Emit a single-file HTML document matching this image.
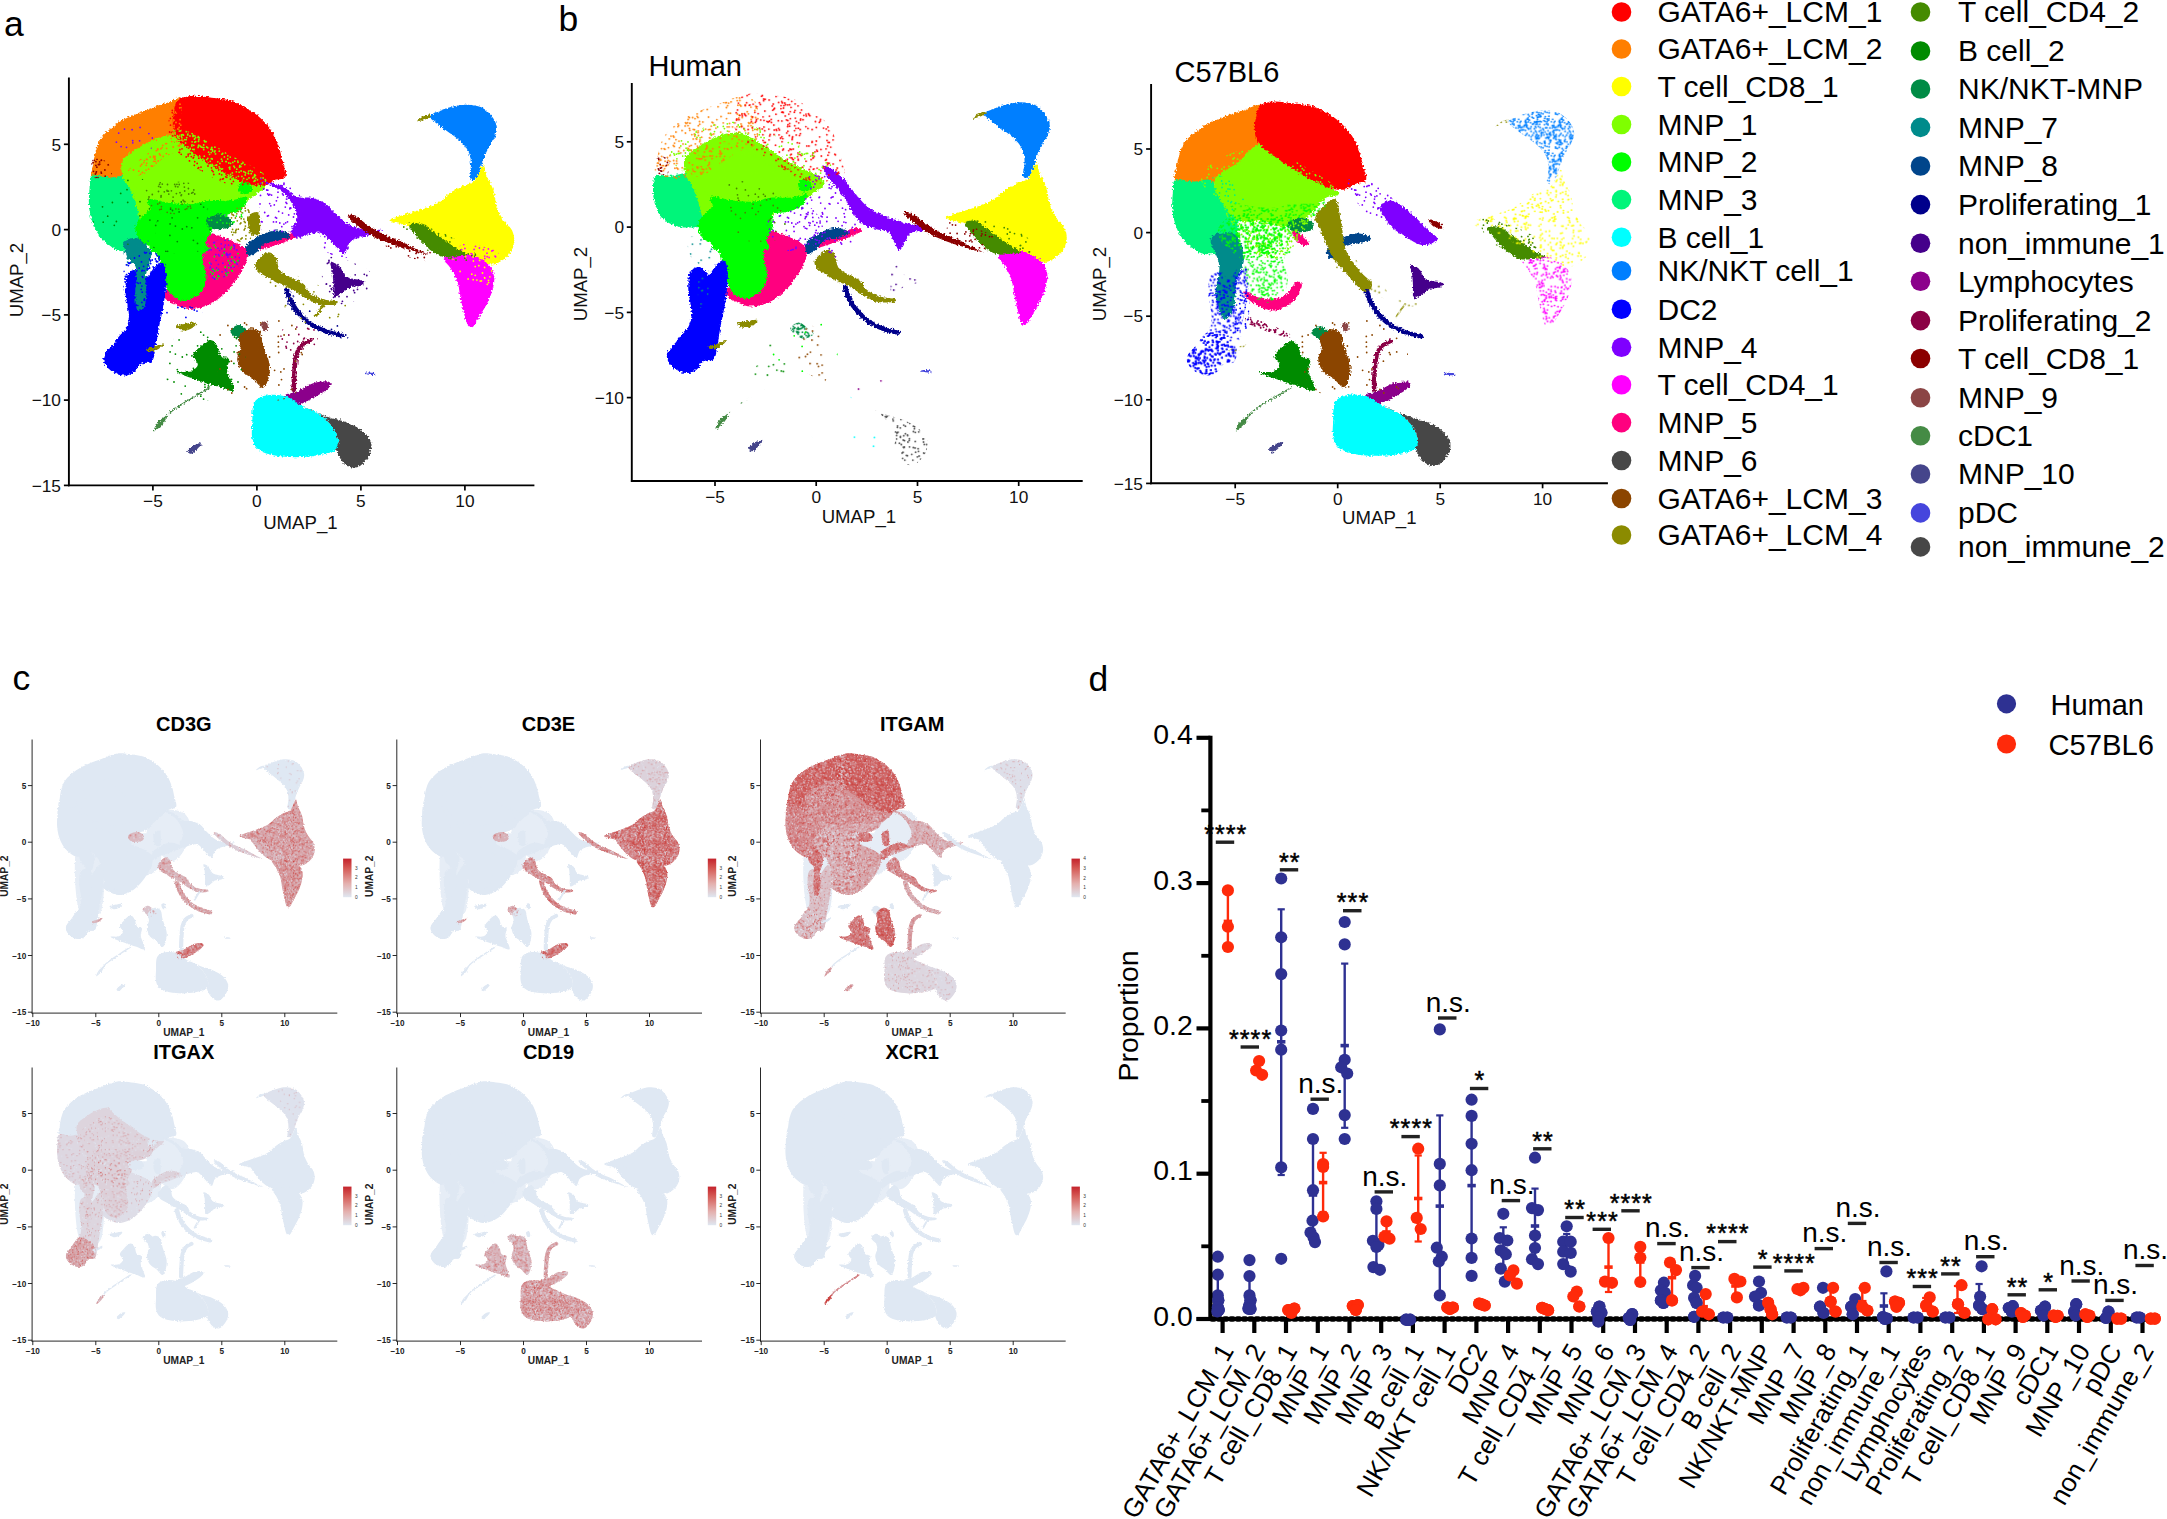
<!DOCTYPE html>
<html><head><meta charset="utf-8"><title>Figure</title>
<style>html,body{margin:0;padding:0;background:#fff}svg{display:block}text{font-family:"Liberation Sans", Arial, Helvetica, sans-serif}</style>
</head><body>
<svg width="2167" height="1519" viewBox="0 0 2167 1519">
<rect width="2167" height="1519" fill="#fff"/>
<defs>
<filter id="rough" x="-2%" y="-2%" width="104%" height="104%"><feTurbulence type="fractalNoise" baseFrequency="0.55" numOctaves="1" seed="3" result="n"/><feDisplacementMap in="SourceGraphic" in2="n" scale="5" xChannelSelector="R" yChannelSelector="G"/></filter>
<filter id="roughc" x="-2%" y="-2%" width="104%" height="104%"><feTurbulence type="fractalNoise" baseFrequency="0.7" numOctaves="1" seed="5" result="n"/><feDisplacementMap in="SourceGraphic" in2="n" scale="3" xChannelSelector="R" yChannelSelector="G"/><feGaussianBlur stdDeviation="0.55"/></filter>
<pattern id="p0" width="44" height="44" patternUnits="userSpaceOnUse"><path d="M10.3 20.5h0M25.6 40.9h0M42.3 40.4h0M19.8 33.7h0M1.6 11.1h0M17.8 29.1h0M38 8.2h0M23.8 39.7h0M6.6 8.6h0M9.3 15.3h0M36.4 17.6h0M23.4 23.9h0M11.9 14.8h0M22.4 14h0M23.7 2.4h0M0 36.4h0M38.9 15.2h0M22.5 9.4h0M28.6 39.1h0M10.5 42.3h0M3 4.6h0M5.4 4.4h0M39.5 21.9h0M35.6 15.9h0M1.5 27.2h0M4.6 42.8h0M27 26.9h0M30.4 32.1h0M22 26.7h0M32.9 1.6h0M43.9 31.4h0M23.2 5.8h0M43.3 41.5h0M0.3 39.9h0M1.3 3.7h0M24.8 32.6h0M9.6 11h0M3.1 6.6h0M6 5.8h0M9.9 35.1h0M30.7 27.6h0M29 9.4h0M16.1 9.8h0M3.3 43.1h0M43.6 36.7h0M43.3 19.2h0M43.1 34.8h0M28.3 8.7h0M17 3.4h0M32.2 39.4h0M35.4 43.6h0M32.8 2h0M40.8 40.2h0M40.5 33.3h0M6.3 29.7h0M29 1.9h0M41.2 38.9h0M34.9 4.3h0M5.6 20.9h0M19.7 9.7h0M27.9 15.6h0M6.9 2.6h0M31.8 26.3h0M36.6 19h0M5.5 2.8h0M18.8 10.2h0M4.4 24.9h0M21.5 31.9h0M40.9 2.1h0M17.2 3.4h0M34.8 42.6h0M31.2 41.7h0M4.4 15.2h0M28.3 24.2h0M1.1 10.3h0M27.7 17.7h0M18.4 0.3h0M2.7 21.5h0M28.2 41.2h0M35.3 26.7h0M37.4 3.8h0M12.3 40.9h0M12.5 43.6h0M17.4 25.1h0M35.2 20.6h0M5.9 29.6h0M25.3 15.2h0M5.4 2.9h0M8.2 15.7h0M21.8 27.5h0M10.6 31.3h0M40.7 32.9h0M11.9 2.1h0M2.5 36.8h0M18.5 7.2h0M21.1 39h0M3.5 12h0M16 12.8h0M41.2 12.4h0M20.9 34.6h0M34.2 0.8h0M18.6 7h0M27.7 13h0M35.8 2.3h0M43.2 16.4h0M0.2 12.1h0M38.5 19.9h0M34.2 29.3h0M34.5 35.3h0M10.3 43.7h0M16.4 39.8h0M42.3 6.9h0M7.8 23.8h0M23.1 29.1h0M22 5.4h0M36.2 27h0M14.1 17.3h0M31.8 15.8h0M18.9 3.9h0M0.9 11.7h0M15.8 13.9h0M7.4 3.2h0M27 3.3h0M28.6 41.7h0M16.7 17.3h0M12.8 30.4h0M41.8 29.8h0M26.6 15.3h0M37 10.7h0M7.7 27h0M8.8 31h0M1.9 22.2h0M14.7 29.2h0M1.5 37.2h0M36.8 33.3h0M14 4h0M28.9 9.8h0M1.7 5.5h0M18.2 23.2h0M39.3 33.4h0M25.1 40.3h0M22.9 31h0M8.6 7.7h0M15.2 26.1h0M18 30.3h0M25.2 43h0M15.9 26.1h0M22.9 7.7h0M41.4 38.8h0M2.8 41.1h0M32.9 33.1h0M17.8 13.3h0M7 14.1h0M34.9 17.4h0M39.5 35.4h0M19.5 35.1h0M36.1 32.5h0M17 4.4h0M43.1 2h0M10.7 5.6h0M10.2 25.1h0M30.4 38.6h0M2.2 29.2h0M33.6 22.3h0M30.1 9.7h0M30.7 15h0M34 5.3h0M30.4 32.6h0M22.4 4.5h0M23.5 29.5h0M35.9 15.4h0M11.7 2.9h0M30 32.1h0M16.1 1.5h0M22.1 15.4h0M35.1 4.7h0M32.6 20.2h0M34.6 43.3h0M18.1 17.5h0M9.9 37h0M14.2 16.5h0M7.7 12.8h0M19.6 5.7h0M39 18.9h0M10.2 7.7h0M19.1 40.2h0M14.6 35.5h0M5.4 8.1h0M16.8 37.2h0M9.2 35.6h0M13.9 34.2h0M21.9 0.4h0M22.8 13.2h0M24.4 14.2h0M44 36.4h0M-0.1 31.4h0M-0.7 41.5h0M44.3 39.9h0M-0.4 36.7h0M-0.7 19.2h0M-0.9 34.8h0M35.4 -0.4h0M18.4 44.3h0M12.5 -0.4h0M34.2 44.8h0M-0.8 16.4h0M44.2 12.1h0M10.3 -0.3h0M34.6 -0.7h0M21.9 44.4h0" stroke="#7FFF00" stroke-width="1.8" stroke-linecap="round" fill="none"/></pattern>
<pattern id="p1" width="63" height="63" patternUnits="userSpaceOnUse"><path d="M25.3 3.6h0M61.8 13.4h0M9.8 32.2h0M46.2 24.1h0M53 30.4h0M52.2 1.3h0M34.4 52.7h0M16.3 9.3h0M36.7 50.8h0M4.2 8.2h0M0.5 7.5h0M3.3 58.4h0M0.5 34.9h0M25 37.6h0M15.4 32.3h0M30.7 55.3h0M55.4 7.7h0M39.6 25.6h0M11 8.2h0M5.9 48.8h0M53.8 58.5h0M17.5 11.2h0M46.5 9.9h0M17.5 29.8h0M50.8 55.2h0M36.1 14.5h0M42 36.7h0M35.5 27.7h0M24.5 16.5h0M40 2.5h0M56.1 2.7h0M10.8 16.4h0M20.3 1.2h0M62.2 28.2h0M27.5 28.9h0M62 1h0M10.9 44.5h0M38.3 8.5h0M42.7 43.5h0M34.7 21h0M23 52h0M49.3 45.1h0M2 50.1h0M26.4 40.6h0M29.7 59.6h0M39 39.2h0M36.8 11.9h0M41.4 53.1h0M2.2 60.4h0M17.6 5.9h0M38.7 39.5h0M16.5 31h0M41.5 32.1h0M37.8 51.3h0M4.6 31.3h0M26.8 41.8h0M41.8 43.9h0M9.7 41.6h0M38.9 45.8h0M15.1 15.2h0M17.9 29.5h0M35.6 7.9h0M62.2 29.9h0M22.4 8h0M24.3 3.4h0M59.3 53.2h0M18.1 3.9h0M31.1 25.1h0M52 31h0M5.7 35.7h0M9.1 0.6h0M35.7 56.8h0M55.2 28.3h0M53.6 10.8h0M8.2 37.4h0M32.3 25h0M4.2 15.2h0M15.7 24.5h0M15.7 26.4h0M19.6 37.7h0M40.8 38.9h0M24.7 10.2h0M20.7 37h0M61.7 5.1h0M12 48h0M43.5 6h0M22.5 41.8h0M52.6 30h0M58.8 57.7h0M21 58.9h0M53 26.3h0M17.9 0.4h0M13.3 17.9h0M34.7 22.6h0M8.3 4h0M14.4 9.4h0M12 41.1h0M41.2 15.6h0M29.3 2.8h0M17.8 36.4h0M13.2 47.9h0M40.9 10h0M32.8 24.2h0M8 52.4h0M58.5 1.9h0M8.9 6.2h0M48.4 10.1h0M45.4 6.4h0M5.3 39.3h0M57.3 55.5h0M39.6 15h0M19 40h0M37.1 38.6h0M3.7 60.1h0M40 6.2h0M30.4 47.9h0M14.3 2.8h0M0.2 54.3h0M14.1 3h0M12.8 52.6h0M60.3 42.3h0M38.6 1.9h0M8.3 18.1h0M45.5 30.9h0M51.1 49.2h0M30.7 24.5h0M28.8 33.4h0M31.2 60.2h0M18.1 36.1h0M8.4 18.3h0M19.2 30.2h0M53.5 26.5h0M16.5 27.3h0M53.9 23.7h0M37.9 10.3h0M20.6 25.1h0M19.5 56.2h0M32.7 48.8h0M33.5 53.1h0M58.7 41h0M53.7 47.2h0M29.3 25.8h0M35.3 26.1h0M51.8 4.2h0M32.5 14.3h0M39.3 42.7h0M42.9 29.8h0M58.1 7h0M2.3 30.6h0M62.5 56.9h0M4.2 32h0M18.2 28.1h0M23 44.4h0M12.5 52.4h0M35.9 40.3h0M27.6 11.4h0M1.1 27.7h0M28.6 29.9h0M24.1 45.7h0M44.4 55.4h0M15.2 32.1h0M42.5 18.9h0M1.9 24.8h0M12.3 48.7h0M34.8 7.9h0M46.3 47.4h0M31.4 53.4h0M14.4 51.3h0M60.2 30.9h0M25.7 8.1h0M31.8 40.7h0M44.5 62.2h0M25.7 56.6h0M38.1 49.3h0M39.5 37.3h0M42.7 57.7h0M47.5 16.2h0M24.8 48.5h0M26.8 60.4h0M55 41.6h0M15.4 61.7h0M22.4 10.9h0M46.2 49.6h0M34.3 58.3h0M31.8 19.1h0M9.8 15.1h0M25.1 35h0M9.3 29.7h0M33.6 0.4h0M62.8 13.6h0M43.4 14.9h0M8.9 42.5h0M61.5 16.5h0M13.2 44.8h0M56 22.8h0M10.6 4.7h0M5.3 29.3h0M25.6 37.9h0M63.5 7.5h0M63.5 34.9h0M-0.8 28.2h0M-0.8 29.9h0M9.1 63.6h0M17.9 63.4h0M63.2 54.3h0M-0.5 56.9h0M44.5 -0.8h0M33.6 63.4h0M-0.2 13.6h0" stroke="#FF0000" stroke-width="1.8" stroke-linecap="round" fill="none"/></pattern>
<pattern id="p2" width="53" height="53" patternUnits="userSpaceOnUse"><path d="M24.2 45.6h0M37.5 32.8h0M30.5 22.2h0M0.7 23.3h0M40.7 41.3h0M47.7 2.3h0M20.9 3.9h0M9.8 3.7h0M27.8 35.2h0M3.4 3.5h0M0.3 3.6h0M35.7 5.4h0M51.8 43.8h0M0.4 19h0M35.1 42.9h0M35.5 21h0M44.2 51h0M39.9 28.1h0M36 18.9h0M29.3 44.9h0M45.3 36.9h0M11.9 7.4h0M47.1 22.9h0M30.3 0.4h0M19.3 39.7h0M40.7 4.2h0M0.1 28.4h0M33.5 0.7h0M22.2 7.3h0M14.3 18.6h0M5.1 33.8h0M42.6 10.1h0M3.1 41.6h0M10.4 14.8h0M1.9 42.8h0M20.6 16.8h0M47.6 50.2h0M23.1 17h0M49.1 50.3h0M16.4 30.6h0M42 31.3h0M48.6 0.1h0M43 18.1h0M51.6 23.1h0M33.1 40.2h0M34.4 45.8h0M30.7 47.7h0M37 35.9h0M21.4 24.5h0M1.3 49.2h0M41.8 35.2h0M35.2 42.5h0M10 30.8h0M48.9 51.8h0M22.3 38.3h0M5.3 24.1h0M23.7 9.2h0M47.5 51.3h0M7.6 37.6h0M6.1 12.5h0M2.8 0.6h0M19 21.2h0M30.4 41.5h0M2 21.5h0M45.4 7h0M49.8 39.6h0M3 0.8h0M33.4 41.8h0M16.3 4.6h0M35.9 5.3h0M46.6 16.5h0M27.1 51.8h0M11.6 16.6h0M27.5 11h0M7.4 47.6h0M44.6 42.9h0M14.2 47.9h0M1.6 1.7h0M27.2 29.1h0M37.7 42.9h0M52.1 2h0M36.9 19.8h0M17.2 29.5h0M44 28.8h0M50.9 33.4h0M48.2 27h0M0.9 19.4h0M20.9 38.2h0M46 24.6h0M24.2 32.6h0M39.2 37.3h0M7.7 8h0M36.3 13.7h0M21.2 52.6h0M2.9 6.8h0M13.2 8h0M42 47.5h0M42.7 35.4h0M5 0.1h0M30.5 35.7h0M32.5 41.8h0M26.3 29.2h0M48.4 7.1h0M3 9.6h0M33.1 45.9h0M7.1 11.8h0M7.6 42.4h0M17.7 35.4h0M16.7 16.5h0M19.1 15.1h0M6.9 18.3h0M36.3 31h0M51.3 37.5h0M36.5 18.4h0M33.5 17h0M20.5 39.9h0M51.7 13.4h0M21.3 28.3h0M23.5 34.5h0M29.4 48.7h0M50.4 4.2h0M28.7 46.6h0M51.3 5.8h0M13.5 50.7h0M3.9 7.5h0M52.1 43.1h0M10.8 28.9h0M1 34h0M38.2 46.6h0M9 10.2h0M43.9 33.6h0M12.3 15.4h0M35.7 35.2h0M49.9 6.7h0M4.1 22.4h0M46.4 17.3h0M8.9 12.2h0M40.1 11.1h0M36.5 13.5h0M20.4 16.8h0M12.2 32.3h0M7 5.3h0M5.8 25.5h0M25.4 43.6h0M6.4 37.6h0M50.3 14h0M23.9 30.3h0M41.1 0.5h0M46.4 7.2h0M0.4 17.8h0M40 34.4h0M32.4 17.4h0M31.9 43.2h0M39.5 20.3h0M31.3 29.2h0M15 18h0M12.7 35.6h0M4.2 50.4h0M9.9 48.8h0M37.8 3.6h0M0.8 5.3h0M23.9 34.9h0M34.7 0.3h0M22.6 11h0M16.3 14.7h0M45.5 22.5h0M49.2 2.4h0M50.3 44.7h0M21.3 1.8h0M41.2 17.3h0M51 25.8h0M14.2 41h0M34.5 15.4h0M15.8 18.8h0M51.6 43h0M49.1 0.2h0M30.9 21.8h0M16.3 16.9h0M32.5 38h0M48.5 14.1h0M20.7 52.1h0M3.7 39.4h0M48.8 0.1h0M34.5 6.9h0M40.5 0.1h0M34.9 44h0M40.2 6.3h0M32.8 12.2h0M33.9 40.6h0M38.6 45.1h0M5.4 28.7h0M0.5 47.9h0M51.4 26.1h0M9.9 10.6h0M38.4 1.6h0M38.7 14.3h0M43.1 34.7h0M53.7 23.3h0M53.3 3.6h0M53.4 19h0M30.3 53.4h0M53.1 28.4h0M33.5 53.7h0M48.6 53.1h0M2.8 53.6h0M3 53.8h0M21.2 -0.4h0M5 53.1h0M-0.9 43.1h0M41.1 53.5h0M53.4 17.8h0M53.8 5.3h0M34.7 53.3h0M49.1 53.2h0M20.7 -0.9h0M48.8 53.1h0M40.5 53.1h0M53.5 47.9h0" stroke="#FF7F00" stroke-width="1.8" stroke-linecap="round" fill="none"/></pattern>
<pattern id="p3" width="57" height="57" patternUnits="userSpaceOnUse"><path d="M29.1 29.3h0M39.4 45.6h0M52.3 56.6h0M38.6 35.8h0M48.3 14.3h0M25.6 40.3h0M15.2 18.5h0M3.3 48.8h0M34.1 17.3h0M34.9 53.3h0M1.6 38h0M1.5 25.6h0M16 36.5h0M29.6 7.4h0M51.3 31.6h0M36.9 16.9h0M42.5 48.1h0M29.9 2.2h0M7.5 53.4h0M53.6 15h0M21.4 36.4h0M18.2 13.4h0M17.4 51.2h0M28.3 17.2h0M15.6 39.9h0M25.4 33.2h0M37.1 40.9h0M0.4 2.7h0M30.6 44.1h0M51.6 50.5h0M36.8 45h0M34 11.7h0M51 29.7h0M25.6 18.5h0M5.1 30.3h0M22.8 48.8h0M46.6 5.4h0M40.7 22.1h0M54.5 52h0M32.9 29.5h0M16.6 24.4h0M32.6 3.5h0M42 9.8h0M16.5 3.4h0M49.8 16.6h0M4 18.3h0M49.2 32.9h0M27.5 50h0M25.3 39.7h0M46.1 2.8h0M17.3 5.9h0M23.5 34.2h0M4.2 37.5h0M0.7 45.9h0M18 17.9h0M28.1 50.2h0M21.9 11.7h0M49 45.8h0M2.9 16.7h0M2 40.9h0M33.6 14.7h0M26 27.2h0M37.5 46.8h0M14.3 13.2h0M4.2 55.8h0M40.1 29.9h0M19.7 28.8h0M21 38.6h0M13.6 51.6h0M35.5 38.3h0M0.7 29.6h0M14.6 1.1h0M54.4 42.4h0M36.6 7.8h0M30 19.7h0M33.2 9.5h0M42.9 50.8h0M18 11.1h0M35.5 2.8h0M17.7 30.1h0M19.3 40.2h0M11.9 53.8h0M17.3 10.6h0M20 54.9h0M43.4 40.1h0M13.3 33.7h0M37.6 26.7h0M15.7 39.5h0M37.8 22h0M11.8 45.2h0M7.3 24.4h0M17.3 0.1h0M19.6 51.6h0M0.7 22.2h0M41.3 45.8h0M45.2 15.2h0M48.2 4.5h0M0.5 45.1h0M52.3 50.2h0M1.3 5.5h0M53.7 23.8h0M50.5 43.3h0M34.4 30.7h0M44 15.5h0M14.1 15.8h0M48.8 3.6h0M30 46.4h0M21.8 18.5h0M10.1 9.4h0M33.1 23.1h0M36 50.9h0M54.9 7.3h0M34.6 51.9h0M0.9 9h0M25.2 28.2h0M12.9 56.7h0M40.3 11.2h0M0.4 13h0M37.4 17.2h0M17.4 27.4h0M18 42.5h0M24.1 31.2h0M42.2 5.6h0M14.3 23.4h0M38.5 45h0M20.5 4h0M32.2 46.7h0M44.9 26.3h0M32.1 52.1h0M15.7 0.5h0M5.3 30.2h0M19.7 38.2h0M28.7 38.7h0M45.8 15.9h0M36.9 39.6h0M29.1 13.9h0M32.5 3.1h0M42 17.5h0M0.3 8.8h0M44.9 50.7h0M31.2 28.3h0M31.9 0.6h0M20 26.6h0M19.1 32.9h0M38.2 19.5h0M0.6 45.1h0M13 3.4h0M47.6 54.7h0M43.4 41.1h0M23.1 55h0M31.8 22.3h0M20 2.4h0M0.5 18.6h0M20.1 52.9h0M10.6 14.1h0M51.9 46.4h0M12.4 14.6h0M45.6 43.2h0M34.2 3.4h0M48.9 4.4h0M4 27.1h0M7.5 51.9h0M32.2 0.7h0M22.6 41.8h0M12.7 23.7h0M47.8 49.6h0M26.5 28.3h0M39.7 33.7h0M20.9 1.4h0M17.3 3.4h0M3.8 4.7h0M34.8 7.6h0M6.7 43.9h0M52.3 53.8h0M46 17.9h0M24.1 19.7h0M6.7 38.8h0M44.7 52.6h0M50.8 48.4h0M24.7 7.3h0M29.9 28.2h0M51.7 37.3h0M3.6 0.6h0M19.9 30.3h0M1.1 10.3h0M46.3 55.2h0M32.2 44.1h0M18.5 37.3h0M15.7 19.1h0M32.8 10.6h0M22.7 31.1h0M23.8 41.9h0M24.5 9.2h0M41.8 16.7h0M36.9 15.4h0M52.3 -0.4h0M57.4 2.7h0M57.7 45.9h0M57.7 29.6h0M17.3 57.1h0M57.7 22.2h0M57.5 45.1h0M57.9 9h0M12.9 -0.3h0M57.4 13h0M15.7 57.5h0M57.3 8.8h0M31.9 57.6h0M57.6 45.1h0M57.5 18.6h0M32.2 57.7h0M3.6 57.6h0" stroke="#7FFF00" stroke-width="1.8" stroke-linecap="round" fill="none"/></pattern>
<pattern id="p4" width="50" height="50" patternUnits="userSpaceOnUse"><path d="M1.1 4.3h0M32.4 38.5h0M45.9 40.9h0M7.9 25.7h0M45.7 14.2h0M2.6 25.4h0M22.7 44.4h0M25.3 12.1h0M39.7 46.2h0M25.4 44.2h0M19 39.2h0M29.7 7.8h0M16.5 17.5h0M10.7 41.2h0M30.1 19.7h0M32.4 31.1h0M4.3 18.3h0M33.8 12.9h0M5.2 43.9h0M24 20.2h0M49.5 30.2h0M3.2 0.6h0M3.1 35h0M33.7 32.3h0M22.9 21.4h0M22.5 8.3h0M22.2 44.9h0M16 44h0M17.4 13.7h0M7.1 28.2h0M15.3 43.6h0M27.8 44.2h0M14.7 11.8h0M4.9 46.8h0M24 27.5h0M18.4 9.3h0M24 0.6h0M49.5 37.4h0M10.2 2.8h0M41.2 25.1h0M42.8 37.5h0M25.6 46.9h0M39.3 10.2h0M45.4 4.5h0M35.9 2.9h0M34.2 39.7h0M14.6 11.1h0M45.1 34.6h0M29.9 42.6h0M12.4 31.4h0M31.7 30.3h0M29.5 38.8h0M18.5 12.9h0M42.3 23.2h0M35.5 33.5h0M2.5 8.1h0M12 18.4h0M3.2 38.5h0M1.8 26.9h0M39.3 8.3h0M36.1 21h0M33.1 18.6h0M37 26.9h0M0.8 13h0M5.4 48h0M14 6.3h0M19.9 0.2h0M21.8 27.4h0M33.2 21.7h0M14.4 38.4h0M40.3 15.1h0M19.4 47.3h0M15.8 0.8h0M43.6 14.2h0M31.3 7.6h0M19.3 42.8h0M49.7 46.9h0M44 4.6h0M13.9 38.2h0M47.2 41.2h0M10 34.8h0M37.3 32.7h0M5.3 35.7h0M5.7 5h0M3 10.5h0M42.7 27.8h0M33.6 43.9h0M15 40.1h0M33.6 32.3h0M7.9 10.2h0M32.6 30.8h0M21.1 38.8h0M29.5 35.3h0M49.6 27.6h0M16.2 31.7h0M49.5 47.9h0M0.9 44.3h0M3.1 30.4h0M49.8 47.4h0M47.7 26.9h0M12.5 5.3h0M5.8 39.6h0M12.7 39.6h0M1.7 37.8h0M24.9 37h0M45.8 0.5h0M34.5 25.5h0M8.1 29.4h0M18.2 19.2h0M7.5 24.7h0M43.1 47.3h0M32.2 44.5h0M29.2 27.4h0M23.8 2.7h0M19 15.8h0M29.5 23.6h0M49.6 47.4h0M22.9 16.1h0M8.6 28.7h0M41.9 38h0M17.3 32.8h0M14 39.1h0M7.5 12.6h0M17.3 6.7h0M9.2 49.4h0M40.8 48.2h0M3.8 21.5h0M45.3 36h0M38 7.1h0M40.6 4.1h0M32.2 10.1h0M13 17.5h0M35.3 31.4h0M12.9 11h0M7.4 25.3h0M40.8 30h0M8.7 30.7h0M19.1 15.8h0M7.1 25.2h0M16.7 0.7h0M6.6 9.8h0M26 22.5h0M18.8 24.6h0M18.8 2.6h0M45.4 42h0M35.2 2.9h0M22.6 21.3h0M40.7 26.7h0M2 8.5h0M30.9 25.2h0M49.3 0.9h0M1.8 27.9h0M45.9 14.4h0M24.2 33h0M32.7 13.3h0M19.9 47.5h0M1.5 21.3h0M17.8 9.8h0M40.4 23.1h0M16.7 20.2h0M29.4 47.6h0M18.6 7.4h0M35.8 21.3h0M26.2 46.2h0M39.3 9.7h0M33.8 40.7h0M12.7 32.6h0M45.6 24.1h0M7.1 2h0M48 25.1h0M18.9 19.5h0M26.3 12.9h0M27.6 49.8h0M21.2 6.6h0M2.6 46.2h0M18.2 33.9h0M7.5 45h0M17.9 0.9h0M49.2 33.7h0M30 4.2h0M20.7 14.2h0M42.9 6.7h0M7.9 39.5h0M27.9 29h0M32.4 38h0M4.4 42.1h0M17.3 42.7h0M5.5 39.4h0M24.1 25.5h0M0 27.6h0M47.3 29.5h0M21.9 22.7h0M17.8 15.5h0M17.5 8.1h0M15.8 0.7h0M21.1 11.7h0M20.5 9h0M4.8 32.1h0M12.9 1.8h0M2.8 21.7h0M-0.5 30.2h0M3.2 50.6h0M24 50.6h0M-0.5 37.4h0M50.8 13h0M19.9 50.2h0M15.8 50.8h0M-0.3 46.9h0M-0.4 27.6h0M-0.5 47.9h0M50.9 44.3h0M-0.2 47.4h0M45.8 50.5h0M-0.4 47.4h0M9.2 -0.6h0M16.7 50.7h0M-0.7 0.9h0M-0.7 50.9h0M49.3 50.9h0M27.6 -0.2h0M-0.8 33.7h0M50 27.6h0M15.8 50.7h0" stroke="#FF7F00" stroke-width="1.8" stroke-linecap="round" fill="none"/></pattern>
<pattern id="p5" width="64" height="64" patternUnits="userSpaceOnUse"><path d="M52.4 14.2h0M47.9 48.7h0M57.1 18.6h0M62.5 19.3h0M23.6 20.4h0M4.8 14.8h0M36.5 60h0M12.1 63.5h0M45.9 32.9h0M9.6 49.2h0M24.4 10h0M13.6 48.3h0M4.1 1.7h0M0.2 50.2h0M29.8 19.1h0M11.6 12.8h0M38.4 38.9h0M2.2 41h0M48.9 32.5h0M60.5 1.1h0M10.4 58.1h0M4.7 12.7h0M44.3 52h0M37.5 16.2h0M63.4 44.9h0M2.5 37h0M43.2 47.6h0M11.9 49h0M32.7 52.6h0M38.3 48h0M5.5 40.7h0M54.7 5.1h0M20.9 5.6h0M12.1 -0.5h0M64.2 50.2h0M-0.6 44.9h0" stroke="#7F00FF" stroke-width="1.8" stroke-linecap="round" fill="none"/></pattern>
<pattern id="p6" width="57" height="57" patternUnits="userSpaceOnUse"><path d="M33.9 23.7h0M46.4 18.6h0M11 25.7h0M28 50.9h0M3.9 12.8h0M20.1 32.6h0M5.3 6.5h0M55 30.6h0M37.3 15.8h0M20.5 32.4h0M42.9 31.7h0M34 22.9h0M17.3 8.2h0M11.3 43.2h0M11 51.4h0M46 26.6h0M38.1 26.7h0M57 7h0M26.3 11.4h0M8.2 26.1h0M55.8 21.2h0M44.2 31.7h0M26.7 56.7h0M46.1 8.6h0M48.9 16h0M6.6 25.9h0M39.2 6.7h0M32.4 21.5h0M42.7 50.2h0M52.2 8.1h0M5.1 44.4h0M36.1 48.7h0M54.6 35.5h0M20.7 45.3h0M45 32.5h0M3.8 43.4h0M38.9 47.7h0M21.2 33.6h0M52.5 35.2h0M35.9 34.9h0M44.5 17.5h0M21.7 3.2h0M51.8 50.5h0M27.5 35h0M33.7 35.2h0M54.6 5.3h0M38.4 3h0M55.3 4.4h0M34.5 49.8h0M6.6 25.3h0M56.5 16.4h0M56.4 46.7h0M8.3 9.5h0M44.1 1.1h0M54.8 43.4h0M43.3 32.8h0M39.1 1.8h0M0.3 15h0M1.7 32.7h0M31.2 51.2h0M22.7 35.5h0M14.7 33.4h0M10.7 10.5h0M54.3 17.6h0M29.5 34.5h0M53.7 37h0M32.7 36.5h0M26.2 1.2h0M37.5 19.3h0M37.9 25.3h0M10.8 55.5h0M28.4 5.4h0M48.2 5.2h0M41 6.7h0M2.4 16h0M55.7 7.5h0M29.8 38.7h0M54.8 2.8h0M7.8 45.8h0M10.4 23.3h0M49.8 32.8h0M10.4 11.8h0M37.6 7.6h0M48 44.4h0M44.5 45.9h0M30.9 22.7h0M33 30.3h0M36.4 36.4h0M0.8 34h0M38.9 51.4h0M3.9 51.7h0M53.4 6.4h0M24.4 32.4h0M27 44.3h0M44.2 31.4h0M9.1 47h0M44.4 26h0M37.8 7.3h0M42.6 47.9h0M4.2 18.1h0M43.9 11.1h0M7.6 1h0M11.3 44.6h0M53.8 40.2h0M31.3 3.3h0M40 45.3h0M32.6 3.2h0M3.9 7.7h0M43.1 43.2h0M34.2 13h0M3.9 41.5h0M38.7 39.5h0M24.3 45.3h0M6.2 47.8h0M41.4 50.5h0M32.7 35.8h0M55.4 6.4h0M50 13.4h0M42 29.8h0M29.1 49.6h0M44.2 46.3h0M50.7 36.7h0M14.6 10.6h0M20.9 14.9h0M17.9 4.8h0M20 16.1h0M1.8 47.9h0M43.6 11.3h0M9.9 30.7h0M47.5 46.4h0M25.9 20.9h0M22.1 40.9h0M42.1 50.7h0M51.1 50.8h0M13.9 9.4h0M56.3 13.4h0M52.3 7.8h0M44.3 11.8h0M36.5 0.3h0M36.9 17h0M39.4 0.8h0M37.2 46.3h0M14.9 1.2h0M10.4 41.5h0M56.2 6.5h0M8.3 30h0M38.3 40.1h0M3.2 39.9h0M39.9 53.2h0M35 46.4h0M15.6 20.3h0M10.8 19.6h0M28 52.5h0M11.4 17.5h0M54.7 19.4h0M29.1 27.5h0M7.6 55.1h0M45.3 41.2h0M10.2 15.6h0M44.4 2.2h0M4.4 18.8h0M9.1 48.8h0M18.9 53.6h0M47.5 28.4h0M56 36.7h0M48.3 24.6h0M25 10.1h0M16.6 10.5h0M23.4 51.8h0M3.7 4.5h0M21.4 9.7h0M21.2 1.5h0M1.4 52.9h0M16.6 51.4h0M47.9 56h0M33.6 0.5h0M48.5 22.2h0M11.3 36.5h0M44.2 35.5h0M15.8 19.5h0M48 29.9h0M33.4 6.7h0M10.2 45.9h0M32.5 50.5h0M16.8 50.4h0M51.3 30.3h0M0.6 33.7h0M12.6 47.2h0M13 28.7h0M2.4 33.4h0M7.6 50h0M50.3 44.1h0M43.2 22.3h0M56.2 52.2h0M15 23.3h0M-0 7h0M26.7 -0.3h0M-0.5 16.4h0M-0.6 46.7h0M57.3 15h0M57.8 34h0M-0.7 13.4h0M36.5 57.3h0M39.4 57.8h0M-0.8 6.5h0M33.6 57.5h0M57.6 33.7h0M-0.8 52.2h0" stroke="#8B0000" stroke-width="1.8" stroke-linecap="round" fill="none"/></pattern>
<pattern id="p7" width="64" height="64" patternUnits="userSpaceOnUse"><path d="M45.1 5.1h0M48.1 48.1h0M56.6 46.4h0M43.4 62.8h0M17.5 55.2h0M26 40.7h0M40.8 2.1h0M33.4 14.7h0M50.8 33.6h0M56.9 9.7h0M42.9 45.7h0M1 0.3h0M44.8 9h0M62.8 16.1h0M42.6 15.9h0M15.6 15.9h0M33.1 3.7h0M58 42.6h0M30.6 51.4h0M7.5 33.2h0M0.6 9.4h0M31.7 10.9h0M21 5h0M27.7 31.9h0M57.2 17.3h0M24.1 40.4h0M60.7 2h0M7.7 37.9h0M20.8 32.2h0M46.1 21.7h0M20.6 7.2h0M12.5 46.2h0M21.8 42.7h0M11.9 58.3h0M51.8 43.4h0M20.4 18.3h0M18.1 11.1h0M18.7 55.6h0M18.6 62.6h0M56.1 9.5h0M58.8 16.7h0M49.9 58.8h0M21.7 43.6h0M15.1 21.9h0M43.4 44.3h0M31.9 41.5h0M24.3 2.5h0M34.3 56.1h0M55.8 55.3h0M12.1 10.8h0M35.1 37.8h0M39.7 50.3h0M50.5 53.7h0M8.9 59.1h0M18.9 41.7h0M55.1 8.2h0M33 5h0M7.3 33.4h0M32.2 35.4h0M17 50.8h0M63.5 27.4h0M53.5 2.8h0M17.9 18.4h0M17.6 49.7h0M42.4 40.5h0M15.7 58.9h0M39 62.4h0M35.9 48.5h0M42.7 40.3h0M21.2 46h0M29.1 39.6h0M23 35.4h0M47.5 58.5h0M30.6 58.3h0M3.1 35.1h0M25 38.8h0M53.1 3.5h0M44.3 28.9h0M51.6 52.6h0M30.5 63.5h0M51 37.3h0M8.4 22.8h0M46.7 56.4h0M39.2 20.3h0M31.7 17.6h0M31.5 56.3h0M9.6 41.3h0M32.5 59.2h0M48.9 56.3h0M0.4 27.9h0M54.1 12.2h0M38.7 32.9h0M40.4 63.2h0M59.7 46.5h0M2.7 2h0M40.6 42.1h0M36.3 63.9h0M9 44.2h0M17.9 41h0M20.5 22.5h0M29.5 23.9h0M29.8 12h0M39.5 56.5h0M56.7 63h0M32.1 22.1h0M60 14.7h0M62.3 14.1h0M33.7 38.4h0M31.6 26.7h0M39.2 63.1h0M51.2 56.5h0M24.8 40.3h0M39 50.4h0M58.7 28.8h0M42.7 21.5h0M14.2 38.4h0M23.5 13.6h0M63.7 1.2h0M34.7 43.9h0M8.8 23.7h0M60.4 60.5h0M62.4 29.2h0M52 0.7h0M54.3 32.7h0M33.3 17.1h0M47.9 16.9h0M38.9 38.8h0M32.2 54.6h0M9.1 58.7h0M2.6 23.5h0M1.8 61.9h0M29.5 53h0M6.7 53.4h0M50.7 17.2h0M51.9 36h0M33.3 17.2h0M51.9 40.8h0M48.4 1.6h0M10.3 13.6h0M15.5 0.2h0M56.4 59.1h0M22.3 39.8h0M60.4 55h0M1 64.3h0M64.6 9.4h0M-0.5 27.4h0M30.5 -0.5h0M64.4 27.9h0M40.4 -0.8h0M36.3 -0.1h0M39.2 -0.9h0M-0.3 1.2h0M52 64.7h0M15.5 64.2h0" stroke="#458B00" stroke-width="1.8" stroke-linecap="round" fill="none"/></pattern>
<pattern id="p8" width="64" height="64" patternUnits="userSpaceOnUse"><path d="M11.9 23.8h0M29 30h0M28.4 41.5h0M43.7 24.2h0M39.2 30.2h0M48.4 10.5h0M21.5 16.8h0M63 61.7h0M56.7 1.4h0M12 9.7h0M38.5 14.8h0M63.7 10.4h0M52.4 29.5h0M14.7 51.2h0M50.3 33.3h0M63.9 52.4h0M-0.3 10.4h0M-0.1 52.4h0" stroke="#008B00" stroke-width="1.8" stroke-linecap="round" fill="none"/></pattern>
<pattern id="p9" width="64" height="64" patternUnits="userSpaceOnUse"><path d="M44.5 18.5h0M8.8 12.2h0M58.7 34.7h0M11.6 15.1h0M1.4 48.3h0M15.7 17.3h0M53.3 9.9h0M54.3 37h0M13 3.2h0M25.8 55.7h0M49.3 49.6h0M41.9 43.4h0M29.8 28.8h0M15.4 56.3h0M44.1 25.8h0M46 62h0M57.2 2.1h0M42.6 17.2h0M47.4 34.1h0M16.4 1.9h0M63.8 35.8h0M42.1 31.9h0M36.4 63.3h0M5.5 51.4h0M12.9 0.5h0M39.6 59.3h0M37.8 59.3h0M21.9 28.1h0M18.1 37.6h0M5.6 25.8h0M27.7 33.4h0M51.1 19.9h0M5.8 59.6h0M-0.2 35.8h0M36.4 -0.7h0M12.9 64.5h0" stroke="#008B00" stroke-width="1.8" stroke-linecap="round" fill="none"/></pattern>
<pattern id="p10" width="64" height="64" patternUnits="userSpaceOnUse"><path d="M2.4 15.4h0M55.3 25.3h0M58.8 62.2h0M49.1 51.1h0M18.4 38.5h0M55.9 44.8h0M27.9 56.4h0M5.4 29.6h0M44.8 25.4h0M63.5 52h0M24.2 57.7h0M20.4 8.8h0M32.3 62.9h0M30.5 7.1h0M37.3 47.2h0M27.3 3h0M37.5 25h0M54.4 44.5h0M36.1 1.8h0M63.4 6.8h0M5.1 38.4h0M21.1 43.8h0M34.2 60.3h0M15.6 3.1h0M54.6 14.5h0M20.2 58.6h0M63.7 28.3h0M58.1 57.7h0M23.8 31h0M4.6 55.5h0M49.1 22.1h0M11.8 62.2h0M50.2 14.1h0M40.4 51.8h0M36 34.6h0M1.6 37.1h0M20.6 26.1h0M61.7 17.3h0M26.5 21.1h0M22.7 19.4h0M54.4 34.2h0M49.3 6.6h0M13.7 11.6h0M61.8 20h0M5.2 50.9h0M32.7 22.9h0M25.8 34.7h0M12.4 23.7h0M29.7 30.8h0M45 29.4h0M55.7 17h0M0.4 29.6h0M55.1 60.8h0M60 19.1h0M56.6 21.3h0M59.5 10.3h0M43.7 16.2h0M50 57.5h0M26.1 39.4h0M18.3 12.9h0M20.3 29.9h0M4 11.9h0M13.8 2.4h0M53 21.4h0M51.8 23.4h0M14.8 13.8h0M62.4 33h0M31 48.2h0M36.9 52.3h0M59.1 63.6h0M11.4 24.1h0M57.8 39.6h0M46 44.1h0M22 0.2h0M8.7 20.5h0M56.4 47.4h0M26.5 1.8h0M30.8 11.4h0M4.5 3.4h0M12.7 3.2h0M45.3 18.9h0M52.1 30.9h0M7.7 61h0M10.7 62h0M32.9 3.9h0M21.7 5.3h0M32.3 46.3h0M42.2 31.1h0M17.5 29.9h0M30.9 4.7h0M46.5 42.9h0M48.7 51h0M0.2 44.1h0M48.5 16.2h0M27.9 32.1h0M47 6h0M58.3 55.2h0M31.5 29.8h0M48.2 38.3h0M34.1 16h0M2.1 40.4h0M52.6 0.4h0M46 54.9h0M19.5 25.4h0M30 10.5h0M45 53.3h0M43.7 3.5h0M6.1 29.9h0M53 11.7h0M28 55.2h0M47.6 56.8h0M41.3 6.6h0M42.6 59.5h0M11.7 1.9h0M34.9 16.1h0M50.7 34.7h0M29.3 15.1h0M25.2 57.6h0M51 25.7h0M33.8 16.8h0M22.8 58.4h0M4.7 44.7h0M38.4 21.8h0M-0.5 52h0M-0.6 6.8h0M-0.3 28.3h0M64.4 29.6h0M59.1 -0.4h0M22 64.2h0M64.2 44.1h0M52.6 64.4h0" stroke="#7F00FF" stroke-width="1.8" stroke-linecap="round" fill="none"/></pattern>
<pattern id="p11" width="53" height="53" patternUnits="userSpaceOnUse"><path d="M39.1 10.1h0M15.2 34h0M1.6 38h0M3.9 36.6h0M12.9 42.5h0M5 19.6h0M10.8 51.8h0M45.3 37.2h0M27.7 29.4h0M40.6 41.3h0M8.3 45.6h0M37.9 16.3h0M9.8 49.9h0M23.5 33.8h0M23.4 6h0M51.6 29.1h0M44.5 44h0M7.4 6.4h0M44.7 42.9h0M3.1 42.3h0M30.1 26h0M31.4 34.2h0M49.6 40.6h0M39.6 21.5h0M0.9 44h0M4.5 16h0M37.4 20.5h0M4.3 10.4h0M44.6 2.7h0M28.6 52.4h0M41.7 29.4h0M12.2 12.6h0M36.9 8.3h0M16.3 25.4h0M10.4 21.1h0M45.8 14.2h0M13 8.5h0M8.3 17h0M25.3 49.2h0M8.1 49h0M2.1 44.2h0M51.7 51.5h0M19.5 5.8h0M17.4 13.2h0M24.3 38.2h0M34.5 43.6h0M21.6 3.4h0M6 32.9h0M39.9 21.5h0M7.4 6.4h0M19.5 0.9h0M20.3 46h0M19.6 20.1h0M25 35.4h0M6.6 21.4h0M16 29.8h0M24.8 1.8h0M1.9 39h0M28.1 11.8h0M36.7 51.8h0M38.7 26.4h0M21.9 20.4h0M29.4 42.7h0M26.6 28.6h0M0.7 51.2h0M2.3 30.3h0M35.6 46.2h0M25.3 8.8h0M48.4 3.1h0M20.6 22.8h0M36.1 32.4h0M6.2 28h0M31.8 38.2h0M23.8 18.7h0M48.1 13.5h0M5.2 34.1h0M10.5 36.6h0M10.5 29.7h0M28.9 34.6h0M16.5 29.6h0M51 30.7h0M18 23.8h0M26.1 52.6h0M27.8 5.1h0M47.7 17h0M40.9 26.6h0M6.9 48.6h0M23.7 20.5h0M33 16.4h0M20 46.8h0M29 27h0M9.4 6.1h0M32.7 46.6h0M39.9 7.6h0M52.8 16.4h0M0.8 41.9h0M16.3 41h0M46 42.5h0M16.8 12.4h0M3.7 41.3h0M26.9 49.1h0M37 0.2h0M47.7 43h0M49.1 26.1h0M51.8 39.9h0M33.2 49.2h0M33.4 51.8h0M14.5 17.9h0M38.6 7h0M51.3 30h0M28.8 44.1h0M11.8 47.6h0M13.3 17.8h0M40.7 44.8h0M7.8 27.2h0M12.5 41.9h0M24.3 17.4h0M15.9 31.6h0M34 23.7h0M2.3 37.5h0M29.8 49h0M26.3 17.2h0M51 35h0M31.8 7.1h0M3.6 17.4h0M36.2 38.2h0M43.8 1.1h0M14.7 28h0M52.8 11.5h0M20.6 17.4h0M31.2 43.6h0M28.9 11h0M33.4 14.1h0M27.1 44.3h0M28.2 35.9h0M50.1 28.5h0M31.9 33.4h0M43.2 47.4h0M43.6 19.8h0M45.5 28.2h0M1.8 17.4h0M42.4 16.4h0M9 3.7h0M29.2 6.7h0M40.8 51.8h0M13.4 46.1h0M33.4 41.5h0M32.3 9.5h0M16.9 18.6h0M47.3 13h0M2.2 52.9h0M33.2 10.5h0M3.9 39.1h0M0.7 43.2h0M43.4 21.2h0M3 39.5h0M25.5 27.9h0M16.9 1.6h0M14.4 29.2h0M44.5 19.6h0M49.7 24.2h0M6 8.7h0M18.6 27.2h0M20.7 2.7h0M52.6 28.2h0M39.1 2.8h0M49.4 33.8h0M20.1 2.6h0M30.6 41.2h0M32.2 17.9h0M36.1 50.8h0M46.9 15.6h0M39.8 23h0M44.5 52h0M15.5 14.1h0M51.1 5.5h0M51.3 5.4h0M35.8 6.1h0M24.7 38.7h0M10.7 10.8h0M33.8 26.9h0M40.8 19h0M0.9 10.5h0M3.1 1.1h0M38.4 7.9h0M14.8 28.2h0M47.5 35.6h0M11.8 48.2h0M7.2 29.3h0M29.4 42.2h0M15 29.5h0M30 40.2h0M30.9 40.9h0M43.1 29.4h0M30.1 0.8h0M37.1 39.8h0M1.8 23.6h0M28.6 -0.6h0M19.5 53.9h0M53.7 51.2h0M26.1 -0.4h0M-0.2 16.4h0M53.8 41.9h0M37 53.2h0M-0.2 11.5h0M2.2 -0.1h0M53.7 43.2h0M-0.4 28.2h0M53.9 10.5h0M30.1 53.8h0" stroke="#8B8B00" stroke-width="1.8" stroke-linecap="round" fill="none"/></pattern>
<pattern id="p12" width="57" height="57" patternUnits="userSpaceOnUse"><path d="M13.6 13.6h0M54.2 23.7h0M55.8 52.2h0M25.5 35.5h0M5.8 17.3h0M26.4 53.5h0M49.5 49.1h0M43.5 35.8h0M1.1 28.8h0M22.9 9.3h0M2.3 6.2h0M23.9 48.6h0M46 5.6h0M17.8 47.1h0M36.6 32.8h0M42.2 10.9h0M15.1 46.1h0M24.9 30.3h0M12.5 38.9h0M45.2 29.9h0M3.5 21.2h0M47.1 7h0M28 28h0M22.1 15.7h0M56.4 32.3h0M15 3.8h0M28.5 21.7h0M25.3 52h0M54.5 45.4h0M42 36.5h0M46.1 51.5h0M12.8 7.3h0M34.1 53.8h0M13.4 45.6h0M4.9 51.4h0M0.1 42.6h0M3.6 15.9h0M35.8 17.5h0M18.4 4.9h0M20.2 52h0M7.1 41.3h0M50.6 17.2h0M33.6 2.9h0M25.7 51.2h0M37.8 46h0M27 22.9h0M36.9 40.2h0M46.1 29.6h0M52.5 42.4h0M52.6 28.6h0M22.2 16.3h0M33.2 21.3h0M48.5 39.4h0M20.3 44.7h0M26 18.6h0M31.5 12.1h0M49.4 31.3h0M23.5 30.9h0M30.2 20.2h0M47.4 9.6h0M23.5 19.5h0M37.6 46.1h0M10.3 36.4h0M11.6 4.3h0M43.1 2.2h0M55.8 38.4h0M49.7 45h0M46.3 1.8h0M8.3 45.1h0M2 38.9h0M54 0.7h0M17.1 7.3h0M45.8 14.8h0M23.4 28.8h0M10.7 37.2h0M11.9 19.3h0M26.1 29.8h0M28.1 1.3h0M38.4 56.9h0M18.3 56.2h0M23.5 45.7h0M10.9 16.9h0M27.4 10.6h0M5.7 35h0M45.2 3.2h0M14.5 55.8h0M55.6 43.6h0M39.8 34.4h0M13.4 43.8h0M51.7 26.1h0M39 25.1h0M56.1 6h0M42.2 41.1h0M5 57h0M48 17.9h0M1.6 52.6h0M23.5 14.7h0M31.4 27.9h0M0.4 32.9h0M1.9 38.8h0M51.8 27.5h0M25 27.3h0M33.9 14.2h0M42.3 39.5h0M39.5 29.4h0M9 56h0M4.1 22.1h0M33.2 29h0M0.9 39.8h0M32.6 18.4h0M38.5 19.1h0M4.8 51.7h0M39.7 24.5h0M29.8 20.6h0M0.5 18.8h0M14.8 32.3h0M7.6 7.6h0M15.5 42h0M34.8 42.2h0M55.8 45h0M43.7 27.3h0M31 42.2h0M22.4 27.6h0M6.1 50.9h0M37.6 53.6h0M37.8 12.5h0M28.1 11.8h0M29.6 51.2h0M47.4 25.7h0M20.5 44.4h0M17.9 13.7h0M56.4 8.6h0M47.6 53.9h0M24 47h0M42.9 2.5h0M19.7 49.8h0M22 55.9h0M18.5 34.5h0M43.8 41.7h0M51.9 52.1h0M50.6 29.4h0M8.2 54.5h0M33.7 47.1h0M26.6 33.8h0M11.6 12.8h0M37.6 42.8h0M22.8 31.8h0M6.5 22.9h0M29.7 49.5h0M55.4 27.7h0M22.1 25.9h0M41.3 37.8h0M10.8 32.1h0M5.4 8.5h0M0.9 7.1h0M18.1 1.6h0M17.7 21.2h0M20.8 19.5h0M6.3 17.3h0M34.7 5.2h0M56.4 28.7h0M14.4 4.6h0M17.7 52.4h0M46 30.5h0M40.5 49.2h0M6.1 55.7h0M38.1 49.1h0M29.4 51.6h0M50.5 16.2h0M35.2 37.4h0M51.7 35.5h0M18.6 47.4h0M7.2 34.7h0M37.1 38.3h0M49.4 26.2h0M43.9 24.6h0M23.7 50.9h0M40.4 39.2h0M36.5 52.7h0M12.2 0.3h0M54.8 40.8h0M18.6 32.5h0M13.9 23h0M35.3 13.8h0M17.5 9.3h0M0.9 19.5h0M14.7 0.1h0M35 53.3h0M19.4 43.8h0M19.9 23.9h0M3.9 16.6h0M11.4 30.5h0M33.8 3.2h0M56.7 6.1h0M36.2 57h0M-0.6 32.3h0M57.1 42.6h0M54 57.7h0M38.4 -0.1h0M18.3 -0.8h0M-0.9 6h0M5 -0h0M57.4 32.9h0M57.9 39.8h0M57.5 18.8h0M-0.6 8.6h0M-0.6 28.7h0M12.2 57.3h0M14.7 57.1h0M-0.3 6.1h0M36.2 -0h0" stroke="#00FF00" stroke-width="1.8" stroke-linecap="round" fill="none"/></pattern>
<pattern id="p13" width="57" height="57" patternUnits="userSpaceOnUse"><path d="M38.8 34.8h0M55.4 50.9h0M37.9 40.5h0M3.3 33h0M30.1 18h0M21 43.7h0M11.9 54.4h0M55.4 25.7h0M5.8 17.2h0M55.6 26.1h0M35 30.9h0M23.1 22h0M18.9 1.8h0M9.5 1.4h0M8.8 56.9h0M26.2 46.1h0M50.6 20.5h0M8.6 21.9h0M24.3 47.9h0M37.2 47.8h0M8.9 14.4h0M34.2 18.2h0M14.7 50.5h0M42.7 11.3h0M14.7 28.9h0M27.3 53.5h0M21.9 32.2h0M22.2 7.3h0M12.1 10.1h0M0.7 37.1h0M54.3 17.1h0M31.4 50.9h0M6.3 14.5h0M3.1 9.7h0M42.3 42.5h0M23.2 24.6h0M18.8 14.4h0M21.5 44.2h0M11 6.6h0M32.6 53.4h0M41.6 49.4h0M30.4 37.1h0M0.8 12.2h0M45.5 39.8h0M10.5 21.9h0M50.8 4.5h0M6 39h0M26.6 49.6h0M31.4 46.5h0M51 4.5h0M9.2 5.6h0M19.1 25.8h0M40.1 21.8h0M47.4 36.4h0M38.1 48.9h0M50.2 15.9h0M55.6 27.1h0M47.9 47.3h0M18 37.7h0M15.2 45.1h0M39.2 39.2h0M4.1 0.4h0M45.1 32.4h0M55.9 44.1h0M18.3 51.2h0M54.7 42h0M25.5 40.6h0M55.5 47h0M34 55.2h0M55.9 25.4h0M56.1 54.4h0M13.1 55.6h0M0.6 17.1h0M41.7 40.9h0M53.1 48.7h0M4.6 5.7h0M21.1 11.2h0M12.1 16.1h0M51.1 43.8h0M31.4 17.6h0M1.5 26.5h0M31.8 19.2h0M23.2 12.9h0M18.1 45.4h0M54.1 12.3h0M15.4 50.6h0M34.9 42.9h0M16.1 36.4h0M31.4 25.9h0M43.6 14.5h0M25.9 51.9h0M48.2 27.8h0M46.7 11.4h0M22.7 27.4h0M15.2 42.5h0M28.4 56.5h0M43.3 0.8h0M3.1 39.4h0M31.1 16.6h0M17.5 9.5h0M29.6 53.9h0M53.6 55h0M6.7 46.9h0M4.5 5.6h0M8.5 48.1h0M6.3 20.7h0M32.5 15h0M55.3 4.1h0M14.6 8.5h0M5.1 49.3h0M41.1 41.1h0M7.8 52.7h0M28 15h0M23 33.2h0M20.4 26h0M50.2 53.2h0M21.7 34.1h0M42.4 5.7h0M27.8 4.6h0M53 2.7h0M2.3 25.9h0M54.3 41.8h0M12 50h0M51.9 35.2h0M17.3 5.9h0M26.9 40.6h0M34.1 20.9h0M39.3 21.3h0M7.4 29h0M31.2 39.4h0M53.6 19.1h0M6.5 33.8h0M44.8 26.6h0M34.5 31h0M2.2 2.4h0M48.6 22.3h0M6.4 18.9h0M53.8 54.6h0M17.1 39.6h0M34.3 39.1h0M23 30.7h0M15.7 15.1h0M47 20.2h0M19.3 6.3h0M42.7 14.6h0M39 8.8h0M22 22.9h0M11.4 29.6h0M28.5 15.6h0M15.4 21.2h0M26.1 22.3h0M38.8 46.2h0M7.2 17.3h0M45.5 11.4h0M17.9 44.8h0M14.2 16.1h0M51.9 53.8h0M39.6 55h0M32.6 13.4h0M42.9 49.8h0M20 19.4h0M21.7 10.4h0M8.4 44.4h0M31.8 26.6h0M23.6 19.6h0M47.5 26.6h0M20.5 35.8h0M49.9 10.8h0M47.5 41.3h0M19.6 25.5h0M39.7 8.2h0M8.9 6.1h0M3.6 9.2h0M35.7 43.5h0M30.3 9.8h0M7.6 12.4h0M35.7 51.4h0M33 19.2h0M19.2 11.3h0M56.9 27h0M10.9 33h0M53.1 24.2h0M40.1 36h0M8 34.9h0M17.4 29.2h0M43.8 51h0M37.5 22.1h0M56.9 29.1h0M25.7 19.8h0M13.5 3.5h0M9.2 21.6h0M19.6 4h0M11.2 38.5h0M17.6 48.2h0M9.2 36.2h0M8.8 -0.1h0M57.7 37.1h0M57.8 12.2h0M4.1 57.4h0M-0.9 54.4h0M57.6 17.1h0M28.4 -0.5h0M43.3 57.8h0M-0.1 27h0M-0.1 29.1h0" stroke="#7F00FF" stroke-width="1.8" stroke-linecap="round" fill="none"/></pattern>
<pattern id="p14" width="64" height="64" patternUnits="userSpaceOnUse"><path d="M23.3 30.7h0M2.4 51.8h0M47.8 20h0M49.7 28.7h0M32.3 30.1h0M3.9 44.4h0M2.5 10.7h0M48 10.9h0M13.7 26.6h0M20.9 17.3h0M56.6 36.6h0M22.2 20.8h0M60.2 4.8h0M10 45.6h0M22.4 0.6h0M55.8 30.1h0M37.5 47.5h0M15.6 52.2h0M33.2 11h0M20.9 13.4h0M20.4 18.1h0M53.6 30h0M14.3 58h0M36.4 16.7h0M32.2 60.8h0M26.4 45.5h0M38.1 29.8h0M23.6 55.4h0M51.8 1h0M7 60.1h0M61.9 39.7h0M62.7 56.8h0M24.2 29h0M38.5 56.9h0M5.1 47.5h0M12.4 12.6h0M39.5 55.2h0M25.6 14.3h0M17.8 33.4h0M36.7 11.7h0M19.4 30.9h0M3.6 26.1h0M58.5 44.4h0M47.5 54.7h0M35 22h0M41 10.1h0M26.9 20.6h0M30.3 63.4h0M56.8 53.9h0M46.2 28.9h0M54.5 54.6h0M61.1 26.4h0M49.3 44.8h0M50.8 13.9h0M54.3 32h0M4.2 51.7h0M26.1 20h0M16.2 56.3h0M5.3 30.5h0M23.4 45.8h0M16.6 17.8h0M9.3 54.2h0M44.8 30.5h0M9.4 15.3h0M3.8 51.8h0M35.1 25.7h0M36.4 4.8h0M52.4 35h0M49.3 44.8h0M45.5 47.3h0M10.5 52.3h0M63.6 22.6h0M18.1 56.2h0M39.9 1.2h0M25.1 22.7h0M52.7 57.2h0M42.9 6.5h0M17.7 30.1h0M6.4 32.9h0M42.6 5.7h0M33.9 22h0M54.5 9h0M39.4 39.3h0M15.5 44.3h0M34.9 37.5h0M18.7 16.1h0M22.2 35.9h0M46 4.8h0M22.2 53.3h0M60.2 57.2h0M11.2 13.6h0M22.7 15h0M6.7 25.8h0M6.5 34.9h0M41.1 4.1h0M43.2 43h0M50.8 46.4h0M14.3 36.4h0M13.7 54.9h0M37.8 7.3h0M2.5 57.9h0M5.9 17h0M26.7 46.5h0M43.2 40.2h0M58.7 38.9h0M41.9 33.2h0M25.2 44.3h0M39.7 14.6h0M46 61.6h0M40.5 15.1h0M5.4 63h0M48.1 53.1h0M2.3 3.3h0M52.1 46.8h0M46.9 40.4h0M9.8 63.2h0M39.5 24.6h0M42.6 22.2h0M33.8 17.4h0M32.4 57.2h0M44.8 22.9h0M34.7 19.5h0M17.5 6.9h0M22.4 64.6h0M30.3 -0.6h0M-0.4 22.6h0M9.8 -0.8h0" stroke="#00FF00" stroke-width="1.8" stroke-linecap="round" fill="none"/></pattern>
<pattern id="p15" width="63" height="63" patternUnits="userSpaceOnUse"><path d="M30.2 27.1h0M26.1 17.6h0M12.7 37.5h0M13 31.8h0M54.1 9.2h0M46.7 24.7h0M56.9 56.5h0M50 22.5h0M0.3 17.4h0M1.7 1.8h0M44.5 42.5h0M40.3 57.3h0M41.9 58.7h0M60.3 47.9h0M42.1 3.7h0M16.6 22.3h0M29.6 61.1h0M1.1 31.5h0M62.4 54.9h0M61.8 43.6h0M22.5 23.8h0M62.8 53h0M62.3 56.1h0M36.4 18.9h0M43.6 57h0M56 22h0M60.6 45h0M35.2 37.4h0M16 53.6h0M39.3 37.7h0M47.7 39.5h0M25.4 43.8h0M4.7 11h0M0.6 40.6h0M48 52.5h0M27 24.3h0M53.2 41.9h0M4.8 50.8h0M51.1 17h0M21.5 32.9h0M12.2 48.9h0M26.4 36.4h0M56 9h0M4.4 36.6h0M28.7 10.1h0M58.6 46.4h0M5.7 34.3h0M55.5 18.2h0M39.6 32.9h0M36.9 15.8h0M13.5 24.3h0M17.9 28.5h0M12.2 27.7h0M43.2 59.2h0M1.4 18.3h0M33.2 48.3h0M14.8 10.9h0M9.3 50h0M38 56.2h0M14.3 25.5h0M59.7 1.8h0M55.9 19.4h0M5.7 21.9h0M1 12.8h0M58.9 24.9h0M42.3 55.3h0M34.8 22.6h0M53.4 35.8h0M11.8 56.4h0M31.4 41.7h0M44.4 36.9h0M19.3 57.1h0M33.4 10.4h0M27 21.2h0M31.3 18.3h0M60.5 34.3h0M23.1 19.7h0M47.9 17.9h0M42.7 36h0M31.9 44.2h0M62.2 36.5h0M54.7 62.1h0M42.8 14.8h0M44.7 25.9h0M1 18.9h0M60.6 33.6h0M36.5 31.7h0M28.6 53.8h0M12.9 24.4h0M33.1 50.3h0M58.1 32h0M38.1 58.2h0M15.9 42h0M2.4 59.8h0M21.1 28.9h0M62.9 52.7h0M9.3 18.9h0M40.8 1.5h0M54.2 52.1h0M18.2 35.6h0M44.6 16.3h0M4.6 27.1h0M7.9 2.6h0M63 30.4h0M58.1 21.6h0M56.4 23.1h0M35.9 36.1h0M13.7 54.5h0M54.2 28.6h0M43.9 32.2h0M52.4 48.9h0M24.3 11.2h0M48.8 51.3h0M14.4 25.1h0M37.3 59.7h0M23.6 14.8h0M33.5 23.8h0M21 17.8h0M4.1 0.3h0M38.7 44h0M55.3 15.4h0M23.6 3.4h0M41.3 61.3h0M9.2 19.4h0M61.3 0.1h0M54.5 3.2h0M51.6 7.9h0M46.9 22.1h0M33.5 57.9h0M5.3 3.7h0M30.8 0.3h0M45.1 13.3h0M39.6 27.1h0M47.8 11.3h0M59.3 50.7h0M55.1 44.1h0M3.9 1.3h0M42 0.7h0M33.4 36.2h0M12.9 19.3h0M33.5 59.6h0M32.4 56.3h0M37.7 4.8h0M59 2.1h0M42.8 20.9h0M41.9 27.2h0M19.9 3.8h0M27.1 55.5h0M17 30.1h0M22.3 51.8h0M11.6 38.1h0M7.6 34h0M36.5 40.6h0M1.2 6.2h0M11.6 26.8h0M13.1 55.4h0M59.5 28h0M58.1 49.7h0M25.2 20.1h0M51.1 3.4h0M22.8 36h0M43.5 17.1h0M1.6 10.1h0M46.2 61.8h0M6.2 52.1h0M0 31h0M41.5 12.9h0M18.5 56h0M28.1 56.5h0M19.9 14.6h0M48.4 37.9h0M33.6 22.8h0M27.1 57h0M1.8 1h0M57.2 45.8h0M19.7 55h0M8.6 46.9h0M23 13.9h0M47.9 53.7h0M23 4.2h0M12.1 14.6h0M37.6 48.6h0M43.2 48.3h0M57.2 54.6h0M14.2 12.7h0M51.8 24.6h0M34.7 31.2h0M56.7 35.1h0M10.1 62.2h0M42.9 53.3h0M43.2 39.8h0M18.6 37.6h0M49.5 50.5h0M7.6 46.2h0M55.8 40.9h0M6.2 50.4h0M35 52.4h0M61.5 17.5h0M63.3 17.4h0M-0.6 54.9h0M-0.2 53h0M-0.7 56.1h0M63.6 40.6h0M-0.8 36.5h0M54.7 -0.9h0M-0.1 52.7h0M-0 30.4h0M4.1 63.3h0M61.3 63.1h0M30.8 63.3h0M42 63.7h0M63 31h0M10.1 -0.8h0" stroke="#008B8B" stroke-width="1.8" stroke-linecap="round" fill="none"/></pattern>
<pattern id="p16" width="63" height="63" patternUnits="userSpaceOnUse"><path d="M57.5 2.8h0M58.8 45.9h0M5.7 24.1h0M33.9 42.4h0M22.9 41.8h0M57.4 58.2h0M33.1 4.5h0M13.2 16.1h0M22.1 12.8h0M42.2 33.2h0M25.1 20.1h0M56.6 11.1h0M27.8 24.1h0M7.2 53h0M2.5 11h0M33.3 25h0M49.8 4.5h0M50.3 47.1h0M55.1 3.9h0M39.9 21.7h0M22.4 26.4h0M7.9 25.2h0M39.7 38.1h0M8.4 23.1h0M20.2 31.4h0M60.1 37.9h0M20.5 40h0M16.3 24.6h0M48 34.7h0M12.4 57.6h0M23.6 7.1h0M60.1 34.6h0M49.5 20.3h0M30.7 9.8h0M43.2 25.6h0M61.6 1.6h0M32.6 17.5h0M18 48h0M56.3 4.5h0M0.1 53.6h0M21.9 33.6h0M6.8 35.1h0M6 20.2h0M33 14.7h0M39.3 53.4h0M1.8 28.1h0M50.2 17.2h0M18.4 62.9h0M58.9 19.3h0M27.7 47.1h0M58.3 35.8h0M25.4 29.5h0M16.2 40.2h0M32.7 6.2h0M35.2 21.7h0M9.5 28.2h0M56.2 22.5h0M59.8 48h0M9.5 27.6h0M35.5 57.7h0M44.4 45.4h0M37.9 40.9h0M13.3 3.9h0M4.3 31.5h0M31.7 9.7h0M19.1 1.1h0M34.2 35.1h0M36.7 51.4h0M28.3 22.4h0M48.7 47.2h0M21.6 56.9h0M24.9 33h0M15.9 34.1h0M30.2 8.9h0M8.3 21h0M30 1.8h0M61.8 26.9h0M3.6 47.5h0M37.6 39.3h0M53.5 42.6h0M54.2 61h0M31 3.5h0M31.7 24.9h0M46 48h0M62.6 47.5h0M44.9 14.8h0M49.1 11.3h0M19.6 59.8h0M58.1 27.2h0M11.1 56.8h0M31.2 44.2h0M0.5 60.3h0M50.8 9.6h0M60.1 59.4h0M62.1 29.8h0M43.2 25h0M4.2 5.6h0M29 61.5h0M34.5 26.4h0M37.3 21.1h0M40.3 8h0M15.9 50.4h0M15.2 37.4h0M56.6 45.2h0M18.5 47h0M1.4 39.6h0M14.3 30.9h0M54.2 43.7h0M38.2 17.5h0M15.6 56.5h0M23.9 1.3h0M15.5 9.9h0M50.3 7.4h0M16.3 18.4h0M40.3 49.7h0M33.2 20.4h0M25.3 31.2h0M52.1 12.5h0M34.2 28.5h0M35.1 33.9h0M27.1 14.8h0M2.4 13.6h0M20.8 29.5h0M24.7 11.6h0M29.4 7h0M5.5 33.2h0M21.3 16.9h0M40.4 39.9h0M24.5 9h0M4 49.6h0M37.4 27.1h0M57.5 56.5h0M59.1 11.7h0M9.9 22.4h0M29.3 28.5h0M37.2 2.3h0M62.4 24.4h0M1 51.7h0M16.9 54.6h0M9.4 29.6h0M0.6 22.6h0M30.8 13.6h0M56 57.8h0M45.8 20.2h0M18.8 48.3h0M12.3 31.3h0M23.6 16h0M48.3 58.3h0M7.9 20.5h0M22.3 16.8h0M50.5 25.9h0M16.8 25.3h0M1.6 46.9h0M4 10.8h0M50.6 14.1h0M1.6 25.4h0M42.5 48.4h0M10.8 18.5h0M38 55.7h0M17.6 14.4h0M35 13.5h0M11.1 30.6h0M32.7 12.1h0M56.3 55.1h0M0.4 12.8h0M57.1 40.5h0M18.1 18.7h0M52.2 5h0M15.8 18.9h0M55.3 46.5h0M35.9 22.7h0M4 60.9h0M52.9 9.2h0M31.6 58.1h0M33.1 5.3h0M42.7 28.6h0M33.3 8h0M3.3 11.4h0M41 31.7h0M30 62.6h0M44.6 32.8h0M11.8 53.6h0M8.5 6h0M59.2 48.8h0M23.4 47.5h0M45.5 50.1h0M24.6 49.5h0M60.9 19.3h0M33.5 62.5h0M20 52.7h0M43.9 7.4h0M40.1 12.6h0M41.6 52.5h0M4.4 57.5h0M36.7 11.8h0M20.4 0.6h0M26.2 8h0M49.2 30.8h0M63.1 53.6h0M18.4 -0.1h0M-0.4 47.5h0M63.5 60.3h0M-0.6 24.4h0M63.6 22.6h0M63.4 12.8h0M30 -0.4h0M33.5 -0.5h0M20.4 63.6h0" stroke="#0000FF" stroke-width="1.8" stroke-linecap="round" fill="none"/></pattern>
<pattern id="p17" width="64" height="64" patternUnits="userSpaceOnUse"><path d="M49.9 51.5h0M57.9 61.4h0M31.3 39.4h0M19.7 52h0M9.7 30.5h0M10.5 41.2h0M22 62h0M47.1 11.2h0M60.7 20.2h0M62.1 51h0M30.4 62.8h0M2.3 54h0M18.1 31.4h0M16.1 62h0M17.2 51.3h0M33.4 29.9h0M54.8 13.8h0M14.1 35h0M49.8 36.2h0M54.1 22.4h0M54 51h0M33.7 21.4h0M56.7 52.3h0M0.1 51.7h0M39 56.7h0M1.7 41.5h0M18.4 33.8h0M29.5 21.6h0M44.8 16.1h0M63.4 47h0M37.7 14.8h0M23.5 33h0M47.4 43.3h0M11 57h0M5 55.1h0M31.3 49.7h0M29.3 62h0M6.6 5.5h0M38.7 23.1h0M31.7 39.2h0M53.8 33.2h0M64.1 51.7h0M-0.6 47h0" stroke="#0000FF" stroke-width="1.8" stroke-linecap="round" fill="none"/></pattern>
<pattern id="p18" width="64" height="64" patternUnits="userSpaceOnUse"><path d="M3.4 26h0M28 48.9h0M35.9 5.5h0M4.7 2.8h0M52.7 31.9h0M28.1 15h0M22.9 1h0M54.6 4.7h0M1.7 30.4h0M46.2 34.5h0M25.5 59.6h0M24.8 51.9h0M22.3 16.4h0M22.4 26.7h0M62.8 58.8h0M18.6 50.3h0M39.4 41.2h0M39.8 9h0M52.6 3h0M52.6 18.3h0M22.7 32.5h0M22.4 22.2h0M45.3 32.6h0M13.6 37h0M63.9 34.2h0M-0.1 34.2h0" stroke="#8B4500" stroke-width="1.8" stroke-linecap="round" fill="none"/></pattern>
<pattern id="p19" width="64" height="64" patternUnits="userSpaceOnUse"><path d="M23.5 10h0M47.1 21.4h0M36.5 63.3h0M8.1 45.7h0M17.2 25.1h0M14.9 15.6h0M10.7 54.1h0M58.2 52h0M5.6 30.2h0M30.5 2.9h0M8.3 23.2h0M43.9 27.9h0M12.3 42.7h0M16.8 55.4h0M23.1 43h0M31.6 44.1h0M58 9.9h0M23.8 1.2h0M42.8 14.5h0M19.9 47.2h0M17.1 48.3h0M32.8 15h0M36.7 37.8h0M58 6.3h0M4.1 33.1h0M26.3 19h0M42.2 31.5h0M19.1 34.9h0M47.7 50h0M44.2 53.7h0M2 21.2h0M10.8 35.8h0M37.5 36.2h0M47.9 25.7h0M24.9 8h0M41.7 21.5h0M14.3 1.2h0M51.7 62.7h0M30 26.4h0M47.7 18.9h0M59.4 0h0M39.7 46.8h0M34.7 29.9h0M23.5 44.8h0M54.7 45.4h0M60.6 50.3h0M62.4 7.1h0M23.8 38.9h0M15.1 3.6h0M51.7 8.5h0M60.1 33.1h0M12.8 48.1h0M17.2 18.7h0M40.8 7.1h0M31.1 0.6h0M50.2 44h0M26.4 9.6h0M53.7 42.9h0M54.1 55.2h0M1.3 33.5h0M7.3 58.8h0M53.2 57.7h0M30.4 28h0M41.9 28h0M3.3 31.7h0M31 22.1h0M61.3 30.2h0M36.2 38.2h0M23.1 44.7h0M37.8 43.8h0M22 51.7h0M25.8 35h0M35.3 54.4h0M15.2 1.7h0M61.7 63.8h0M26.3 52h0M37.9 45.9h0M6.2 25.2h0M6 44.4h0M8 8.8h0M24.8 16.2h0M19.5 14.7h0M17.3 22.3h0M55.4 43.5h0M34 47.6h0M38.9 4.3h0M23.9 24.6h0M0.3 16.2h0M59.7 42.7h0M44.9 35.6h0M62 18.8h0M22.7 3.4h0M54.4 53.2h0M63.9 48.1h0M48.4 18.1h0M15.3 34.3h0M7.5 49.4h0M1.6 16.3h0M14.5 51.7h0M47.1 28.8h0M40.2 47.3h0M62.7 62.6h0M52.9 9.1h0M59.1 41.7h0M29.2 35.6h0M11 23.2h0M58.3 24.3h0M9.4 57.4h0M6.2 25.5h0M59.8 42.1h0M29.5 59.8h0M58.9 54h0M16.9 46.4h0M61.9 29h0M61.1 3.6h0M17.1 27.9h0M37.7 23.5h0M20.7 33.8h0M52.9 39.2h0M34.4 49.3h0M30.3 46h0M1.1 38.2h0M7.9 56.3h0M36.5 -0.7h0M59.4 64h0M31.1 64.6h0M61.7 -0.2h0M64.3 16.2h0M-0.1 48.1h0" stroke="#8B0045" stroke-width="1.8" stroke-linecap="round" fill="none"/></pattern>
<pattern id="p20" width="64" height="64" patternUnits="userSpaceOnUse"><path d="M9.8 43.8h0M36.5 59.4h0M27.7 20.1h0M33.7 30.7h0M13.6 42.1h0M60.3 56.5h0M46.7 40.4h0M0.3 13h0M42.9 53.5h0M22.7 34.5h0M32 61.4h0M17.7 7.9h0M40.7 5.6h0M61.4 46.6h0M12.3 54.7h0M9.1 10.9h0M22.4 52.6h0M9.5 49.1h0M34.7 8.8h0M51.4 59.7h0M61.1 23.1h0M43.6 54.4h0M20.7 10h0M42.9 23.2h0M51.9 48.4h0M48.2 47.4h0M6.8 55.9h0M30.8 2.6h0M57 10.6h0M28.9 11.8h0M10.5 41.7h0M41 36.4h0M19.5 55.8h0M29.5 44.7h0M43.2 35.6h0M18.8 22.6h0M34.3 36.2h0M62.4 18.5h0M52.5 12.3h0M4.6 54.2h0M48.8 55.8h0M58.9 56.2h0M4.6 21.8h0M5.8 48.9h0M24.5 63.8h0M25.4 43h0M44.5 29.9h0M16.6 37.1h0M53 23.7h0M21.3 43.8h0M25.8 1.9h0M32.9 60.4h0M8.3 17.3h0M55.2 44.9h0M13.9 20.6h0M11.9 32.5h0M55.9 49.8h0M6.8 4.8h0M17.7 18.7h0M12.5 25.1h0M32.1 44.7h0M14.7 26.1h0M58.1 27.2h0M39.8 30.1h0M2.2 54.5h0M25.4 13.3h0M30.8 28.1h0M25.7 59h0M36.1 40.1h0M62.5 15.8h0M56.4 32.8h0M33.7 1.7h0M55.2 17.7h0M2.7 10.2h0M40.7 23.3h0M7.3 3.5h0M21.6 38.9h0M36 8h0M61.3 56.5h0M37.9 46.7h0M2.2 60.9h0M4.8 41.9h0M54.1 41.2h0M7.3 60.6h0M11 48.1h0M34.9 22.7h0M46.1 60.5h0M50.8 36.1h0M51.2 11.4h0M53.8 30.8h0M5.1 20.3h0M32.1 44.7h0M26.2 36.5h0M48.2 13.8h0M10.6 5.7h0M25.8 40.2h0M39.4 33.9h0M60.5 27.9h0M13.5 37.9h0M40.3 1.5h0M28.2 23.9h0M61.8 20.2h0M57.1 23.7h0M5.5 3h0M61.1 41.5h0M48.4 50.5h0M13.2 39.3h0M24.9 37.9h0M26.8 37.5h0M59.5 24.8h0M22 41.9h0M29.7 21.3h0M15.1 47.3h0M5.9 39.9h0M61.1 5.8h0M37.6 23.1h0M44.2 8.4h0M24.6 56.3h0M29.5 25.7h0M40.7 24.5h0M12 49.8h0M15.1 8.8h0M59.6 33.1h0M64.3 13h0M24.5 -0.2h0" stroke="#8B0000" stroke-width="1.8" stroke-linecap="round" fill="none"/></pattern>
<pattern id="p21" width="64" height="64" patternUnits="userSpaceOnUse"><path d="M14.7 8.5h0M40.3 24.5h0M24.7 10.7h0M37.5 28.1h0M9.1 21.7h0M50.1 21.3h0M12.3 32.6h0M22.1 15h0M44.2 35.7h0M18.8 20.4h0M37 23.8h0M25.4 29.9h0M54.6 55.9h0M51.7 30.7h0M49.5 17.6h0M6.1 10.4h0M47.3 42h0M19.8 10.6h0M19.1 8.8h0M5.5 59.8h0M52.2 19.2h0M53.2 3.7h0M8.1 0.5h0M49.1 46.7h0M60.8 6.4h0M27.4 63h0M12 47.2h0M8.7 26.4h0M10 11.1h0M40.6 31.2h0M45.3 21.9h0M6.5 45.8h0M17.7 29.1h0M55.7 22.7h0M14.7 29h0M63.2 0.2h0M48.2 52.7h0M27.2 60.2h0M19.8 35h0M42.1 51h0M18.4 52.6h0M38.8 21h0M60.2 38.4h0M11.9 28.2h0M6.4 37h0M2.5 2.6h0M20.3 61.9h0M1.9 49.9h0M3.4 11.5h0M5.1 60h0M48.4 15h0M8 4h0M6.5 34.6h0M55.3 3.3h0M60.2 57h0M49.9 10.5h0M34.1 34.4h0M51.9 59.7h0M53.8 16.5h0M8.9 16.1h0M9.2 17h0M27.4 61.8h0M41.2 30.6h0M62 16.6h0M3.6 45.7h0M17.5 43.7h0M46.8 32.9h0M16.8 2.2h0M11.6 24.7h0M23.7 63.7h0M9.2 19.4h0M17.9 8.2h0M49.1 57.5h0M52.8 24.2h0M43.7 58.4h0M59.2 15.1h0M33.2 46.1h0M53.2 26.4h0M3.6 24h0M61.8 41h0M61.7 43.9h0M23 37.2h0M45.8 3.8h0M24.4 22.3h0M0.8 2.1h0M1.2 25.1h0M46.7 3.4h0M54.5 41.6h0M18.3 4.2h0M12.5 58.1h0M12.1 11.7h0M26.4 22.9h0M48.5 10.8h0M39.3 19.5h0M60.2 53.6h0M3.3 34.1h0M60.6 53.5h0M8.3 26.6h0M48.8 1.2h0M62.9 56.2h0M18 44.8h0M63.9 27.9h0M32.6 0.6h0M47.7 36.9h0M30.6 54h0M49.2 1h0M50 40.2h0M43.8 51.4h0M6 9.4h0M63 40.1h0M16.9 32.2h0M52.6 4.7h0M25.3 51.9h0M3.8 10.2h0M3.4 1.7h0M7 26.4h0M61.4 42.4h0M23.4 10.6h0M26.2 0.5h0M18.7 17.4h0M0.2 38.5h0M13.4 59.7h0M52.2 58.4h0M8.1 64.5h0M-0.8 0.2h0M-0.8 64.2h0M63.2 64.2h0M23.7 -0.3h0M64.8 2.1h0M-0.1 27.9h0M32.6 64.6h0M26.2 64.5h0M64.2 38.5h0" stroke="#458B00" stroke-width="1.8" stroke-linecap="round" fill="none"/></pattern>
<pattern id="p22" width="64" height="64" patternUnits="userSpaceOnUse"><path d="M23.7 54.3h0M0.2 9.7h0M13.1 46.6h0M55.6 58.3h0M4.8 3.3h0M43.7 14.9h0M28.5 46.7h0M34.5 17h0M48.2 32.9h0M42.7 40.3h0M27.2 19.3h0M57.5 3.7h0M55.3 25.8h0M37.2 31h0M41.4 32.4h0M17.7 0.5h0M47.1 60.7h0M32.2 25.1h0M38.5 58.1h0M56.3 62.2h0M54.7 36.6h0M55 31.9h0M53.6 30.2h0M35.9 3.1h0M40.6 26.6h0M25.1 1h0M20.1 23h0M12.7 36.7h0M60.4 20.9h0M6.2 51.9h0M39.6 1.6h0M22.2 35.1h0M58.3 14.6h0M26.3 54.9h0M36.8 40.3h0M33.4 24.9h0M35 50.2h0M27.2 10.6h0M33.9 2.4h0M46.2 60.3h0M5.9 39.2h0M30.8 9.7h0M20.3 55.7h0M23.8 18.2h0M36.6 21.6h0M58 21h0M59.3 28.8h0M54.9 13.7h0M43.7 36.5h0M12.5 49h0M36.3 59.6h0M38.8 33.2h0M41.9 38.6h0M41.3 4.2h0M59.1 20h0M25.4 5h0M56.1 25.3h0M13.6 57.7h0M28.9 24.1h0M23.3 30.5h0M39.3 28.3h0M40.5 24.4h0M36.8 22.1h0M35.6 63.7h0M41.9 20.8h0M7.8 53.9h0M11.6 48.9h0M50.3 1.5h0M35.4 45.9h0M8 53.1h0M31.6 4.4h0M12.1 15.4h0M37.9 54.4h0M31.5 44.9h0M25.2 23.7h0M36.6 11.4h0M57 22h0M46.1 2.7h0M24 35.5h0M55 21h0M24.8 30.8h0M58.1 58.9h0M64.2 9.7h0M17.7 64.5h0M35.6 -0.3h0" stroke="#FFFF00" stroke-width="1.8" stroke-linecap="round" fill="none"/></pattern>
<pattern id="p23" width="64" height="64" patternUnits="userSpaceOnUse"><path d="M22.3 0.3h0M49.5 28.6h0M43.9 59h0M15.8 49.1h0M34.8 49.7h0M29.3 33.2h0M51.7 51.8h0M37.5 22.3h0M29.7 44.6h0M2.2 1.3h0M42.1 10.6h0M54.1 42.2h0M19 5.4h0M24.9 13.8h0M53.9 24.6h0M53.9 52.2h0M26.1 57.4h0M12.4 27.8h0M53 7.6h0M53.1 50.2h0M11.5 53.4h0M39.6 25.8h0M10.3 36.2h0M49.1 20.9h0M50.3 11h0M23.7 61.6h0M49 38.7h0M3.3 61.7h0M63.9 18.4h0M19.9 15.7h0M21 26.1h0M26.4 3.5h0M30 40.4h0M40.4 56.9h0M16.4 4.6h0M27.9 42.8h0M39.2 0.7h0M25 33.8h0M22 32.1h0M5.1 35.4h0M45.8 15.8h0M24.3 51.1h0M47.6 46h0M60.6 53.6h0M15.8 52.6h0M7.2 16h0M27.5 54.3h0M39.2 11.1h0M62.1 39.3h0M34.3 47.8h0M33.9 48.9h0M39.2 30h0M30.2 39.6h0M8.8 7.6h0M12.8 24.7h0M62.7 29.2h0M41.1 1.5h0M47.7 42.1h0M28.7 23.5h0M62.9 20.2h0M36.4 55.1h0M56.6 63.2h0M23.6 49.3h0M40.1 46.7h0M22.8 50.8h0M27.4 37.9h0M51.2 61h0M37 28.9h0M31.4 47.5h0M6.5 36.2h0M58.2 23h0M46.1 18.1h0M51.8 2.7h0M58.5 59.2h0M48.1 35.1h0M52.2 25.5h0M18.4 33.7h0M24.5 34.3h0M48.1 51.7h0M50.2 30.4h0M45.1 58.3h0M47.1 0.2h0M16.4 17.8h0M62.6 48.9h0M35.4 57.7h0M10.9 28.3h0M48.2 34.5h0M42.2 26.1h0M5.8 24.8h0M47.5 31.2h0M59.4 3.2h0M14.6 9.1h0M27.2 33.9h0M36.8 2.4h0M39 61.2h0M57 18h0M45.7 50.2h0M44.9 12.4h0M40.1 15.4h0M13.7 57.7h0M16.9 56.4h0M61.6 53.8h0M16.3 17.4h0M56.5 7.9h0M25.2 20h0M53.3 33.7h0M62.5 2.1h0M29.3 9.3h0M42.2 36.1h0M19.2 10.6h0M33 10.6h0M47.6 0.8h0M44.3 49.2h0M14.9 44.5h0M36.7 0.1h0M32.1 53h0M29.4 32.7h0M9.2 20h0M29.7 11.4h0M45.3 9.8h0M52.4 34.4h0M31.4 56h0M53.5 10.1h0M22.3 64.3h0M-0.1 18.4h0M39.2 64.7h0M56.6 -0.8h0M47.1 64.2h0M47.6 64.8h0M36.7 64.1h0" stroke="#FF00FF" stroke-width="1.8" stroke-linecap="round" fill="none"/></pattern>
<pattern id="p24" width="64" height="64" patternUnits="userSpaceOnUse"><path d="M15.2 13.9h0M38.7 2.6h0M4.2 47.4h0M46.9 11.7h0M9 4.4h0M46.8 19.5h0M10.9 54.2h0M8.7 6.6h0M56.3 14.6h0M15.6 16.7h0M13.6 41.3h0M49.7 14.8h0M1.8 20.6h0M41 28h0M11.3 32.7h0M33.9 2h0M32.8 28.1h0M11.3 1.4h0M22.4 45.3h0M53.5 11.2h0M44.3 18.3h0M2 52.8h0M27 40.7h0M0.6 11.4h0M7.4 7.4h0M57.4 50.4h0M37.5 33.4h0M33.7 34.5h0M30.6 64h0M59.1 37.3h0M46.3 44.2h0M22 59.9h0M59.4 16.8h0M19.3 34.3h0M9.7 35.6h0M6.5 28h0M58.5 38.9h0M19 40.5h0M35.2 18.8h0M6.2 28.1h0M21.6 47.6h0M59.9 50.5h0M18 8.7h0M53.2 12.7h0M34.6 36.7h0M18.4 37.3h0M10.1 29.9h0M46.7 32.5h0M63.6 34.7h0M33.4 4.7h0M49.9 6.5h0M9 5h0M11.7 33.5h0M26.8 3.1h0M33.7 58.6h0M63.7 29.7h0M31.2 48.3h0M27.9 3.5h0M35.3 7.8h0M15.4 61.1h0M33.7 46.4h0M64.6 11.4h0M30.6 -0h0M-0.4 34.7h0M-0.3 29.7h0" stroke="#45008B" stroke-width="1.8" stroke-linecap="round" fill="none"/></pattern>
<pattern id="p25" width="64" height="64" patternUnits="userSpaceOnUse"><path d="M18.6 58.4h0M25.2 49.6h0M28.4 51.5h0M1.2 18.2h0M18 60.6h0M41.5 11.6h0M27.5 26.6h0M46.9 20.3h0M4.4 50.4h0M14.5 26.4h0M29.6 49.6h0M35.5 16.1h0M23.8 21h0M14.2 14.2h0M42.6 7.2h0M57.9 35.8h0M29 62.6h0M63.6 24.6h0M36.3 31.7h0M62.3 28.8h0M45.3 62.3h0M57.1 22h0M19.6 30h0M33.9 42.3h0M2.8 15.9h0M12 34.5h0M9.7 61.7h0M58.6 59.6h0M49.3 2.3h0M19 15.9h0M42.5 19.5h0M47.4 48.3h0M34.9 61.7h0M-0.4 24.6h0" stroke="#8B8B00" stroke-width="1.8" stroke-linecap="round" fill="none"/></pattern>
<pattern id="p26" width="64" height="64" patternUnits="userSpaceOnUse"><path d="M0.5 39.4h0M40.6 22.4h0M11.5 9.3h0M25.7 15h0M31.7 63.6h0M32 47.8h0M14.7 35.9h0M12.6 41.5h0M39.9 58.2h0M6.1 35.3h0M42.4 24.1h0M56.9 6.3h0M40.8 12.9h0M49.4 62.2h0M22.8 1.6h0M17.4 5.9h0M30.8 58.5h0M38.7 39.4h0M34.9 42.7h0M28 19.8h0M58.7 19.6h0M44.2 33.8h0M57 46.1h0M40 30.4h0M8.8 11.6h0M40.5 30.6h0M28 18h0M15.8 43.4h0M3.4 27h0M33.1 5.1h0M37.4 39.9h0M53.7 55.2h0M62 24.7h0M54.7 15.2h0M54 40.6h0M62.7 27.6h0M29.5 6.6h0M12.3 35.3h0M20.5 39.5h0M38.8 49.3h0M58.7 48.7h0M64.5 39.4h0M31.7 -0.4h0" stroke="#00008B" stroke-width="1.8" stroke-linecap="round" fill="none"/></pattern>
<pattern id="p27" width="63" height="63" patternUnits="userSpaceOnUse" patternTransform="scale(0.4938 0.5865)"><path d="M46.8 25.6h0M38.8 30.4h0M3.1 28.3h0M50.8 25.6h0M6.6 38.1h0M1 48.8h0M12.9 55.8h0M16.6 47.1h0M20.1 33.1h0M19.9 37.1h0M49.7 62.4h0M21.1 25.1h0M62.3 27.3h0M51.9 12.6h0M29.3 52.6h0M29.9 61.9h0M40.9 0.8h0M30.6 53.3h0M33.2 58.1h0M18.9 0.2h0M17.1 8.4h0M1.2 49.8h0M52.4 46.7h0M7.8 49.8h0M34.5 55.3h0M1.7 9.5h0M57.1 10.7h0M38 60.1h0M7 12.8h0M60.7 47.1h0M60.5 21.7h0M26.4 55.6h0M22.6 47.7h0M4.3 33h0M46.2 44.5h0M61.7 48.2h0M50.8 5h0M30.9 15.5h0M21.1 54.6h0M51.9 40.1h0M21.9 33.4h0M48.7 17h0M24.7 23.9h0M18.8 50.6h0M5.2 42.8h0M8.2 53.6h0M43.9 35.1h0M60.8 6.1h0M61 18.4h0M30.1 42h0M41.1 59.5h0M15.1 59h0M15.5 28.1h0M47.1 18.4h0M6.8 3h0M37.8 48.2h0M8.2 24.7h0M47.8 4.2h0M11.2 2.6h0M47.2 13h0M11 10.1h0M33.7 59h0M7.9 31.5h0M22.3 54.8h0M18.4 16h0M48.8 31h0M11.5 36.2h0M2.4 5.1h0M60.9 24.6h0M27.9 5.7h0M58.3 32h0M58.9 22.4h0M19.9 49.4h0M12.1 5h0M46.2 34.9h0M61.3 15.5h0M12 30.3h0M1.7 33.6h0M54.9 29.5h0M3.1 37.9h0M46.8 36h0M38.3 12.2h0M42.8 60.3h0M30.1 1.8h0M19.1 3.6h0M50.9 22.8h0M9.4 20.5h0M42.4 25.8h0M31.9 59.8h0M58.4 21.6h0M21.4 50.4h0M20.3 4.9h0M19.4 36.7h0M8 29.8h0M7.3 45.1h0M7 15.3h0M5.5 52.3h0M47.4 42.1h0M25.8 27.1h0M40.3 12.2h0M26.7 18.6h0M35.4 1.7h0M38.4 33.6h0M36.4 17.6h0M30.6 31.1h0M21.9 57.6h0M31.5 52.4h0M19.9 28.4h0M4.2 51.8h0M62.1 61.7h0M15.6 48.1h0M10 58h0M55.9 42.9h0M62.2 16.6h0M2.4 0.8h0M37.1 25.8h0M14.3 50.9h0M51.5 24.3h0M38.4 42.7h0M52.1 16.6h0M16.5 55.7h0M8.6 57.6h0M62.8 22.2h0M17.8 1.6h0M13.1 55.1h0M51.5 50.2h0M49.8 3.8h0M37.1 47.7h0M4.7 35h0M30.2 37.1h0M9.6 23.2h0M10.8 42.9h0M6.6 57.3h0M10.5 8.4h0M18.4 28.6h0M16.8 45.1h0M11.6 9.6h0M29.1 46h0M58.3 12.8h0M11.7 57.7h0M41.3 46.6h0M4.8 7.6h0M29.9 55.3h0M16.6 44.3h0M38.5 2.1h0M62.3 45.1h0M7.7 46.7h0M12.7 20.9h0M19.2 61.4h0M4.4 28.7h0M12.9 8.1h0M6 37.7h0M9.9 38.9h0M2.5 16.5h0M16.4 4.7h0M53.7 51.8h0M9.6 40.7h0M33.3 1.3h0M39 25.8h0M13.6 5.6h0M33.1 21.8h0M40.3 56.3h0M42.8 54.5h0M3.1 7h0M55.1 3.7h0M22.9 21.8h0M16.8 46.4h0M22 21.2h0M19.7 54.9h0M62.7 29.3h0M47.1 62.6h0M56.7 49.5h0M38 60.2h0M31.2 62.2h0M49.1 14.2h0M1.1 44.3h0M30.3 51.1h0M14.7 56h0M29.9 49.9h0M8.3 34.5h0M34.3 41h0M42.1 37.8h0M39.4 22.4h0M58 24.9h0M23.7 32.8h0M49.5 59.9h0M10.1 57.9h0M36.2 1.6h0M36.3 6.5h0M7.5 4h0M8.6 2.5h0M46.5 59.5h0M4.9 17.6h0M34.4 47.6h0M7.8 16.4h0M48.8 38.6h0M47.1 45.4h0M37.5 4.6h0M49.7 -0.6h0M-0.7 27.3h0M40.9 63.8h0M18.9 63.2h0M-0.9 61.7h0M-0.8 16.6h0M2.4 63.8h0M-0.2 22.2h0M-0.7 45.1h0M-0.3 29.3h0M47.1 -0.4h0M31.2 -0.8h0" stroke="#FF7F00" stroke-width="1.8" stroke-linecap="round" fill="none"/></pattern>
<pattern id="p28" width="64" height="64" patternUnits="userSpaceOnUse" patternTransform="scale(0.4938 0.5865)"><path d="M22.1 31h0M19.3 55.8h0M42.4 31.6h0M48.3 34.6h0M40 40.5h0M11.4 46.9h0M13 0.2h0M53.7 27.6h0M43 63.8h0M20.1 6.9h0M17 0.9h0M46.1 61h0M54.7 46.9h0M3.2 23.3h0M62.9 52.8h0M38.4 55.8h0M37.5 27.2h0M1 5.1h0M18 35.5h0M45.9 6.8h0M31.3 49.9h0M11.8 27.9h0M29.7 21.9h0M36.7 15.1h0M40.5 37.7h0M61.4 56.8h0M56.4 14.6h0M50.3 4.1h0M16 23h0M19.1 20.3h0M61.2 6.2h0M35.5 5.8h0M26.2 21.7h0M28.9 59.6h0M16.9 40.8h0M49.4 10.9h0M32.2 62h0M60 42.4h0M40.2 39h0M12.1 43.4h0M49.2 56.4h0M29.7 37.6h0M41.1 50h0M13.2 43.4h0M53.9 15.1h0M30.5 3.8h0M45.9 53.9h0M35.5 27.5h0M51.7 16.3h0M28.8 9.6h0M57.7 16.7h0M12.7 12h0M48.1 13.7h0M46.2 29.2h0M55.8 29.4h0M12.8 53.4h0M54.2 16.9h0M14.8 22.3h0M21.7 26h0M44.1 35.9h0M35.7 21.4h0M0.2 28.4h0M30.7 39.6h0M24.5 31.4h0M2.7 13.3h0M28.5 39.3h0M31.8 6.6h0M40.4 59.9h0M61.9 57.5h0M35.2 60.2h0M26.1 60h0M21.9 35.5h0M21.8 10h0M29.6 2.3h0M30.7 12.8h0M59.9 43.3h0M8.3 5.4h0M60.4 56.2h0M33.1 16.9h0M20.6 11.2h0M9.9 49.8h0M60 30.5h0M43 4.8h0M4.7 7.6h0M48.4 21h0M17.5 36.9h0M7.3 3.7h0M29.6 13.2h0M46.6 23.8h0M30 3.7h0M47.8 55.3h0M33.4 5.6h0M61.8 5.8h0M4.1 21.9h0M0.5 17.8h0M10.1 29.9h0M14.6 48.1h0M43.8 29.3h0M33 62h0M29.9 42.7h0M23.9 61.4h0M28.4 38.8h0M0.6 51.1h0M11.5 1.7h0M37.4 5.7h0M34.3 20.8h0M32.7 4h0M45.4 57.7h0M10.2 60.5h0M1.2 52.2h0M48.6 20h0M17.4 22h0M63.3 22.5h0M60.8 54h0M31.1 13.6h0M6 14.6h0M42.2 13.2h0M58.5 3.7h0M27.3 30.9h0M7.4 29.1h0M10.9 41.4h0M22.4 9.2h0M56.8 15.7h0M37.5 24.4h0M36.6 51.6h0M60.9 59h0M24.2 30.5h0M8.6 20.9h0M38.2 19.6h0M26.9 35.8h0M30.6 51h0M21.1 5h0M12.6 31.7h0M16.7 30.1h0M3.5 37.8h0M17.3 17.1h0M42.9 11.3h0M27.2 53h0M38.1 12.6h0M11.9 21.3h0M43.2 19.1h0M44.3 22.4h0M26.5 29.3h0M38.9 8.3h0M23.4 46.2h0M26.5 3.4h0M35.8 25.6h0M36.3 0.3h0M11.5 0h0M57.1 6.5h0M18.7 55.2h0M10.9 17.8h0M35.7 32.2h0M59 60.5h0M4.8 50.4h0M39.1 55.2h0M42.6 26.7h0M38.7 58.7h0M9.4 61.2h0M48 30.5h0M19.3 23.4h0M39.1 50.5h0M4.4 20.3h0M56.8 46.9h0M37.2 36.5h0M46.1 60.1h0M28.9 6.6h0M10.7 35.7h0M47.3 44.1h0M45.2 43.7h0M39.6 2.3h0M11.8 56.2h0M34.6 33.9h0M39.9 58.8h0M5.2 57h0M47.4 36.4h0M37.9 50h0M23.8 15.2h0M50.9 20.7h0M31.4 9h0M63.5 45.7h0M53.9 62.2h0M0.2 42h0M41.2 60.7h0M13 64.2h0M43 -0.2h0M64.2 28.4h0M64.5 17.8h0M64.6 51.1h0M-0.7 22.5h0M36.3 64.3h0M11.5 64h0M-0.5 45.7h0M64.2 42h0" stroke="#FF0000" stroke-width="1.8" stroke-linecap="round" fill="none"/></pattern>
<pattern id="p29" width="64" height="64" patternUnits="userSpaceOnUse" patternTransform="scale(0.4938 0.5865)"><path d="M23.4 22.2h0M14.3 51.4h0M52.1 15.8h0M5.5 35h0M49.6 3.2h0M40.5 49.6h0M57.1 12.8h0M57.6 15.5h0M39.6 17.7h0M62 5.1h0M37.8 31.8h0M30.9 40.1h0M25.2 54.3h0M12.1 16.8h0M4.3 17.1h0M1.2 0.2h0M42.8 45.9h0M47.7 6.8h0M13.6 63.7h0M41.5 0.3h0M39.4 34.2h0M37.8 46.2h0M4.4 59h0M59.8 43.1h0M28.2 25.4h0M3.5 8.7h0M3.5 41.6h0M2 29.9h0M28.9 16.7h0M35.9 6.5h0M26.1 30.3h0M21.3 44h0M10.6 54.8h0M22.2 8.1h0M28.6 28.3h0M43.5 54.5h0M29.6 49.7h0M22.5 47.6h0M12.9 12.8h0M43.8 57.3h0M30.5 27h0M50.5 43.1h0M47.1 8.3h0M40.7 27.7h0M32.6 22.9h0M36.1 34.6h0M10.6 60.6h0M20 61.3h0M62.7 50.8h0M25 13.4h0M23.6 63.2h0M21.1 30.6h0M8.7 3.6h0M44.9 43.5h0M46.4 47.1h0M56.2 33.6h0M34 3.8h0M13 33.1h0M22.2 24.5h0M28.9 10.7h0M36.2 41.3h0M40.9 49.7h0M56.3 52.9h0M3.7 54.1h0M14.2 63.5h0M19.7 3h0M10.3 35.8h0M62.4 62.7h0M29.7 13.2h0M0.8 60.9h0M49.3 54.8h0M62.5 19.7h0M43.5 32.1h0M47.2 47.7h0M40.2 29.6h0M58.2 46.7h0M49.4 21.4h0M25.4 52.6h0M35.7 7.4h0M23.3 40.6h0M40.2 47.1h0M2.4 26.9h0M1.2 64.2h0M13.6 -0.3h0M41.5 64.3h0M23.6 -0.8h0M14.2 -0.5h0M64.8 60.9h0" stroke="#008B8B" stroke-width="1.8" stroke-linecap="round" fill="none"/></pattern>
<pattern id="p30" width="64" height="64" patternUnits="userSpaceOnUse" patternTransform="scale(0.4938 0.5865)"><path d="M56.1 8.6h0M10.5 59.4h0M10.3 7.8h0M47.2 30.7h0M43.9 21.5h0M2.7 32.2h0M34.7 34.7h0M25.6 21.6h0M0.2 45.6h0M27.1 28.8h0M39.6 22.4h0M3.2 50.9h0M22.5 60.7h0M28.3 29.7h0M33.2 38.3h0M24.6 23.1h0M26.9 22.1h0M44.5 59h0M56.7 6.6h0M58 45.1h0M20 2.7h0M5.4 21.4h0M54.2 23.6h0M57.1 40.9h0M60.1 9.8h0M25.7 21.2h0M60.7 29.5h0M18.8 23.1h0M33.5 41.9h0M28.9 17.3h0M8 60.5h0M4.7 32.2h0M29.3 10.8h0M39.8 46h0M1.4 31.7h0M58.3 1.6h0M30.1 46.4h0M6.2 58.1h0M18.5 2.4h0M32.1 35.6h0M11.9 47.5h0M1 19.6h0M6.2 45h0M3.4 63.2h0M40.3 20h0M35.9 61.9h0M63 47.4h0M52.7 23.6h0M16.8 12.5h0M15.9 57.3h0M42.7 48.8h0M57 3.6h0M12.7 15.9h0M39.9 0.9h0M23.5 22.9h0M24.8 18.5h0M39.3 19.9h0M49.7 5.6h0M46 17.3h0M5.3 57.2h0M42.3 20.6h0M47.8 35.3h0M29.9 51.8h0M2.5 20h0M44 13.4h0M11.9 19.7h0M62.9 0.2h0M56 25.4h0M37.7 16.2h0M63.5 22.7h0M1 59.8h0M49.8 26.5h0M51.6 38.8h0M57.9 59.2h0M3.4 37.9h0M44.1 3.8h0M41.3 35.8h0M51 33.9h0M38.4 17.9h0M54.8 48.2h0M34.5 3h0M4.6 56.5h0M52.5 3.3h0M16.1 33.2h0M61 28.8h0M26.9 10.8h0M37.7 20.1h0M53.9 30h0M49.4 41.9h0M32.2 29.7h0M53.6 32.4h0M40.4 3.4h0M47.6 61.7h0M53 51.1h0M20 25h0M7.5 22h0M52.3 27.9h0M16.1 11.8h0M4.4 19.2h0M13.6 63h0M22.6 62.6h0M24.5 46.4h0M44.1 46.2h0M45.5 28h0M51.3 44.6h0M15.4 33.9h0M37.6 33.6h0M48.7 23.3h0M56.7 37.6h0M51.1 42.9h0M13.8 5.9h0M17.7 25h0M39.7 37.2h0M39.8 62.9h0M9.9 62.5h0M24.1 12.1h0M29.9 23.7h0M38.9 15.6h0M35.5 56.3h0M32.3 1.2h0M16.3 39.6h0M34.7 52.8h0M31.9 59.1h0M64.2 45.6h0M3.4 -0.8h0M62.9 64.2h0M-0.5 22.7h0" stroke="#45008B" stroke-width="1.8" stroke-linecap="round" fill="none"/></pattern>
<pattern id="p31" width="64" height="64" patternUnits="userSpaceOnUse" patternTransform="scale(0.4938 0.5865)"><path d="M4.7 10.9h0M54.7 32.4h0M32.2 8.8h0M31.3 16.4h0M13.2 31.3h0M61.9 45.5h0M24.7 15.1h0M9.8 40.3h0M53.9 31h0M29.2 15.9h0M3.3 19.1h0M62.7 33.5h0M21.3 9.7h0M15.3 20h0M16.6 11.3h0M18.1 54.4h0" stroke="#008B00" stroke-width="1.8" stroke-linecap="round" fill="none"/></pattern>
<pattern id="p32" width="64" height="64" patternUnits="userSpaceOnUse" patternTransform="scale(0.4938 0.5865)"><path d="M18.1 5.7h0M17.4 9.4h0M22.3 34.6h0M51.5 18h0M56.8 3.4h0M9.5 22.1h0M23.9 45.2h0M52.8 22.2h0M20.2 35.1h0M36.3 5.2h0M33 41.9h0M10.2 23.7h0M50.2 26.8h0M63.8 4.7h0M1.6 54.7h0M59.6 45.9h0M41.1 3.8h0M30.1 43.5h0M54.5 39.4h0M33.1 17.1h0M10.5 1.9h0M50.2 13.1h0M43.8 34.1h0M52.5 45h0M13.7 35h0M27.9 15h0M0.5 43.5h0M26.4 12.2h0M51.3 26.8h0M42 28.6h0M56.9 30h0M17.4 48.9h0M48.9 31.3h0M49.1 3h0M52.7 61.1h0M62 50h0M58.8 52.4h0M25.1 18.1h0M30.4 6.4h0M39.2 14.5h0M53.4 47.9h0M63 34.2h0M41.9 57.6h0M1.1 13.6h0M23.7 13.2h0M30.7 31.3h0M37.8 57.8h0M34.4 39.3h0M61.2 56.6h0M18.9 10.3h0M8.5 58.1h0M24.4 21.8h0M58.2 40.8h0M25.3 32.1h0M30.9 31.5h0M28.3 39.4h0M43.7 7.7h0M57.9 13h0M21.9 7.7h0M62.5 63.3h0M33.7 9.3h0M36.6 26.1h0M60.2 60.4h0M36.7 2.7h0M39.2 38.2h0M5.1 8.7h0M10.5 18.7h0M26.6 1.8h0M23.2 49.6h0M7.1 56.4h0M41.1 10.5h0M43.7 8.9h0M29.9 24.6h0M28.2 45.4h0M25.4 32.5h0M61.8 63.6h0M36 49.6h0M14.5 58.5h0M37.1 60.8h0M58.6 41.4h0M47.4 62.8h0M27.1 47.1h0M-0.2 4.7h0M64.5 43.5h0M62.5 -0.7h0M61.8 -0.4h0" stroke="#458B45" stroke-width="1.8" stroke-linecap="round" fill="none"/></pattern>
<pattern id="p33" width="28" height="28" patternUnits="userSpaceOnUse" patternTransform="scale(0.4938 0.5865)"><path d="M25.7 21.8h0M3.8 11.7h0M21.9 11.8h0M7.2 5h0M24.9 21.2h0M14.9 16h0M4.1 4h0M25.9 17.9h0M23.6 17.6h0M10.9 3.6h0M14.1 14.4h0M27.8 16.8h0M12.5 4.2h0M19.7 1.4h0M2.3 13.7h0M24.5 4.1h0M14.1 28h0M4.6 13.6h0M9.6 1.1h0M7.1 9.4h0M10.1 27.8h0M1.8 19.3h0M14.8 3.7h0M14.3 21.2h0M12.2 27.2h0M1.3 23.5h0M8.3 0.9h0M17.1 14.6h0M10.5 11.1h0M9.3 21h0M20.7 10.2h0M20.3 0.6h0M10.6 21.2h0M23.8 13.9h0M20.1 24.9h0M10.4 6.3h0M15.4 9.4h0M4.4 26.8h0M6.5 1.9h0M27.2 24.6h0M2.4 0.5h0M12.9 14.5h0M20.4 11.2h0M24.9 25.6h0M20.1 11.4h0M19.3 26.3h0M23.9 26.6h0M25.7 11.6h0M18.4 8.4h0M20.1 12.6h0M5.7 6.3h0M0.5 27h0M21.1 24.5h0M13.5 13h0M16.6 17.9h0M9.3 12.7h0M0.3 16.6h0M26.4 14.6h0M4.7 10.3h0M1.2 27.8h0M4.6 18.2h0M16.7 4.1h0M26.7 14.9h0M23.7 28h0M27.1 6.3h0M25.2 7.4h0M8.8 17.8h0M5.3 26h0M6.6 12.8h0M13.1 8.8h0M12.9 17.5h0M26.7 10.4h0M19 27.7h0M27.3 17.6h0M3.8 2.3h0M26.3 3.8h0M18.1 24.6h0M15.4 13.7h0M8.9 21.6h0M14.9 12.8h0M4.7 6h0M17 4.9h0M10.3 17.3h0M1.2 26.9h0M16.4 15.9h0M26.4 16.3h0M15.1 15.5h0M20.8 11.1h0M19.1 14.8h0M2.7 22.4h0M11.6 6.9h0M5.1 27.3h0M5.3 15.7h0M15.5 13.4h0M0.9 12.9h0M5.1 10.6h0M22 1.1h0M12.3 25.3h0M10 22.9h0M10.1 27.1h0M2.2 9h0M18.8 0.7h0M4.8 20.8h0M19.6 21.6h0M4.5 4.5h0M8.5 20.4h0M4.2 12.3h0M20.3 22.8h0M24.4 3.6h0M12.7 7h0M21.4 13.7h0M15.4 0.2h0M24.7 17.1h0M8.3 0.8h0M20.8 26.5h0M3.8 11h0M17.6 9.2h0M26.2 0.7h0M1.2 8.6h0M4.9 18.1h0M26.8 18.4h0M13.8 10.2h0M12.4 6.7h0M8.8 21.3h0M16.8 14.9h0M19.6 14.2h0M25.8 7.6h0M8.9 0.5h0M16.4 2.9h0M4.4 26.8h0M24 27.2h0M0.8 10.3h0M8.6 11.9h0M9.5 6.2h0M13 9.4h0M2 17.2h0M0.7 14.5h0M22.6 12.2h0M14.4 13.6h0M13.5 14.3h0M17.9 21h0M16.6 4.4h0M13.9 12.8h0M20.9 16.7h0M3.5 12.1h0M11.1 12.3h0M1.2 16.9h0M26.8 17.7h0M14.4 11.5h0M13.3 12.9h0M6.8 27.8h0M15.4 2.5h0M6.2 17.4h0M18.5 8.4h0M1.2 14.4h0M27.9 2.2h0M23.8 24.4h0M14.2 16.7h0M27.5 19.9h0M5.5 19.8h0M1.3 2.8h0M21.2 8h0M1.3 4.6h0M15.2 14.8h0M23.1 10.7h0M23.1 1.4h0M27.1 25.5h0M1.8 13.6h0M16.7 23h0M13.2 25.9h0M26 6.8h0M10 2.3h0M23.1 13.9h0M17.7 3.1h0M13.9 25.2h0M11.6 17.8h0M6.8 16.6h0M15.2 13.3h0M6.8 16.8h0M5.8 5.9h0M10.2 7.5h0M13 26.2h0M17.8 2.4h0M19.4 16.5h0M0.8 8.4h0M2.8 19.6h0M20.5 11.5h0M11.2 6.8h0M2.3 5.6h0M10.1 18.5h0M16.4 13.1h0M15.3 26.8h0M0 2.1h0M10 16.5h0M9.1 5.8h0M16.5 2.5h0M-0.2 16.8h0M14.1 -0h0M10.1 -0.2h0M12.2 -0.8h0M20.3 28.6h0M-0.8 24.6h0M2.4 28.5h0M28.5 27h0M28.3 16.6h0M1.2 -0.2h0M23.7 -0h0M19 -0.3h0M-0.7 17.6h0M5.1 -0.7h0M28.9 12.9h0M10.1 -0.9h0M18.8 28.7h0M15.4 28.2h0M8.3 28.8h0M26.2 28.7h0M8.9 28.5h0M24 -0.8h0M28.8 10.3h0M28.7 14.5h0M6.8 -0.2h0M-0.1 2.2h0M-0.5 19.9h0M-0.9 25.5h0M28.8 8.4h0M28 2.1h0" stroke="#008B45" stroke-width="1.8" stroke-linecap="round" fill="none"/></pattern>
<pattern id="p34" width="64" height="64" patternUnits="userSpaceOnUse" patternTransform="scale(0.4938 0.5865)"><path d="M42.1 2.9h0M19 1h0M17.3 6.8h0M20.9 30.1h0M38.5 19.8h0M53.4 1.5h0M10.8 38.2h0M44.2 45.6h0M55.3 63.2h0M8.4 49.8h0M62.3 33.2h0M23.1 28.8h0M37.6 35.5h0M58.3 61.1h0M1.5 53.9h0M2.3 45.3h0M19.3 26.1h0M19.1 45.3h0M41.3 44.3h0M24.6 23.4h0M60.4 40h0M1 8.7h0M17.3 49.1h0M57.7 28.1h0M58.3 31.8h0M15.2 44.9h0M39.9 16.2h0M33.4 8h0M49.6 29.9h0M36.5 63.7h0M23.3 0.7h0M37.5 0.3h0M19.2 62.5h0M6 17.8h0M13.9 51.5h0M40.3 51.2h0M56.3 20h0M31.6 56.7h0M53.1 25.2h0M27.8 51h0M6 10.1h0M54.1 32h0M25.8 29.3h0M17.1 40.5h0M20.4 29.6h0M2.4 11.4h0M54.5 29.9h0M29.6 21.4h0M11.2 30.5h0M7.4 48.3h0M49.5 17h0M59.3 20.8h0M54.1 37.9h0M43.2 58.9h0M24.1 32.9h0M50.8 20.4h0M51.7 20.4h0M25.2 19.1h0M28.5 3.7h0M57.3 28.3h0M47.1 2.5h0M51.9 48.1h0M9.5 24.8h0M37.4 14.1h0M3 19.8h0M26.8 37.5h0M17.9 29.4h0M32.1 37.1h0M26.9 51.1h0M4.9 63.9h0M16.4 55.8h0M61 34.2h0M41.8 22.6h0M59.8 49h0M38.9 47.2h0M19.9 45.7h0M51.9 21.6h0M36.4 16.2h0M14.3 12.6h0M14.2 21.1h0M57.9 8.5h0M54.1 18.9h0M55.3 -0.8h0M36.5 -0.3h0M23.3 64.7h0M37.5 64.3h0M4.9 -0.1h0" stroke="#8B4500" stroke-width="1.8" stroke-linecap="round" fill="none"/></pattern>
<pattern id="p35" width="64" height="64" patternUnits="userSpaceOnUse" patternTransform="scale(0.4938 0.5865)"><path d="M14.7 2.3h0M8.5 0.8h0M13.1 19.1h0M0.8 25.8h0M1.9 59.3h0M21.5 19.4h0M11.4 18.7h0M27.3 9.7h0M54.6 20.2h0M11.3 9.2h0M54.3 17.3h0M52.7 7.5h0M19.4 60.7h0M42.4 34h0M57.9 19.2h0M53.8 9.1h0M8.5 64.8h0M64.8 25.8h0" stroke="#8B008B" stroke-width="1.8" stroke-linecap="round" fill="none"/></pattern>
<pattern id="p36" width="64" height="64" patternUnits="userSpaceOnUse" patternTransform="scale(0.4938 0.5865)"><path d="M38.3 18.1h0M58.3 18.4h0M57.4 27.2h0M35.3 41.8h0" stroke="#00FFFF" stroke-width="1.8" stroke-linecap="round" fill="none"/></pattern>
<pattern id="p37" width="63" height="63" patternUnits="userSpaceOnUse" patternTransform="scale(0.4938 0.5865)"><path d="M24.6 19.7h0M50.1 33.9h0M50.6 38.3h0M58.3 20.4h0M30.7 7.3h0M24.6 9.1h0M54 39.9h0M46.3 37.4h0M24.1 24h0M56.9 18.1h0M28.5 19.6h0M44.4 22.8h0M51.7 49.1h0M14.7 47.8h0M49.3 36.7h0M10.5 40.5h0M1.9 31.7h0M30.1 24.3h0M52.5 10.8h0M34.3 10.2h0M16.2 26.9h0M36.5 36.2h0M8.8 48.9h0M59.2 39h0M41.5 43.1h0M24.4 2.6h0M61.6 55.7h0M32.9 0.7h0M13.4 47.4h0M34.2 31.5h0M46.8 39.6h0M8.7 25.8h0M62.1 50.2h0M36 31.9h0M7.8 19.2h0M47.8 15.7h0M35.3 12.7h0M57.7 0.3h0M6.2 0.5h0M21.3 21.3h0M21.2 11.8h0M40.4 60.5h0M43.8 22.9h0M23.2 51.4h0M28.9 48.9h0M9.9 24.6h0M56.7 53h0M54.2 27.4h0M19.2 47.7h0M55.3 21.6h0M47.9 11.6h0M43.5 57.1h0M43.3 52.9h0M16 26.2h0M54 40.6h0M44.5 49.6h0M25.2 31h0M45.2 28.4h0M18.3 11.3h0M40 40h0M23.4 2.1h0M21.3 20.4h0M12 31.7h0M3.3 32.6h0M25.7 44.1h0M53.7 47.2h0M43.4 12.6h0M60.2 20.9h0M47.8 33.2h0M7.7 43.1h0M3.6 10.6h0M9 14.4h0M38.8 46.7h0M29.5 50.4h0M18.4 46.6h0M10.1 61.9h0M14.1 4.8h0M47.8 11.5h0M8.1 0.1h0M49.4 24.1h0M1.7 53.3h0M21.8 3.4h0M53.8 29.3h0M44 61.4h0M5.6 3.5h0M28.3 39.7h0M58.2 11.3h0M0.3 33.3h0M10 30.6h0M38.2 40.8h0M7.8 20.4h0M12.5 33.7h0M30.4 30.8h0M59.4 5.2h0M31.6 5h0M28.6 6.1h0M62.5 54.8h0M39 32.7h0M27.2 57.4h0M3.2 31.5h0M2.9 61.7h0M3.3 62.1h0M7.1 46.1h0M18.9 16.1h0M40.5 13.6h0M27.9 59h0M55.7 25.2h0M26.3 10.2h0M61 39h0M20.3 27.2h0M16.6 59.1h0M58.2 39.2h0M4.6 42.3h0M23.5 42.3h0M47.3 57.3h0M55.3 43.8h0M10.2 18h0M33.3 4.9h0M48.1 33.3h0M7.8 12.7h0M46.9 0.1h0M23.9 36.2h0M56.9 33.9h0M39.4 35.3h0M25.4 24.6h0M16.5 15.9h0M17.9 17h0M9.6 15h0M47.6 28.5h0M27.5 2.6h0M8.1 15.6h0M58.3 52h0M14.2 48h0M36.2 16.3h0M27.4 58.7h0M39.3 59.1h0M12.1 37h0M62.6 32.6h0M2 6.6h0M32.6 38.3h0M19.9 0.4h0M14.8 0.6h0M5.4 16.5h0M44.6 37h0M30.3 22.6h0M48.6 49.5h0M39.6 15.8h0M10.4 25.4h0M12.3 48.2h0M24.7 31.5h0M10.3 48.1h0M41.5 6.5h0M22.2 28.5h0M60.1 24.5h0M18.4 9.8h0M44.8 10.8h0M39.1 2.8h0M48.6 58.5h0M44.3 8.2h0M7.2 1.1h0M29.4 52h0M52.8 38h0M30 62.2h0M2.8 62.7h0M17.5 19.4h0M41.1 10h0M27.2 39.3h0M34.3 15.5h0M14.5 21.5h0M28.8 26h0M0.8 27.1h0M50.9 18.8h0M16 26.5h0M11.2 60.6h0M44.9 50h0M56.7 14.3h0M28.9 58.3h0M48.3 58.2h0M33.7 44.1h0M36.1 25.4h0M35.5 10.6h0M53.1 7.5h0M21.3 55.1h0M13.8 3.1h0M44.9 57.5h0M16.4 44.2h0M21.5 62.4h0M59.5 23.5h0M28.4 18.9h0M7.2 61.1h0M3.1 45.5h0M23 37h0M44.4 26h0M26.3 17.7h0M58.8 57.1h0M56.7 37.4h0M17.4 22.9h0M24.2 31.1h0M32.9 63.7h0M-0.9 50.2h0M57.7 63.3h0M6.2 63.5h0M8.1 63.1h0M63.3 33.3h0M-0.5 54.8h0M3.3 -0.9h0M46.9 63.1h0M-0.4 32.6h0M19.9 63.4h0M14.8 63.6h0M30 -0.8h0M2.8 -0.3h0M63.8 27.1h0M21.5 -0.6h0" stroke="#474747" stroke-width="1.8" stroke-linecap="round" fill="none"/></pattern>
<pattern id="p38" width="64" height="64" patternUnits="userSpaceOnUse"><path d="M51.5 5.1h0M8.1 45.6h0M61.3 56.6h0M41.6 48.8h0M49 48.2h0M6 11.2h0M8.8 50.7h0M19.1 12.6h0M6.1 29.3h0M23 32.5h0M45 53.6h0M61.1 11.6h0M3 48.7h0M61.2 59.9h0M61.5 45.9h0M9.6 52h0M32.5 27.3h0M26.4 25.3h0M30.7 60.2h0M54.1 24.8h0M51.2 48.8h0M29.2 3.7h0M40.9 30.6h0M59.1 25.2h0M1.1 4.8h0M42.5 5.4h0M33 63.5h0M59.3 46.5h0M10.1 33.7h0M16.6 40.3h0M53.1 24.1h0M12.1 21.6h0M13.9 30.6h0M20.4 35.5h0M32.6 0.6h0M4 26h0M35.2 49.9h0M8.7 1h0M14.4 44.4h0M37.6 6.9h0M33.3 45h0M44.4 21.5h0M45.7 59.2h0M43.3 45.8h0M56.7 48.6h0M63.1 5.8h0M29 63.5h0M22.8 53.8h0M52.1 29.1h0M37.8 57.6h0M31.5 35.1h0M13.6 17.7h0M39.3 11.5h0M11.9 30.1h0M51.1 5.5h0M35.8 49.6h0M10.5 16.2h0M51 50.8h0M54.6 41h0M18.6 49.7h0M12.7 25h0M37.1 36.2h0M38.4 24.5h0M62 12.1h0M42.8 60.4h0M37.1 26.6h0M46.8 33.2h0M13.1 39.4h0M41.6 33.4h0M32 34.1h0M33.6 36.5h0M32.2 36.3h0M58.8 29.5h0M54.7 22h0M43.7 8.1h0M56.9 40.4h0M3.5 1h0M48.9 30.7h0M38.8 36.7h0M31.9 44.2h0M47.6 40.7h0M25.1 25.4h0M17.1 39.3h0M47.8 51.8h0M22.7 38.3h0M57 16.5h0M33.4 32.3h0M49.6 41.5h0M64 58.7h0M22.3 21.6h0M0.1 5.1h0M9 8.1h0M29.1 48.2h0M52.7 11.1h0M54 44.3h0M47 56h0M39.7 22.4h0M54.3 20.6h0M9.6 2.2h0M63 60.6h0M47.3 47.4h0M40.1 20.5h0M33 -0.5h0M32.6 64.6h0M-0.9 5.8h0M29 -0.5h0M-0 58.7h0M64.1 5.1h0" stroke="#7F00FF" stroke-width="1.8" stroke-linecap="round" fill="none"/></pattern>
<pattern id="p39" width="64" height="64" patternUnits="userSpaceOnUse"><path d="M36.5 26.3h0M59.5 2.3h0M62.6 7.9h0M32.6 60.5h0M53.5 53.1h0M34.3 40.2h0M16.9 32h0M31.6 22.5h0M44.4 3.6h0M49.1 12.2h0M27.4 18.9h0M38.4 53.7h0M5.3 1.5h0M33.5 2.8h0M48.2 16.2h0M25.3 56.9h0M12.7 18.9h0M7.6 39.3h0M51.8 22.4h0M34 6.1h0M2.2 6.9h0M55.3 60.8h0M41.2 20.7h0M1.5 28.1h0M54.3 19.6h0M19.3 57h0M56.6 13.4h0M6.7 30.6h0M26.9 15.6h0M51.3 2.2h0M9.6 16h0M2.7 26.6h0M54.4 4.9h0M7 49.5h0M45 49.5h0M56.8 49.3h0M34.6 8.4h0M5.2 13.5h0M41.4 61.9h0M61.2 4.2h0M11.1 54.9h0" stroke="#458B00" stroke-width="1.8" stroke-linecap="round" fill="none"/></pattern>
<pattern id="p40" width="50" height="50" patternUnits="userSpaceOnUse"><path d="M34 30.1h0M43.1 46h0M49.7 18.2h0M44.9 30.3h0M43.9 32.1h0M30.4 45.7h0M41.1 35.3h0M14.9 7.8h0M17.4 12.5h0M24.3 5.9h0M8.8 37h0M22.8 12.9h0M48.1 6.4h0M22.7 13.2h0M27.6 30.2h0M9.3 23.4h0M16 5.2h0M40.1 20.6h0M5.4 33.4h0M17.7 7.5h0M33.5 40.8h0M14.5 42.4h0M42.2 5.7h0M44.5 22.3h0M37 16.4h0M19.3 22.4h0M13.5 5.1h0M35.2 36.7h0M3.4 43.2h0M38.5 35.9h0M16.4 43.8h0M20.1 30.8h0M27.6 3.1h0M48.5 46.8h0M3.6 21.5h0M24.5 8h0M47.5 31.3h0M9 20h0M3.8 2h0M35.9 21.4h0M30.7 6.3h0M20.6 22.9h0M40.5 37.3h0M25.5 9.7h0M1.2 27.1h0M43.7 21.6h0M27 12.9h0M26.8 6.8h0M12.8 37.4h0M21.7 6.4h0M13 40.4h0M42.8 13h0M18.5 23.6h0M39.7 20.9h0M24.7 32.9h0M24.1 2.1h0M16.8 48h0M14 49.8h0M41.9 0.3h0M42.5 7.5h0M13.5 6.5h0M47.5 0.8h0M41.4 16.6h0M22 0.4h0M11.5 17.7h0M15.1 26.5h0M23.6 34.5h0M36.8 48.1h0M26.9 47.2h0M48.5 3h0M47.6 22.3h0M34.1 3h0M20.7 12.2h0M27.5 33.1h0M49.9 32.2h0M48.2 8.2h0M32.6 40.9h0M27.7 22.8h0M35.4 11h0M38.7 42.1h0M41.2 25.3h0M7.5 27h0M47.2 41.1h0M45.9 32.6h0M10 41.5h0M49.3 36.5h0M19.7 13.2h0M30.6 0.5h0M19.5 0h0M8.6 8.1h0M15 4.2h0M26.5 48.4h0M40.1 31.3h0M37.6 11.6h0M2.3 14h0M35.9 13.4h0M37.9 13.4h0M34.4 34.7h0M49 2.2h0M35 30.2h0M10.7 20.8h0M0.7 30.3h0M42.3 45.7h0M18.1 37.8h0M28.8 15.8h0M27.5 34.4h0M14.8 3.8h0M9.9 4.3h0M14.6 29.3h0M13.5 25h0M28.9 12.3h0M23.7 13.1h0M5.7 41.1h0M21.5 33.5h0M44 40.6h0M32.7 21.1h0M40.9 33h0M34.2 23.6h0M47.5 16.9h0M19.6 42.3h0M26.2 14.8h0M5.7 5.3h0M8.6 35.6h0M43.1 22h0M37.4 15.6h0M13.2 2.4h0M9.5 43.6h0M23.6 11h0M0.6 26.3h0M28.4 7.3h0M25.8 39h0M35.2 30.5h0M47 14.8h0M7 35.1h0M18.3 0.4h0M49.8 3.5h0M31.4 22.3h0M11.8 25.4h0M7.3 31.2h0M37.5 10h0M48.7 10.7h0M6.8 8.1h0M10.2 14.3h0M48 27.7h0M46.1 12h0M45.8 30.4h0M24.4 28.7h0M18.6 36.4h0M7.9 26.8h0M29.4 11.8h0M4.8 26.8h0M16.8 31.5h0M36.3 23.2h0M3.5 16.1h0M1.1 13.3h0M18.5 22.5h0M12.7 46.2h0M6 37.3h0M6.9 2.2h0M40.6 47.8h0M28.3 9.2h0M8.3 18.8h0M28.9 5.9h0M8.8 9.4h0M16.5 40.1h0M16.4 15.4h0M28 2.5h0M22.8 3.2h0M42 19.8h0M33.9 28.7h0M38.7 49.6h0M42.7 5.5h0M32.6 18.2h0M0 28.5h0M24.2 12.4h0M38.6 12.9h0M10.4 18.2h0M23.2 8.2h0M41.2 48.5h0M29.7 14.6h0M32.9 18.8h0M3.2 5.1h0M29.5 41.9h0M46.1 7.9h0M1 35.2h0M21.2 22.2h0M5.6 39.1h0M8.3 6.5h0M29.2 29.2h0M11.6 21.2h0M0.6 12.5h0M16.8 38.5h0M27.2 7.9h0M46.7 25.8h0M3.1 35.4h0M10.2 45.3h0M4.6 10h0M32.6 1.1h0M19.9 6.7h0M44.7 20.7h0M-0.3 18.2h0M14 -0.2h0M41.9 50.3h0M47.5 50.8h0M22 50.4h0M-0.1 32.2h0M-0.7 36.5h0M30.6 50.5h0M19.5 50h0M50.7 30.3h0M50.6 26.3h0M18.3 50.4h0M-0.2 3.5h0M38.7 -0.4h0M50 28.5h0M50.6 12.5h0" stroke="#8B0000" stroke-width="1.8" stroke-linecap="round" fill="none"/></pattern>
<pattern id="p41" width="64" height="64" patternUnits="userSpaceOnUse"><path d="M13.6 62.9h0M31.2 16.8h0M25.2 33.8h0M17.2 35.5h0M40.8 17.9h0M29.7 43.4h0M7.3 7.3h0M1.8 42.8h0M44.1 52h0M31.7 24h0M63.5 2.1h0M59 26.4h0M28.9 58.2h0M6.7 5.4h0M0.6 55.1h0M25.6 33.8h0M47.4 22h0M10.5 3.6h0M19.1 39.7h0M57 26.5h0M57.1 26.2h0M3.3 25.1h0M5.2 43.4h0M36.4 12.9h0M49 62h0M18.7 6.1h0M60.2 49.2h0M13.6 18.1h0M50.8 1.3h0M38.2 25.5h0M29.6 12h0M46.1 20.2h0M27 9h0M53.9 0.4h0M19.3 62.4h0M14.3 51h0M55.3 6.7h0M20.5 50h0M41.5 12.8h0M16.1 34.5h0M56.2 4h0M23.4 3.1h0M34.2 44.4h0M28 42.9h0M30.6 18.8h0M45.7 16.2h0M13.5 30.5h0M41.7 5.1h0M27.5 40.9h0M19.6 39.1h0M26.9 45h0M5.9 30.7h0M62.6 37.2h0M48.8 22.8h0M41.9 43.4h0M36 4.3h0M34.4 56.2h0M48 13.9h0M10 58.6h0M32.5 4.8h0M43.8 6.3h0M42.7 28.1h0M37.3 10.5h0M36.4 26.1h0M37.3 57.2h0M62.4 17.3h0M21.6 40.7h0M50 22.2h0M52.6 45.1h0M30.8 50.4h0M0.2 20.5h0M34.5 27h0M45.4 28h0M7.6 26.6h0M57 9.3h0M60.1 9.8h0M11.8 54.1h0M30.2 26.6h0M39.6 25.4h0M15.9 36.7h0M33.4 13.1h0M61.7 22.1h0M63.8 16.3h0M45.4 25h0M40.1 1.2h0M33.9 25.6h0M14.7 50.2h0M26.9 30.1h0M59 38.1h0M56.1 1.9h0M34.2 61h0M29.6 58.5h0M30 55.2h0M52.9 52.9h0M36.9 30.8h0M11.4 18.7h0M4.5 24.5h0M63 63.8h0M61.2 27h0M47.7 45.3h0M20.3 14.6h0M7.8 37.1h0M24.1 15.9h0M52.8 63.1h0M2.3 29.3h0M35.9 37.7h0M3.5 39.8h0M23.3 59.8h0M2.9 53.1h0M20.4 0.6h0M51.1 41.6h0M25.1 11.9h0M38 48.1h0M58.2 34.8h0M57.4 51.3h0M8.3 49.7h0M54.3 39.2h0M18.9 27.2h0M35.5 63h0M9.9 61h0M21.5 29.6h0M22.7 11.5h0M19.7 42.8h0M-0.5 2.1h0M64.6 55.1h0M53.9 64.4h0M64.2 20.5h0M-0.2 16.3h0M63 -0.2h0M52.8 -0.9h0M20.4 64.6h0" stroke="#7FFF00" stroke-width="1.8" stroke-linecap="round" fill="none"/></pattern>
<pattern id="p42" width="64" height="64" patternUnits="userSpaceOnUse"><path d="M26.2 15.8h0M53.2 4.7h0M2.8 57.7h0M11.1 39.8h0M34.3 51.2h0M37.3 12.3h0M5.6 34.5h0M34.1 26.4h0" stroke="#00FF00" stroke-width="1.8" stroke-linecap="round" fill="none"/></pattern>
<pattern id="p43" width="40" height="40" patternUnits="userSpaceOnUse"><path d="M16.2 30.6h0M35.2 20.5h0M16 15h0M5.8 16.5h0M8.6 19.5h0M24.3 22.8h0M31.9 35.8h0M39.9 8.7h0M13.7 26.6h0M5.1 8.3h0M28.3 11.6h0M7.9 4.9h0M16.6 17.7h0M30.2 38.5h0M8.4 39.1h0M23.4 20.7h0M28.8 39.8h0M22 21.5h0M27 23.4h0M0.1 5.1h0M17.2 34.8h0M7.7 4h0M24.7 23.7h0M25 21.1h0M27.6 16.9h0M39.4 3.1h0M16.8 35.2h0M5 22.8h0M9.2 37.7h0M21.2 4.1h0M12.8 21.4h0M15.8 31.7h0M1.7 34.5h0M0.3 11.5h0M15.6 23.5h0M19.2 5.9h0M26 7.1h0M3.6 14.2h0M22.9 23.5h0M9.7 20.6h0M5.2 31.6h0M7.5 34.1h0M39.2 19.5h0M22.8 5.9h0M36.6 19h0M39.1 33.2h0M5 29.9h0M23.3 37.8h0M22.1 7.5h0M27.9 35h0M20 8.8h0M28.4 26.2h0M23.8 4.8h0M28.1 36h0M13 37.6h0M13.8 16.1h0M11.8 19.7h0M28.4 1.5h0M2.9 21h0M0.8 26.3h0M25.2 38.2h0M36.1 3.4h0M31 15.1h0M16.3 31.3h0M7.4 29.3h0M18.3 11.3h0M17.8 6h0M35.3 39h0M24 35.7h0M2 4h0M3 21.6h0M11.4 1.1h0M37.9 19h0M16.5 4.5h0M8.1 15.6h0M9.8 18.5h0M29.5 12.9h0M16.9 29.9h0M32.3 24.6h0M21 35.8h0M31.6 4.3h0M10.5 7.5h0M39.4 23.9h0M29.4 8.3h0M13.7 24.7h0M15.3 30.1h0M7.4 10.5h0M33.8 28.5h0M32.3 39.6h0M22.8 3.8h0M26 23.2h0M2.2 20.1h0M7 20.1h0M11.6 1.5h0M24.2 24h0M26.7 13.6h0M10.6 25.5h0M31.4 16.6h0M33.5 23.8h0M20.3 12.8h0M28.9 8h0M16.2 6.7h0M13.2 6.2h0M14.4 37.2h0M35.2 33.1h0M3.6 20.5h0M30.1 6.6h0M4.2 19.8h0M35.2 10h0M37.6 25.1h0M2.5 11.3h0M12.4 31.4h0M37.3 20.7h0M26.9 15.2h0M24.1 17.8h0M33.7 11.8h0M31.5 21.2h0M16.8 39.7h0M29.9 12.8h0M35.4 32.1h0M35.6 18h0M22.9 28.5h0M12.7 18.4h0M25.7 6.4h0M8.5 30.9h0M25.2 17.9h0M28 19.9h0M28.2 1.8h0M19.6 11.4h0M28.4 27.7h0M1.5 20.2h0M27.5 29.5h0M32.2 22.1h0M10.5 19.5h0M39.6 38h0M9.7 31.4h0M16.4 13.5h0M25.5 3.1h0M36.7 17.5h0M5.8 21.4h0M37.1 17.3h0M6.3 1.7h0M21.7 19.7h0M21.7 27h0M24.7 29.4h0M16 5.7h0M18.5 25.3h0M32.4 9.3h0M39.6 13.8h0M10.2 35.8h0M35.8 32.8h0M8.5 8.8h0M1.5 10.9h0M19.9 21.8h0M15.7 23.6h0M27.5 21h0M17.2 3.5h0M27.5 35.8h0M1 26.6h0M31.4 9.3h0M19.5 14.2h0M9.6 1.3h0M37.8 37.8h0M36.7 37h0M17 35.9h0M31 29.6h0M19.2 33.1h0M11 33.1h0M39.3 39.8h0M13.5 14.2h0M25.4 4.6h0M8.1 8.6h0M14.7 39h0M20.7 9.7h0M17 38h0M10.3 18h0M35.2 13.8h0M25 9.4h0M37.6 36.6h0M3.2 20.1h0M2.4 26.8h0M7 1.9h0M28 4.4h0M17.1 0.6h0M34.2 16.6h0M17.1 12.3h0M8.6 38.7h0M13.1 22.9h0M2.4 29.6h0M34.1 21.2h0M8.4 13.6h0M5.2 15h0M-0.1 8.7h0M8.4 -0.9h0M28.8 -0.2h0M40.1 5.1h0M-0.6 3.1h0M40.3 11.5h0M-0.8 19.5h0M-0.9 33.2h0M40.8 26.3h0M-0.6 23.9h0M32.3 -0.4h0M16.8 -0.3h0M-0.4 38h0M-0.4 13.8h0M-0.7 -0.2h0M-0.7 39.8h0M39.3 -0.2h0M17.1 40.6h0" stroke="#7FFF00" stroke-width="1.8" stroke-linecap="round" fill="none"/></pattern>
<pattern id="p44" width="42" height="42" patternUnits="userSpaceOnUse" patternTransform="scale(0.488 0.5981)"><path d="M13.5 39.9h0M7.5 28.3h0M16.3 2h0M18 8.5h0M3.1 39h0M8.7 17.9h0M27.9 8.7h0M13.2 15.7h0M11.3 20.2h0M26.8 3.7h0M27.5 39.2h0M5.4 17.5h0M35.5 24.8h0M34.2 15.2h0M17 10.1h0M4.2 6.4h0M17.7 23.8h0M10 17.1h0M21.3 28.6h0M3.5 4h0M39.2 10.7h0M39.7 24.6h0M33.3 9.3h0M23.5 18.4h0M12.8 19.4h0M31.1 37.1h0M17.2 34.6h0M33.8 13.2h0M14 15.3h0M5.7 23.9h0M41.9 41.3h0M32 20.1h0M3.1 37.6h0M39.3 33.1h0M24.5 30.1h0M15 20.4h0M28.7 29.9h0M11.1 31h0M11.9 15.3h0M23.1 5.7h0M31.8 25.3h0M2.7 10.7h0M37 29.6h0M17.3 14h0M7 5.2h0M3.8 25.1h0M17.7 25.1h0M8 4.3h0M29.7 37h0M8.7 34.8h0M14.5 21.3h0M26.7 3.5h0M27.7 2.4h0M15.6 9.9h0M29.5 34.4h0M38.6 21.3h0M0.4 3.8h0M14 28.3h0M36.2 0.4h0M41.8 41h0M8.2 19.8h0M27.3 12.6h0M16.8 11h0M3.3 26.9h0M15.3 12.7h0M7.1 36.5h0M22.7 37.4h0M9.2 13.3h0M32.5 23.4h0M20.5 41.6h0M23.3 8.6h0M24.4 40.2h0M23.4 13h0M41.5 38.5h0M13.6 6.3h0M35.2 19.5h0M34.9 0.3h0M33.7 34.5h0M14.2 12.5h0M12.6 0.3h0M20.5 39.1h0M11.4 35.1h0M28.3 27.7h0M21.4 6.6h0M7.7 16.2h0M8.9 30.3h0M1.1 20.1h0M19.4 9.6h0M34.3 36.7h0M6.1 40h0M41.2 6.5h0M35.3 19.7h0M10.5 5.1h0M20.5 6.2h0M0.1 24.2h0M34.7 6.4h0M9.3 36.9h0M19 19.7h0M14.1 18.8h0M26.8 38.6h0M40.6 29.3h0M19.4 29h0M12.7 39.5h0M37.8 2.4h0M19.3 24.7h0M10.1 7.8h0M20.8 5.6h0M41.5 32.4h0M10.9 13.7h0M20 2.6h0M3.5 5.1h0M13.1 5.5h0M40.8 34.2h0M25.8 0.9h0M7.1 39.4h0M17.8 33.1h0M14.2 13.2h0M38.5 30.9h0M10.4 3h0M7 5.6h0M9.6 20.2h0M23.2 26.7h0M15.6 1.2h0M17.1 30.9h0M27.3 25.1h0M17.5 13.7h0M26.3 3.3h0M19.5 37.6h0M29.1 37.9h0M41.8 14.9h0M38.8 18.9h0M5.8 14.2h0M4.4 39.8h0M3.9 35.1h0M6 11.4h0M7.6 22.8h0M10.4 20.8h0M4.8 10.7h0M2.1 39.4h0M34.9 26.7h0M40.8 41h0M21.4 4.5h0M27.4 4.4h0M24 31.8h0M20.5 16h0M10 39.7h0M36.3 36.9h0M34.3 6.3h0M5.5 2.4h0M17.2 23.1h0M28.2 27.9h0M10.9 20.5h0M11.6 6.2h0M10 36.3h0M33.8 5.4h0M37.2 27.2h0M17.6 28.7h0M0.8 36.6h0M37.7 17.7h0M5.1 15.3h0M24.6 1.7h0M10.1 11h0M9 9.5h0M36.5 23.4h0M29.2 15.7h0M18.7 16.2h0M40.6 14.9h0M21.5 38.2h0M32.1 25.1h0M12.1 41.6h0M34.7 39.2h0M8.2 17.8h0M16.6 33.3h0M20.8 7.7h0M7.6 32.8h0M31.8 40.3h0M5.7 32.1h0M20.8 28.8h0M25.8 29.4h0M36.4 9h0M33 20.3h0M7.9 13.3h0M28.3 11.9h0M22.1 20.2h0M36.1 14.9h0M25.6 3.1h0M31.4 4.1h0M15.1 9h0M40.4 16.4h0M36.8 19.1h0M17.8 1.9h0M15.4 32.4h0M27.3 7.9h0M22.3 34.2h0M-0.1 -0.7h0M-0.1 41.3h0M41.9 -0.7h0M42.4 3.8h0M36.2 42.4h0M-0.2 41h0M20.5 -0.4h0M-0.5 38.5h0M34.9 42.3h0M12.6 42.3h0M-0.8 6.5h0M42.1 24.2h0M-0.5 32.4h0M25.8 42.9h0M-0.2 14.9h0M42.8 36.6h0M12.1 -0.4h0" stroke="#00FF00" stroke-width="1.8" stroke-linecap="round" fill="none"/></pattern>
<pattern id="p45" width="40" height="40" patternUnits="userSpaceOnUse" patternTransform="scale(0.488 0.5981)"><path d="M9 36.7h0M35 20.6h0M2.3 19.8h0M0.2 10.2h0M6.4 22.7h0M2.4 18.6h0M4.3 35.7h0M4.2 32.4h0M37 22.4h0M22.2 5.5h0M27.4 12.7h0M30.7 29.5h0M31.7 21.4h0M7.2 19.8h0M36.5 7.3h0M21.1 1.7h0M38.6 19h0M30.5 11.7h0M13.1 3.5h0M33.7 37.1h0M39.6 33.8h0M12.8 27.7h0M2.2 1.8h0M23.5 39.6h0M38.3 24.8h0M15.4 10.4h0M4.9 39.4h0M18.2 8.6h0M24.7 23.3h0M25.7 38.9h0M39.5 31.9h0M9.8 9.1h0M10.3 7.6h0M18.5 10.5h0M11.4 15.9h0M0.4 33.4h0M34.1 38.2h0M0.3 7h0M6.4 39h0M22.5 10h0M12.6 13.8h0M37.3 13.1h0M38.9 28.6h0M27.5 20.9h0M39.3 23.5h0M17.5 0.2h0M4.7 36.3h0M29.6 30.2h0M28.7 17.3h0M29.7 36.9h0M26.6 8.7h0M2.4 22h0M6.8 14.5h0M8.1 32.9h0M6.8 13.4h0M11.4 2.8h0M38.2 2.1h0M17.5 15.3h0M16 3.4h0M14.5 37.1h0M18.2 37h0M3 26.3h0M35 4.1h0M28.3 36.5h0M36.5 7.5h0M1.6 1.5h0M28.6 18.7h0M26.5 10.2h0M20.7 10.4h0M15.9 37h0M3.9 25.4h0M27.5 1h0M17 11.5h0M6.3 24.6h0M34.9 23h0M21.2 2.8h0M22.5 27h0M28.8 20.6h0M35.5 10.1h0M18.1 4.4h0M3 0.6h0M24.3 27.5h0M29.4 5.4h0M18.4 11.6h0M24.5 20.9h0M27.1 28.5h0M9.9 29.5h0M27.8 37.9h0M24.9 38.5h0M23.7 11h0M5.8 25.3h0M39.9 0.4h0M5.5 13.1h0M37 6.7h0M8.9 20.6h0M4.3 5.1h0M6.8 25.3h0M11.9 12.9h0M30.7 38.1h0M5.4 17.7h0M0.1 29.3h0M34.6 32.4h0M11.1 8.9h0M15.7 20.2h0M33.2 17.6h0M10.1 32.7h0M39.8 35.4h0M39.1 22.1h0M26 30.3h0M16 38.5h0M30.6 29.2h0M0.1 34.8h0M10.6 1.4h0M1.9 29.1h0M31.7 34.5h0M0.3 37.7h0M39.2 29.8h0M17.3 11.9h0M35.4 29.5h0M13.5 24.8h0M37.4 1.5h0M2.4 11.2h0M20.3 26h0M38.4 35.7h0M1 19.2h0M23.3 27.7h0M23.6 38.8h0M17.9 8.9h0M23 1h0M28.8 14.5h0M22.4 1.4h0M21 2.1h0M10 23.6h0M21 15.7h0M30.3 23.5h0M28 36.6h0M9 19.6h0M7 17.8h0M20.2 15.9h0M18 5.6h0M23.1 19.4h0M26.8 4h0M16.7 34.6h0M17.4 19.8h0M26.7 5.7h0M34.7 38.5h0M27 4.9h0M21 7.5h0M7 33h0M6.2 31.8h0M32.4 1.9h0M9 18.9h0M32.5 7.1h0M17.7 18.6h0M16.2 38h0M3.6 26.9h0M25.3 8h0M33 20.6h0M34.9 27.7h0M11.4 1h0M7.1 18.7h0M20.3 5.1h0M15.4 39.1h0M13 3.6h0M6 22.2h0M22.5 18.1h0M32.1 37.2h0M0.3 30h0M15.3 0.5h0M19.3 6.2h0M33.9 13.1h0M23 19.7h0M15.7 13.3h0M1.9 10.4h0M31.1 14h0M30.7 37.9h0M31.6 22.8h0M11.6 8h0M13 17.7h0M8.5 3.1h0M10.5 33.8h0M28.2 32.2h0M13 34.2h0M26.2 24.5h0M33.2 8h0M14.6 34.1h0M9 14.9h0M33.8 3.5h0M29.8 10.9h0M19.4 16.1h0M27.8 7.7h0M38 16.7h0M40.2 10.2h0M-0.4 33.8h0M23.5 -0.4h0M4.9 -0.6h0M-0.5 31.9h0M40.4 33.4h0M40.3 7h0M-0.7 23.5h0M17.5 40.2h0M3 40.6h0M-0.1 0.4h0M-0.1 40.4h0M39.9 40.4h0M40.1 29.3h0M-0.2 35.4h0M-0.9 22.1h0M40.1 34.8h0M40.3 37.7h0M-0.8 29.8h0M15.4 -0.9h0M40.3 30h0M15.3 40.5h0" stroke="#0000FF" stroke-width="1.8" stroke-linecap="round" fill="none"/></pattern>
<pattern id="p46" width="34" height="34" patternUnits="userSpaceOnUse" patternTransform="scale(0.488 0.5981)"><path d="M7.2 19.7h0M29.4 7.3h0M19.8 31.2h0M28.8 19.1h0M3 21.7h0M6.7 8h0M1.1 32.1h0M17.3 5.5h0M31.1 16.1h0M2.9 12.4h0M33.5 25.2h0M6.3 28.3h0M29.7 20.7h0M14.6 30.5h0M29.7 22.6h0M28.3 30.9h0M32.4 24.6h0M19.5 29h0M20.5 22.9h0M14.4 12.5h0M12.1 28.5h0M3.3 13h0M2.6 11.1h0M19.4 2.8h0M28.6 1.6h0M17.5 16.8h0M8.5 1.9h0M2.1 23.9h0M20.4 21.2h0M23.4 0.7h0M27.6 29.7h0M18.1 10.9h0M23 11.1h0M29.6 27.6h0M14 17.5h0M5.6 4.1h0M21.6 19.5h0M11 22.7h0M32.4 30.8h0M21.7 23.5h0M23.4 6.2h0M32.6 20.2h0M1.8 33.3h0M15.7 17.9h0M13.8 16.4h0M17.1 9.1h0M29.4 24.8h0M20.6 25.3h0M18 25h0M24.8 27.5h0M3.1 10.7h0M6.2 27.4h0M18.4 12.3h0M7 23.5h0M11.1 1.2h0M27 25.8h0M18.7 27.5h0M19.3 22.4h0M22.8 10.2h0M22.9 26.1h0M32.8 18.6h0M26 2.4h0M26.5 13.7h0M9.6 25.1h0M18.6 30.1h0M28.3 4.7h0M7.6 6.6h0M3.6 20h0M7.1 22.3h0M20.6 13.1h0M25.7 27.2h0M34 13h0M28.8 11.8h0M24.7 15.9h0M2.7 28h0M11.6 3.9h0M16.1 11.6h0M31.6 18.4h0M33.4 2.8h0M17.9 26h0M8.1 31.3h0M22.8 32h0M25.2 11.3h0M3.3 1.4h0M17.9 23.7h0M32.1 12.2h0M33.4 5.6h0M12.4 25.9h0M31.1 8.1h0M3.3 24.7h0M13.2 24.6h0M6.2 6.6h0M17.6 24.6h0M5.2 15.9h0M14.9 33.3h0M13.3 30.8h0M3.8 31.2h0M27.7 0.2h0M2.2 4.4h0M12.5 5.5h0M7.8 3.1h0M31.5 0.7h0M30.6 29.8h0M17.5 9.5h0M30.6 18h0M8.5 11.7h0M18.9 11.4h0M29.6 10.8h0M12.5 30.6h0M28.4 8.3h0M7.4 16.3h0M7.6 3.6h0M21.3 4.9h0M29.2 3.8h0M20.9 32h0M30.9 24.9h0M26.6 32.1h0M15.9 33.2h0M10.5 29h0M5.1 31.1h0M17.2 28.3h0M17.5 24.9h0M33.8 1.8h0M3.3 15.2h0M11.6 0.4h0M13.9 16.8h0M29.8 8.2h0M20 12.5h0M24.9 4.6h0M27.8 6.3h0M4.7 27.1h0M8.1 9.8h0M14.5 6.3h0M17.5 14.2h0M29.1 13.5h0M23.5 8.9h0M17.8 33.8h0M11.6 30.3h0M31.7 7.4h0M14 8.5h0M25.6 27.4h0M5.4 6.9h0M16.3 29.9h0M33.2 33.6h0M5.3 22.3h0M31 5.1h0M14 4.8h0M18.7 25.8h0M30.9 20.4h0M25.1 16.5h0M4.8 3.4h0M3.4 12.1h0M12.2 2.2h0M32 27.6h0M26.8 25.1h0M28.2 27.6h0M8.3 9.7h0M14.5 9h0M20.8 32.6h0M9.3 10h0M30 6.3h0M6.3 0.1h0M5.2 25.2h0M29.3 25.9h0M18.9 9.6h0M19 14.2h0M13 6.6h0M30.5 5.1h0M5.8 24.4h0M4.2 7.5h0M18.9 28.9h0M29.1 15.7h0M24.4 17.7h0M12.1 33.6h0M7.5 3h0M25.5 15.9h0M28.5 25.3h0M18.4 4.2h0M33.3 16.4h0M1.2 2.1h0M33.8 4.2h0M9 4.9h0M12.6 30.6h0M13.6 33.4h0M14.5 4.1h0M24.4 20.6h0M33.2 20h0M20.5 18h0M15.7 13.1h0M16.6 28.9h0M1.3 17.2h0M25.8 21.5h0M8.9 3.9h0M23.4 30h0M7.4 13.4h0M10.4 31.4h0M11.8 7.7h0M-0.5 25.2h0M23.4 34.7h0M1.8 -0.7h0M-0 13h0M-0.6 2.8h0M-0.6 5.6h0M14.9 -0.7h0M27.7 34.2h0M31.5 34.7h0M15.9 -0.8h0M-0.2 1.8h0M11.6 34.4h0M17.8 -0.2h0M-0.8 -0.4h0M-0.8 33.6h0M33.2 -0.4h0M6.3 34.1h0M12.1 -0.4h0M-0.7 16.4h0M-0.2 4.2h0M13.6 -0.6h0M-0.8 20h0" stroke="#007FFF" stroke-width="1.8" stroke-linecap="round" fill="none"/></pattern>
<pattern id="p47" width="44" height="44" patternUnits="userSpaceOnUse" patternTransform="scale(0.488 0.5981)"><path d="M12 15.4h0M35.6 19.5h0M22.5 17.2h0M34.2 10.5h0M43 30.5h0M19.5 42.7h0M42.6 29.9h0M9.2 3.5h0M12.9 2.4h0M18.9 36h0M16.3 5.7h0M38.7 18.5h0M32.8 33.7h0M37.4 29.4h0M4.1 13.7h0M32.8 7.1h0M32.6 0.7h0M4.1 33.4h0M32.4 12.2h0M13.5 7.5h0M30.6 8.3h0M26 17.5h0M29.8 2.5h0M39.9 10.1h0M15.3 42.5h0M1.4 43.2h0M0.7 14.9h0M13.8 8.8h0M18.2 8.7h0M41.6 38.9h0M31.4 1.6h0M35.8 1.2h0M21.7 13.1h0M10.7 25.4h0M43 13.9h0M41.6 30.5h0M38.5 3.5h0M12.6 25h0M5.8 26.1h0M37.4 11.2h0M35.2 25.5h0M35.1 7.8h0M17.7 2.6h0M40.8 35.3h0M0.1 8.8h0M41.3 21.7h0M35 14.5h0M11.4 33h0M42 21.9h0M15.2 26.3h0M39.4 33.4h0M20.9 8.4h0M8.4 20.5h0M9.6 43.6h0M6.9 40.5h0M18.3 0.2h0M34.4 37.7h0M20.8 4.6h0M8.8 36.7h0M29.8 8.1h0M5.2 18.2h0M14.9 38.8h0M30.6 20.4h0M21 35.4h0M22.1 16h0M7.5 7h0M10.6 31h0M31.4 37.5h0M29.8 29h0M40.4 42.1h0M18.5 30.5h0M17.4 7.9h0M30.7 34.9h0M8 18.6h0M42.2 35.5h0M43.7 15.9h0M41.1 39.3h0M11.4 8.3h0M1.2 24.5h0M42.2 6.7h0M23.5 30h0M3.5 35.8h0M10.6 15.5h0M4.7 27.4h0M34.9 41.8h0M27.4 5.2h0M21.5 26h0M36.5 18.5h0M10.4 28h0M43 25.3h0M25.6 21.6h0M30.2 3.6h0M4 4.4h0M33.9 10.8h0M42.6 28.6h0M11.6 18.8h0M26.6 0.7h0M2.6 28.2h0M3.5 5.1h0M44 11.2h0M19.4 38.7h0M35.1 40.9h0M29.5 10.9h0M37.9 36.7h0M14.5 2.6h0M40.9 26.2h0M38.3 15.5h0M42.7 19h0M11.8 28.8h0M9.4 27.9h0M27.8 25.1h0M37.3 14.1h0M25.5 26.6h0M15.7 7.7h0M36.8 24.8h0M35.8 36.5h0M1.9 5.4h0M42.3 2.8h0M29.5 27.6h0M5.8 5.5h0M21.5 20.7h0M41.7 13.8h0M22.9 35.3h0M36.7 21.6h0M17.2 28.6h0M1.1 18.5h0M35.5 32.2h0M31.4 21.7h0M29.1 8.5h0M8.8 4.3h0M8.5 1.2h0M15.4 17.2h0M33.2 19h0M0.8 32.1h0M15 11.6h0M21.6 4.1h0M3.8 27.9h0M40.8 28.1h0M13.2 11h0M39.6 25.7h0M23.6 13.4h0M8.5 0.2h0M41.9 5.8h0M1.5 19.2h0M11.2 6h0M1.8 6.5h0M8.5 26.9h0M3.1 26h0M5.9 21.8h0M30.1 29.6h0M21.1 9.2h0M40 25.6h0M22.8 17.6h0M8.3 7.2h0M6.2 21.5h0M9.6 22.9h0M4.2 31.4h0M7.3 33.3h0M29.1 38.7h0M18.1 7h0M26.8 23.1h0M9.9 20h0M10.1 30.9h0M28 29.2h0M29 13.3h0M18.1 40.9h0M17.4 26.3h0M40.5 5.6h0M14 27.4h0M36.2 27h0M22.5 39.4h0M43.5 33.5h0M43.4 17h0M28.7 39.6h0M31 12.5h0M27.1 43.9h0M7.3 7.8h0M10.6 26.8h0M38.2 29.2h0M35.7 40.4h0M1.8 1.5h0M14.8 42.1h0M17.2 4.4h0M19.9 10.5h0M20.8 0.7h0M12 37h0M15.5 4h0M12.3 17.1h0M1.1 13.5h0M41.7 7.3h0M3.6 37.2h0M3.8 36.9h0M40 18.5h0M21.2 19.7h0M32.6 44.7h0M1.4 -0.8h0M44.7 14.9h0M44.1 8.8h0M9.6 -0.4h0M18.3 44.2h0M-0.3 15.9h0M26.6 44.7h0M-0 11.2h0M44.8 32.1h0M8.5 44.2h0M-0.5 33.5h0M-0.6 17h0M27.1 -0.1h0M20.8 44.7h0" stroke="#8B8B00" stroke-width="1.8" stroke-linecap="round" fill="none"/></pattern>
<pattern id="p48" width="63" height="63" patternUnits="userSpaceOnUse" patternTransform="scale(0.488 0.5981)"><path d="M14.2 54.7h0M34 12.6h0M45.6 21.9h0M57.9 41.8h0M59.9 9.2h0M52.2 20.1h0M12 36.2h0M61.9 54.6h0M19.2 41.6h0M37.4 12.8h0M30.6 5.7h0M36.7 43.3h0M60.6 54.2h0M14 60.2h0M46.8 60.7h0M39.5 58.8h0M15.3 42.6h0M52.3 20.8h0M56.4 33.8h0M43.1 52.7h0M46.6 62.8h0M54.1 23.5h0M1.1 58.2h0M14.4 12.7h0M49.9 49.7h0M61.5 48.6h0M14 2.7h0M21.7 41.1h0M54.3 51.6h0M37 5.5h0M58.6 36.3h0M61.6 47.2h0M42.8 20.6h0M1 34.1h0M30.3 10.5h0M6.6 18.4h0M54 10.3h0M3.7 29.7h0M31.6 31.9h0M46.7 13.8h0M61.7 6.4h0M61.9 59.2h0M13.9 12.7h0M4.3 9.5h0M45.1 56.3h0M13.7 23.9h0M40.2 18.6h0M1.3 38.2h0M56.2 10.8h0M36.4 56.5h0M9.8 36.4h0M14 33.9h0M50.6 49.5h0M13.6 29.1h0M28.4 46.8h0M29.4 12h0M15.8 37h0M7.6 4.2h0M29 49.3h0M34.4 9.9h0M39.1 22.1h0M1.4 46.8h0M36.4 32.5h0M36 22.8h0M35.6 0.3h0M33.4 15.6h0M1.9 33.2h0M42.4 48.6h0M12.5 38h0M25.3 48.2h0M8.2 29h0M14.5 14.6h0M62.4 46.8h0M13.6 14.9h0M50.9 48.4h0M27.3 5.9h0M2.1 44.5h0M18.2 8.1h0M5.4 34.8h0M41.4 26h0M11.2 34.8h0M27.8 51.5h0M54 6.7h0M52.3 49h0M30.9 42.3h0M53.1 10.8h0M15.7 5.8h0M18.9 32h0M27.2 44.3h0M26.5 51.4h0M22.7 3.2h0M29.5 21.1h0M27.4 47.8h0M48.8 40.3h0M46 34h0M56.3 45.2h0M6.1 38.2h0M18.4 40.1h0M58.6 24.9h0M41.5 30.2h0M35.1 56.4h0M58.7 46h0M58.5 41.6h0M34 0.8h0M26.2 30.4h0M36.1 14.2h0M29.6 25.4h0M3.7 55.5h0M45.9 6h0M29.2 27.4h0M51.3 23.5h0M45.3 29.3h0M5.8 24.7h0M51.7 4.6h0M52.7 34.8h0M20.8 21.1h0M52.9 31.8h0M23.6 10h0M28.4 55.9h0M8 30.7h0M19.3 61.9h0M7 19.2h0M33.8 36.2h0M24.5 14.5h0M53.9 32.9h0M13.5 42.5h0M51.9 37.7h0M53.7 55.5h0M42.5 50.9h0M21.9 25.4h0M23.3 50.1h0M29.5 22.2h0M13.3 49.1h0M21.6 12.1h0M62.4 59.9h0M36.7 40.9h0M41.3 42.4h0M62.7 46.4h0M22.1 51.6h0M25.8 17.8h0M36 29.8h0M35.9 15.5h0M15.4 39.4h0M25.2 5.7h0M44.8 40.4h0M35.2 6.7h0M41.8 11.1h0M13.1 5h0M15.5 1.2h0M54.7 27.4h0M39.1 24.5h0M60.6 41.1h0M41.5 55.3h0M14.5 33.3h0M23.6 37.5h0M61.5 57.2h0M6 27.5h0M21.8 33.3h0M50 48.9h0M48.6 9.8h0M27 17.9h0M14 7.5h0M24.8 31.2h0M10.7 24.8h0M52.1 61.5h0M1.7 55.3h0M54 61.2h0M57.7 57.5h0M15.8 50.3h0M50.8 51.9h0M47.3 3.4h0M13.7 18.5h0M60.3 54.2h0M33.4 9.3h0M23.7 29.2h0M62.1 47.9h0M49.7 36.5h0M22.8 61.5h0M50.1 39.9h0M59.4 9.6h0M20.5 23.6h0M27.9 49.7h0M24 23.2h0M44.9 11.1h0M8.1 41.7h0M41.9 29.9h0M24.4 16.6h0M51.8 44.7h0M5.4 37.2h0M17.3 17.1h0M33.8 23.9h0M12.4 56.4h0M62.8 53h0M16.3 48.3h0M34.1 38.2h0M59.6 46.3h0M41 47.7h0M46.7 55.9h0M46.6 -0.2h0M35.6 63.3h0M-0.6 46.8h0M34 63.8h0M-0.6 59.9h0M-0.3 46.4h0M-0.9 47.9h0M-0.2 53h0" stroke="#FFFF00" stroke-width="1.8" stroke-linecap="round" fill="none"/></pattern>
<pattern id="p49" width="44" height="44" patternUnits="userSpaceOnUse" patternTransform="scale(0.488 0.5981)"><path d="M26.6 28h0M34.8 12.9h0M16.5 13.5h0M7.9 22.8h0M27.9 43.1h0M17.5 2h0M9.8 20.7h0M41.8 23.3h0M16.6 29.4h0M9.9 38.7h0M29.5 35.5h0M4.2 10.4h0M32.9 41.6h0M13.9 21.1h0M20.5 21.5h0M40.8 28.9h0M23.9 23.7h0M5.7 39.3h0M18.2 30.3h0M32.6 15.8h0M17.9 11h0M38.1 43.7h0M15.1 36.5h0M10.2 36.9h0M26.6 14.3h0M43.3 34.8h0M37.5 19.7h0M0.2 11h0M30.8 24.8h0M2.2 34.6h0M2.3 2.7h0M33.8 25h0M0.3 38h0M20.7 10.5h0M18.8 9.2h0M30.4 23.8h0M19.4 22.2h0M41.4 14.4h0M26.4 30.8h0M28.5 25.2h0M22.2 2h0M15.6 38.8h0M19.9 33.5h0M17.8 14.9h0M32.4 42.6h0M17.9 5.2h0M20 43.7h0M37.3 24.9h0M6 37.8h0M18.8 6.4h0M33.1 36.7h0M21.3 36h0M15.4 15.5h0M21.9 14.3h0M30.2 9.3h0M41.9 20.2h0M5.1 4.8h0M35.5 41.2h0M31 3h0M19.3 11h0M35.5 19.9h0M29.6 27.6h0M6.1 20.3h0M7.2 38.8h0M32.4 21h0M41.8 36.3h0M29.3 18h0M6.1 42.6h0M22.5 10.7h0M22.3 23.6h0M35.5 21.1h0M31.8 35.8h0M17 26.8h0M30.7 34.5h0M42 15.9h0M24.5 22h0M6 17.1h0M20.7 24.7h0M1.3 34.7h0M16.9 29.3h0M22.3 31.8h0M37.5 15.1h0M41.5 39.3h0M37.6 10h0M3.8 16.7h0M27.5 18.3h0M40 41h0M5.1 21.1h0M26.8 10.9h0M17.3 3.2h0M41.4 10h0M30.7 18.6h0M23.6 39.8h0M3.3 24.2h0M28.3 9.2h0M28.1 9.9h0M25.7 7.8h0M14.9 41.7h0M6.2 36.5h0M16.5 42.5h0M33.7 33.3h0M37.9 29.7h0M32.5 39.7h0M15.6 30.3h0M10.7 11.8h0M9.7 12.5h0M9.1 5.4h0M0.1 38.6h0M36.8 1.4h0M19.8 28.3h0M2.6 43h0M16.9 11.3h0M37.5 20.9h0M4.9 22.7h0M3.6 39.9h0M39.3 0.8h0M26.3 7.9h0M3.6 14.6h0M7.2 8.8h0M31.4 36.7h0M32.6 21.5h0M19.5 28.8h0M5.4 6h0M23.6 8.6h0M6.6 12.8h0M9.3 29.9h0M42.7 24h0M11 19.9h0M8.3 10.8h0M23.1 35.8h0M14.7 6.7h0M28.5 3.9h0M42.8 43h0M11 21.8h0M41.4 21.6h0M3.7 11h0M34.9 17.5h0M40.1 40.1h0M4 39.6h0M37.3 13.5h0M14.6 2.6h0M25.1 5h0M2.9 33.6h0M28.6 7h0M27.7 5.9h0M10.3 19.7h0M23.1 41.6h0M12.1 3.2h0M30.6 33.1h0M24 27.1h0M3.8 30.9h0M18.1 42h0M21.7 21.7h0M29.5 41.8h0M34.5 28.4h0M33.8 0.7h0M15.6 0.9h0M29.6 14.3h0M42.8 21.9h0M0.3 30.1h0M29.6 6.9h0M23.3 26.9h0M25.6 7.3h0M7.9 36h0M15 36.5h0M16.4 27.5h0M31.4 23h0M21.1 33h0M17.5 27.5h0M6.5 29.3h0M20.7 41.1h0M42.9 19.9h0M13.9 9.1h0M32.5 19.3h0M30.3 31.6h0M9.3 41.4h0M12.6 9.7h0M39.5 18.4h0M2.5 16.9h0M25.8 11h0M14.7 15.2h0M13.3 34.4h0M36.6 17.3h0M4.4 3.4h0M12.8 24.4h0M39.6 21.1h0M6.7 39h0M22.9 19.9h0M2.1 35.8h0M30.7 24.3h0M14.5 24h0M9 2.1h0M43.8 44h0M3.1 1h0M38.1 -0.3h0M-0.7 34.8h0M44.2 11h0M44.3 38h0M20 -0.3h0M44.1 38.6h0M39.3 44.8h0M33.8 44.7h0M44.3 30.1h0M-0.2 -0h0M-0.2 44h0M43.8 -0h0" stroke="#FF00FF" stroke-width="1.8" stroke-linecap="round" fill="none"/></pattern>
<pattern id="p50" width="64" height="64" patternUnits="userSpaceOnUse" patternTransform="scale(0.488 0.5981)"><path d="M48.5 57.6h0M3.3 52.7h0M43.5 1.9h0M41.2 33h0M60.6 41.6h0M13.3 2.8h0M32.3 39.1h0M40.1 27.6h0M10.9 24.5h0M58.3 30.3h0M20.3 60.2h0M50.7 56.8h0M54.4 55.6h0M37 3.5h0M36.5 62.8h0M27.6 42.3h0M54.8 44.7h0M54.1 9h0M41.1 53.8h0M17.4 41.4h0M1.1 14.5h0M44.3 11.4h0M33.6 56.6h0M1.2 56h0M42.8 43.8h0M38.9 63.3h0M62.3 4.3h0M36.5 42.3h0M42.2 41.1h0M63.9 17h0M53.8 51.2h0M16.4 22.1h0M44.1 23.5h0M20 15.7h0M33.2 46.5h0M41.8 19h0M57.9 13.9h0M41.2 38.9h0M22.8 35.6h0M16.2 13.5h0M63.1 34.8h0M42.9 15.7h0M53.4 22.6h0M41.6 20.6h0M24.2 43.4h0M41.8 1.8h0M56.5 19.8h0M38.4 32.3h0M37.4 58.3h0M30.7 2.8h0M58 14h0M49.5 6.4h0M49.8 53.3h0M28.1 30.4h0M50.6 20.3h0M33.1 17.1h0M58.6 55.5h0M43.6 49.5h0M14.1 7.3h0M2 51h0M19 28.2h0M44.9 29.5h0M10.9 10.3h0M55 23.8h0M53.9 31.3h0M59.2 51h0M7.3 9h0M35.6 40.9h0M37.8 31.2h0M34.3 4.7h0M11.3 0.8h0M2.4 46.2h0M5.1 54.6h0M44.7 3.1h0M31.1 37.2h0M1.9 25.1h0M44.6 34.6h0M32.4 23.7h0M35.4 31.1h0M25.9 11h0M12.1 53.5h0M41.5 59.8h0M38.9 -0.7h0M-0.1 17h0M11.3 64.8h0" stroke="#8B8B00" stroke-width="1.8" stroke-linecap="round" fill="none"/></pattern>
<pattern id="p51" width="25" height="25" patternUnits="userSpaceOnUse" patternTransform="scale(0.488 0.5981)"><path d="M1 10.9h0M15.4 4.8h0M20.4 0.7h0M20.1 20.7h0M18 11.5h0M4.4 24.2h0M5.7 2.2h0M24.8 11.7h0M18.6 22.6h0M11.6 14.9h0M8.4 5.9h0M12.9 21.6h0M12.9 17.2h0M12.1 14.5h0M0.4 21.7h0M3 2.4h0M24 8.9h0M18.8 4.3h0M3.5 22.7h0M1 7.8h0M5.2 3.9h0M14.9 10.5h0M0.7 2.2h0M22.9 11.7h0M9.9 2.4h0M6.1 19.6h0M4.9 2.3h0M24.6 12h0M12.5 6.7h0M14.6 16.1h0M23.6 19.6h0M14.5 4h0M8.6 8.4h0M17.5 17h0M8.3 12.2h0M12.8 10.1h0M13.4 10.1h0M12.2 12.5h0M17.1 21h0M6 16.4h0M21.7 11.6h0M10 5.3h0M0.8 12h0M14.4 10.4h0M15.1 14.7h0M16.1 20.5h0M9.7 7h0M24.8 8.2h0M8.2 2.5h0M16.8 20.9h0M11.6 11.6h0M0.5 3.4h0M22.7 6.9h0M10.4 21.1h0M16.6 5.3h0M2.9 5.2h0M0.9 16.2h0M14.5 6.6h0M10.9 18.6h0M23.2 11.8h0M15.3 3.6h0M1.1 18.1h0M16.7 19.9h0M24.1 22.3h0M12.6 2.3h0M14.5 18.3h0M4.8 10h0M19.6 20.9h0M7.6 8h0M13.1 17.9h0M16.5 4.2h0M19.5 3.8h0M2.8 7.9h0M5.4 12h0M21 23.1h0M20.8 14.5h0M14.7 10h0M14.2 12.3h0M1.6 10.6h0M14.9 16.1h0M19.5 9.6h0M5.9 1.7h0M7.9 19.6h0M10.6 11.7h0M9.3 18.2h0M0.7 10.4h0M18.6 1h0M3 9h0M14.4 0.5h0M10 1.3h0M21.5 2.9h0M7.9 0.9h0M0.3 11.4h0M2.2 7.5h0M2.4 15.9h0M21.7 3.9h0M15.1 18.5h0M13 5.1h0M19.1 4.2h0M6.1 22.2h0M2.8 15.7h0M7.6 21h0M8.1 7.1h0M12.7 11.1h0M3.7 24.8h0M23.1 17h0M16.2 0.3h0M16 19.6h0M11.7 20.2h0M20 16.9h0M7.5 13.8h0M24.9 6.9h0M25 13.5h0M23.6 11.3h0M1.5 16.6h0M24.4 4.3h0M20.1 11.6h0M13.7 1.8h0M3.1 4.1h0M0.4 23.3h0M2.6 4.1h0M14.9 11.1h0M21.1 1.1h0M1.1 15.7h0M24.5 7.6h0M15.8 7.5h0M1.8 0.8h0M19.3 8h0M4.1 18.5h0M11.8 18.1h0M17.9 14.5h0M12.5 24h0M13.6 13.3h0M15.6 20.8h0M8.2 13h0M11.7 24.3h0M21.8 4.1h0M3.5 9.2h0M11.6 0.5h0M8.9 20.7h0M21.4 0.1h0M18.2 4.8h0M7.1 2.9h0M4.9 0.4h0M21.4 13.4h0M21.2 12.4h0M4.3 3.2h0M15 9.2h0M2.7 1.2h0M5.8 18.9h0M4.6 9.1h0M9.4 14h0M5.7 18.6h0M13.2 20.4h0M15.6 13.6h0M18.6 24h0M15.6 0.3h0M13.8 6.7h0M14.1 0.6h0M24.3 10.4h0M17.8 24.5h0M22.4 1.4h0M7.1 14.1h0M21.4 19.1h0M15.3 23.4h0M19.7 12.7h0M23.1 0.7h0M4.9 7.2h0M16 11.4h0M14.5 17h0M5.8 12.8h0M1 23.7h0M1.9 17.5h0M10.2 15.3h0M17.2 12.1h0M1.5 16.7h0M24.8 13h0M13.9 13.4h0M20.9 4.5h0M0.8 9.7h0M23.2 15.9h0M11.1 16h0M24.5 3.6h0M3.7 7h0M16.9 9.7h0M0.6 21.2h0M24.9 11.3h0M9.7 20.9h0M20.4 25.7h0M4.4 -0.8h0M-0.2 11.7h0M25.4 21.7h0M25.7 2.2h0M-0.4 12h0M25.8 12h0M-0.2 8.2h0M25.5 3.4h0M-0.9 22.3h0M25.7 10.4h0M14.4 25.5h0M25.3 11.4h0M3.7 -0.2h0M16.2 25.3h0M-0.1 6.9h0M-0 13.5h0M-0.6 4.3h0M25.4 23.3h0M-0.5 7.6h0M1.8 25.8h0M11.7 -0.7h0M11.6 25.5h0M21.4 25.1h0M4.9 25.4h0M15.6 25.3h0M14.1 25.6h0M-0.7 10.4h0M17.8 -0.5h0M23.1 25.7h0M-0.2 13h0M25.8 9.7h0M-0.5 3.6h0M25.6 21.2h0M-0.1 11.3h0" stroke="#8B8B00" stroke-width="1.8" stroke-linecap="round" fill="none"/></pattern>
<pattern id="p52" width="63" height="63" patternUnits="userSpaceOnUse" patternTransform="scale(0.488 0.5981)"><path d="M17.9 18.2h0M36.4 26.3h0M39.1 25.1h0M35.9 10.2h0M57.1 7.8h0M0.1 14.3h0M43.7 57.5h0M40.6 22.2h0M7.3 59.4h0M44.8 34.7h0M48.7 34.9h0M47.8 59h0M23.9 55.1h0M21.8 4h0M40.8 46.7h0M17.9 41.8h0M47.5 9.6h0M58.3 37h0M11.7 60.5h0M10.3 11.4h0M52.9 5.5h0M41.5 62.7h0M29.4 34.8h0M14.8 35.2h0M30.8 45h0M6.5 59.4h0M30.1 58.7h0M47.7 9h0M33.6 61h0M54.2 8.3h0M0.3 22.2h0M7.6 9.5h0M25.7 41.2h0M2.2 24.9h0M3.3 14.6h0M47.6 50.9h0M61.4 29.3h0M35.1 22.9h0M19.6 53.2h0M17.4 42.1h0M40.7 43.8h0M62 52.2h0M34.8 49.2h0M26.7 42h0M5.8 8.3h0M51 30.2h0M58.8 48.7h0M36.8 14.1h0M52.4 10.7h0M23 11h0M21.2 51.4h0M7.6 33h0M17.9 28.4h0M32.7 23.3h0M49.7 6.4h0M19 34.2h0M43 51.8h0M29.4 43.2h0M22.4 6.1h0M4 32.9h0M32 27h0M61 54.7h0M58.8 31h0M35.8 10.9h0M46.9 54.4h0M12.1 31.7h0M61.3 40h0M31.2 25h0M2.7 1.8h0M35.5 4.8h0M39.9 30.4h0M44.1 25.4h0M17.7 30.2h0M35.8 27.4h0M31.2 42.4h0M5.2 30.8h0M6.4 15.9h0M43.9 8.7h0M50.6 17.7h0M2.7 55.9h0M47.1 48.9h0M27.5 37.7h0M26.5 42.2h0M13.7 16.8h0M61.7 2.5h0M41.4 2.4h0M3.1 21.9h0M21.1 56.9h0M47.4 53.5h0M23.3 59.9h0M16.8 55.1h0M56.8 47h0M20.3 27.5h0M23.5 47.3h0M40 11.2h0M17.2 42.5h0M26.7 59.6h0M34.4 61.8h0M7.9 24.3h0M4.3 62.6h0M24.6 31.1h0M30.8 29.7h0M47.1 18.9h0M46.1 45.6h0M27.8 15h0M54.8 35.2h0M50.4 3.4h0M28.7 50.6h0M35.6 45.3h0M46.7 17.1h0M41.4 33.6h0M4.6 39.6h0M5.3 25.4h0M21.2 35h0M20.7 18.8h0M0.5 48.1h0M41.7 22.1h0M28.3 3.5h0M52.7 26.4h0M9 5.5h0M45.1 37.2h0M51.1 27.6h0M10.2 39.9h0M38.1 21.3h0M57 61.4h0M32 50.8h0M34.5 30.6h0M28.6 58.1h0M8.2 6.5h0M38.9 27.9h0M9.2 41.5h0M59.3 11.6h0M6.1 62.8h0M51.1 51.7h0M54.3 41.7h0M12.7 17.4h0M56.2 39.5h0M26.1 11.7h0M57.1 31.9h0M16.2 16.2h0M46.9 18.7h0M41.7 37h0M3.9 34.7h0M19.5 34.9h0M52.1 31.6h0M41.7 58.9h0M11.1 60.4h0M9.4 28.7h0M27.7 56.1h0M44 40.1h0M45.3 42.1h0M32.9 53.8h0M20.1 19.5h0M28.1 13.2h0M45 7.2h0M22.4 60.7h0M35 58.7h0M27.7 61.4h0M2.9 34.1h0M4.9 16.4h0M7.6 61.3h0M44 21.8h0M15.2 5h0M11.5 53h0M23.2 0.1h0M56 6.8h0M49.1 36.5h0M15.4 39.1h0M38 27.4h0M43.8 4.6h0M24 30.3h0M50.3 37.8h0M33.7 1.1h0M51.9 1h0M39.2 53.8h0M15 25.2h0M10.5 51.4h0M21 38h0M20.5 3.7h0M46 10.7h0M33.8 30.6h0M9.6 8.9h0M31.1 0.4h0M35.3 33.2h0M10.5 2.9h0M37.5 10.9h0M50.7 60.4h0M25.2 34.7h0M14.2 2h0M11.3 6.6h0M60.6 38.5h0M37.2 59.2h0M4.4 41.2h0M54 31.4h0M57.3 2h0M60.1 19h0M59.2 30.4h0M44.7 39.6h0M63.1 14.3h0M41.5 -0.3h0M63.3 22.2h0M4.3 -0.4h0M63.5 48.1h0M6.1 -0.2h0M23.2 63.1h0M31.1 63.4h0" stroke="#8B8B00" stroke-width="1.8" stroke-linecap="round" fill="none"/></pattern>
<pattern id="p53" width="64" height="64" patternUnits="userSpaceOnUse"><path d="M31.7 9.9h0M19 62.1h0M64 0.1h0M39.9 48.2h0M26.6 46h0M11.1 12.6h0M50.9 15.6h0M11.6 2.3h0M26.7 63.2h0M1.3 40.3h0M22.2 1h0M29.9 32.7h0M56.8 46.4h0M62.1 16.1h0M60.6 18.2h0M36.6 53.4h0M38.2 56.1h0M23.3 7h0M48.8 53.1h0M30.7 26.9h0M40 38.2h0M50.1 16.6h0M21.1 44.1h0M27.4 54h0M21.5 1.2h0M33.2 7.6h0M10.5 27.3h0M63.5 62h0M12.1 59.6h0M4.7 13.8h0M29.5 45.5h0M28.6 4h0M33.9 57h0M15.6 25.1h0M55.8 19h0M2.4 18.6h0M40.5 19.2h0M5.5 12.8h0M43 28.2h0M22.3 19.1h0M37.7 4h0M39.6 40.2h0M1.9 62.9h0M64 3.3h0M37.1 57.1h0M20.3 4.4h0M50.7 59.1h0M25.4 38.6h0M42 55.9h0M12.3 4.9h0M60.6 15h0M50.2 9h0M6.9 14.5h0M6.6 13.7h0M58.8 38.7h0M17.7 25h0M27.9 33h0M29.9 52.1h0M38.2 54.1h0M31.2 25.1h0M63.9 20.6h0M11 27.3h0M29.9 53.3h0M58.8 37.5h0M22.8 35.6h0M49.6 51.5h0M31.2 3.9h0M20.1 53h0M35.8 58.2h0M22.3 40.7h0M30.3 14.3h0M4.8 8.8h0M49.8 53.9h0M52.8 58.7h0M24.3 53.5h0M55.5 26.4h0M17.4 60.4h0M18.3 29.9h0M38.2 40.6h0M61.5 7.3h0M33.1 63.5h0M24 62.7h0M45.7 23.4h0M48.4 14.4h0M10.6 9.5h0M44.5 31.9h0M31.3 17.5h0M17.4 41.7h0M2.3 25.1h0M10.8 59.7h0M7.2 48.9h0M33.3 43.1h0M53 55.3h0M57.7 18.2h0M31.9 5.7h0M32.9 22.9h0M6.6 50.7h0M35.1 15.5h0M12.9 38.3h0M3.1 15.6h0M41 11.3h0M12.7 51h0M20.4 59h0M41.8 58.8h0M41.3 46.2h0M32.8 40.6h0M24.1 32.5h0M46.6 10.6h0M33.1 41.5h0M56.4 37.8h0M62 2.1h0M28.5 36.7h0M23.9 42.2h0M49 33.6h0M17.4 35h0M20.6 38h0M45.1 36.1h0M16.3 9h0M8.1 39.1h0M16.2 16h0M61.8 21.7h0M37 8.5h0M14.2 26.9h0M50.9 57.3h0M5.9 41.1h0M59.6 39.6h0M63.7 10.9h0M3.4 59.1h0M26.2 23.7h0M6.2 9.8h0M29.8 3h0M29.3 52.8h0M17 52.6h0M35.7 47.5h0M49.4 23.5h0M12.2 51.8h0M55.2 49.5h0M56.2 41.1h0M19.9 23.2h0M5.4 0.8h0M35.2 46.8h0M13.2 9.3h0M40.1 12h0M25.3 7.2h0M17 31h0M63.1 21.8h0M33.9 53.9h0M12.5 44.3h0M20 44.6h0M42 49.9h0M11.9 12.1h0M21.6 31.1h0M62.3 16.9h0M33.9 57.1h0M23.6 25.4h0M40.5 54h0M29.4 61.8h0M26.5 48.7h0M21 46.1h0M27.2 36.4h0M44.6 41.8h0M48.6 2.6h0M17 64h0M25.8 55.1h0M-0 0.1h0M-0 64.1h0M64 64.1h0M26.7 -0.8h0M-0.5 62h0M-0 3.3h0M-0.1 20.6h0M33.1 -0.5h0M-0.3 10.9h0M5.4 64.8h0M-0.9 21.8h0M17 -0h0" stroke="#7FFF00" stroke-width="1.8" stroke-linecap="round" fill="none"/></pattern>
<pattern id="p54" width="64" height="64" patternUnits="userSpaceOnUse"><path d="M27.4 55.4h0M57.2 11.7h0M49.5 1.6h0M2.5 31.7h0M9.2 3.6h0M5.7 53h0M1.9 6.5h0M24 42h0M3.5 0.9h0M58.1 0h0M19.8 10.9h0M27.2 32.8h0M35.4 49h0M63.5 61h0M37.8 61.7h0M55.2 60.3h0M47.9 9.5h0M24 43.3h0M25.6 41h0M52.3 55.6h0M18.2 51.4h0M16.5 57.1h0M23.5 48.5h0M32.5 51.2h0M62.1 42.3h0M40.1 33.5h0M55.9 57h0M60.8 54.2h0M44.2 52.2h0M53.2 44.7h0M36.2 46.9h0M15.4 27.9h0M38.6 22.3h0M28.3 35.8h0M20.5 29h0M60.6 58.4h0M22.5 28.3h0M5.6 21.6h0M44.1 59.8h0M23.4 40.7h0M21.1 36.3h0M35.9 3.4h0M10 55.6h0M11.2 36.7h0M38 36.4h0M44.8 23.2h0M39.3 32.3h0M4 48h0M18.1 61.6h0M62.9 38.9h0M38.5 3.8h0M14.8 10.7h0M39.6 13.6h0M8.4 40.9h0M51.1 56.8h0M39.1 7.7h0M21.1 47h0M33.9 39.4h0M61.2 35.7h0M33.4 47h0M32.9 33h0M42.6 30.3h0M10.4 63.4h0M5 37.5h0M6.6 55.9h0M47.1 63.6h0M39.4 24.9h0M44.2 36.3h0M2.2 13.3h0M1.7 22.7h0M27 7.3h0M48.8 58.6h0M13.9 56.8h0M45.6 5.8h0M36.9 4.2h0M45.2 1.7h0M46 7.9h0M54.6 5.8h0M32.4 6.9h0M12 61h0M63.9 46.1h0M49.6 26.2h0M1.9 42.9h0M12.1 9.1h0M19.6 28.2h0M46.2 40.8h0M10.9 29.3h0M45.1 44.5h0M56.7 25.4h0M23.3 42.2h0M23.3 38.9h0M19.9 54.4h0M12.2 4h0M36.3 55.7h0M7.4 23.6h0M55.2 19h0M5.9 47.8h0M54.8 52.4h0M42.8 32.5h0M46.5 37.6h0M15.5 9.7h0M4.7 28.8h0M49.4 14.8h0M56.1 27.6h0M16.5 17.5h0M0.8 43.4h0M40.7 61.5h0M51.1 47.6h0M22.9 49.9h0M57.2 54.8h0M13.2 53.2h0M55.3 50.5h0M13.9 61.2h0M41.9 53.9h0M10.1 55.7h0M56 13.8h0M38.7 9.3h0M60.6 49.7h0M6.7 15.9h0M51.2 3.2h0M18.8 3.1h0M0.3 6.8h0M6 59.5h0M58.1 64h0M-0.5 61h0M10.4 -0.6h0M47.1 -0.4h0M-0.1 46.1h0M64.8 43.4h0M64.3 6.8h0" stroke="#00F57A" stroke-width="1.8" stroke-linecap="round" fill="none"/></pattern>
<pattern id="p55" width="36" height="36" patternUnits="userSpaceOnUse"><path d="M14.8 7.2h0M21.2 33.5h0M4.6 7.6h0M6.5 13.4h0M0.7 3.3h0M16.8 26.3h0M32.9 20.3h0M23.8 5.8h0M9.3 19.9h0M7 2.4h0M4.6 12.2h0M9.7 32.1h0M9.5 7.1h0M10.3 19.3h0M17.9 15.8h0M14.4 32.4h0M30.8 2h0M23.6 7.7h0M15 33.3h0M2.9 19h0M17.9 4.3h0M1.6 14.8h0M30.4 17.9h0M34.1 9.8h0M8 17.4h0M23.9 12.2h0M20.2 10.6h0M35.7 18.8h0M16.5 2.1h0M27 0.7h0M19.4 33.7h0M8.8 11.8h0M23.3 24.8h0M6.2 7.6h0M30.3 21.7h0M12.3 20h0M22 27.9h0M2.8 17.9h0M15.8 5.6h0M1.5 19.4h0M31.1 18.5h0M16.3 19h0M27.8 4.4h0M13 24.5h0M10.5 16.5h0M35.3 1.4h0M23.9 26.1h0M27.2 15.4h0M15.7 23.7h0M9.3 5.5h0M11.3 33.6h0M29.8 13.8h0M1.3 29h0M24.4 27.7h0M6.1 9.9h0M13.1 26.8h0M26.1 26.3h0M15.7 35h0M16.8 3h0M21.1 30.7h0M18.6 30.1h0M2.1 20.6h0M8 13.2h0M14.8 7.6h0M31.2 22.4h0M28.1 0.8h0M8.6 21.3h0M35.1 15.2h0M3.6 3.3h0M19.4 23.8h0M21 10.7h0M13.9 5.9h0M10.7 5.9h0M16.4 34.4h0M1.4 34.1h0M32.8 6.3h0M17.6 23.3h0M3.9 0.7h0M16.3 21.8h0M30.1 23.6h0M15.4 8.2h0M15.2 6.6h0M1.2 33.9h0M10.3 12.3h0M15.5 8h0M29.8 21h0M30 15h0M13.5 26.7h0M26.6 29.3h0M4.5 13.6h0M8 16.1h0M30.3 6.1h0M29.8 0.1h0M30.7 35.7h0M3.3 9.4h0M16.8 28h0M23.3 9.2h0M34.2 0.6h0M13.9 29.6h0M5.1 6.7h0M27.5 23h0M21.5 3.9h0M21.8 18.7h0M3.5 9.1h0M30.1 23.7h0M24.3 21.8h0M11.5 14.7h0M35.8 9.4h0M4.8 0h0M35.6 26.8h0M20.9 19h0M14.7 8.4h0M8.5 21.3h0M17.1 15.1h0M1.4 20.1h0M10.6 24.4h0M22 10h0M35.8 1.4h0M24.7 11.5h0M8.9 7h0M4.6 19.9h0M3.8 32.9h0M28.5 26.6h0M4.1 22.6h0M30.5 1.4h0M34.5 22.9h0M32.2 10.2h0M28.3 22.7h0M32 16.8h0M15.8 6.1h0M12.9 31.8h0M25.8 1.5h0M33 35.7h0M33.6 11.9h0M25.9 0.7h0M29.9 9.7h0M19 2.9h0M27.6 33.2h0M15.9 11.3h0M2.7 1.4h0M34.6 24h0M26.5 9.6h0M20.4 12.2h0M31.6 22.8h0M1.5 10.9h0M31 8.9h0M27.7 33.3h0M25.4 23.3h0M23.1 14.7h0M34.8 29.7h0M15.1 17.7h0M35.1 9.6h0M6 13.7h0M5.3 32.6h0M24.6 27h0M7 28.5h0M7.9 19.1h0M34.8 0h0M26.7 31.4h0M21.5 2.3h0M18.8 34.4h0M6.3 5.3h0M27.2 34.8h0M0.7 3.9h0M11.1 16.4h0M10.7 31.6h0M0.1 23.8h0M6.1 1h0M5.1 22.6h0M16.7 14.7h0M28.1 0.6h0M33 34.3h0M28.5 34.6h0M21.9 20.1h0M22.6 17.8h0M20.6 19.7h0M2.6 23.5h0M0.6 12.6h0M22.7 23.3h0M15.9 26.8h0M27.2 11.7h0M34 32.9h0M19 26.7h0M28.9 3h0M21.6 21.9h0M24.3 31.3h0M9.2 32.8h0M18.8 11.4h0M0.8 12.6h0M24.2 1.1h0M13.6 16.8h0M23.2 25.4h0M23.1 15.6h0M32.4 17.3h0M36.7 3.3h0M-0.3 18.8h0M27 36.7h0M-0.7 1.4h0M28.1 36.8h0M-0.9 15.2h0M3.9 36.7h0M29.8 36.1h0M30.7 -0.3h0M34.2 36.6h0M-0.2 9.4h0M4.8 36h0M-0.4 26.8h0M-0.2 1.4h0M33 -0.3h0M25.9 36.7h0M34.8 36h0M36.7 3.9h0M36.1 23.8h0M28.1 36.6h0M36.6 12.6h0M36.8 12.6h0" stroke="#8B0045" stroke-width="1.8" stroke-linecap="round" fill="none"/></pattern>
<pattern id="p56" width="64" height="64" patternUnits="userSpaceOnUse"><path d="M50.3 53.3h0M16.2 29h0M50.7 2.3h0M56.6 51h0M34.8 18.1h0M5.7 2.7h0M52.4 1.7h0M32.6 56.5h0M11.2 27.6h0M2.7 8.8h0M49.4 37.5h0M32.9 26.9h0M3.4 37.4h0M20.5 59.3h0M14.2 4.3h0M16.6 57.2h0M20.8 18.7h0M3.1 43.4h0M45.8 53.3h0M27.6 55.1h0M27.4 60.4h0M8.1 57.8h0M39.5 62.3h0M63.9 30.9h0M6 45.2h0M58.9 53h0M61.1 26.4h0M0.2 22.1h0M30 0.2h0M7.6 20.3h0M52.3 52.1h0M25.8 6.4h0M8.6 45h0M55.3 61.8h0M13 51.1h0M11.8 22.9h0M31 51.1h0M27.9 62.6h0M19 55.5h0M6.6 53.1h0M56.8 47.8h0M13.6 7.8h0M15.3 31h0M30.2 58.3h0M8.4 42.5h0M59.7 37.9h0M56.8 33.3h0M53 35.2h0M27.8 44.3h0M61 46.3h0M51.5 14.5h0M50.6 27.1h0M17.8 23.8h0M43.2 57h0M22.8 27h0M53.4 53.9h0M37.5 47.8h0M27.9 43.8h0M29.7 9h0M34.6 49.9h0M37.9 25.7h0M32.1 0.2h0M41.3 55.5h0M19.4 6.1h0M2 23.7h0M33.7 7.3h0M24.8 39.9h0M59.3 36.3h0M9 52.3h0M48.1 28.7h0M56.3 2h0M26.7 32.1h0M58.8 41.9h0M33.2 27.1h0M4.9 20h0M37 33.1h0M49.6 44.7h0M43.2 31.3h0M12.3 18.7h0M51.9 48.4h0M14.2 14.2h0M22.6 37.4h0M61.9 39.2h0M5.5 5.8h0M61.1 36h0M25.8 42.6h0M14.9 22.5h0M57.6 42.3h0M29.1 56.4h0M20.7 22.9h0M17.1 7.4h0M63.6 6.1h0M11.5 33.2h0M55.5 31.1h0M7.2 16.6h0M31.5 58.6h0M63.5 55.5h0M53 16.7h0M44.2 36.3h0M30.4 57.8h0M8.3 41.3h0M30.4 21.4h0M27.5 30.3h0M42.3 63.5h0M24.6 53.2h0M46.3 57h0M4.8 34.4h0M1 40.5h0M7 44.8h0M6.3 37.2h0M32.2 0.8h0M23 53.9h0M14.4 28.2h0M60.6 50.9h0M0.4 37.1h0M38.4 55.1h0M27.4 56.9h0M1.5 62.5h0M14.3 46.8h0M19.9 38.2h0M20.3 15h0M18.3 12.5h0M35.1 26.6h0M51.4 60.7h0M32.4 11.8h0M13.1 1.3h0M12.2 62.7h0M56 44.4h0M11.3 40.1h0M57.3 47.4h0M33.5 7.7h0M29.9 32.2h0M40.3 49.2h0M32.6 57.6h0M46.1 8.9h0M16 15.4h0M56.9 32.3h0M57.2 49.9h0M15.9 58.3h0M24 15.2h0M60.2 0.2h0M50.5 35.6h0M57.9 6.9h0M62.3 63.7h0M55.8 29.6h0M28.7 19.3h0M50.4 11.3h0M17.6 14.3h0M10.2 36.4h0M25 16h0M6.2 18.4h0M19.9 0.2h0M2.2 20h0M57.9 28.3h0M48.7 49.2h0M34.7 33.7h0M34.2 26.7h0M7 55.8h0M36.5 2.5h0M45.8 35.3h0M34.2 20.6h0M52 2.7h0M62.2 55h0M3.2 39.3h0M-0.1 30.9h0M64.2 22.1h0M30 64.2h0M32.1 64.2h0M-0.4 6.1h0M-0.5 55.5h0M42.3 -0.5h0M32.2 64.8h0M64.4 37.1h0M60.2 64.2h0M62.3 -0.3h0M19.9 64.2h0" stroke="#458B00" stroke-width="1.8" stroke-linecap="round" fill="none"/></pattern>
<pattern id="p57" width="64" height="64" patternUnits="userSpaceOnUse"><path d="M18.9 19.6h0M60.1 45.5h0M54.8 22.3h0M32.7 26.5h0M4.3 42.1h0M55.2 33.1h0M48.8 35.3h0M31.5 39.9h0M15.8 12.5h0M46.8 20.2h0M29.6 42.8h0M41.4 56.9h0M29.4 4h0M6.9 22.9h0M19.7 8.6h0M47.5 51.4h0M13.9 36.5h0M25.2 22.7h0M31.7 40h0M56 39.1h0M46 53.8h0M4.7 35.3h0M60.2 61.7h0M53.2 6.8h0M29.2 51.3h0M58.8 37.2h0M6.7 7.7h0M40.9 42.1h0M35.1 56.4h0M58.9 12.4h0M5.2 49.2h0M51.1 10.1h0M62.9 22.8h0M62.3 6.4h0M15.4 11h0M13.5 50.5h0M57.9 56.7h0M27.1 57.1h0M38 20.2h0M30 8h0M4.1 47h0M46.7 39.2h0M41.5 29h0M53.5 32.2h0M38.2 57.8h0M38.3 43.4h0M63.7 7.9h0M28.5 44.5h0M51.1 48.9h0M34.5 6.5h0M21.6 10.4h0M43.8 14.6h0M58.9 36.1h0M48.9 33.5h0M54.9 32.5h0M31.6 63.7h0M8.6 20.9h0M54.4 15.2h0M50.8 11.1h0M1.5 38.9h0M33.5 26h0M2.8 35.1h0M30.4 45.3h0M19.8 54h0M45.9 54.1h0M23.7 47.7h0M21.2 3.8h0M47.1 54.3h0M29 24.8h0M6.1 8.2h0M56.3 10.6h0M32.1 20.5h0M50.1 10.7h0M59.8 14.2h0M58.1 54h0M45 41.2h0M0.3 56.3h0M39.4 62h0M44 26.5h0M15.5 3.5h0M47.1 63.4h0M29.6 6.2h0M61.1 63.2h0M40.3 48h0M42.9 40.1h0M5.3 3.4h0M62.4 26.9h0M20.4 31.3h0M62 45.4h0M39.9 12.9h0M40 49.5h0M61.9 28.9h0M18.6 16.2h0M60.5 47.5h0M4.6 33.8h0M55.5 25.9h0M25.2 17.1h0M55.4 31.6h0M16.4 20.2h0M43.1 20h0M12 17.6h0M61.9 21.8h0M55.5 38.8h0M35.9 49.1h0M48.9 20.1h0M35.2 43.1h0M2.3 41.5h0M10.2 1.5h0M21.2 24.3h0M32.7 55.5h0M1.2 19.2h0M52.6 54.5h0M7.1 45.4h0M34.3 47.1h0M44.2 34.3h0M33.4 58h0M42.2 17.7h0M21.4 24.7h0M62.6 46.6h0M7.7 57.1h0M4.6 29.6h0M56.2 57.8h0M63.7 58.8h0M36.2 52.8h0M10 57.4h0M56.6 37.9h0M19.4 62.8h0M58.8 33.9h0M61.4 34.2h0M49.6 27.4h0M12 60.2h0M24.5 39.3h0M32.8 11.9h0M40.5 53.1h0M33 61.6h0M50.5 58.7h0M17.4 28.5h0M1.6 20.5h0M55.5 0.1h0M2.7 20.2h0M33.5 61.5h0M53.3 24.5h0M24.2 52.3h0M18 38.8h0M45.6 57.6h0M11.2 42.5h0M49.9 55h0M14.8 35h0M57 13.9h0M20.4 49h0M19.5 8.7h0M41.5 1.1h0M14.9 0.9h0M57.7 44h0M16.5 9.6h0M37.3 54.3h0M59.4 3.3h0M57.9 47h0M6.8 24.7h0M56.8 36.1h0M32.6 63.4h0M24.5 61.1h0M9.3 54.3h0M63.6 26.4h0M-0.3 7.9h0M31.6 -0.3h0M64.3 56.3h0M47.1 -0.6h0M61.1 -0.8h0M-0.3 58.8h0M55.5 64.1h0M14.9 64.9h0M32.6 -0.6h0M-0.4 26.4h0" stroke="#0000FF" stroke-width="1.8" stroke-linecap="round" fill="none"/></pattern>
<pattern id="p58" width="44" height="44" patternUnits="userSpaceOnUse" patternTransform="scale(0.7937 0.8826)"><path d="M13.5 4.4h0M29.3 38h0M5.1 43h0M1.5 18.9h0M29.5 19.7h0M41.4 23.5h0M34 13.2h0M43.8 39.8h0M14.1 26.7h0M27.1 12.3h0M4.2 29.5h0M25.7 5.1h0M20.8 36.5h0M29.6 39.3h0M22.6 23.2h0M35.6 26.3h0M40.2 10.4h0M12.6 6h0M19.8 12.3h0M9 37.6h0M7.2 25.6h0M31.6 39.1h0M18.5 33.5h0M20.7 37.3h0M34.9 2.3h0M34 35.3h0M37.8 25h0M27.7 3.5h0M37.2 8.7h0M1 24.9h0M15 20.7h0M43 20.9h0M13.4 28h0M41.6 5.8h0M28.4 28h0M2.8 29.6h0M2.2 1.1h0M7.2 1.9h0M4.3 25.9h0M22.6 3.6h0M3.8 29.9h0M25.9 26.3h0M7.5 18.6h0M40.6 18.4h0M38.9 26.9h0M20 27.3h0M10.8 9.7h0M7.9 28.3h0M18.2 32.5h0M20.5 27.9h0M31.2 31.1h0M16.3 37.2h0M25 21.7h0M27.4 6.2h0M38.5 25.6h0M1 6.9h0M20.6 23.9h0M0.1 8.4h0M28.6 22.6h0M27.6 23.9h0M19.1 16.7h0M31.7 39.6h0M10.2 25.7h0M39.1 38.9h0M8 20h0M6.9 4h0M4.7 18h0M9 18.7h0M6.7 12.8h0M7.6 38.3h0M9.6 7.3h0M40 19.8h0M13.1 4.9h0M23.2 11.2h0M16.1 13.5h0M36.8 5.4h0M23.1 21.7h0M5 1.9h0M24.3 10.3h0M4.5 17.7h0M12.4 18.8h0M25.8 25.2h0M28.1 8.8h0M4.4 7.8h0M23.7 26.8h0M15.5 25.4h0M38.6 24.7h0M43.6 34.9h0M21.3 39.1h0M8.7 22.1h0M35.1 38.5h0M14 39.9h0M26.9 3h0M21.3 8.1h0M21.4 5h0M15.2 37.9h0M36.4 30.4h0M41.6 0.1h0M36.9 19.3h0M9.1 3.8h0M25 30.7h0M43.6 25.7h0M12.1 7.6h0M16.1 21.9h0M15 4.9h0M17.4 23.1h0M3.4 29.7h0M25.7 20.8h0M37.9 41.5h0M23.9 34.6h0M17.6 6.2h0M18.5 19.7h0M13.3 4.1h0M41.2 4.1h0M42 34.3h0M3 39.7h0M42.1 14h0M25 20.9h0M35.9 35.6h0M10.1 36.1h0M9.5 32.8h0M28.8 31.4h0M3.8 20.3h0M8.5 12.7h0M25.4 33.9h0M6.9 5.5h0M27.4 5h0M43.2 2.8h0M0.7 37.4h0M18.7 22.9h0M15.5 37h0M11.6 12.4h0M38.4 42.3h0M30.1 28.5h0M38.2 20.8h0M20.1 26.5h0M29.6 32.7h0M26.8 0.8h0M32.6 30.5h0M14 18.1h0M33.2 30.3h0M28 36.2h0M11.5 35.1h0M5.3 20.8h0M41 27.4h0M1.3 27.1h0M14.9 30.6h0M26.6 5.9h0M13.4 32.1h0M30.7 39.1h0M6.7 15.6h0M11.4 34.7h0M39.8 25.1h0M13.2 8.3h0M10.2 5.6h0M38.4 0.8h0M18 13.9h0M15.4 18.6h0M1.9 17.2h0M30.7 16.3h0M0.3 8.8h0M1.8 24.9h0M37.5 19.6h0M0.8 32.9h0M16.8 27.4h0M15.6 3.4h0M11 18.3h0M29.8 31.1h0M17.4 19h0M16.8 5.5h0M6.3 42.3h0M1.8 28.1h0M10.1 18.6h0M43.5 2.2h0M14.7 24.6h0M6.7 34.8h0M6.9 37.1h0M16.6 6.7h0M1.5 18.3h0M3.1 36.3h0M15.4 18.3h0M43.1 1.4h0M42.9 18h0M39 32.9h0M14.5 1.2h0M3.3 23.5h0M32.2 16.5h0M37.3 35.8h0M40.1 9.9h0M8.4 12.4h0M14.6 5.5h0M19.9 17.5h0M21.9 14.4h0M18.3 23.4h0M-0.2 39.8h0M44.1 8.4h0M-0.4 34.9h0M41.6 44.1h0M-0.4 25.7h0M44.3 8.8h0" stroke="#c9302c" stroke-width="0.9" stroke-linecap="round" fill="none"/></pattern>
<pattern id="p59" width="53" height="53" patternUnits="userSpaceOnUse" patternTransform="scale(0.7937 0.8826)"><path d="M7.6 17.6h0M7 32.9h0M10.1 18.5h0M10.2 8.4h0M0.4 13.1h0M44.6 5.3h0M4.8 35.4h0M48.8 21h0M2.6 45.7h0M46.9 24.6h0M12.1 27.1h0M48.6 8.3h0M45.3 6.2h0M52.7 36.3h0M7 19.2h0M43.9 48.7h0M27.9 31.4h0M46.8 44.5h0M28.1 48.9h0M28.2 9.7h0M42 25.8h0M38.1 3.5h0M18.8 51h0M42.2 26h0M51.1 45.7h0M34 26.4h0M44.3 24.1h0M27.4 42h0M18.1 24.4h0M46.9 30.7h0M46.1 14h0M26 6.1h0M21.2 15.9h0M12.5 13.3h0M26.2 25.8h0M25 22.9h0M26.4 10.8h0M49.8 1.3h0M48.4 51.2h0M28.3 22.7h0M47 20.1h0M8.8 51.9h0M26 4.4h0M49.8 47.5h0M22 17.6h0M14.6 32.5h0M34.3 48.5h0M18.3 42h0M42.1 49.4h0M1.1 26.7h0M9.4 17.3h0M51.7 6.4h0M31 5.5h0M28.6 49h0M32.6 2.6h0M17.3 46.5h0M6.6 51.6h0M1.2 52.9h0M31.5 17.8h0M45.9 30.4h0M48.4 31.4h0M22.3 16.7h0M17 13.8h0M21.8 44.9h0M51.9 30.2h0M14.2 48.7h0M11.9 46.1h0M3.3 12.7h0M36.7 38.1h0M11.9 23.3h0M26.5 35.2h0M18.7 36.9h0M27.9 46.1h0M26.6 37.5h0M17.3 35.9h0M49.4 11.4h0M48.3 31.3h0M49.8 50.9h0M27.5 15.2h0M42.3 19h0M3 20.3h0M1.6 31.2h0M45.4 16.8h0M52.9 51.7h0M48.6 20.4h0M38.6 47.5h0M25 24.1h0M19.4 50.7h0M24.8 28.2h0M20.1 9.8h0M11.5 12.7h0M3.1 22.4h0M18 39.1h0M26 16.9h0M17.9 48.7h0M11.7 23.7h0M14.5 31.8h0M31.4 0.1h0M28.1 25.2h0M23.9 35.5h0M11.1 43.4h0M39.6 39.3h0M31.8 41.5h0M41.7 22.7h0M44.5 19.1h0M48.9 33h0M41.8 21.6h0M9.1 22.7h0M2.1 37.5h0M52 20.7h0M38 15.7h0M1.5 35.9h0M21.8 12h0M40.2 49.1h0M13.5 28.7h0M12.8 23.8h0M42.8 14.3h0M18.6 11.6h0M24.8 26.8h0M9.2 40.1h0M33.4 46.1h0M27.2 13.5h0M40.5 2.1h0M20.9 12.5h0M33.6 36.6h0M20.5 14.4h0M21.3 49.9h0M46.6 8h0M17.1 6.7h0M20.5 44.2h0M38.1 18.6h0M12.4 18h0M41.5 42.5h0M52.2 18.1h0M52.6 6.7h0M42.8 6h0M38.7 29.9h0M9 50.4h0M47.3 20.3h0M2.8 0.1h0M0.4 36.3h0M30.1 52.3h0M52.2 14h0M8.7 10.3h0M50.9 18.9h0M29.2 30.5h0M31.3 6.4h0M48.1 21.9h0M27.9 12.3h0M7.9 49h0M8.9 48.5h0M20.9 11.8h0M16.2 20.4h0M33.2 10h0M36.2 25.6h0M39 52.6h0M49.6 47.6h0M15.9 6.7h0M20.2 39.6h0M25.2 13.1h0M17.5 34.1h0M7.3 32.8h0M21.6 21.1h0M1.1 16.4h0M32.1 52.8h0M9 28.6h0M45.9 5h0M23.7 1.3h0M33.6 20.4h0M49.1 25.9h0M38.7 16.6h0M26.3 22.3h0M48.9 42.5h0M14.1 13.4h0M0.9 45.9h0M8.7 22.1h0M34.4 5.1h0M14.8 18.3h0M34 6.3h0M18 21.5h0M30.7 29.7h0M47.1 6.2h0M14 30.8h0M30.8 4h0M15.2 8h0M10.3 40h0M36.8 47.3h0M48.6 52.4h0M43.2 36.9h0M22.5 2.7h0M13.1 17.4h0M44.6 23.7h0M0.2 49h0M16.6 52.6h0M47.2 12.2h0M13.5 43.3h0M2 3.3h0M53.4 13.1h0M-0.3 36.3h0M1.2 -0.1h0M-0.1 51.7h0M31.4 53.1h0M-0.4 6.7h0M2.8 53.1h0M53.4 36.3h0M39 -0.4h0M32.1 -0.2h0M53.2 49h0M16.6 -0.4h0" stroke="#dfe8f3" stroke-width="0.9" stroke-linecap="round" fill="none"/></pattern>
<pattern id="p60" width="64" height="64" patternUnits="userSpaceOnUse" patternTransform="scale(0.7937 0.8826)"><path d="M10.7 3h0M32.7 43.7h0M9.7 4.8h0M9.8 39.7h0M42.4 38.8h0M59.6 38.5h0M42.6 12.8h0M58.1 22.2h0M22.9 2.5h0M36.1 40.6h0M26 57.3h0M45.6 18.6h0M55.8 50.4h0M45.9 12.2h0M24.2 52.2h0M5.4 13.7h0M3 59.4h0M41.4 46.4h0M10.2 15.7h0M12.7 14.3h0M55.3 58.4h0M43.3 50h0M40 24.2h0M38.2 26.2h0M24 22.4h0M24.6 42.6h0M18.4 24.5h0M63.2 25.4h0M42.1 44.2h0M1.5 28.2h0M5.2 14.7h0M15.3 53.4h0M39.5 12.4h0M18.7 37.7h0M6.5 49.6h0M23.1 63h0M11.8 46h0M46 16.5h0M6.5 34.1h0M59.5 31.5h0M47.6 1.8h0M42.5 45.6h0M5.2 50h0M49.9 28.8h0M19.6 27.8h0M54.9 59.4h0M42.6 42.5h0M55.1 54.5h0M1.3 47h0M49.3 15.8h0M63.3 53h0M53.7 14h0M56.8 36.9h0M7.5 27.7h0M23.2 36.1h0M48.4 38.7h0M18.1 26.4h0M37.9 30.3h0M63.9 22.5h0M48.1 10.5h0M31.5 0.4h0M2.8 1.7h0M43.3 12.7h0M29.1 43.3h0M41.9 16.8h0M24.6 19.9h0M60.1 8.4h0M8.8 24h0M39.7 53.5h0M12.4 39.1h0M10.8 56.5h0M8.3 12.9h0M27.6 40h0M4.2 60.3h0M1 16.1h0M43.6 41.3h0M39.1 29.2h0M24.5 8.9h0M3.3 11.6h0M58.6 39.5h0M26.7 39.8h0M22.3 17.6h0M39.6 1.6h0M14.8 5.3h0M31.1 11.8h0M12.2 0.6h0M54.6 13.3h0M18.6 38.4h0M44.4 52.6h0M13.9 56.8h0M29.7 22.8h0M36.3 31.8h0M51.5 33.4h0M58.1 0.1h0M6.1 34h0M2.8 22.2h0M37.2 44.8h0M33.4 40.3h0M17.9 38.8h0M1.6 42.4h0M3 43.8h0M36.6 47.2h0M-0.1 22.5h0M31.5 64.4h0M58.1 64.1h0" stroke="#c9302c" stroke-width="0.9" stroke-linecap="round" fill="none"/></pattern>
<pattern id="p61" width="64" height="64" patternUnits="userSpaceOnUse" patternTransform="scale(0.7937 0.8826)"><path d="M52.3 36.6h0M11.5 18.9h0M51.7 17.6h0M31.2 19h0M53.2 23.5h0M39.6 57h0M50 57.6h0M30.7 27h0M37 10.1h0M34.6 23.6h0M58.9 0.5h0M48.2 27.3h0M16.7 63.8h0M33 22.2h0M23.7 38h0M25.4 27.5h0M57.2 31.3h0M34.9 7.1h0M11 50.4h0M16.4 61.4h0M44.5 59.9h0M3.9 26.9h0M32 18h0M3.2 57.7h0M23.7 62.5h0M63.8 28.9h0M17.5 5.8h0M32.7 37.1h0M20.5 15.3h0M4.8 5.5h0M13.3 47.3h0M55.9 11.2h0M50 0.6h0M20.2 38.8h0M9.9 32.1h0M19.1 26.1h0M59.2 41h0M27.9 29.5h0M1.5 9.4h0M42.6 32.7h0M32.6 33.7h0M35.9 16h0M19.8 16.1h0M0.3 15.9h0M45.9 25.7h0M21.3 4.2h0M21 19.5h0M11.8 25.8h0M50.1 23.4h0M29 15.5h0M44.7 33.8h0M57.9 3.1h0M18.5 11.8h0M52.5 30.1h0M58 61h0M0.9 55.6h0M7.5 23.2h0M24.9 31.7h0M13.8 52.3h0M41.9 32.9h0M26 45.1h0M9 57h0M36 43.7h0M40.6 29h0M32.1 24.5h0M49.4 6h0M2.3 44.1h0M14.2 37.4h0M14.8 46.4h0M4 31.6h0M13.4 0.4h0M17.6 31.8h0M16.7 -0.2h0M-0.2 28.9h0M64.3 15.9h0M13.4 64.4h0" stroke="#dfe8f3" stroke-width="0.9" stroke-linecap="round" fill="none"/></pattern>
<pattern id="p62" width="28" height="28" patternUnits="userSpaceOnUse" patternTransform="scale(0.7937 0.8826)"><path d="M22.6 27.6h0M3 24.3h0M7.7 4.3h0M22.7 2.5h0M22.7 6.3h0M14.6 17.9h0M25.4 22.4h0M21 12.4h0M8.7 22.2h0M3 14.5h0M12.3 21.4h0M16.2 26.5h0M23.1 8.8h0M15 14.1h0M5.5 9.6h0M15.5 11.1h0M26.6 17.6h0M17.2 12.2h0M16.7 4.9h0M7.6 9.7h0M4.7 9.6h0M14.2 7.7h0M8.6 0.1h0M13.1 3.8h0M16.7 27.3h0M24.5 16.9h0M1.6 13.7h0M8.3 4.6h0M26.9 18h0M8.1 0.5h0M14.4 8.2h0M3.6 2.1h0M10.2 5.6h0M2.3 18.3h0M10.7 19.1h0M23.7 19h0M15.5 25h0M19.6 27.1h0M19.5 25.3h0M23.2 5.7h0M26.5 5.8h0M9.9 20.9h0M22.9 19.5h0M28 14.5h0M3.4 5.6h0M18.9 23.2h0M27.2 16.8h0M17.5 14.5h0M14.3 18.5h0M0.5 16.3h0M6.5 13.6h0M13.3 0.3h0M3.4 14.8h0M22.8 24.1h0M13.4 12.8h0M0.8 3.2h0M1.7 13.6h0M15.1 18.6h0M19.6 5.9h0M27.9 22.8h0M13.6 9.4h0M4.5 26.4h0M25.2 12.5h0M3.9 4.3h0M26.1 19.4h0M13.5 22.7h0M7 4.7h0M26.1 27.7h0M14.5 17.4h0M9.3 3.6h0M23.9 17.8h0M10.4 26.8h0M16.5 15.8h0M15.9 19.6h0M10.8 15.8h0M26 8.9h0M4.8 2.9h0M1.1 25.2h0M0.8 18.6h0M1.1 23.3h0M7.1 10.4h0M9.8 20.1h0M11.6 6.5h0M23.3 0.8h0M2.1 8.3h0M6.2 23.4h0M4.8 2.2h0M11.9 22h0M15.5 10.6h0M24 0.5h0M6.3 15.5h0M19.2 9h0M10.6 23h0M18.4 18.1h0M20.8 0.4h0M7 0.8h0M23 17.9h0M12.2 4.9h0M0.6 9.2h0M19.8 23.3h0M20.8 7.4h0M2.2 17.7h0M14.7 19.3h0M14.4 15.9h0M3.1 19h0M16.1 12.5h0M20.5 21.2h0M22.5 23.5h0M24.1 26.1h0M27.7 9.7h0M8.4 19.5h0M22 25.8h0M4.9 13h0M1.4 13.7h0M26.2 8.6h0M11.5 0.2h0M18.4 3.4h0M21.9 27.2h0M15 20.4h0M24.6 3.7h0M21.1 26.7h0M7.3 15.6h0M24.7 8.7h0M9.3 11.4h0M8.3 27.1h0M6.1 0.9h0M0.1 0.2h0M3.8 6.7h0M0.3 26h0M25.8 0.5h0M22.9 3.5h0M11.9 7.1h0M16.5 19.3h0M1.9 24.7h0M10.3 11.1h0M27.1 5.8h0M1.2 8.3h0M24.6 3.8h0M0.5 8.5h0M9.6 2.8h0M17.1 23.2h0M5.9 17.8h0M14.6 24.7h0M4.4 14.5h0M3 1.7h0M12.9 28h0M21.8 9.1h0M5.4 21h0M9.8 21.9h0M9.9 17.4h0M15 23.7h0M7.8 9.7h0M16.4 7.5h0M0.4 27.3h0M22.3 15.2h0M4 0.4h0M7.1 2h0M20.9 26h0M2.7 21.3h0M21.5 24.3h0M12.3 8.9h0M1 26h0M23.4 8.2h0M23.1 10h0M22.7 19.3h0M0.9 2.1h0M17.9 14.9h0M25.2 3.4h0M11.8 4h0M26.9 15.8h0M26.3 4.5h0M25.3 16.4h0M21.7 15.3h0M27.3 9.2h0M19.7 5.2h0M14.3 16.2h0M8.5 26.9h0M18.4 3.3h0M15 27.1h0M3.1 1.8h0M13.2 10h0M4.4 18.8h0M0.3 2.5h0M18.9 3.3h0M8.5 20.7h0M21.5 11.6h0M22.1 10.8h0M24.1 17.4h0M18.2 12h0M20 27.3h0M17.5 6.3h0M16.3 0.7h0M4.1 17.5h0M5.7 1.9h0M14.6 27.4h0M13.9 20.9h0M22.6 -0.4h0M8.6 28.1h0M-0 14.5h0M13.3 28.3h0M-0.1 22.8h0M26.1 -0.3h0M20.8 28.4h0M-0.3 9.7h0M11.5 28.2h0M0.1 28.2h0M28.1 0.2h0M28.1 28.2h0M28.3 26h0M12.9 -0h0M28.4 27.3h0M4 28.4h0M28.3 2.5h0" stroke="#c9302c" stroke-width="0.9" stroke-linecap="round" fill="none"/></pattern>
<pattern id="p63" width="33" height="33" patternUnits="userSpaceOnUse" patternTransform="scale(0.7937 0.8826)"><path d="M13.5 24.5h0M3.2 7.7h0M19.3 27.9h0M17.9 15.8h0M9.6 5.2h0M18.4 26.1h0M0.2 18.4h0M0.4 5.9h0M22 19.8h0M28.3 32.4h0M24.5 21.1h0M30.6 13.2h0M19.7 19.4h0M14.4 20.4h0M28.7 14.1h0M18.2 32.2h0M32.2 10h0M24.5 23.5h0M10.3 17h0M31.9 12.6h0M20.4 5.6h0M7 8.6h0M6.1 6.1h0M16.9 3.2h0M31.6 20.8h0M18.2 17.9h0M23.3 9.6h0M0.3 3.8h0M1.2 28.1h0M10 27.4h0M23.8 0.2h0M21.9 31.1h0M21.8 21.9h0M16.9 11.3h0M7.8 1.9h0M24.3 10.3h0M22.3 2.7h0M12.4 0.3h0M20.7 18.8h0M15.6 17.5h0M23.6 10.8h0M1.6 5.9h0M4.1 20.4h0M5.2 28.9h0M8.4 7.6h0M20.8 28h0M21.2 22.7h0M9 18.6h0M14.2 17.6h0M16.2 21.3h0M26.8 32.4h0M32.7 17.1h0M22.1 1.3h0M20 7.8h0M2.2 26.7h0M29.3 15.9h0M29.7 5.6h0M14.9 4.3h0M8.1 20.3h0M27.4 17.4h0M6 5.1h0M18 32.7h0M29 22.9h0M31.4 6.9h0M0.9 5.7h0M32.3 26h0M21.7 25.2h0M26.1 30.7h0M16.1 22h0M14.5 22.4h0M4.1 14.5h0M16.5 18.5h0M31.3 30h0M13.7 27.3h0M0.3 21.4h0M20.7 28h0M5.9 9.7h0M17.5 27.1h0M16.8 29h0M8 23.8h0M28.9 2.4h0M3.2 23.9h0M21.6 25.7h0M18 17.9h0M7.7 18h0M11.2 26.7h0M23.1 32.4h0M15.2 1.7h0M2.8 21.6h0M13 5h0M4 10.3h0M21.4 4.1h0M27.6 20.4h0M31.2 31.4h0M22.7 24h0M15.1 1.6h0M18.3 14.2h0M31.6 15.2h0M24.3 15.3h0M22.6 13.3h0M23 9.3h0M1.3 14.8h0M15.7 30.4h0M18 23.1h0M20.4 2.4h0M12.8 24.9h0M8.5 16.7h0M4.9 1.1h0M27.7 33h0M13.7 26.1h0M22.8 10.2h0M12.1 9.4h0M6.3 5h0M23.7 4.1h0M17.6 19.1h0M10.5 5.7h0M18.7 11h0M9.6 33h0M20.9 23.2h0M32.6 13.2h0M2 22.8h0M19.8 21.7h0M30.8 24.3h0M6.8 22.8h0M28.7 21.3h0M32.5 8.1h0M21.6 9.9h0M2.1 13h0M10.6 8.7h0M29.5 32.9h0M21.3 0.8h0M24.4 32.7h0M13.7 6.6h0M8.7 4.3h0M3.4 17.6h0M1.3 23.1h0M22.7 7.8h0M12.8 10.8h0M6.6 10.9h0M27.8 6.9h0M10.7 24.8h0M20.3 7.2h0M27.4 29.7h0M10.3 12.1h0M9.2 19h0M21.6 9.4h0M28.9 23.3h0M26.7 20.8h0M4.6 27h0M3.2 12.8h0M24 11.5h0M16 9.7h0M20.9 9.8h0M26 30.5h0M30.6 17.5h0M31.2 6.7h0M20.1 13.5h0M28.6 31.3h0M27.2 3.6h0M2.1 15.9h0M22 25.3h0M6.1 29.2h0M28.9 28.4h0M26.4 7.7h0M10.1 5.1h0M9.7 8.5h0M24.6 2h0M18.7 9.8h0M10.6 24.7h0M16.6 12.4h0M8.4 23.9h0M31.9 25.6h0M25.1 15.9h0M10.9 28.7h0M6.2 15h0M24.5 19h0M15 32.4h0M18 2.8h0M25.5 14.3h0M7.2 19.2h0M14.8 2.5h0M3.4 27h0M21 13.2h0M30.5 21.8h0M4.4 14.4h0M18.6 4.6h0M5.1 4.1h0M0 33h0M9.5 0.5h0M9.6 13.6h0M19.1 8h0M33.2 18.4h0M33.4 5.9h0M33.3 3.8h0M23.8 33.2h0M12.4 33.3h0M-0.3 17.1h0M18 -0.3h0M33.3 21.4h0M27.7 -0h0M9.6 -0h0M-0.4 13.2h0M29.5 -0.1h0M24.4 -0.3h0M0 -0h0M33 -0h0M33 33h0" stroke="#dfe8f3" stroke-width="0.9" stroke-linecap="round" fill="none"/></pattern>
<pattern id="p64" width="36" height="36" patternUnits="userSpaceOnUse" patternTransform="scale(0.7937 0.8826)"><path d="M5.9 29.8h0M10.2 0.2h0M22.2 10.3h0M34.7 19.3h0M11 31.8h0M12.4 6.9h0M30.6 32.4h0M17.2 34.5h0M26.4 35.9h0M12 20.8h0M18.3 31.1h0M11.3 16.3h0M23.8 12.8h0M21.7 10.3h0M32.9 5.9h0M27.2 14.9h0M35 31.9h0M30.7 26.4h0M35.9 28.6h0M31.8 18.4h0M10.7 20.2h0M6 4.5h0M10 19.5h0M3 35h0M6.9 32.9h0M21.1 15.2h0M3.1 27.6h0M25.4 29.3h0M27.4 30.3h0M0.6 7.1h0M17.9 26.1h0M14.5 32.6h0M2.9 8.1h0M12 28.9h0M27.6 30.7h0M8.3 16.4h0M0.4 26.6h0M31.3 16h0M4.8 10.9h0M24 14.8h0M33.6 15.7h0M32.8 4.8h0M13.2 35.8h0M0.6 15.1h0M3.6 0.2h0M3.6 26.5h0M1.7 27.5h0M12.8 1.7h0M0.1 7.4h0M1.7 25.5h0M19.6 6.9h0M35.3 32.9h0M5 15.8h0M32.1 22.2h0M27.7 27h0M4.5 20.8h0M5 21.2h0M23.3 12.4h0M8.2 19.9h0M22 7.9h0M17.4 3.9h0M22.7 30.1h0M23.1 26.3h0M25.7 14.6h0M29.8 23.9h0M25.8 6.3h0M27.4 12.1h0M10.3 11.9h0M18 6.6h0M22.2 7.7h0M11.2 4.2h0M0.3 10.9h0M17.3 26.9h0M6.9 21.6h0M28.5 21.9h0M28.3 20.3h0M13.8 5h0M1 14.9h0M29.3 34.9h0M32.4 25.3h0M3.6 17h0M18.7 10.5h0M24.7 3.6h0M4.8 2.6h0M22.1 14.8h0M1.3 30.3h0M29.8 34.5h0M22.1 25.4h0M31.4 21.5h0M4.9 20.3h0M3.6 21.1h0M1.6 15.8h0M7.5 4.8h0M18 6.9h0M29 30.3h0M25.6 4.3h0M31.5 16.1h0M31.9 9.7h0M22.2 35.7h0M6.1 33.9h0M8.7 21.5h0M1 33.3h0M18.6 15.8h0M23.7 4.8h0M20.9 33.5h0M4.6 30.6h0M18.6 24h0M10.4 34.3h0M13.6 19.2h0M3.5 33.8h0M31.9 6.1h0M23.9 1.7h0M9.1 1.9h0M20.3 28.1h0M18.5 19.1h0M14.1 34.5h0M3.1 14.4h0M0.7 15.5h0M29.6 33.6h0M2.1 3.8h0M5.4 22h0M33.8 0.4h0M30.3 19.7h0M8.4 5.9h0M18.9 5.8h0M34.6 30.1h0M18.4 8.3h0M25.5 12.1h0M5.3 12.5h0M26.4 7.8h0M27.5 9.4h0M31.7 9.8h0M22.9 25.4h0M4.5 32.3h0M34.4 9.3h0M35.4 0.1h0M4.8 17.9h0M1.6 23.8h0M28 12.2h0M24 12.4h0M30.5 18.7h0M22 17.6h0M32.6 29.2h0M3.8 1.4h0M13.8 21.2h0M0.5 33.1h0M29.7 21.6h0M5 17.7h0M9.3 3.5h0M11.8 18.5h0M18.1 13.5h0M18 23.6h0M5.4 15.8h0M9.4 13h0M29.2 1.5h0M8.9 4.3h0M20.6 16.6h0M24.2 32.5h0M23.1 21.1h0M19.7 12.2h0M8.1 29.5h0M19.2 17.7h0M25.4 19.7h0M28 31.2h0M0.8 0.4h0M16.5 6.2h0M20.2 19.7h0M18.8 30.4h0M28.5 29.2h0M12.4 23.8h0M35.7 32.1h0M27 12.4h0M0.2 7.7h0M15.6 3.9h0M32.4 10.4h0M28.3 31.9h0M14.5 29.6h0M25.2 30.4h0M4.4 27.5h0M5.5 28.5h0M16.2 11.5h0M19.8 34.4h0M0.8 29.5h0M26.1 16.4h0M27.4 2.1h0M19.6 22.9h0M29.7 23.8h0M31.6 30.7h0M10.4 11.6h0M28 28.1h0M6.6 11.3h0M5 5h0M13 34.2h0M20.5 30.7h0M10.2 36.2h0M26.4 -0.1h0M-0.1 28.6h0M36.4 26.6h0M13.2 -0.2h0M3.6 36.2h0M36.1 7.4h0M36.3 10.9h0M22.2 -0.3h0M33.8 36.4h0M35.4 36.1h0M0.8 36.4h0M-0.3 32.1h0M36.2 7.7h0" stroke="#c9302c" stroke-width="0.9" stroke-linecap="round" fill="none"/></pattern>
<pattern id="p65" width="43" height="43" patternUnits="userSpaceOnUse" patternTransform="scale(0.7937 0.8826)"><path d="M39.9 8h0M20.5 0.4h0M33 41.3h0M13.8 3.8h0M24 2h0M39.8 15.5h0M40.1 26h0M25.3 23.1h0M25.1 33.6h0M30.2 13.8h0M15.8 0.5h0M7.6 7.6h0M9.4 8.8h0M26.9 42.4h0M9.8 37.4h0M3.4 40.8h0M38.2 11.8h0M37.3 30.8h0M22.8 30h0M41.2 31.7h0M32.4 40h0M15 31h0M17.5 41.2h0M42.8 6.7h0M40.4 3.9h0M0.6 14.2h0M7.7 4.3h0M33.8 15.7h0M19.4 39.1h0M34.5 2.3h0M41.8 25.2h0M20.3 16.5h0M18.3 30.2h0M3.9 0.8h0M33.3 2.5h0M7.7 18.2h0M3 26.3h0M25.3 29.6h0M3.1 37.3h0M30.5 42.5h0M31.8 14.8h0M19.1 29.8h0M14.9 19h0M13.4 37.9h0M35 9.9h0M14.1 22.9h0M21.3 4.7h0M15 33.5h0M11.2 42.9h0M18.1 36.9h0M32.5 28.7h0M9.9 40h0M40.4 13.9h0M11 19.2h0M17.1 30.4h0M21.6 36.7h0M11 35.9h0M16.7 32.5h0M6.2 27.5h0M8.1 4.1h0M8.2 13.9h0M37.1 19h0M9.3 2.5h0M34.9 30.2h0M34.5 21.2h0M23.6 31.9h0M0.4 10.9h0M27.7 36.6h0M32.3 25h0M9.9 2.4h0M25.5 25.9h0M37.6 25.2h0M20.8 18.1h0M7.5 26.2h0M5.2 15.2h0M9.6 34.6h0M16.4 34.8h0M11 8.1h0M33.8 25.8h0M17.9 20.2h0M16.3 28.2h0M33.6 1.2h0M12.7 10.1h0M5.5 12.6h0M28 5.7h0M23.4 33h0M26.7 0.3h0M22.6 22.6h0M18.8 30.7h0M22.4 41.8h0M27 42.5h0M32.6 10.6h0M29.9 18.5h0M19.2 14.2h0M30.8 28.3h0M2.3 34.4h0M28 31.4h0M39.1 30.3h0M35.8 16.2h0M16 33.8h0M17.3 42h0M22.2 42.7h0M25.1 31.9h0M13 2h0M18.6 18.8h0M9.2 17.3h0M20.9 39.3h0M30.2 2.7h0M22.3 25.4h0M34.7 22h0M23.6 1.5h0M4.7 11.6h0M30.5 4.1h0M32.8 18h0M27.5 4.7h0M0.8 17.4h0M9.3 0.9h0M36.3 18.4h0M1.3 5.4h0M21.4 15h0M9.9 28.4h0M11.4 38.2h0M1.7 41.7h0M12.9 9.2h0M4.4 18h0M22.8 35.5h0M21.3 15.4h0M39.8 40.3h0M36.4 29.2h0M17.9 33.8h0M20 8.8h0M33.5 3.9h0M21.1 12.3h0M9 35.5h0M22.7 25.3h0M13.2 40h0M8.2 6.3h0M37.5 33.4h0M8.2 19.3h0M25.9 27h0M36.8 40.1h0M9.1 16.5h0M31.7 17.1h0M29.3 16.1h0M35.7 12.6h0M29.2 17.8h0M36.1 31.5h0M10 23.1h0M31.5 37.4h0M12.5 32.7h0M34.9 35.3h0M34.6 4.3h0M14.7 14h0M15.9 36h0M28.2 28.4h0M3.9 13h0M39.9 11.9h0M2.3 30.3h0M21.6 11.4h0M3.6 12.6h0M24.1 27h0M27.7 11.9h0M34.9 4.6h0M16.6 11h0M29.5 37.3h0M7.7 16.3h0M2.1 26.6h0M11 29.1h0M21 2.2h0M6.2 37h0M18.4 31.2h0M16.4 12.2h0M8.9 22h0M23.5 38.6h0M32.9 33.4h0M42 0.2h0M12.7 33.5h0M35.6 1.3h0M12 22.5h0M43 13.3h0M7.4 6.9h0M20.2 9.7h0M35.7 21.7h0M7 42.2h0M39.2 28.9h0M41.1 20.3h0M6.9 23.1h0M33.2 34.7h0M9.5 29.6h0M41.9 17h0M34.2 37.2h0M13.9 5.8h0M0.5 3.1h0M1.2 12.3h0M20.5 43.4h0M-0.2 6.7h0M11.2 -0.1h0M43.4 10.9h0M26.7 43.3h0M22.2 -0.3h0M42 43.2h0M-0 13.3h0" stroke="#dfe8f3" stroke-width="0.9" stroke-linecap="round" fill="none"/></pattern>
<pattern id="p66" width="22" height="22" patternUnits="userSpaceOnUse" patternTransform="scale(0.7937 0.8826)"><path d="M11.5 12.1h0M3.6 15.7h0M15.7 6.2h0M14.2 9h0M5 12.1h0M9.4 19.8h0M6.4 7.8h0M16.3 20.5h0M21.6 1h0M0.7 11.5h0M20.3 1.9h0M9.5 3.4h0M7.1 17.7h0M12.6 20.3h0M12.3 13h0M13.9 20.7h0M10.4 8.3h0M9.2 7.6h0M12.4 17.9h0M17.1 0.2h0M20.3 0.1h0M0.5 17.2h0M17.8 15.6h0M7.3 1.4h0M0.4 19.6h0M0.8 21.2h0M3.1 7.5h0M3.5 18.6h0M18.3 6.8h0M0.2 5.7h0M16.9 6.9h0M19.3 16.9h0M11.4 0.1h0M15.1 0.4h0M2.3 6.1h0M16.4 8.5h0M10.7 6.4h0M9 21.7h0M5.3 0.9h0M21 6.8h0M17.6 21.7h0M8.7 4.3h0M9.7 15.1h0M8 18.5h0M9.1 3.4h0M7.6 16h0M1.9 2.5h0M1.4 2.5h0M4.8 14.8h0M11.2 18.3h0M15.4 3.7h0M17.3 2.9h0M8 9.5h0M3.2 7.3h0M5.8 12.2h0M16.7 15.9h0M21.2 15.5h0M9.1 15.7h0M4.3 12.6h0M19.1 10.3h0M4.5 17.7h0M13.6 8.3h0M16.7 8.1h0M15.7 1.9h0M13.3 4.9h0M0.5 21.3h0M10.8 7.4h0M6.8 11.3h0M10 0.9h0M7.3 20.5h0M2.4 9.9h0M11.5 12.5h0M1.7 9h0M13.4 16.8h0M6.4 20.4h0M0.2 2.2h0M9 10.9h0M18 10.6h0M7.9 3.6h0M9.6 19.5h0M1.8 12.2h0M5.2 13.7h0M3.5 7h0M21.8 5.5h0M3.6 1.9h0M19.3 4.9h0M10.6 7.5h0M4 19.9h0M3 5.2h0M9.6 9.6h0M0.6 9h0M9.3 6.9h0M19.3 4h0M20.4 19.1h0M9.1 16.9h0M19.7 8.5h0M16 8.8h0M8.8 21h0M4.7 8.2h0M2.1 20.7h0M12.8 2.3h0M16.5 4.6h0M0.6 1.8h0M5 12.2h0M18.6 21.9h0M14.9 7.4h0M13.5 5h0M21.1 20.9h0M6.8 13.2h0M1.7 19.2h0M15 12.4h0M18 17.3h0M8.9 1.6h0M4.9 17.2h0M3.7 12.6h0M20.5 10.4h0M11.7 5.5h0M15.8 2.2h0M10.7 8.9h0M12.9 2.5h0M11.5 7.5h0M17.1 7.8h0M20 20.6h0M13.3 9.5h0M19.2 11.1h0M7.3 6.7h0M7.3 10.2h0M22 11.6h0M5.3 5.9h0M3.7 1.6h0M15 21.7h0M2.3 16.6h0M11.1 9.9h0M14.1 7.7h0M7.7 1.1h0M1.9 10.8h0M10.4 13.2h0M5.7 13.7h0M5.3 10.9h0M21.5 0.4h0M5.1 21.4h0M19.5 21h0M3.2 21.3h0M10.1 21.7h0M11.1 8.5h0M4.4 11.9h0M15.6 16.3h0M12 19.3h0M6.1 13.2h0M6 8.7h0M14.3 8.4h0M13.3 6h0M15.8 15.1h0M4.4 5.6h0M0.9 3.3h0M12 21.9h0M20.3 5.9h0M15.6 15.1h0M18.4 1.7h0M13 16.7h0M20.7 14.1h0M18.9 18.6h0M14.5 9.7h0M3.1 14.2h0M15.4 2.5h0M5.5 20.7h0M13.6 16.6h0M18.5 3.4h0M21.5 1.1h0M15.3 20h0M17.4 7.9h0M21.9 11h0M14.1 20h0M21.2 3.8h0M1 4.5h0M19 5.7h0M5.2 6h0M3.2 10.4h0M6.5 21.8h0M18.3 15.6h0M3.3 3h0M3.7 7.2h0M11.8 7.3h0M4.1 15.7h0M9.5 14.5h0M10.6 3.8h0M1.8 7.7h0M0.7 0.2h0M15.1 7.9h0M15.3 12.3h0M10.3 21.9h0M10.5 1.7h0M7.1 18.4h0M10.7 11h0M-0.4 1h0M17.1 22.2h0M20.3 22.1h0M22.4 19.6h0M22.2 5.7h0M11.4 22.1h0M15.1 22.4h0M9 -0.3h0M17.6 -0.3h0M22.2 2.2h0M-0.2 5.5h0M18.6 -0.1h0M-0 11.6h0M15 -0.3h0M21.5 22.4h0M10.1 -0.3h0M12 -0.1h0M-0.1 11h0M6.5 -0.2h0M0.7 22.2h0M10.3 -0.1h0" stroke="#c9302c" stroke-width="0.9" stroke-linecap="round" fill="none"/></pattern>
<pattern id="p67" width="26" height="26" patternUnits="userSpaceOnUse" patternTransform="scale(0.7937 0.8826)"><path d="M14.6 15.4h0M6.3 3.6h0M24.1 4.4h0M8.4 19.1h0M6.6 6.8h0M2.1 0.4h0M23.9 8.5h0M0.3 11.3h0M23.6 23.3h0M9.4 13.2h0M7.3 9.7h0M17.3 4h0M24 11.9h0M17.6 15.8h0M25.2 19.3h0M11.8 12.4h0M5.7 19.1h0M24.5 15.7h0M9.4 20h0M0.4 19.7h0M10.9 24.2h0M14.8 9.8h0M5.4 9.9h0M24.3 7.2h0M1.5 21.5h0M4.1 17.7h0M7.9 19.7h0M17.5 0.8h0M17.1 18.7h0M24.8 18h0M21.2 19.6h0M20 24.7h0M19.6 20.8h0M9.9 3.4h0M16.9 20.1h0M18.2 17.1h0M19.2 4.9h0M16.9 16.9h0M18.7 15.2h0M22.2 13.5h0M11.6 10.6h0M9.8 17.6h0M24.4 25h0M14.8 1.6h0M23.2 23.5h0M3.6 6.6h0M8.4 19.1h0M20.1 12.5h0M14.3 12.2h0M16.8 0.1h0M22.4 3.3h0M3.8 17.1h0M4.4 20.5h0M9.9 7.1h0M15.3 5.5h0M8.8 14.5h0M17.9 15.9h0M6.8 17.7h0M25.4 4.4h0M22.6 21h0M21.8 18.6h0M18 19.3h0M12.8 5.1h0M22 25.8h0M13.8 0.6h0M4.6 12.1h0M18.9 5.9h0M19.3 2.6h0M4.5 11.5h0M22.9 5.3h0M16 9.1h0M11.5 4.1h0M11.5 7.3h0M6.6 14.9h0M1.5 5.4h0M22.4 16.9h0M2.9 23h0M18.8 14.6h0M21.1 16h0M13.3 9.5h0M12.2 11.3h0M6.3 11.6h0M10.9 24.4h0M18.1 18.6h0M20.3 13.5h0M24.5 20.1h0M18.4 23.2h0M7.7 11.2h0M23.9 3.4h0M20.9 23.3h0M22.3 17.8h0M4 7.8h0M22.9 21.9h0M0.4 3.3h0M11.5 10.2h0M7.4 17h0M17.9 22.6h0M9.5 16.1h0M12.6 22.4h0M20.7 11.6h0M8.9 22h0M8.8 23.4h0M8.1 24.3h0M23.6 10.8h0M21.7 8.6h0M8 18.3h0M3 22.4h0M16.5 24.2h0M15.6 10.6h0M4.1 19.5h0M19.2 8.3h0M17.1 12.8h0M16.6 24.3h0M9.5 7.5h0M20.6 9.8h0M4.5 15.7h0M7.8 12h0M3.1 14.4h0M1.6 2.8h0M6.9 18.7h0M8.2 16.7h0M4.9 17.5h0M22 9.1h0M19 14.3h0M17 15.8h0M11.3 15.5h0M4.2 4.6h0M22.9 13.6h0M25.3 16.2h0M24 20.7h0M8.7 25.9h0M0.1 0.1h0M21.8 12.1h0M18 1.6h0M17.5 4.4h0M3.2 6.7h0M7.5 24.9h0M11.4 9.8h0M8.2 18.8h0M7.3 11.4h0M1.2 13.3h0M0.2 14.9h0M8.8 11.5h0M21.3 5h0M14.2 12.4h0M10.2 14.5h0M25.8 15.3h0M15.3 18.3h0M10.7 10h0M6.5 20.6h0M12.8 9.3h0M7.7 5.3h0M21 5.4h0M3.7 22.9h0M19.3 25.8h0M12.9 18.8h0M18.7 16.2h0M23.7 21.2h0M22.6 22.2h0M25.7 21.5h0M9 21.7h0M20.6 6.9h0M13.3 14.8h0M14 17.4h0M20.3 18.3h0M24.5 2.5h0M7.5 6.6h0M3.8 9.7h0M12.2 10.3h0M12.8 22.5h0M19.2 22h0M24.3 3.4h0M25.1 20.1h0M1.7 5.9h0M5.2 22.6h0M24.4 13.4h0M24.7 23h0M9 19.9h0M20.2 22.6h0M23.1 1.3h0M0.6 16.1h0M23.5 6h0M13.7 7.6h0M6.8 13.9h0M25.2 17.5h0M22 5.6h0M4.6 24h0M5.6 14.6h0M13.8 25h0M2.1 26.4h0M26.3 11.3h0M26.4 19.7h0M16.8 26.1h0M22 -0.2h0M26.4 3.3h0M8.7 -0.1h0M0.1 26.1h0M26.1 0.1h0M26.1 26.1h0M26.2 14.9h0M-0.2 15.3h0M19.3 -0.2h0M-0.3 21.5h0" stroke="#dfe8f3" stroke-width="0.9" stroke-linecap="round" fill="none"/></pattern>
<pattern id="p68" width="31" height="31" patternUnits="userSpaceOnUse" patternTransform="scale(0.7937 0.8826)"><path d="M12.2 8h0M1.1 29.2h0M12.2 15.1h0M21.8 5.1h0M2.5 0h0M20.8 10.1h0M10.4 7.3h0M23.3 30.1h0M25.5 22.4h0M29.6 15.1h0M17.5 18.3h0M10 16h0M1.8 2.7h0M18.1 24.6h0M10.5 4.2h0M9.4 2.3h0M1.6 9.5h0M2.3 26.9h0M22.9 5.5h0M9.5 11.6h0M14.2 23.7h0M11.5 11.4h0M14.4 11.5h0M1.3 21.2h0M24 20.9h0M21 26h0M27.3 3.1h0M1.6 12.7h0M30.5 15.8h0M8.5 9.3h0M14.2 22.8h0M5.5 23.6h0M28.9 27.5h0M27.6 16.7h0M2 23.5h0M4.8 21.1h0M18.8 15.6h0M17.6 17.2h0M21.9 27.1h0M13.6 12.8h0M14.4 19.1h0M12.3 24.3h0M3.6 21.8h0M21.5 24.7h0M14.1 16.7h0M3.4 13.3h0M25.7 4.5h0M25.5 20.7h0M12.5 24.2h0M13.4 15.3h0M4.2 13.9h0M3.5 15.2h0M20.8 15.4h0M28.4 23.5h0M16.8 12h0M23.4 22.9h0M2.2 6h0M28.9 19.4h0M8 29.4h0M12.9 2h0M18.7 3.3h0M28 21.6h0M24.3 17h0M7.7 30.4h0M14.4 11h0M27 23.9h0M26.1 4.3h0M3.2 2.4h0M4.1 0.9h0M27.5 3.3h0M2 11.7h0M14.5 17.4h0M20.1 5.7h0M20.6 11.5h0M30.1 29h0M28.7 28.6h0M4.5 7.5h0M25.7 26.8h0M13.2 15h0M6.4 17.8h0M1.8 6.9h0M8 16.2h0M3.3 1.4h0M21.5 16.6h0M29.7 22.4h0M11 27.2h0M25.6 27.6h0M30.7 8.8h0M24.5 28.2h0M11.2 18.6h0M23.4 11.9h0M10.3 20.3h0M16.4 23.1h0M16.1 20.2h0M8 30h0M20.4 19.3h0M28.9 7.4h0M17.9 17.1h0M13.7 7.5h0M7.9 17.5h0M28.2 5.8h0M29.7 8.6h0M26.6 4h0M9.5 10h0M24.9 16.3h0M1.6 30.6h0M14.5 14.7h0M18.5 3.6h0M2.4 25.8h0M29.8 20.5h0M4.5 3.5h0M25 16.2h0M23.2 22h0M30.8 14.5h0M5.8 1h0M16.3 22.8h0M18.3 1h0M12.5 17.7h0M13.4 17.6h0M9.3 28.7h0M11.7 22.4h0M22 14.3h0M9.8 30.8h0M27.6 9.4h0M24.7 3.7h0M24.8 24.9h0M22.8 11h0M24.2 19.2h0M16.9 17.7h0M0.1 30.1h0M15.1 11.4h0M0.9 12.3h0M21.9 18.7h0M21.8 28.2h0M13.7 22.4h0M29.4 0h0M2.9 3.3h0M2.5 28h0M26.6 21.1h0M2.7 17.1h0M26.8 15.8h0M29.1 12.1h0M13.1 27.5h0M19.6 22.5h0M24.2 29h0M21.4 16.9h0M2.9 7.4h0M11 28.1h0M16.4 8.4h0M12 30.7h0M26 6.7h0M20.8 1.2h0M12.7 23.4h0M11 6.3h0M28.6 3.3h0M7.9 24.5h0M22.7 28.3h0M3.3 1.5h0M22.3 15.7h0M27.7 28.3h0M3 6.2h0M18 8.8h0M30.7 18.8h0M27.1 1h0M23.1 9.5h0M26.4 27.5h0M28.8 15.9h0M5.7 22.2h0M21.7 4.2h0M24.3 10.1h0M14.3 2.8h0M14.9 18.6h0M9.6 8.2h0M26.9 19.7h0M19.4 19.6h0M8.2 28.8h0M17.4 8.8h0M17.9 21.3h0M22.8 0.2h0M8.5 11.6h0M1.4 8.3h0M18.8 29.3h0M26.2 26.4h0M11.2 0.8h0M3.3 28.5h0M8.4 25.8h0M6.3 1.3h0M2.7 1.6h0M19.8 29h0M22 13.1h0M21.2 10.7h0M23.5 29.7h0M2.5 31h0M-0.3 8.8h0M1.6 -0.4h0M-0.2 14.5h0M9.8 -0.2h0M31.1 30.1h0M29.4 31h0M12 -0.3h0M-0.3 18.8h0M22.8 31.2h0" stroke="#c9302c" stroke-width="0.9" stroke-linecap="round" fill="none"/></pattern>
<pattern id="p69" width="37" height="37" patternUnits="userSpaceOnUse" patternTransform="scale(0.7937 0.8826)"><path d="M26.9 7.3h0M22 2.6h0M32.4 2.5h0M29 21.7h0M4.4 28.8h0M33.3 13.2h0M32.1 12.4h0M18.4 16.5h0M18.8 35.4h0M2 2.7h0M23.7 7.6h0M11.3 1.3h0M19.4 11.1h0M6.1 28h0M10.5 17.8h0M27.3 24.5h0M22.8 34.5h0M18.4 13.4h0M24 25.3h0M28.7 20.8h0M4.3 18.8h0M1 12.4h0M2.9 31.6h0M36.7 23.5h0M19.3 33.7h0M14.3 23.8h0M4.6 6.9h0M25 26.9h0M20.4 29.3h0M5.6 2.8h0M33.6 23.2h0M32.4 32.5h0M36.6 31.8h0M13.1 1.3h0M2.1 16.8h0M24.8 28.6h0M14.8 6.6h0M33.5 22h0M4.9 28.9h0M33.4 30h0M6.1 1h0M0.7 4.6h0M23 34.3h0M21.7 7.7h0M24.7 25.6h0M8.8 34.5h0M0.6 9.3h0M3.7 31.8h0M20.6 20.3h0M15.2 16.4h0M8.1 33.2h0M18.5 2.6h0M6.9 0.1h0M25.6 7.2h0M3.7 11.8h0M4.2 13.3h0M12 22.8h0M33.1 26.2h0M22.9 32.8h0M32.2 17.2h0M15.2 26.6h0M4.9 31.7h0M7.7 1.5h0M6.9 29.4h0M11.7 31.7h0M27.7 26.1h0M10.6 9.9h0M8.6 14.9h0M23.5 16.4h0M2.5 29.3h0M15.9 1.6h0M18.7 16.2h0M6 28.3h0M4.2 15.9h0M19.4 1.6h0M3.2 28.8h0M2.4 32.7h0M35.2 0.5h0M15.4 15.7h0M13.6 4.3h0M29.8 24.2h0M20.9 27.4h0M32.3 1.5h0M33 14.4h0M4.5 17.5h0M19.5 6.9h0M31.6 11.8h0M22.3 37h0M8.2 27.9h0M0.7 14.3h0M1.2 10.8h0M3 8h0M11.3 11.2h0M36 23.9h0M34.1 6h0M17.4 28.4h0M12.3 3.6h0M4 12.8h0M28.3 19.1h0M34.4 26.9h0M14.5 11.4h0M10 17h0M3 36.8h0M13.4 19.1h0M32.9 28.7h0M35.2 30.9h0M0.8 7.1h0M0.4 15.6h0M12.8 22h0M7.3 19.3h0M20 28.7h0M1 16.4h0M19.1 6h0M31.4 21.1h0M28.3 32.6h0M9.4 15.1h0M16 35h0M16.2 7.9h0M4.1 30h0M6.4 21.1h0M3.2 19.8h0M22.3 22h0M18.9 27.2h0M7.6 30.7h0M20.6 19.4h0M20.1 12.8h0M5.1 19.4h0M23.4 17.1h0M19.3 20.7h0M24.1 25.1h0M16.1 23.3h0M31.7 0.7h0M18.5 21.6h0M27.7 10.4h0M2.9 24.2h0M32.7 17.1h0M11 27.1h0M7.4 30.4h0M0.4 28.5h0M7.8 0.4h0M14.6 18.7h0M24.6 17h0M12.6 31.6h0M28.9 1.5h0M21.9 19.6h0M23.4 1.9h0M27.5 15.5h0M1.1 31.8h0M28.8 2.1h0M6.9 10.3h0M36 29.9h0M35.7 35.8h0M4.8 31.9h0M15.2 29.3h0M8.7 12.8h0M17 11.4h0M6.1 23.6h0M8.2 31.3h0M10 25.1h0M30.4 9h0M5.9 8.9h0M1.5 5.7h0M5.6 20.4h0M6.9 18.8h0M31.2 28.8h0M35.7 5.9h0M0.5 2h0M18.4 14.6h0M13.3 27.5h0M19.4 35.5h0M27.8 29.6h0M8.7 27.8h0M29.9 9h0M4.6 32.5h0M29.2 27.4h0M24.1 28.9h0M28.9 8.5h0M21.6 31.9h0M36.3 14.7h0M20.2 20.7h0M21.6 0.3h0M28.6 5.6h0M4.9 22.3h0M30.2 19.8h0M17 9.6h0M5.8 28h0M28.7 12.4h0M21.3 8.8h0M0.2 2.7h0M34.6 0.2h0M11.8 29.3h0M29.5 17.9h0M-0.3 23.5h0M-0.4 31.8h0M6.9 37.1h0M22.3 -0h0M3 -0.2h0M37.4 15.6h0M37.4 28.5h0M7.8 37.4h0M21.6 37.3h0M37.2 2.7h0M34.6 37.2h0" stroke="#dfe8f3" stroke-width="0.9" stroke-linecap="round" fill="none"/></pattern>
<pattern id="p70" width="25" height="25" patternUnits="userSpaceOnUse" patternTransform="scale(0.7937 0.8826)"><path d="M2.3 0.7h0M10.6 17.3h0M18.7 18.7h0M18.3 6.5h0M18.3 8h0M18.1 12.7h0M24.9 10.6h0M23.6 8.6h0M3.5 5.6h0M9.1 0.5h0M13.8 14.9h0M10.9 21.5h0M20.8 17.9h0M3 1.1h0M19.7 24.6h0M4.4 15.8h0M18.3 10.2h0M2.2 10.2h0M1.2 2.6h0M5.1 23.4h0M3.4 17.8h0M17.5 2.3h0M19.3 1.3h0M23.3 1.7h0M1.4 12.7h0M13 4.7h0M5.7 1h0M21.5 7.3h0M19.9 7.2h0M13.8 11.7h0M24.8 3.3h0M0.6 18.1h0M23 21.3h0M13.6 17.8h0M15.4 3.5h0M17.3 1h0M9.2 3.9h0M24.4 18.1h0M9.5 22.1h0M15.9 4.5h0M14 9.5h0M3 1h0M16.4 20.5h0M20 17.1h0M9.4 9.7h0M6.5 9h0M14.2 7.3h0M4.5 19.6h0M14.2 10h0M8.1 9.4h0M20.7 12h0M11.5 3.3h0M7 22.8h0M14.1 10.6h0M14.1 1.1h0M17.2 20.6h0M5 3h0M10.2 8.7h0M2 7.7h0M4.5 19.7h0M21.4 1.1h0M21.6 18.1h0M12.4 6h0M0.2 10.6h0M12.4 9.3h0M11.6 6h0M15.1 17.7h0M15.7 5.3h0M4.2 2.5h0M3.5 10h0M2.9 18h0M14.7 1.1h0M0.2 2.8h0M11.6 11.4h0M21.2 3h0M13.7 11.7h0M15.4 16.8h0M15.9 12.7h0M9.5 6.2h0M6.4 22.7h0M8.6 2.6h0M20.5 3.5h0M1.1 13h0M11.4 1.1h0M23.2 14.4h0M0.1 10.7h0M3.7 1.5h0M10.6 5.6h0M4.5 24.7h0M23.7 19h0M16.1 12.2h0M18 23.9h0M23.8 3h0M21.3 3.1h0M18.3 11.5h0M0.6 15.7h0M8.8 22.6h0M8.2 5h0M6 7.5h0M22 14.7h0M6 19.2h0M15.5 0.5h0M23.2 15.8h0M23.8 12.9h0M6.7 11.8h0M19.6 20.1h0M2.1 4.3h0M2.2 17.7h0M9.7 16.8h0M25 6.8h0M17.5 17.5h0M3.9 19.5h0M13.2 0.6h0M0.2 22.7h0M15.7 8.4h0M16.8 1h0M6.4 24.1h0M1.8 19.9h0M24.2 24.1h0M15.2 2.5h0M7.2 1h0M6.4 11.6h0M18.4 18.8h0M6.6 4.7h0M23.8 6.9h0M20 7.5h0M14.2 6.5h0M11.6 6.8h0M18.7 1.2h0M22.9 19.8h0M20 12.9h0M19.4 14.3h0M16.2 23h0M19.5 14.6h0M9 17.8h0M3.9 16.2h0M8.1 19.3h0M19.7 17.3h0M10 13.7h0M12.3 9.9h0M24 0.2h0M23.3 14h0M4.6 16.5h0M3.9 24.8h0M6.8 21.7h0M20.4 2.4h0M0.2 2.3h0M8.9 23.7h0M18.2 3h0M16.4 17.6h0M21 18.2h0M3.3 1.1h0M17.5 21.6h0M15.4 9.8h0M18.8 22.7h0M12.4 10.5h0M22.3 12.5h0M18.7 21.6h0M5 2h0M3.4 18.6h0M1.4 8.2h0M2.6 8.5h0M15.2 16.7h0M19.4 17.3h0M21.5 14.1h0M12.7 6h0M2.3 19.6h0M16.1 20.1h0M15.1 15.2h0M21.1 22.6h0M17.5 10h0M5.6 6.5h0M0.6 2.5h0M9.3 13.1h0M11 16h0M23.7 21.3h0M24.2 7.9h0M7.7 22.7h0M12.6 10.6h0M22.5 14.9h0M10.4 9.7h0M22.7 1h0M6.4 21.4h0M0.8 2.1h0M13.5 10.2h0M22.2 1.5h0M13.5 5.2h0M5.3 13.4h0M-0.1 10.6h0M19.7 -0.4h0M-0.2 3.3h0M25.2 10.6h0M25.2 2.8h0M25.1 10.7h0M4.5 -0.3h0M-0 6.8h0M25.2 22.7h0M24 25.2h0M3.9 -0.2h0M25.2 2.3h0" stroke="#c9302c" stroke-width="0.9" stroke-linecap="round" fill="none"/></pattern>
<pattern id="p71" width="30" height="30" patternUnits="userSpaceOnUse" patternTransform="scale(0.7937 0.8826)"><path d="M12.5 21.5h0M12.7 4.3h0M22.8 16.5h0M10 24h0M26.3 17h0M23.9 24.6h0M10.1 23.8h0M25.7 28.1h0M9.9 12.8h0M21.4 24.3h0M29.9 17.3h0M15.7 15.2h0M16.1 2.3h0M16.3 17.7h0M19.9 15.6h0M3.2 15.5h0M13.9 5.2h0M11.3 0.6h0M28.8 29.6h0M12.3 28.7h0M21 27.7h0M16 4.9h0M20.2 21.6h0M4.9 16.4h0M5.8 21h0M4.3 25.3h0M23.7 20.1h0M18.9 3.5h0M15.4 19.8h0M5 16.8h0M17.4 2.4h0M7.3 10.8h0M9.4 5.5h0M8 15.9h0M7.8 28.4h0M26 12.7h0M10.5 2.6h0M14.3 10h0M14 25.2h0M15.1 18.6h0M0.4 7.7h0M2.6 7.3h0M26.9 18h0M18.7 12.5h0M27.6 19.5h0M29.4 1.6h0M14.6 7h0M21.9 17.1h0M4.2 25.5h0M22 9.4h0M9.7 16.8h0M3.2 24h0M8.1 17.2h0M17.7 19.5h0M15.2 4h0M20.1 9.6h0M7.7 3.6h0M27.3 4.3h0M24 12.4h0M4.8 19.2h0M27.5 29.3h0M28.4 10.2h0M8.3 14.4h0M8 13.4h0M14.3 14.3h0M29.1 11.3h0M4.5 6.7h0M5 8.1h0M4.1 22.4h0M26.6 22.5h0M26.7 15.3h0M0.5 4.5h0M25.1 22.8h0M13 16.7h0M2.9 4.3h0M18.7 8.6h0M3 10.7h0M26.6 9.7h0M12.9 21.8h0M27.2 11.6h0M2.2 16.9h0M21.9 0.5h0M19.5 13.4h0M4 1.1h0M5.1 17h0M22.4 0.8h0M2.5 24.4h0M3.8 2.2h0M14 18.2h0M6 10.4h0M6.8 29.8h0M5.7 1.1h0M28.1 12.8h0M1.7 3.1h0M3.8 4.6h0M14.5 5.2h0M14.3 25.2h0M17.3 4h0M18 25.8h0M16.4 14.5h0M10.4 15.9h0M20 24.1h0M25.2 15.8h0M12.4 13h0M17.3 6.6h0M23.3 19.5h0M16.8 18.8h0M19.1 14.9h0M27.7 27.8h0M14.4 22.8h0M6.5 0.2h0M9.5 8.8h0M2 7.7h0M11.8 9h0M13.3 3.7h0M27.9 29.6h0M8.5 10.6h0M20.6 21.2h0M27.5 28.1h0M16.7 11.9h0M14.8 14.8h0M22.8 25.5h0M29.8 23.8h0M14.5 14.2h0M21 6.3h0M23.7 22.6h0M27.2 7h0M6.1 27.5h0M16.9 9.2h0M28.2 10.9h0M22.7 1.7h0M29 22.1h0M9.5 8.3h0M29.1 29.9h0M14.1 20.3h0M18.7 22.6h0M12.2 25.8h0M2.2 17.4h0M28.2 13.9h0M9.9 3.7h0M14.1 24.9h0M0.6 20h0M4.4 21.2h0M19 23.5h0M16.3 15.5h0M9.8 2.4h0M25.4 11h0M0.7 17.2h0M29.3 24.2h0M18.8 22.4h0M25.1 5.9h0M22.3 25.8h0M9.8 11h0M5.4 4.9h0M26.9 18.9h0M4.3 6.7h0M23.3 20h0M23.8 10.9h0M15.3 14.1h0M28.1 24h0M25.6 14.8h0M11.6 13.6h0M20.9 6.6h0M22.9 17.1h0M7.3 0.8h0M14.8 28.7h0M14.7 22.2h0M20.7 22.9h0M5.6 19h0M15.7 28.7h0M16.2 24.1h0M0.3 14.2h0M15.7 0.4h0M25.5 9.7h0M14.3 12.1h0M7 20.2h0M8.6 25.8h0M14.7 27.8h0M14.3 22.4h0M27.3 15.6h0M11.2 18.3h0M15.4 7.7h0M11.2 28.3h0M24 4.9h0M15.7 10.8h0M14.1 29.6h0M6.9 21.9h0M11.7 11.1h0M29.3 29h0M-0.1 17.3h0M28.8 -0.4h0M30.4 7.7h0M6.8 -0.2h0M6.5 30.2h0M27.9 -0.4h0M-0.2 23.8h0M29.1 -0.1h0M30.3 14.2h0M15.7 30.4h0M14.1 -0.4h0" stroke="#dfe8f3" stroke-width="0.9" stroke-linecap="round" fill="none"/></pattern>
<pattern id="p72" width="40" height="40" patternUnits="userSpaceOnUse" patternTransform="scale(0.7937 0.8826)"><path d="M30.1 38.3h0M37.7 29.7h0M12.3 36.8h0M21.5 11.9h0M18 0.6h0M4.2 33.5h0M9.2 15.5h0M36.1 19.1h0M18.1 31.8h0M35.9 30.1h0M32.1 0.7h0M34.2 3.8h0M8 21.6h0M2.6 7.7h0M37.5 26.8h0M14.7 3.8h0M3.1 18.3h0M1.3 33h0M39.6 5.9h0M25.9 38.1h0M29.1 3.7h0M36.8 24.7h0M32.7 28.5h0M15.1 17.1h0M2.7 4.6h0M30.1 27.4h0M9 10.2h0M11.4 11h0M22.2 7.5h0M34.2 15.8h0M31.5 39.2h0M0.9 26.7h0M28 4h0M30.1 2.1h0M25.9 25.3h0M24.1 5.8h0M10.1 1.7h0M10.9 11.5h0M24.2 21.4h0M13.4 5.5h0M0.7 5.9h0M1.2 26.4h0M33.9 1.6h0M8.2 18.1h0M27.3 2.1h0M14.4 22.8h0M2.9 10.6h0M14.8 6.5h0M27.4 8.2h0M39.9 8.4h0M18.9 29.4h0M12.6 38.6h0M12.1 23h0M32.3 0.6h0M26.9 38.3h0M34 1.8h0M27.7 27.5h0M27.9 5.7h0M22.9 16.9h0M9.9 27.1h0M13.4 1.7h0M24 29.6h0M31.1 21.3h0M21.8 10.1h0M15.5 24h0M35.5 29.9h0M24.7 28.8h0M35.8 4.7h0M17.1 12.6h0M4.2 15.1h0M11.3 25.9h0M8.7 27.8h0M31.4 38.8h0M24.6 0.6h0M35.9 11.7h0M17 13h0M6.8 29.2h0M28.2 25.2h0M23.5 3.9h0M5.8 1.7h0M27.5 10.6h0M1.3 8.8h0M0.6 35.4h0M7.2 21.6h0M38.9 5.1h0M17.2 18.2h0M24.8 1.1h0M2 27.1h0M1.1 25.9h0M8.5 5h0M39.8 14.7h0M13.3 31.5h0M14.6 28.5h0M9.3 28.3h0M8.6 37.4h0M13.5 39.4h0M27.7 16.3h0M36.2 20.8h0M7 25.9h0M9.3 0.8h0M7.2 39.8h0M35.3 24.3h0M36.7 39.3h0M3.3 14.3h0M27.6 34h0M13.6 15.6h0M36.5 7.2h0M11 21.4h0M2.9 12.5h0M6.3 28.8h0M20.1 6.1h0M7.8 39h0M11.3 38.5h0M28.2 16.8h0M12.1 14.7h0M37.1 14.9h0M20.4 5.3h0M30.3 29.7h0M29.3 8.4h0M33.6 37h0M8.9 28.5h0M8.9 27.5h0M29.9 5.1h0M7.4 32.7h0M14.9 34.6h0M27.9 12.2h0M24 19.5h0M5.4 10.5h0M9.7 5.8h0M39 15.4h0M39.7 12.9h0M27.4 19.9h0M18 6.4h0M24.3 37.3h0M13.7 36.4h0M37.9 28.4h0M17 21.6h0M38.7 27.5h0M13.2 16.4h0M35.1 13.3h0M26.7 36.3h0M13.3 4.9h0M30.6 5.2h0M17.4 9.5h0M23.6 25.8h0M6.3 17.8h0M34.4 6.6h0M0.5 27.4h0M37.7 18.6h0M4.4 21.3h0M17.3 15.5h0M28.9 17.1h0M10.6 39.2h0M38.5 29.9h0M2.6 33.9h0M20.2 2.4h0M30.9 36h0M13.9 36.2h0M29.4 9.8h0M1.1 4.8h0M30.8 31.7h0M37.3 17.6h0M2.7 28h0M30.3 14.7h0M24.8 24.4h0M7 20.9h0M37.3 15h0M4 11.4h0M38.5 11.6h0M39.1 16.4h0M35.2 38.7h0M11.2 20.9h0M8.7 6.3h0M27.1 39.3h0M11.8 10.3h0M21.9 39h0M34.1 25.4h0M3.9 3.5h0M3.8 21.4h0M21.6 34.5h0M9.5 32.4h0M6.4 2.1h0M25.5 22.4h0M36.2 2.9h0M31.3 21.8h0M24 17.6h0M18.3 0.7h0M24 33.2h0M26.7 2.1h0M16.7 35.5h0M0.7 17h0M13.3 11.7h0M36.1 5h0M13.2 11.5h0M13.6 18.7h0M9.8 7.1h0M18.3 29.4h0M28.1 9.7h0M13.2 0.7h0M36 16.7h0M-0.4 5.9h0M-0.1 8.4h0M-0.2 14.7h0M7.2 -0.2h0M-0.3 12.9h0" stroke="#c9302c" stroke-width="0.9" stroke-linecap="round" fill="none"/></pattern>
<pattern id="p73" width="47" height="47" patternUnits="userSpaceOnUse" patternTransform="scale(0.7937 0.8826)"><path d="M4 10h0M40 19.9h0M30.8 10.7h0M45.1 24.7h0M8 9.1h0M44.2 40.5h0M34.7 0.9h0M0.6 0.5h0M7.9 40.2h0M29.8 39.3h0M43.5 26.3h0M13.1 13.5h0M19.8 24.8h0M28.3 1.8h0M9.1 4.4h0M46.4 40.7h0M32.5 41.6h0M43.7 17.5h0M26.3 34.8h0M35.1 20.9h0M20 25.6h0M42.1 43.5h0M22.7 12.8h0M41.4 6.1h0M15.2 31.9h0M36.5 31.4h0M40.6 16.2h0M43 8.3h0M2.1 41.2h0M25 36.9h0M27.1 5.1h0M3.6 37.4h0M2.9 31.6h0M12.5 15.3h0M1.9 23.9h0M17.3 21.8h0M24.4 22.8h0M46.4 35h0M6.7 5.3h0M9.8 41.7h0M16.2 45.1h0M8.9 43.8h0M46.3 23.8h0M22.2 35h0M28.1 40.7h0M11.2 4.4h0M35.8 22h0M16.7 22.6h0M28.4 1.8h0M17.1 30h0M44.7 44.5h0M12.6 25.4h0M36.7 27.4h0M30.2 31.2h0M27.6 32.6h0M35.6 23.1h0M29.8 9.8h0M2.7 45.8h0M23.9 27.1h0M11.8 15.2h0M37.6 8.2h0M40.8 5.9h0M40 37.9h0M44.1 15.3h0M4.8 21.9h0M8.5 40.1h0M29.7 14.5h0M20.1 44.3h0M3 41.3h0M34 6.8h0M23.5 7.4h0M2.7 15.8h0M14.9 7.1h0M38.1 44.5h0M13 12h0M12.4 33.5h0M9 26.9h0M17.3 39.6h0M45.3 42.4h0M5.1 6.4h0M22.3 7.7h0M31.7 3h0M40.6 35.2h0M11.2 45h0M11.8 14.6h0M7.6 18.1h0M30.3 22.8h0M6.5 12.3h0M46.3 11.5h0M41.8 43.6h0M20.1 22.3h0M32.5 12.8h0M33.6 26.2h0M35.1 21.8h0M34 42.4h0M19.5 41h0M15.1 26.6h0M45.8 3.1h0M36.2 29.1h0M30.3 26.5h0M3 40.6h0M30.1 5.2h0M3.7 31.2h0M44.7 42.6h0M37 41.2h0M17.4 5.4h0M3.5 36.6h0M37.6 27h0M47 21.4h0M44.5 13.5h0M9 9.3h0M12.6 7.2h0M37.1 26.1h0M19.9 32.4h0M16 17.7h0M43.1 44.2h0M24.5 40.4h0M20.6 19.9h0M29.2 0.4h0M33.3 7h0M7.6 40.3h0M26.8 45.1h0M2.1 37.9h0M42.1 28.4h0M15.1 5.3h0M25.8 22.4h0M37.9 37.1h0M42.2 46.6h0M18.6 11.4h0M45 36.3h0M28.3 0.7h0M29.8 19h0M16.6 14.5h0M40.1 7.8h0M24 10.5h0M18 40.6h0M31.2 9.1h0M46.9 43.4h0M14.1 29.8h0M0.8 2.6h0M10.7 35.3h0M41.3 19.8h0M5 1.5h0M17.4 13.4h0M21.3 9.7h0M6.9 28.5h0M12.9 29.1h0M36 2.3h0M35.8 17.6h0M5 6h0M8 40.5h0M1.1 19.7h0M16.4 8.2h0M26 32.2h0M37.3 18.3h0M2.7 25.5h0M37.2 24.4h0M22.4 26.3h0M12.3 38.6h0M26.4 2.5h0M20.2 31.1h0M11 9.7h0M5.9 37h0M28.9 36.2h0M44.3 9.7h0M34.1 3.3h0M20.8 7.1h0M6.1 42.4h0M15.2 39.7h0M25.8 3.1h0M4.9 27.8h0M28.8 18.4h0M18.4 15.1h0M14.4 14.7h0M8.9 15.3h0M20.4 3.8h0M24.4 29.3h0M38.2 8.6h0M28.4 26.7h0M42.5 13.5h0M36.9 17.6h0M14.1 35.4h0M27.8 25.9h0M2.1 36.9h0M22.6 38.3h0M18.2 0.9h0M21 1.8h0M34.3 45.7h0M41.8 24.7h0M8.6 21.3h0M27.2 4.5h0M46.2 15.7h0M0.3 8.8h0M-0 21.4h0M29.2 47.4h0M42.2 -0.4h0M-0.1 43.4h0M47.3 8.8h0" stroke="#dfe8f3" stroke-width="0.9" stroke-linecap="round" fill="none"/></pattern>
<pattern id="p74" width="63" height="63" patternUnits="userSpaceOnUse" patternTransform="scale(0.7937 0.8826)"><path d="M28.5 11.2h0M1.2 51.5h0M1 45.6h0M60.9 61.9h0M57.2 49.2h0M6.6 36.7h0M29.5 10.5h0M54.3 56.2h0M7 22.5h0M58.2 21.4h0M38.6 32.8h0M40.8 29.9h0M61 15h0M42.8 19.9h0M48.5 10.7h0M11.3 23.9h0M47.1 59.8h0M23.3 20.2h0M38.9 20.8h0M15.5 27.2h0M34.7 13.3h0M7.1 14.2h0M31 41.8h0M38.2 59.7h0M38.8 28.7h0M27.5 23.4h0M53.5 45.2h0M2.2 19h0M5.2 45.4h0M37.1 10.8h0M27.3 28h0M28.6 49h0M59.9 26.5h0M48.6 30.5h0M33.6 40.2h0M5.2 27.2h0M36.5 29.9h0M28.3 24.6h0M18.1 59.1h0M17.7 32.3h0M45.1 2.4h0M28.9 4.8h0M30.3 35h0M47.8 15.2h0M16.5 41.9h0M43.2 55.8h0M30.6 22.7h0M58.9 12.2h0M39.9 48.4h0M54.2 21.8h0M55.6 37.6h0M21.5 52.3h0M62.6 25.9h0M59.6 30.8h0M25.8 8.7h0M1.2 12.8h0M52.2 41.5h0M29.9 33.9h0M6.3 34.2h0M38.1 46h0M50.8 47.2h0M7.7 7.6h0M29.9 34.2h0M34.7 52.3h0M62.9 45.5h0M60.8 6.9h0M33.9 35.4h0M50.8 1.8h0M50.9 51.7h0M58.3 32.4h0M11.9 33.3h0M14.7 39.8h0M59.8 5.4h0M17.9 12.6h0M43 35.5h0M15.4 23.1h0M38.3 53.1h0M58.8 9.1h0M41.1 26.9h0M8.2 34.4h0M2.7 4.6h0M50.6 45.8h0M12 53.3h0M15.1 41.2h0M21.2 23.8h0M24 53.1h0M14.5 59.3h0M27.3 53.1h0M9.8 38.5h0M60.8 51.5h0M15.1 61.4h0M62.4 34.9h0M56.8 37.9h0M40.8 17.6h0M42.6 55.9h0M40.2 58.3h0M8.6 43.9h0M24.1 32.3h0M59.6 10.8h0M44.7 12.3h0M20.3 23.3h0M17.2 21.8h0M38.1 13.7h0M44.1 48h0M32.7 59.6h0M25.3 8.1h0M50.9 4.8h0M53.3 38.2h0M48.9 15.3h0M6 43.9h0M62.4 2.7h0M39.5 37.5h0M35.9 46.9h0M53 29.1h0M62.5 14.7h0M9.6 46.6h0M14.8 44.7h0M51.3 19.1h0M57.1 57.5h0M32.3 6h0M26.2 48h0M1.3 60.1h0M15.1 50.1h0M28.4 23.5h0M55.7 1.5h0M7.2 1h0M2.1 0.9h0M51.7 41.6h0M52 30.9h0M44 10.4h0M7.9 18.2h0M56.7 26.9h0M39.3 15.2h0M41.3 37.2h0M24.3 43h0M57.2 61.7h0M18.1 31.2h0M33.6 59.2h0M56.6 33.5h0M40.1 32.9h0M16.7 29.6h0M56.1 48.2h0M12.2 40.1h0M38.3 17h0M0.1 54.5h0M8.8 33.8h0M51.7 52.7h0M29.1 25h0M39.3 5.2h0M14 41.1h0M41.7 3h0M43.4 13.4h0M13 46.5h0M53 24.8h0M28.8 31.6h0M8.4 57.2h0M11.3 11.1h0M21.2 45.8h0M16.1 21h0M62.2 59h0M3.8 31.8h0M1.7 31.5h0M31.8 9.9h0M9.7 27h0M13.8 25.2h0M52.2 62.1h0M5.1 28.9h0M61.3 26.4h0M38.3 46.8h0M41.5 40.7h0M40 46.5h0M6.3 48.5h0M24.6 35h0M55.5 53h0M44.2 11.3h0M20.5 53.4h0M62.6 60.6h0M22.9 42.3h0M22.1 16.9h0M53.8 62h0M45.7 57.1h0M28 42.4h0M21.6 17.1h0M31.5 53.2h0M12.9 13.7h0M37.4 4.9h0M48.1 4.9h0M35 46.2h0M59.7 58.5h0M12.8 52.5h0M59.9 14.9h0M16.4 13.9h0M42.6 46.3h0M42.2 59.8h0M14 50.6h0M8.5 14.7h0M46.8 53.4h0M43 10h0M-0.4 25.9h0M-0.1 45.5h0M63.1 54.5h0M-0.4 60.6h0" stroke="#c9302c" stroke-width="0.9" stroke-linecap="round" fill="none"/></pattern>
<pattern id="p75" width="64" height="64" patternUnits="userSpaceOnUse" patternTransform="scale(0.7937 0.8826)"><path d="M22.5 29.6h0M58.9 51.7h0M5.6 0.7h0M49.1 31.5h0M23.4 2.4h0M24.3 9.7h0M42.7 40.4h0M26.8 1.8h0M58.5 6.3h0M5.5 48.1h0M51.6 54.4h0M7 62.7h0M43.5 4.3h0M4.7 52.3h0M48.5 44.3h0M60.9 8.7h0M5.6 3.6h0M11.7 17.5h0M47.5 14.1h0M44 24.5h0M64 55.2h0M3.3 4.3h0M54.8 63.7h0M14.8 50.9h0M17.4 18.9h0M33.5 8.4h0M20.1 15.3h0M40.4 14.8h0M5.5 25.8h0M31.7 55.3h0M30.9 9.2h0M55.9 42.1h0M15 61.2h0M30.5 1.4h0M36.9 41.8h0M21.3 4.9h0M52 28.2h0M1.8 3.5h0M29.4 16.3h0M62.4 56.4h0M60.4 19.9h0M20.8 0.4h0M14.6 14.8h0M10.1 35.2h0M13.4 46.1h0M25.5 30.7h0M16.4 6.7h0M60.6 7.9h0M28.5 4.1h0M33.4 14.1h0M35.5 23.6h0M22.7 54.1h0M59.2 38.2h0M23.9 3h0M59.3 61.6h0M55.7 25.7h0M26.1 7.9h0M57.4 23.7h0M35.7 43.1h0M36.7 31h0M57.6 39.5h0M44.2 1h0M53.6 6.6h0M20.4 36.9h0M26.9 55.9h0M1.6 49.8h0M59.9 41.7h0M7.8 59.6h0M4.2 13h0M4.2 51.9h0M56.2 42.1h0M33.4 10.2h0M11.7 56.6h0M31.5 35.9h0M38.5 22.9h0M61 42.6h0M12 8.7h0M44.6 46.2h0M52.5 6.5h0M30.1 10.3h0M18.4 50.1h0M1.8 5.3h0M14 19.4h0M48.3 62.8h0M43.7 24.6h0M39 59.7h0M29.1 33.9h0M16.2 19.6h0M17.1 46.2h0M34.3 26.5h0M21 56.5h0M42.5 5.6h0M56.2 39.1h0M3.3 56.9h0M27.7 38.7h0M53.9 35.8h0M19.5 40.3h0M4.7 20.4h0M29.7 29.6h0M44 46.8h0M16.5 59.6h0M15.9 49.1h0M2.5 5.6h0M63.4 28.9h0M23.7 46.1h0M59.8 59h0M56.1 32.6h0M41.1 62.3h0M10.1 16.8h0M58.5 37.7h0M24.6 43.2h0M1.4 11.2h0M18 32.2h0M28.7 1.2h0M30.4 29.3h0M9.5 41.2h0M12.5 20.4h0M42.8 2.4h0M15.8 25.9h0M35.7 56h0M48.1 26.9h0M46.8 57.5h0M12.1 6.5h0M21.8 21.3h0M39.4 14.3h0M47.9 52h0M28.5 42.7h0M1.7 51.6h0M54.4 30.7h0M4.7 37.8h0M54.6 10.2h0M56.6 43.8h0M28 27.7h0M28.8 21.8h0M55.6 55.2h0M45.6 10.5h0M4 6.9h0M8.5 0.6h0M23.8 31.4h0M27.3 29.2h0M25.9 54.5h0M63.2 19.2h0M19.9 31h0M-0 55.2h0M54.8 -0.3h0M20.8 64.4h0" stroke="#dfe8f3" stroke-width="0.9" stroke-linecap="round" fill="none"/></pattern>
<pattern id="p76" width="51" height="51" patternUnits="userSpaceOnUse" patternTransform="scale(0.7937 0.8826)"><path d="M19.8 24.1h0M3.6 44.6h0M42.1 43.3h0M18.5 42.5h0M11.6 22.9h0M44.5 26h0M49.8 35.8h0M37.6 43.1h0M34.9 9h0M40.5 13.6h0M9.3 8.4h0M44.4 30.9h0M34.8 48.7h0M18 16.7h0M41.2 20h0M3.6 50.3h0M43.4 41.8h0M48.7 9.1h0M44.1 5.7h0M27.4 27.2h0M27.9 48.3h0M48.7 4.5h0M49.2 23.6h0M1.5 30.3h0M11.3 13.3h0M20.1 43.4h0M27.5 17.2h0M29.9 12.8h0M46 44.2h0M25.8 9.5h0M30 42h0M17.3 0.5h0M2.4 50.8h0M31.9 45.5h0M41.8 26.4h0M45 5.7h0M8.1 36.8h0M22.1 38.6h0M20.4 32.2h0M32.1 10.2h0M20 15.1h0M21.4 24.3h0M47.7 34.7h0M35.8 41.1h0M41.1 31.5h0M33.4 12.1h0M40.1 32.5h0M9.4 1.3h0M24.7 3.3h0M17.4 30.4h0M33.4 5.8h0M6.7 10.3h0M36.8 3.7h0M41.9 30.1h0M10.2 0.5h0M44.5 22.8h0M2.5 45.9h0M45.8 10.1h0M10.4 4.8h0M46 37.8h0M5.1 23.3h0M25 47.3h0M18.2 23.8h0M6.8 3.6h0M11.6 32h0M19.4 19.2h0M25.2 25.6h0M5.4 12.4h0M16.6 35.2h0M14 21.4h0M45.4 21.1h0M5.7 34.7h0M43.2 2.6h0M49.8 40.7h0M48.6 48.7h0M34.8 49.3h0M48.4 12.1h0M43.5 2.4h0M34 1.7h0M7.8 30.8h0M20.5 7.7h0M22.3 45.7h0M28.9 4.4h0M29 46.1h0M11.3 4.2h0M0.1 9.6h0M22.6 42.4h0M9.5 35.9h0M21.9 35.6h0M24.4 36.4h0M29.7 41.2h0M15.5 17.3h0M29.7 24.4h0M13.6 34.3h0M28.1 38.1h0M7.2 46.2h0M48.2 40.6h0M29.5 15.5h0M24.6 28.9h0M24.9 29h0M27.7 5.3h0M11.1 43.9h0M19.8 39.5h0M42.5 28.6h0M21.7 23.7h0M32.4 24.5h0M13 36.8h0M47.6 19.5h0M29.2 44.9h0M29.7 44.4h0M8.5 47h0M33.1 12.3h0M37 20.7h0M15.9 22.9h0M15.2 31h0M34.1 5.7h0M35.5 14.6h0M1.5 49.5h0M14.3 4.1h0M4.2 11.3h0M16.9 32.6h0M6 7.5h0M42.2 50.5h0M4.8 10.6h0M22.8 7.3h0M41.8 43.4h0M4.6 5h0M12.2 20.9h0M18.2 33.5h0M12.7 50.8h0M48.4 30.5h0M25.2 42.6h0M8.1 8.2h0M36.9 15.9h0M45.3 21.5h0M30.5 44.4h0M12.9 17.7h0M16.9 13.4h0M24.4 1.4h0M20.4 22h0M12.1 0.3h0M35.9 49.5h0M16.7 16.6h0M28.4 6h0M34.9 1.5h0M16.2 9.2h0M13.1 25.1h0M6.5 41.3h0M9.5 38.2h0M26.3 38.8h0M4.8 21.6h0M11 44.2h0M23 1.9h0M20.9 30.3h0M36.3 50.7h0M37.7 50.1h0M21.7 29.9h0M25.6 9.6h0M3.9 10.9h0M17.2 4.2h0M20.6 15.6h0M1.2 34.4h0M8.1 30.6h0M15.8 14.5h0M19.6 32.8h0M34.6 38.5h0M29.3 13.8h0M42.6 26.4h0M5.3 16.1h0M41.8 36.8h0M6.6 8.2h0M15.3 13.2h0M35.9 31.1h0M33.5 18.8h0M44.4 2.4h0M38.9 9.2h0M42.1 3.4h0M11.4 39.3h0M18.6 36.6h0M32.3 37.8h0M9.2 16.1h0M21.8 49.5h0M45.7 4.1h0M27.8 45h0M40.7 17.4h0M37.8 46.3h0M1 3.1h0M25.3 46.5h0M9.6 33h0M13.6 7.8h0M42 1.3h0M14.2 5.3h0M23.8 50.4h0M35.4 20.8h0M2.1 36.3h0M2.4 -0.2h0M51.1 9.6h0M12.7 -0.2h0M12.1 51.3h0M36.3 -0.3h0" stroke="#c9302c" stroke-width="0.9" stroke-linecap="round" fill="none"/></pattern>
<pattern id="p77" width="61" height="61" patternUnits="userSpaceOnUse" patternTransform="scale(0.7937 0.8826)"><path d="M16.6 3.4h0M39.8 59.4h0M33.4 38.2h0M41 16.6h0M14.7 47.5h0M20.6 7h0M56.1 24.9h0M30.2 51.9h0M3.3 44.5h0M10.7 26.9h0M40.2 50.1h0M6.6 54.6h0M16.3 10.1h0M4.5 50h0M27.1 22.4h0M30.2 44h0M0.6 47.2h0M59 20.2h0M53.4 11.9h0M1.3 0.1h0M26.2 44.7h0M8.5 14.1h0M30.4 33.9h0M32.8 23.3h0M8.8 2.9h0M49.6 10.6h0M56 21.5h0M20.7 25.9h0M48.3 49.1h0M7.7 53.2h0M42.6 9.7h0M22.4 27.4h0M57.2 33.5h0M36.7 46.8h0M58.1 3.6h0M28.3 23.3h0M40.9 5.5h0M49 48.9h0M60.6 23.7h0M47.4 42.5h0M34.5 42.8h0M39.3 7.2h0M43.3 55.2h0M22.5 59.1h0M10.7 52.3h0M9.7 50.4h0M2.1 0.6h0M34.4 11.9h0M6.2 55.5h0M53.9 16.1h0M20.2 6.3h0M53.2 50.8h0M2.4 39.9h0M0.8 50h0M10.1 19.7h0M50.8 60.4h0M19.9 29.2h0M9.8 56.3h0M45.4 11.9h0M29.1 35.7h0M22 6.8h0M27.8 36.6h0M59.6 39.3h0M42.1 57.3h0M22.1 20.5h0M25.9 40.8h0M29.3 8.9h0M31.6 47.8h0M19.1 30.9h0M60.2 1.1h0M21.4 35.5h0M41.3 14.1h0M4.7 30h0M17.1 44.1h0M34.6 45.1h0M58.6 37.4h0M38.1 41h0M48.1 40.3h0M1.4 29.1h0M21.6 57h0M11.2 60.4h0M7.7 0.8h0M4.6 20.8h0M57.1 5.2h0M31.8 7.7h0M35.1 59.4h0M24 46.7h0M52.4 46.8h0M39.9 17.1h0M35.6 57.7h0M35.9 32h0M3.7 9.2h0M53.4 4.7h0M33.6 57.3h0M29.1 60.9h0M49.6 60.5h0M50.4 33.3h0M30.9 46.5h0M8.3 12.4h0M14.1 16.7h0M24.8 23.8h0M44.1 40.6h0M25.3 49h0M1.1 29.9h0M30.2 15.8h0M26.8 35h0M45.9 47.6h0M58.6 34.2h0M58.4 52h0M17.6 49.8h0M45.6 30.6h0M28.1 12h0M60.8 48h0M33.4 46h0M2.9 54.5h0M53.9 15.2h0M4.7 11.2h0M38.1 56.7h0M48 18.6h0M27.7 16.6h0M20.9 51.7h0M51 40.9h0M23.5 25.4h0M38.7 32.7h0M14.8 10.7h0M15.9 7.7h0M8.2 19.5h0M28.5 58h0M9.2 40.5h0M48.7 18.5h0M8.9 19.7h0M49.2 49h0M35.9 55.1h0M45.1 0.5h0M3.8 28.4h0M42.2 10.4h0M8.1 28.1h0M57.3 43.1h0M40.8 30.7h0M9.6 10.2h0M58.7 34.3h0M11.6 42.9h0M35.6 36.2h0M45 6.7h0M44.8 50.2h0M20.9 41.9h0M46.6 46.4h0M5.4 10.7h0M35.5 38.7h0M21.3 37.1h0M35.8 52.7h0M29.8 40.6h0M5.1 50.9h0M22.2 17.7h0M13.9 41.4h0M7.6 54.2h0M60.7 6.5h0M51.8 45.1h0M11.5 50.5h0M33.5 31.9h0M15.2 37.3h0M52.3 15.9h0M32.6 48.5h0M1.4 2.6h0M4.9 35h0M19.4 51h0M18.1 17.1h0M13.3 17h0M20.8 19h0M11 0.2h0M40.3 38.3h0M16.1 11.4h0M56.2 6.4h0M3.3 61h0M16.9 41.5h0M58.6 52.2h0M41 0.2h0M15.3 23.6h0M37.8 51.5h0M54.2 22h0M0.6 19.8h0M33.3 53.3h0M59.6 11h0M26.1 55h0M3.3 54h0M38.2 57.2h0M51.1 23.8h0M27.5 11.8h0M57.3 15.6h0M39.7 33.2h0M59.7 36.7h0M23.3 32.8h0M58.6 59.4h0M5.9 29.7h0M38.7 10.6h0M1.3 61.1h0M-0.4 23.7h0M29.1 -0.1h0M-0.2 48h0M-0.3 6.5h0M11 61.2h0M3.3 -0h0M41 61.2h0" stroke="#dfe8f3" stroke-width="0.9" stroke-linecap="round" fill="none"/></pattern>
<pattern id="p78" width="57" height="57" patternUnits="userSpaceOnUse" patternTransform="scale(0.7937 0.8826)"><path d="M49.8 9.1h0M17.3 3.1h0M49.2 37.9h0M4.4 27h0M51.2 44.1h0M43.1 26.7h0M54.2 42.7h0M12.5 14h0M39.4 36.7h0M43.1 46.3h0M18.1 36.3h0M4.3 10h0M28.9 52.5h0M47.4 24h0M47.1 20.4h0M53.4 3.7h0M41.2 48.5h0M48.4 25.4h0M13 38.8h0M34.3 28.4h0M53.5 46.2h0M40 26.7h0M0.8 17.6h0M21.6 42h0M16 14.7h0M21.8 5.8h0M18.2 16.7h0M53 30.5h0M34.6 16.1h0M17 4.6h0M16.1 24.3h0M6.8 55.3h0M25.8 27.6h0M1 16.9h0M8.2 12.5h0M50.8 22.2h0M2.1 22.3h0M13.3 36.7h0M52.6 20.8h0M33.2 25.7h0M23 9.1h0M53 54h0M0 34.3h0M36.9 33.6h0M7.9 45.6h0M42.4 38.4h0M13.5 27.6h0M49.5 39.8h0M8.5 22.9h0M16.4 21.2h0M50.9 3.7h0M54.1 11.6h0M4.3 49.4h0M13.6 31h0M41.7 19.8h0M55.5 39.8h0M11.4 36.7h0M14.8 8h0M56.4 47.8h0M13.5 9.7h0M38.6 10.1h0M56.6 45.5h0M4.1 49.4h0M54.9 23.6h0M35.4 5.9h0M43 44.5h0M45.3 44.9h0M34.6 40.7h0M9.6 27h0M10.5 4.6h0M4.2 48.6h0M18.5 7.3h0M24.7 6.8h0M30.6 19.8h0M46.8 5.7h0M11.1 49.9h0M44.6 4.3h0M14.8 34h0M30.5 47.4h0M26 53.4h0M50.4 44.9h0M7.4 39.9h0M24.6 36.6h0M1.5 28.6h0M22 52.6h0M18.9 51.5h0M26.2 55.5h0M32.3 42.5h0M22.6 30.7h0M44.9 7.8h0M4.2 50.5h0M47.3 16.7h0M20.5 0.4h0M10.9 4.7h0M24 20.5h0M44.7 15.7h0M8.8 37.8h0M37.4 33.8h0M46.6 33.6h0M25.8 1.6h0M46 7.9h0M40.3 13.1h0M15 20.9h0M53.7 29.7h0M33.6 18.8h0M8.9 37.7h0M15.8 49.4h0M42.8 53.7h0M18.3 2.5h0M21.5 7.3h0M12.4 56.1h0M42.2 1.8h0M42.8 5.2h0M30.5 14.5h0M24.6 4.1h0M44.1 2.7h0M28.5 40.6h0M36 24.9h0M8.9 27.7h0M16.1 3.5h0M1.9 56.9h0M2.8 56.9h0M34.5 51.5h0M40.7 8.9h0M2.3 10.9h0M16.9 5.5h0M56.5 15.5h0M33.4 2h0M21 2.9h0M56 9.1h0M22.6 44.4h0M39.5 17.8h0M12.1 11.9h0M47.9 1.4h0M24 29.3h0M43 16.4h0M36.7 55.1h0M47.1 20.2h0M28.1 3.7h0M36 21.2h0M38.2 32.2h0M56.1 54.8h0M44.5 21.1h0M7.7 35.2h0M15.6 32.4h0M42.6 38.8h0M52.9 32.6h0M6.5 55.1h0M14.8 30.1h0M36.6 25.5h0M27.6 6.2h0M15 5.9h0M47.9 22.2h0M39.2 11.1h0M5.3 52.5h0M22.6 22.4h0M43.2 38.5h0M35.5 33.2h0M10.5 36.2h0M22.6 16.8h0M51.8 28.8h0M35.6 16h0M26.3 55h0M26.3 30.1h0M27 41.7h0M5.2 1.4h0M36.6 52.7h0M35.1 37.3h0M39.2 14h0M0.4 9h0M30.6 10h0M43.2 55.8h0M10.2 51.1h0M2 54.1h0M21.9 31.7h0M6.4 17.7h0M14.4 17.8h0M29 11.9h0M38.5 53.5h0M8.8 32.6h0M5.7 14.8h0M29.2 3.2h0M43.7 8.4h0M47.8 42.7h0M27.4 28.8h0M8.3 6.6h0M7.2 12.8h0M11.1 33.5h0M32 23.4h0M49.4 38.3h0M26.8 47.9h0M14.9 53.2h0M33.9 24.6h0M8.3 51.2h0M2.2 51.5h0M57 34.3h0M-0.4 45.5h0M20.5 57.4h0M1.9 -0.1h0M2.8 -0.1h0M57.4 9h0" stroke="#c9302c" stroke-width="0.9" stroke-linecap="round" fill="none"/></pattern>
<pattern id="p79" width="64" height="64" patternUnits="userSpaceOnUse" patternTransform="scale(0.7937 0.8826)"><path d="M6.3 45.6h0M29.3 18.9h0M48.6 26.2h0M7.3 61.7h0M52 58.4h0M8.9 15.4h0M19.1 50h0M37.8 1.7h0M57.3 61.2h0M11.9 12.2h0M2.1 45.6h0M39 10.9h0M62.9 21.9h0M32.2 59h0M59.5 62.1h0M13.7 26.1h0M46.8 36.9h0M9 41.4h0M24.9 28h0M14.2 27.3h0M52.3 16.8h0M6 10.1h0M14.8 23.5h0M1.2 48.6h0M0.2 2.6h0M31.1 50.1h0M9.7 12.3h0M53.4 24.3h0M33.4 9.1h0M59.6 4.2h0M56.4 8.8h0M30.6 16.1h0M6.5 2.8h0M13.9 43.7h0M6.2 57.4h0M63.9 54.3h0M3.1 63.3h0M4 22.1h0M54.8 43.9h0M17.8 19.4h0M36.4 35.2h0M51.9 47.5h0M4.1 7.3h0M12.5 23.9h0M19.4 54.8h0M12.8 59.7h0M60.8 10.5h0M46.3 21.8h0M36 4.2h0M55.4 16.3h0M31.2 14.8h0M50.7 26.6h0M27.5 16.2h0M43.7 60.4h0M7.2 17h0M4.2 12.6h0M24.3 54.8h0M20.4 50.9h0M40.4 18.5h0M53 49.1h0M28.7 7.8h0M5.2 8h0M63.6 13.1h0M35.6 10.3h0M8.4 17.5h0M39.6 2.6h0M29.9 9.8h0M48.8 27.9h0M53.1 26h0M12.4 55.7h0M9.5 6.5h0M49.2 17.3h0M0.7 17.6h0M5.4 15.8h0M8.8 6.2h0M35.2 16.6h0M47 26.3h0M8.2 5.8h0M37.9 5.1h0M3 23.6h0M14.4 35.9h0M22.7 25h0M59.4 3.9h0M4.7 22.6h0M35.2 36h0M60.6 18.2h0M47.5 20.7h0M55.5 19.1h0M17.3 58.9h0M56.7 13.7h0M28.5 12.8h0M16.3 49.6h0M45.5 10.7h0M21.1 49.1h0M42.3 57.7h0M34.8 2.2h0M37.6 38.6h0M47.3 21.7h0M28.3 57.9h0M33 14.8h0M3.1 7.5h0M50.6 22.6h0M19 34.4h0M43.4 63.2h0M54.3 19h0M0.1 41.8h0M42.4 25h0M43.1 1.1h0M21.8 58.9h0M26 54.5h0M21.5 11h0M25.2 58.8h0M63.9 16.7h0M6.9 61.8h0M25.2 18.3h0M26.3 11.9h0M19.5 26.2h0M46.2 48.4h0M15.2 25.3h0M46.7 36.3h0M5 22.8h0M5.4 29.6h0M41.8 14.6h0M25.8 23.8h0M53.1 18.9h0M47.2 56.3h0M54.9 49.7h0M51.3 19.3h0M4.8 39.6h0M20 55.4h0M27.3 0.7h0M40.4 42.8h0M27.1 49.1h0M34.3 13.9h0M61.1 22.1h0M56.8 9.1h0M61.4 12.1h0M23.5 61.6h0M21.2 34h0M7.8 51.4h0M17.9 43.9h0M24.4 17.5h0M7 58.8h0M40.2 1.2h0M5 11.5h0M46.4 29.8h0M45.6 61.5h0M40 58h0M38.9 2.6h0M14.5 31.7h0M60 63.1h0M53.3 5.4h0M38.6 42h0M16.3 44.8h0M19 7.3h0M14.3 13h0M20.1 41.3h0M32.1 42.4h0M52.4 8.8h0M42.5 50.3h0M46.3 3.3h0M8.7 55.9h0M55.9 49.9h0M14.2 57.3h0M28.2 1.4h0M36.6 41.4h0M6.1 55.9h0M2.7 61.3h0M58.1 58.8h0M54.2 21.7h0M22 50.6h0M20.9 1.5h0M64.2 2.6h0M-0.1 54.3h0M-0.4 13.1h0M64.1 41.8h0M-0.1 16.7h0" stroke="#dfe8f3" stroke-width="0.9" stroke-linecap="round" fill="none"/></pattern>
<pattern id="p80" width="64" height="64" patternUnits="userSpaceOnUse" patternTransform="scale(0.7937 0.8826)"><path d="M37 22.6h0M22.8 9.6h0M16.3 52.9h0M31.2 19.3h0M1 24.6h0M29.4 63.1h0M46.4 6.5h0M14.9 22.7h0M48.1 42.6h0M17.4 16.8h0M42.3 11.7h0M20.1 51.3h0M1.9 25.6h0M43.1 11.4h0M16.4 30.7h0M24.5 57h0M14.7 56.6h0M43 47.2h0M54 44.1h0M18 15.1h0M51.7 3.1h0M1.8 35.4h0M16.8 17.2h0M56.5 16.5h0M21.4 45.9h0M8.1 61.9h0M42.6 23h0M46.4 44.9h0M54.1 4.8h0M47.8 20.5h0M2 45.5h0M3.9 21.8h0M53.1 53.4h0M25.6 40.6h0M6.5 33.8h0M34.3 59h0M28.2 3h0M46.4 20.7h0M9.3 48.4h0M42.3 16.4h0M30.4 6.4h0M12.8 39.5h0M0.6 49.4h0M10.7 6.2h0M47.3 52.7h0M19.7 8.2h0M28.7 62.5h0M15.5 59.9h0M38.3 57.2h0M3.9 60.3h0M3.6 55.1h0M22.7 56.4h0M60 41.9h0M15.9 6.8h0M19.3 24.7h0M5.9 22.4h0M22.5 23.3h0M5.6 47.6h0M55 24.2h0M17.6 37.6h0M54.6 24h0M54.6 20.7h0M36.9 33h0M57.3 8.8h0M30 57h0M3.7 47.8h0M61.8 2.7h0M25.8 36.2h0M53.6 58.8h0M38.4 59.5h0M20.9 59.9h0M57.6 0.3h0M18.3 22.2h0M63.1 26.9h0M47.3 29.4h0M19.2 3h0M55.9 3.3h0M20.2 17.6h0M48.7 14h0M45.7 23.8h0M27.9 56.4h0M10.2 31.1h0M63.5 45.2h0M57.1 43.2h0M57.5 45.8h0M62.4 21h0M50.6 63.5h0M21.5 48.1h0M44.5 40.2h0M55 49.8h0M26.7 29.4h0M19 27h0M16.3 3.7h0M48.7 42.1h0M52.2 30.9h0M55.5 58.1h0M57.1 25.4h0M15.6 50.6h0M44.4 4h0M6.9 10.4h0M61 63h0M56.9 56.2h0M27.9 42.6h0M45.8 10h0M59.1 54.7h0M50.8 58.7h0M21.1 56.4h0M51.2 12.1h0M32 41.6h0M5.1 13.3h0M62.3 18h0M25.8 32.2h0M61.1 46.9h0M52.8 9h0M39.5 11.8h0M51.1 63.6h0M8.8 28.3h0M36.5 60.1h0M18.9 20.8h0M54.5 10.7h0M53.3 54.7h0M48.3 55.1h0M48.9 47.4h0M27.3 16.9h0M10.2 9.8h0M12.8 31.3h0M33.8 48.9h0M30.5 53h0M61.3 23.3h0M41.8 30.8h0M32.3 4.4h0M59.9 63.6h0M47.7 19h0M44.7 30.8h0M39.8 24.2h0M9.9 26.4h0M46 55.5h0M0.9 7.5h0M29.8 63.8h0M58.5 58.5h0M3 28.8h0M38.6 18.2h0M11.1 24.5h0M51.9 59.9h0M63.6 36.4h0M51.1 56.8h0M61.4 11.2h0M20.6 40.9h0M44 34.4h0M17.4 45.8h0M42.9 13.5h0M41.9 24.1h0M53.7 13.2h0M16.5 6.6h0M56.6 22.5h0M4.4 61h0M40.9 29h0M7.3 19.5h0M29.8 3.4h0M0.6 35.4h0M24.8 14.3h0M63.1 40.6h0M13.9 20.6h0M23.1 14.8h0M57.6 64.3h0M51.1 -0.4h0M59.9 -0.4h0M29.8 -0.2h0M-0.4 36.4h0" stroke="#c9302c" stroke-width="0.9" stroke-linecap="round" fill="none"/></pattern>
<pattern id="p81" width="64" height="64" patternUnits="userSpaceOnUse" patternTransform="scale(0.7937 0.8826)"><path d="M28.8 57.2h0M32.6 27.8h0M43.2 2.2h0M51.6 3.6h0M51.8 52.3h0M18.7 6.7h0M58.4 5.4h0M41.7 59.1h0M5.6 31.8h0M33.6 28.9h0M63.6 16.3h0M16.7 3.1h0M27.2 60.7h0M22.9 26.3h0M45.5 26h0M59 16.5h0M13.4 1.3h0M55.2 34.2h0M61.1 33.3h0M61.9 37.1h0M55.5 57.2h0M33.7 52.7h0M10.9 46h0M59.9 55.7h0M59.1 35.2h0M24.6 33.7h0M23.3 26.8h0M53.1 28.3h0M26 19.5h0M59 48.7h0M36.8 9.8h0M17.2 42.1h0M61.2 62.7h0M48.7 40.9h0M0.5 18.3h0M41.1 27.1h0M1.6 33.7h0M39.5 27.2h0M12 48.1h0M7.5 26.1h0M20.1 43.3h0M15.4 39h0M26.1 8.8h0M55.6 52.9h0M9.6 41.3h0M7.2 49.8h0M37.8 62.9h0M61.1 63.8h0M22.6 62.2h0M59.8 6h0M4.8 23.2h0M60.5 16h0M44.8 35.3h0M30.9 59.8h0M44.1 21.7h0M36.7 56.1h0M42.4 41.5h0M21.4 50.9h0M32.9 15.1h0M57.3 19.4h0M5.1 14.3h0M42.1 39.8h0M27.9 20h0M20.5 48h0M50.2 31.4h0M42 37.5h0M62 57.1h0M28.9 21.6h0M30.4 59.5h0M63.4 22.8h0M62.6 36.8h0M30.1 7.7h0M4.6 53.1h0M24.1 61.9h0M20.2 22.9h0M21.5 12.1h0M31.5 18h0M38.6 52.6h0M60.1 10.6h0M4.9 24.3h0M5.3 6.1h0M26.2 32.2h0M63 1.6h0M51.4 48.3h0M2.5 29.4h0M16.4 34.2h0M54.2 47.3h0M51.7 13h0M42.3 14.9h0M35.3 31.1h0M10.9 25.6h0M55 21.7h0M30.9 57.8h0M20.6 48.6h0M27.5 10.6h0M37 40.7h0M37.8 12.8h0M25.7 1.6h0M31 15.3h0M26 38.5h0M15.5 48.7h0M16.8 6.2h0M3 40.2h0M35.4 34.6h0M45.3 51.7h0M28 2.3h0M28.2 44.1h0M55.3 61.5h0M2 33.6h0M11.7 0.8h0M32 5.9h0M4.3 37.6h0M29.7 33.1h0M33.9 9.3h0M31.9 36.6h0M-0.4 16.3h0M61.1 -0.2h0" stroke="#dfe8f3" stroke-width="0.9" stroke-linecap="round" fill="none"/></pattern>
<pattern id="p82" width="64" height="64" patternUnits="userSpaceOnUse" patternTransform="scale(0.7937 0.8826)"><path d="M19.1 50.3h0M20.4 47.8h0M42.8 60.1h0M8.5 18.1h0M13.6 25.7h0M25.5 14.4h0M28.3 5.4h0M4.9 46.9h0M0.7 22.8h0M59.5 26.8h0M41.2 43.8h0M36.7 44.6h0M17.2 17.9h0M38.5 63.8h0M2.5 3.3h0M9.1 14h0M26.2 59.9h0M33.8 14.6h0M8.2 1.3h0M34.8 18.5h0M44.7 40.4h0M11.8 15h0M36.5 36.2h0M37.7 17.7h0M9 20.5h0M56.9 35h0M9.5 50.5h0M44.1 40.9h0M26.1 27.2h0M17 21h0M53.4 42.4h0M8.7 53.7h0M45 35.4h0M12.1 24h0M41.8 12.8h0M34.8 49.9h0M53.2 42.6h0M17.7 16.2h0M12.8 60.2h0M63.3 39.7h0M46.3 14.1h0M61.9 1.6h0M30.7 28.5h0M50.9 34.6h0M7.6 51.2h0M29.5 3.6h0M38.5 16h0M39.7 3.6h0M7.6 56.4h0M5.6 41.6h0M23.4 52.3h0M7.8 32.4h0M0.9 61.6h0M33 49.7h0M21.2 55.7h0M35.9 62.4h0M38.8 22.7h0M18.5 50.3h0M32.7 25.8h0M20 1h0M45.9 1.3h0M21.3 30.1h0M30.3 8.9h0M0.9 24.6h0M25.2 28.3h0M6.2 7.9h0M36.3 8.5h0M59.3 47.9h0M40.9 1.2h0M20.8 53.6h0M10.2 25.4h0M56 49.1h0M12.8 1.2h0M37.3 37.1h0M5.3 41.6h0M7.3 39.9h0M32 39h0M36.3 13.6h0M31.3 28.5h0M49.8 7.2h0M16.9 11.4h0M52.5 44.4h0M32.4 13.3h0M36.2 34.7h0M59.3 37h0M2.6 52.6h0M20.2 31.4h0M58.7 28.2h0M60.5 28.5h0M33.8 44.5h0M41.2 53.6h0M15.7 43.8h0M60.3 13.3h0M3.6 28.3h0M24.5 54.1h0M61.3 52.1h0M48.1 7.1h0M40.5 40h0M11.8 15h0M35.4 0.6h0M9.6 63.9h0M21.1 53.3h0M39.7 41.8h0M35.3 63.6h0M30.2 54.3h0M39.2 9h0M27.8 30.2h0M25.8 62.3h0M37.9 55.9h0M21.2 29.6h0M38.9 4.1h0M33.4 16.3h0M49.2 42.5h0M50.5 9.8h0M57.9 59.1h0M40.8 25.8h0M14.7 33.6h0M62.4 32.1h0M34.6 26.9h0M22.6 9.7h0M56.3 34.8h0M2.4 53.5h0M53.3 7.2h0M38.5 -0.2h0M9.6 -0.1h0M35.3 -0.4h0" stroke="#c9302c" stroke-width="0.9" stroke-linecap="round" fill="none"/></pattern>
<pattern id="p83" width="64" height="64" patternUnits="userSpaceOnUse" patternTransform="scale(0.7937 0.8826)"><path d="M56.3 16.6h0M30.5 11.9h0M17.8 19.7h0M25.2 50.5h0M44.3 2.3h0M57.8 33.5h0M20.2 51.6h0M63.1 19.5h0M6.1 5.7h0M10.5 31.4h0M0.2 45.4h0M25.7 44.1h0M29 22.2h0M17.5 21.4h0M63 26.7h0M43.5 57h0M18.6 56.3h0M8.4 35.8h0M55.8 12.8h0M57.2 36.4h0M56.1 21.3h0M63.4 3.5h0M11.7 6.7h0M56.8 19h0M49.8 42.4h0M58.9 58.5h0M21.7 46.8h0M13.8 48.9h0M30.7 57.3h0M17 59.3h0M22.2 19.6h0M28.2 34.8h0M47.7 1.2h0M56.1 22.4h0M9.3 8.7h0M24.4 27.3h0M31 24.9h0M48.1 57.4h0M60.9 26.4h0M59.3 1.8h0M22.2 51h0M13.2 16h0M25.3 3.8h0M63.5 41.7h0M23.4 6.2h0M50.7 7.3h0M23 5.7h0M9.4 58.3h0M61.4 47h0M58.1 60.4h0M51.9 18.6h0M29.7 33.1h0M42.2 56.9h0M1.9 27.4h0M27.9 7.6h0M22.1 7.3h0M43 21.7h0M41 58.5h0M40.6 1.2h0M5.5 41.1h0M9.3 18.7h0M48.4 39.2h0M13.8 14.8h0M59.5 61.6h0M60.6 32.2h0M52.5 29.3h0M18.6 55.8h0M0.7 21h0M31.2 21.5h0M59.9 28.9h0M34.8 11.1h0M24.9 13.8h0M61.8 47.2h0M19 21.7h0M55.8 42.2h0M8.3 2.3h0M22 5.4h0M5.4 9.6h0M35.1 38.1h0M38.2 48.1h0M23.2 62.2h0M14.1 58.4h0M3.5 5.7h0M19.9 14.7h0M19 18.2h0M34.8 26h0M64.2 45.4h0" stroke="#dfe8f3" stroke-width="0.9" stroke-linecap="round" fill="none"/></pattern>
<path id="s0" d="M-37.5 -76.4C-40.2 -76.7 -42.7 -74.5 -45.6 -73.4C-48.4 -72.2 -51.6 -71.1 -54.7 -69.6C-57.7 -68.2 -61.3 -66.4 -63.8 -64.7C-66.3 -63.1 -68 -61.6 -69.9 -59.8C-71.7 -57.9 -73.7 -55.9 -74.9 -53.6C-76.2 -51.3 -76.8 -48.7 -77.5 -46.2C-78.1 -43.7 -78.3 -41 -78.6 -38.6C-78.9 -36.2 -80.6 -33.5 -79.2 -31.7C-77.7 -30 -73.9 -28.2 -69.9 -28.1C-65.8 -28.1 -59.7 -28.7 -54.7 -31.2C-49.6 -33.8 -43.7 -40.5 -39.5 -43.6C-35.3 -46.7 -31 -45 -29.4 -49.8C-27.7 -54.5 -28 -67.5 -29.4 -72C-30.7 -76.4 -34.8 -76.2 -37.5 -76.4Z"/>
<path id="s1" d="M-79.2 -31.6C-80.9 -30.4 -80.2 -26.1 -80.5 -23.2C-80.7 -20.3 -80.9 -17 -80.7 -13.9C-80.5 -10.8 -79.9 -7.5 -79.2 -4.7C-78.4 -1.9 -77.5 0.6 -76.1 2.9C-74.8 5.2 -73 7.4 -71.1 9C-69.2 10.7 -67.2 12.4 -64.8 12.8C-62.4 13.1 -59.2 13 -56.7 11.1C-54.2 9.2 -51 4.7 -49.6 1.5C-48.3 -1.6 -48.2 -4.7 -48.6 -7.8C-49 -10.8 -50.6 -14.2 -52.1 -17C-53.7 -19.8 -56 -22 -57.7 -24.4C-59.4 -26.8 -60.2 -30.5 -62.3 -31.5C-64.3 -32.5 -67 -30.5 -69.9 -30.5C-72.7 -30.5 -77.4 -32.8 -79.2 -31.6Z"/>
<path id="s2" d="M-62.3 -43.6C-58 -47.4 -47.5 -56.1 -39.5 -55.3C-31.5 -54.5 -21.3 -43.3 -14.2 -38.6C-7 -34 1.4 -30.6 3.6 -27.5C5.8 -24.4 1.1 -22.4 -1 -20.1C-3.1 -17.8 -5.4 -16.4 -9.1 -13.9C-12.8 -11.5 -20.3 -9.4 -23.3 -5.3C-26.2 -1.2 -22.4 8.1 -26.8 10.8C-31.2 13.5 -44.1 15.9 -49.6 10.8C-55.1 5.6 -57.2 -12.9 -59.7 -20.1C-62.3 -27.3 -64.4 -28.5 -64.8 -32.5C-65.2 -36.4 -66.5 -39.8 -62.3 -43.6Z"/>
<path id="s3" d="M-44.5 39.5C-43.9 41.5 -40.8 43.1 -38.7 44.2C-36.7 45.4 -34.5 46.5 -32.1 46.6C-29.8 46.6 -27.1 45.8 -24.7 44.8C-22.4 43.7 -20.3 42.3 -18.1 40.2C-16 38.1 -13.6 35.4 -11.6 32.2C-9.5 29 -7.1 24.3 -5.8 21.2C-4.5 18.1 -5.4 15.3 -3.7 13.6C-2.1 12 1 12.3 4.1 11.1C7.2 10 11.7 8 14.8 6.6C17.8 5.2 21.2 3.6 22.2 2.6C23.1 1.6 22.2 0.5 20.5 0.6C18.9 0.7 15 2 12.3 3.1C9.6 4.2 6.8 5.8 4.1 7.1C1.3 8.4 -2 11 -4.2 11.1C-6.4 11.3 -7.5 9 -9.1 8.1C-10.7 7.2 -12 6.4 -13.6 5.6C-15.3 4.8 -17.3 3.8 -19 3.1C-20.7 2.4 -22.3 1.7 -23.9 1.6C-25.6 1.5 -27.5 0.8 -28.8 2.6C-30.2 4.4 -30.8 9.3 -32.1 12.6C-33.5 16 -35.4 19.3 -37.1 22.7C-38.7 26 -40.8 29.9 -42 32.7C-43.2 35.5 -45 37.6 -44.5 39.5Z"/>
<path id="s4" d="M-38.2 -75.7C-36.9 -77.2 -34.6 -78.1 -31.9 -78.4C-29.1 -78.7 -24.9 -77.9 -21.8 -77.4C-18.6 -77 -15.8 -76.6 -13.1 -75.8C-10.5 -74.9 -8.3 -73.5 -6.1 -72.1C-3.9 -70.7 -1.8 -69 0 -67.2C1.9 -65.3 3.6 -63.2 5.1 -61C6.5 -58.8 7.8 -56.4 8.7 -54.1C9.7 -51.8 10.2 -49.7 10.9 -47.3C11.5 -44.9 11.9 -42.1 12.4 -39.9C12.9 -37.6 13.8 -35.3 13.9 -33.7C14 -32.1 14 -30.9 13.1 -30.1C12.2 -29.3 10.1 -29.8 8.6 -29.1C7.1 -28.4 5.8 -26.5 4.1 -26C2.4 -25.5 0.7 -25.5 -1.5 -26C-3.7 -26.5 -6.6 -27.7 -9.1 -29.1C-11.6 -30.4 -13.7 -31.8 -16.7 -34C-19.6 -36.2 -23.9 -39.6 -26.8 -42C-29.8 -44.5 -32.3 -46.7 -34.4 -48.8C-36.5 -51 -38.5 -52.6 -39.5 -55C-40.5 -57.4 -40.4 -60.9 -40.5 -63.3C-40.5 -65.8 -40.1 -67.5 -39.7 -69.5C-39.4 -71.6 -39.5 -74.2 -38.2 -75.7Z"/>
<path id="s5" d="M-62.3 -32.8C-62.1 -35.2 -58.8 -37.5 -56.7 -39.6C-54.6 -41.6 -52.1 -43.5 -49.6 -45.1C-47.2 -46.8 -44.1 -49.1 -42 -49.4C-39.9 -49.8 -39.1 -48.6 -36.9 -47.2C-34.8 -45.8 -32.3 -43.2 -29.4 -41C-26.4 -38.7 -22.6 -35.7 -19.2 -33.6C-15.8 -31.4 -12 -29.3 -9.1 -28C-6.2 -26.7 -3.1 -27.1 -1.8 -26C-0.4 -24.8 -0.5 -22.5 -1.2 -21C-2 -19.6 -3.9 -18.1 -6.1 -17.3C-8.2 -16.6 -11.1 -16.6 -14.2 -16.4C-17.2 -16.2 -20.9 -16.7 -24.3 -16.4C-27.7 -16.1 -31 -14.7 -34.4 -14.5C-37.8 -14.4 -41.6 -15.2 -44.5 -15.8C-47.5 -16.4 -49.9 -16.8 -52.1 -18.3C-54.3 -19.7 -56 -22.3 -57.7 -24.7C-59.4 -27.2 -62.4 -30.3 -62.3 -32.8Z"/>
<path id="s6" d="M-52.1 -17.6C-50.9 -19 -45.4 -16.1 -42 -15.7C-38.6 -15.2 -35.3 -14.6 -31.9 -14.9C-28.5 -15.1 -25.1 -16.9 -21.8 -17.3C-18.4 -17.7 -14.5 -17 -11.6 -17.3C-8.8 -17.6 -5.6 -20 -4.8 -19.2C-4 -18.4 -5.3 -14.4 -6.8 -12.7C-8.4 -11 -11.7 -9.8 -14.2 -9C-16.7 -8.2 -19.9 -8.6 -21.8 -7.8C-23.6 -6.9 -24.2 -6.1 -25 -4C-25.9 -2 -26.9 1.7 -26.8 4.6C-26.7 7.5 -20.5 11.8 -24.3 13.2C-28.1 14.7 -45.3 15.2 -49.6 13.2C-53.9 11.3 -50.1 5 -50.1 1.5C-50.1 -2 -49.3 -4.6 -49.6 -7.8C-49.9 -10.9 -53.4 -16.3 -52.1 -17.6Z"/>
<path id="s7" d="M-58.5 -1.4C-58.3 -3.8 -56.8 -5.6 -55.2 -7.4C-53.5 -9.3 -51.6 -12.3 -48.6 -12.5C-45.6 -12.6 -41.2 -8.9 -37.1 -8.4C-33 -7.9 -26.5 -10.8 -23.9 -9.5C-21.3 -8.1 -21.3 -3.3 -21.4 -0.4C-21.6 2.4 -24 4.6 -24.7 7.6C-25.5 10.6 -26 14.3 -26 17.6C-25.9 21 -24.2 24.6 -24.3 27.7C-24.4 30.8 -24.8 33.8 -26.4 36.2C-28 38.6 -31.3 41.6 -33.8 41.9C-36.2 42.3 -39.3 40.6 -41.2 38.2C-43.1 35.9 -44.3 31.1 -45.3 27.7C-46.3 24.3 -46.1 20.4 -46.9 17.6C-47.8 14.9 -48.7 13 -50.2 11.1C-51.7 9.3 -54.6 8.7 -56 6.6C-57.4 4.5 -58.6 0.9 -58.5 -1.4Z"/>
<path id="s8" d="M-8.6 -26.3C-8.1 -27.2 -6.8 -28 -5.8 -28C-4.9 -28 -3.5 -27.1 -2.9 -26.3C-2.4 -25.4 -2.1 -23.8 -2.5 -22.9C-3 -22 -4.6 -20.8 -5.6 -20.7C-6.5 -20.7 -8 -21.5 -8.5 -22.5C-9 -23.4 -9 -25.4 -8.6 -26.3Z"/>
<path id="s9" d="M-23.5 -6.9C-22.2 -7.9 -18.4 -9.2 -16.5 -8.9C-14.6 -8.7 -12.5 -6.7 -12 -5.4C-11.4 -4.1 -11.8 -2.1 -13.2 -1.2C-14.6 -0.4 -18.8 0.1 -20.6 -0.2C-22.4 -0.6 -23.6 -2.1 -24.1 -3.2C-24.5 -4.3 -24.8 -6 -23.5 -6.9Z"/>
<path id="s10" d="M-3.7 -8.4C-2.9 -9.7 -0.1 -11 0.8 -10C1.7 -8.9 1.6 -4.6 1.6 -2.4C1.6 -0.3 1.5 2.3 0.8 3.1C0.1 3.9 -1.7 3.5 -2.5 2.6C-3.3 1.7 -4 -0.6 -4.2 -2.4C-4.4 -4.3 -4.6 -7.2 -3.7 -8.4Z"/>
<path id="s11" d="M-5 9.1C-4.2 7.2 -1.3 5.5 0.8 4.1C2.8 2.7 5.2 1.2 7.4 0.8C9.6 0.3 12.5 0.8 13.9 1.4C15.4 1.9 16.4 3.3 16 4.1C15.6 4.9 13.5 5.4 11.5 6.1C9.5 6.8 6 6.9 4.1 8.1C2.1 9.3 1.3 11.9 -0 13.1C-1.4 14.4 -3.3 16.3 -4.2 15.6C-5 15 -5.8 11 -5 9.1Z"/>
<path id="s12" d="M-62.6 27.4C-63.1 29.7 -63.3 34 -63.1 37.9C-62.9 41.8 -61.4 47.3 -61.5 51C-61.6 54.6 -62.4 57.1 -63.8 60C-65.1 62.8 -67.9 65.5 -69.5 68C-71.2 70.5 -73.4 72.8 -73.7 75C-74 77.3 -72.7 79.6 -71.4 81.3C-70 83 -67.4 84.8 -65.4 85.3C-63.5 85.7 -61.3 85.2 -59.7 84.1C-58 83 -57.1 79.7 -55.6 78.6C-54 77.4 -51.6 78.5 -50.5 77.1C-49.3 75.6 -49.4 73.2 -48.8 70C-48.3 66.8 -47.9 62.5 -47.2 58C-46.5 53.5 -45.3 47.9 -44.7 42.9C-44.1 37.9 -43.5 31.7 -43.6 27.9C-43.7 24 -44.4 20.8 -45.3 19.8C-46.2 18.8 -47.7 20.5 -49 21.8C-50.3 23.2 -51.9 27.5 -53.1 27.9C-54.3 28.2 -55.3 24.5 -56.4 23.9C-57.5 23.2 -58.6 23.3 -59.7 23.9C-60.7 24.4 -62 25 -62.6 27.4Z"/>
<path id="s13" d="M-63.4 59.5C-65.5 60.6 -67.8 65.4 -69.5 68C-71.3 70.6 -73.4 72.8 -73.7 75C-74 77.3 -72.7 79.6 -71.4 81.3C-70 83 -67.4 84.8 -65.4 85.3C-63.5 85.7 -61.3 85.2 -59.7 84.1C-58 83 -57.1 79.7 -55.6 78.6C-54 77.4 -51.1 79.1 -50.5 77.1C-49.8 75 -50.8 68.6 -51.9 66C-52.9 63.4 -54.9 62.6 -56.8 61.5C-58.7 60.4 -61.2 58.4 -63.4 59.5Z"/>
<path id="s14" d="M-64.1 7.1C-63.1 6 -59.8 4.2 -57.6 5.1C-55.5 6 -52 10 -51.1 12.6C-50.1 15.2 -51.5 18.2 -51.9 20.7C-52.3 23.2 -53.3 24.8 -53.5 27.7C-53.7 30.5 -53 34.7 -53.1 37.7C-53.3 40.7 -53.6 44.2 -54.3 45.8C-55.1 47.3 -57 48.1 -57.6 46.8C-58.3 45.4 -58.4 40.9 -58.5 37.7C-58.5 34.5 -58.1 30.4 -58.1 27.7C-58.1 24.9 -57.8 22.8 -58.5 21.2C-59.1 19.5 -60.9 19.2 -61.8 17.6C-62.6 16.1 -63 13.4 -63.4 11.6C-63.8 9.9 -65 8.2 -64.1 7.1Z"/>
<path id="s15" d="M2.6 -28.5C2.8 -28.9 9.7 -26.8 12.4 -25.3C15.2 -23.8 16.7 -20.4 19 -19.3C21.4 -18.1 24.1 -19.2 26.4 -18.5C28.8 -17.8 31.1 -16.8 33 -15.3C34.9 -13.7 35.9 -11.4 38 -9.3C40 -7.1 42.5 -3.9 45.4 -2.2C48.2 -0.6 52.7 0.3 55.2 0.6C57.7 0.9 60.2 -0.6 60.3 -0.2C60.5 0.2 58 2 56.1 2.8C54.1 3.6 50.6 4 48.6 4.8C46.7 5.6 45.6 6.3 44.5 7.8C43.5 9.3 43.1 13.2 42.2 13.8C41.4 14.5 40.9 13.2 39.6 11.8C38.3 10.5 36.2 7.5 34.7 5.8C33.2 4.1 32.2 2.3 30.5 1.8C28.9 1.3 26.6 2.3 24.8 2.8C23 3.3 21.2 5.1 19.8 4.8C18.5 4.5 16.6 2.8 16.6 0.8C16.5 -1.3 19.6 -4.4 19.4 -7.4C19.3 -10.5 17.2 -14.8 15.7 -17.5C14.3 -20.1 13 -21.5 10.8 -23.3C8.6 -25.1 2.3 -28.2 2.6 -28.5Z"/>
<path id="s16" d="M43.7 -8.6C44.1 -9 46 -8.8 47.8 -7.6C49.6 -6.5 52.1 -3.5 54.4 -1.6C56.7 0.2 59.2 1.9 61.8 3.4C64.4 4.9 67.3 5.9 70 7.4C72.8 8.9 76.1 11.2 78.3 12.4C80.4 13.7 83.5 14.9 82.8 14.8C82.1 14.8 77 13.1 74.2 12.1C71.3 11.2 68.7 10.3 65.9 9.1C63.2 7.9 60.2 6.6 57.7 5.1C55.2 3.6 53.2 1.8 51.1 0.1C49.1 -1.6 46.6 -3.8 45.4 -5.2C44.1 -6.7 43.3 -8.2 43.7 -8.6Z"/>
<path id="s17" d="M83.2 -66.2C83.1 -67.6 85.4 -68.2 87.3 -69.2C89.2 -70.2 92.4 -71.5 94.7 -72.2C97.1 -72.9 99.1 -73.3 101.3 -73.2C103.5 -73.1 106 -72.8 107.9 -71.7C109.8 -70.6 111.6 -68.5 112.8 -66.7C114.1 -64.8 115 -62.6 115.3 -60.6C115.6 -58.6 115.2 -56.8 114.5 -54.6C113.8 -52.4 112.1 -49.9 111.2 -47.6C110.2 -45.3 109.4 -42.7 108.7 -40.6C108 -38.4 107.7 -36.4 107.1 -34.5C106.4 -32.7 105.6 -30 104.8 -29.3C103.9 -28.6 102.4 -29 102.1 -30.3C101.8 -31.7 102.9 -35.2 102.9 -37.6C102.9 -39.9 102.8 -42.4 102.1 -44.6C101.4 -46.8 100.2 -48.8 98.8 -50.6C97.5 -52.4 95.7 -53.9 93.9 -55.6C92.1 -57.3 89.9 -58.9 88.1 -60.6C86.4 -62.4 83.3 -64.7 83.2 -66.2Z"/>
<path id="s18" d="M77 -63.7C77.1 -64 79.3 -66 80.3 -66.7C81.4 -67.3 82.9 -67.6 83.4 -67.5C83.8 -67.3 83.8 -66.4 83.2 -65.9C82.6 -65.4 80.9 -64.8 79.9 -64.5C78.9 -64.1 77 -63.3 77 -63.7Z"/>
<path id="s19" d="M108.7 -37.6C109.7 -38.1 109.5 -33.9 110.4 -31.5C111.2 -29.2 112.8 -26.5 113.6 -23.5C114.5 -20.5 114.5 -16.5 115.3 -13.5C116.1 -10.5 117.3 -7.8 118.6 -5.4C119.8 -3.1 121.8 -1.6 122.7 0.6C123.5 2.8 123.9 5.3 123.7 7.6C123.4 10 122.6 12.6 121.2 14.6C119.8 16.7 117.1 18.9 115.3 19.9C113.5 20.8 112 20.5 110.4 20.2C108.7 19.8 107.3 18.2 105.4 17.6C103.5 17.1 100.6 17.3 98.8 16.6C97.1 16 96.4 15 94.7 13.6C93.1 12.3 91 10.3 89 8.6C86.9 6.9 84.8 5.4 82.4 3.6C79.9 1.8 76.9 -0.6 74.2 -1.9C71.4 -3.2 67.6 -3.6 65.9 -4.2C64.3 -4.9 63.6 -5.2 64.3 -5.9C65 -6.6 67.7 -7.5 70 -8.4C72.4 -9.4 75.5 -10.3 78.3 -11.5C81 -12.6 84 -13.8 86.5 -15.5C89 -17.1 91 -19.8 93.1 -21.5C95.1 -23.2 96.9 -24.3 98.8 -25.5C100.8 -26.7 102.9 -26.5 104.6 -28.5C106.2 -30.5 107.7 -37.1 108.7 -37.6Z"/>
<path id="s20" d="M89.8 16.6C90.2 15.4 93.3 15.8 95.5 15.4C97.7 15.1 100.5 13.8 102.9 14.4C105.4 15.1 108.5 17.6 110.4 19.5C112.2 21.3 113.2 23.5 113.8 25.7C114.4 27.9 114.2 30 113.8 32.7C113.4 35.4 112.5 38.7 111.3 41.7C110.2 44.8 108.3 48.2 107.1 50.8C105.8 53.3 104.9 56.1 103.9 57C103 57.9 102 57.2 101.3 56C100.6 54.8 100.2 52.3 99.7 49.8C99.1 47.2 98.6 43.9 98 40.7C97.5 37.6 97.2 33.7 96.4 30.7C95.5 27.7 94.2 25 93.1 22.7C92 20.3 89.4 17.9 89.8 16.6Z"/>
<path id="s21" d="M73.3 -2.4C73.6 -3.8 77.2 -4.1 79.1 -3.4C81 -2.8 82.9 -0.3 84.8 1.4C86.8 3 88.7 4.7 90.6 6.4C92.5 8.1 94.6 10.1 96.4 11.4C98.1 12.8 101.6 13.9 101.3 14.6C101 15.4 96.8 15.6 94.7 15.8C92.7 16 90.9 16.5 89 15.8C87 15.2 85.1 13.7 83.2 11.8C81.3 10 79.1 7.2 77.4 4.8C75.8 2.4 73.1 -1.1 73.3 -2.4Z"/>
<path id="s22" d="M-0.7 19.7C-0 17.8 3.4 13.9 5 13.4C6.7 12.9 8.3 14.9 9.3 16.6C10.3 18.4 9.9 21.8 11 23.7C12 25.5 13.8 26.3 15.7 27.7C17.6 29 20.8 30.2 22.3 31.7C23.9 33.2 23.4 35.2 25 36.7C26.5 38.2 29 39.8 31.4 40.7C33.7 41.7 37.8 41.7 38.9 42.2C40 42.8 39.3 43.7 38 43.9C36.6 44.2 33 44.6 30.5 43.9C28.1 43.3 25.5 41.4 23.1 39.9C20.8 38.4 18.6 36.3 16.6 34.9C14.5 33.6 12.7 33.1 10.8 31.9C8.9 30.7 6.7 29.1 5 27.9C3.4 26.7 1.9 26.2 0.9 24.9C-0 23.5 -1.4 21.6 -0.7 19.7Z"/>
<path id="s23" d="M33 42.7C32.6 43.4 31.3 45.4 30.5 46.8C29.8 48.1 28.8 50.1 28.5 50.8"/>
<path id="s24" d="M14.3 35.5C14.6 36.7 15.5 40.4 16.6 42.7C17.6 45.1 19 47.6 20.7 49.8C22.3 51.9 24.4 54.2 26.4 55.8C28.5 57.4 30.7 58.6 33 59.6C35.4 60.6 39.3 61.6 40.6 62"/>
<path id="s25" d="M35.5 19.5C36.1 19 38.5 20.3 39.8 21.7C41 23 41.1 26.3 43.1 27.7C45 29.1 50.2 29.3 51.3 30.2C52.4 31.1 50.8 32.3 49.6 32.9C48.5 33.5 45.9 33.2 44.5 33.9C43.1 34.6 42.5 36.1 41.2 36.9C40 37.8 37.9 40 37.1 38.9C36.4 37.9 36.9 33.1 36.7 30.7C36.6 28.3 36.5 26.5 36.3 24.7C36.1 22.8 34.9 20 35.5 19.5Z"/>
<path id="s26" d="M-30.9 74C-30.7 72.4 -29 70.6 -27.6 69C-26.2 67.5 -24 65 -22.6 64.8C-21.2 64.6 -20 66.5 -19.2 68C-18.3 69.6 -18.5 72.7 -17.5 74C-16.6 75.4 -14 74.5 -13.4 76C-12.9 77.6 -14.7 80 -14.3 83.1C-13.8 86.1 -10.4 92.8 -11 94.3C-11.5 95.9 -15.6 93 -17.7 92.3C-19.8 91.6 -21.3 91.1 -23.5 90.3C-25.7 89.5 -28.4 88.4 -30.9 87.3C-33.3 86.2 -38.1 84.3 -38.3 83.6C-38.4 82.9 -33.3 83.8 -31.7 83.1C-30.1 82.3 -28.5 80.6 -28.4 79.1C-28.3 77.6 -31 75.7 -30.9 74Z"/>
<path id="s27" d="M-22.6 92.6C-24 93.6 -27.9 96.4 -30.9 98.6C-33.9 100.9 -38.4 104.1 -40.7 106.2C-43.1 108.2 -44.2 110.3 -44.9 111.2"/>
<path id="s28" d="M-43.6 109.7C-43.2 109.8 -44.3 112.7 -45.3 114.2C-46.3 115.6 -49.2 118.6 -49.6 118.4C-50 118.2 -48.7 114.6 -47.7 113.2C-46.7 111.7 -44 109.5 -43.6 109.7Z"/>
<path id="s29" d="M-12.8 59.2C-12.5 58 -10 55.8 -8.5 56C-7 56.1 -4.8 58.8 -3.6 60C-2.4 61.2 -0.8 62.1 -1.3 63C-1.7 63.9 -4.7 65.5 -6.2 65.5C-7.7 65.5 -9.2 64.3 -10.3 63.2C-11.4 62.1 -13.1 60.4 -12.8 59.2Z"/>
<path id="s30" d="M-8.7 63C-8 61.1 -5.4 58.5 -3.7 58C-2 57.5 0.3 58.3 1.4 60C2.5 61.7 2.3 65.3 3 68C3.7 70.7 4.9 73.7 5.5 76C6 78.4 6.5 79.7 6.3 82.1C6.2 84.4 5.4 88.6 4.7 90.3C4 92 3.3 92.8 2.2 92.3C1.1 91.8 -0.5 88.8 -2.1 87.3C-3.6 85.8 -5.8 85.1 -7 83.3C-8.2 81.4 -9.3 78.6 -9.5 76.2C-9.6 73.9 -8 71.4 -7.8 69.2C-7.7 67 -9.3 64.9 -8.7 63Z"/>
<path id="s31" d="M25.9 65C25.1 65.5 22.5 66.5 21.4 68C20.2 69.5 19.5 71.7 18.9 74C18.4 76.4 18.3 78.7 18.1 82.1C17.9 85.4 17.7 92.1 17.7 94.1"/>
<path id="s32" d="M13.6 97.1C14.1 95.8 17.1 96.3 19.3 95.1C21.5 94 24.3 91.3 26.7 90.3C29.2 89.3 32.7 88.8 34.1 89.1C35.5 89.4 35.9 90.7 35.1 92.1C34.3 93.5 31.3 95.8 29.2 97.3C27.1 98.9 24.8 100.3 22.6 101.3C20.4 102.3 17.5 104.1 16 103.3C14.5 102.6 13 98.5 13.6 97.1Z"/>
<path id="s33" d="M-1.3 101.3C0 98.7 2.7 97.7 5.3 97.1C7.9 96.6 11.5 97 14.4 98.1C17.3 99.3 20 102.5 22.6 104.2C25.2 105.8 27.7 106.2 30 108.2C32.3 110.2 35.1 113.5 36.6 116.2C38.1 118.9 39.1 122 39.2 124.2C39.4 126.4 39.3 128.1 37.6 129.4C35.9 130.8 32.4 131.8 29.2 132.5C26 133.1 21.9 133.5 18.5 133.5C15.1 133.5 11.5 133.1 8.6 132.5C5.7 131.8 3 131 1.2 129.4C-0.6 127.9 -1.5 125.9 -2.1 123.2C-2.7 120.5 -2.4 116.8 -2.2 113.2C-2.1 109.5 -2.5 104 -1.3 101.3Z"/>
<path id="s34" d="M22.6 104.2C22.1 103.8 24.7 105.2 26.7 106.2C28.8 107.2 32.2 109 34.9 110.2C37.7 111.3 40.5 111.8 43.2 113.2C45.8 114.5 48.8 116.2 50.7 118.2C52.7 120.2 54.3 122.9 54.9 125.2C55.4 127.6 54.9 130.1 54 132.3C53.2 134.4 51.3 137.1 49.9 138.3C48.5 139.5 47 139.8 45.6 139.5C44.2 139.2 42.8 138.1 41.5 136.5C40.3 134.8 38.6 131.5 38.2 129.4C37.9 127.4 39.5 126.4 39.2 124.2C39 122 38.1 118.9 36.6 116.2C35.1 113.5 32.3 110.2 30 108.2C27.7 106.2 23.2 104.5 22.6 104.2Z"/>
<path id="s35" d="M-33.5 129.7C-33.2 128.9 -31.2 126.9 -30.1 126.2C-28.9 125.5 -26.8 125 -26.6 125.5C-26.4 126 -28.2 128.3 -29.1 129.2C-29.9 130.2 -31 131.4 -31.7 131.5C-32.4 131.5 -33.8 130.6 -33.5 129.7Z"/>
<path id="s36" d="M52.2 83.9C52.9 83.7 55.6 83.8 56.3 84.1C57.1 84.3 57.2 85.1 56.5 85.3C55.8 85.4 53.1 85.1 52.4 84.9C51.7 84.6 51.6 84 52.2 83.9Z"/>
<path id="s37" d="M-39.1 56.5C-38.9 55.8 -35.8 55.5 -34.2 55.2C-32.5 54.8 -29.6 54.1 -29.1 54.5C-28.5 54.9 -29.8 56.7 -30.9 57.5C-31.9 58.3 -34 59.4 -35.4 59.2C-36.8 59 -39.3 57.1 -39.1 56.5Z"/>
<path id="s38" d="M-53.1 70C-52.6 69.5 -50.4 69.1 -49 68.5C-47.6 68 -45 66.6 -44.7 66.8C-44.4 67.1 -46.1 69.2 -47.3 70C-48.5 70.8 -50.9 71.5 -51.9 71.5C-52.8 71.5 -53.6 70.5 -53.1 70Z"/>
<path id="s39" d="M2 55C2.2 54.1 4 53.5 4.5 54C5.1 54.5 5.5 57.1 5.3 58C5.1 58.8 3.8 59.5 3.3 59C2.7 58.5 1.8 55.8 2 55Z"/>
</defs>
<g id="pa">
<g filter="url(#rough)">
<g transform="translate(256.9 229.6) scale(2.08 1.705)">
<use href="#s0" fill="#FF7F00"/>
<use href="#s1" fill="#00F57A"/>
<use href="#s2" fill="#7FFF00"/>
<use href="#s3" fill="#FF007F"/>
<use href="#s4" fill="#FF0000"/>
<use href="#s5" fill="#7FFF00"/>
<use href="#s6" fill="#00FF00"/>
<use href="#s7" fill="#00FF00"/>
<use href="#s8" fill="#00FF00"/>
<use href="#s9" fill="#008B45"/>
<use href="#s10" fill="#8B8B00"/>
<use href="#s11" fill="#00458B"/>
<use href="#s12" fill="#0000FF"/>
<use href="#s13" fill="#0000FF"/>
<use href="#s14" fill="#008B8B"/>
<use href="#s15" fill="#7F00FF"/>
<use href="#s16" fill="#8B0000"/>
<use href="#s17" fill="#007FFF"/>
<use href="#s18" fill="#8B8B00"/>
<use href="#s19" fill="#FFFF00"/>
<use href="#s20" fill="#FF00FF"/>
<use href="#s21" fill="#458B00"/>
<use href="#s22" fill="#8B8B00"/>
<use href="#s23" fill="none" stroke="#8B8B00" stroke-width="1.06" stroke-linecap="round"/>
<use href="#s24" fill="none" stroke="#00008B" stroke-width="2.5" stroke-linecap="round"/>
<use href="#s25" fill="#45008B"/>
<use href="#s26" fill="#008B00"/>
<use href="#s27" fill="none" stroke="#458B45" stroke-width="0.769" stroke-linecap="round"/>
<use href="#s28" fill="#458B45"/>
<use href="#s29" fill="#008B45"/>
<use href="#s30" fill="#8B4500"/>
<use href="#s31" fill="none" stroke="#8B0045" stroke-width="2.21" stroke-linecap="round"/>
<use href="#s32" fill="#8B008B"/>
<use href="#s33" fill="#00FFFF"/>
<use href="#s34" fill="#474747"/>
<use href="#s35" fill="#45458B"/>
<use href="#s36" fill="#4545DD"/>
<use href="#s37" fill="#8B8B00"/>
<use href="#s38" fill="#8B8B00"/>
<use href="#s39" fill="#8B4545"/>
</g>
</g>
<path d="M174.8 130C178.3 128.6 187.1 130.4 195.9 134.2C204.6 138.1 216 146.5 227.4 153.2C238.9 159.9 259 169 264.3 174.3C269.6 179.5 265.2 184.8 259 184.8C252.9 184.8 238 178.6 227.4 174.3C216.9 169.9 204.6 163.7 195.9 158.5C187.1 153.2 178.3 147.4 174.8 142.7C171.3 137.9 171.3 131.4 174.8 130Z" fill="url(#p0)"/>
<path d="M174.8 137.4C177.4 137 187.1 147.4 195.9 153.2C204.6 159 217.8 166.9 227.4 172.1C237.1 177.4 252 182.2 253.8 184.8C255.5 187.4 245.9 189.7 238 187.9C230.1 186.2 216 179.7 206.4 174.3C196.7 168.8 185.3 161.4 180.1 155.3C174.8 149.2 172.2 137.7 174.8 137.4Z" fill="url(#p1)"/>
<path d="M127.4 172.1C127.7 169 137.4 161.3 145.3 155.3C153.2 149.3 168.1 137.7 174.8 136.3C181.5 134.9 187.1 143.4 185.3 146.9C183.6 150.4 171.3 152.8 164.3 157.4C157.2 162 149.3 171.8 143.2 174.3C137 176.7 127 175.3 127.4 172.1Z" fill="url(#p2)"/>
<path d="M124.2 167.9C126.9 164.1 135.1 157.4 143.2 151.1C151.3 144.8 167.4 132.5 172.7 130C177.9 127.6 179.4 131.8 174.8 136.3C170.2 140.9 153.2 151.1 145.3 157.4C137.4 163.7 130.9 172.5 127.4 174.3C123.9 176 121.6 171.8 124.2 167.9Z" fill="url(#p3)"/>
<path d="M174.8 100.5C176.2 94.9 180.1 94.9 181.1 100.5C182.2 106.1 182.5 128.6 181.1 134.2C179.7 139.9 173.7 139.9 172.7 134.2C171.6 128.6 173.4 106.1 174.8 100.5Z" fill="url(#p4)"/>
<path d="M170.6 102.6C172 97.4 176.2 97.4 176.9 102.6C177.6 107.9 176.2 129 174.8 134.2C173.4 139.5 169.2 139.5 168.5 134.2C167.8 129 169.2 107.9 170.6 102.6Z" fill="url(#p1)"/>
<path d="M111.6 130C117.7 125.6 142.3 123 148.5 126.9C154.6 130.7 154.6 148.8 148.5 153.2C142.3 157.6 117.7 157.1 111.6 153.2C105.5 149.3 105.5 134.4 111.6 130Z" fill="url(#p5)"/>
<path d="M92.6 159.5C94.7 156.9 103.2 159.2 106.3 161.6C109.5 164.1 113.7 171.6 111.6 174.3C109.5 176.9 96.9 179.9 93.7 177.4C90.5 175 90.5 162.1 92.6 159.5Z" fill="url(#p6)"/>
<path d="M148.5 184.8C155.5 180.4 188 180.4 195.9 184.8C203.7 189.2 202.9 206.7 195.9 211.1C188.8 215.5 161.6 215.5 153.7 211.1C145.8 206.7 141.4 189.2 148.5 184.8Z" fill="url(#p7)"/>
<path d="M92.6 179.5C99.7 169.9 133 169.9 143.2 179.5C153.4 189.2 160.7 227.8 153.7 237.4C146.7 247.1 111.2 247.1 101.1 237.4C90.9 227.8 85.6 189.2 92.6 179.5Z" fill="url(#p8)"/>
<path d="M153.7 205.9C162.5 198.8 197.6 198.8 206.4 205.9C215.2 212.9 215.2 241 206.4 248C197.6 255 162.5 255 153.7 248C144.9 241 144.9 212.9 153.7 205.9Z" fill="url(#p9)"/>
<path d="M259 179.5C263.4 174.6 278.5 173.7 285.4 176.4C292.2 179 297.6 186.9 300 195.3C302.5 203.7 306 220.8 300 226.9C294.1 233.1 271.1 235.7 264.3 232.2C257.5 228.7 259.9 214.6 259 205.9C258.2 197.1 254.7 184.4 259 179.5Z" fill="url(#p10)"/>
<path d="M230.6 211.1C233.6 206.2 247.3 203.2 250.6 208C254 212.7 253.6 234.6 250.6 239.6C247.6 244.5 236 242.2 232.7 237.4C229.4 232.7 227.6 216 230.6 211.1Z" fill="url(#p11)"/>
<path d="M204.3 205.9C209.5 202.3 232 198 238 200.6C243.9 203.2 245.4 218.1 240.1 221.6C234.8 225.2 212.4 224.3 206.4 221.6C200.4 219 199 209.4 204.3 205.9Z" fill="url(#p12)"/>
<path d="M207.2 244.3C210.9 240.3 225.7 237.4 231.1 240.9C236.6 244.3 242.5 258 239.7 264.8C236.8 271.7 219.2 281.9 214 281.9C208.9 281.9 210 271.1 208.9 264.8C207.7 258.6 203.5 248.3 207.2 244.3Z" fill="url(#p13)"/>
<path d="M207.2 244.3C210.9 240.3 225.7 237.4 231.1 240.9C236.6 244.3 242.5 258 239.7 264.8C236.8 271.7 219.2 281.9 214 281.9C208.9 281.9 210 271.1 208.9 264.8C207.7 258.6 203.5 248.3 207.2 244.3Z" fill="url(#p14)"/>
<path d="M123.7 240.9C127.1 236.3 144.8 236.3 149 240.9C153.2 245.4 152.4 263.7 149 268.2C145.6 272.8 132.7 272.8 128.5 268.2C124.2 263.7 120.2 245.4 123.7 240.9Z" fill="url(#p15)"/>
<path d="M125 264.8C128.5 256.3 142.1 251.1 149 251.1C155.8 251.1 163.8 256.3 166.1 264.8C168.4 273.4 169 296.2 162.7 302.5C156.4 308.8 134.7 308.8 128.5 302.5C122.2 296.2 121.6 273.4 125 264.8Z" fill="url(#p16)"/>
<path d="M155.8 302.5C163.3 300.8 194.6 305.9 200.3 309.3C206 312.7 197.5 321.3 190.1 323C182.6 324.7 161.5 323 155.8 319.6C150.1 316.2 148.4 304.2 155.8 302.5Z" fill="url(#p17)"/>
<path d="M223.5 325C234.9 313.6 283.4 313.6 295.4 325C307.3 336.4 306.8 382.1 295.4 393.5C284 404.9 238.9 404.9 226.9 393.5C214.9 382.1 212.1 336.4 223.5 325Z" fill="url(#p18)"/>
<path d="M175.6 337C186.4 328.2 226.3 327 237.2 337C248 347 251.4 388.1 240.6 396.9C229.8 405.8 183 400 172.1 390.1C161.3 380.1 164.7 345.9 175.6 337Z" fill="url(#p9)"/>
<path d="M283.4 328.5C288.5 325 311.1 325 315.9 328.5C320.7 331.9 317.6 345.6 312.5 349C307.3 352.4 289.9 352.4 285.1 349C280.2 345.6 278.2 331.9 283.4 328.5Z" fill="url(#p19)"/>
<path d="M373.5 230.6C382 232.3 417.4 246 428.2 251.1C439.1 256.3 441.4 260.3 438.5 261.4C435.7 262.5 421.4 261.4 411.1 258C400.9 254.6 383.2 245.4 376.9 240.9C370.6 236.3 364.9 228.9 373.5 230.6Z" fill="url(#p20)"/>
<path d="M404.3 222C410 220.9 432.8 228 445.4 234C457.9 240 478.2 253.4 479.6 258C481 262.5 465.3 264.3 453.9 261.4C442.5 258.6 419.4 247.4 411.1 240.9C402.9 234.3 398.6 223.2 404.3 222Z" fill="url(#p21)"/>
<path d="M453.9 254.6C459.1 251.7 487.3 254.6 493.3 259.7C499.3 264.8 495 282.5 489.9 285.4C484.7 288.2 468.5 281.9 462.5 276.8C456.5 271.7 448.8 257.4 453.9 254.6Z" fill="url(#p22)"/>
<path d="M462.5 244.3C468.2 243.1 491.6 247.7 496.7 251.1C501.8 254.6 499 263.7 493.3 264.8C487.6 266 467.6 261.4 462.5 258C457.3 254.6 456.8 245.4 462.5 244.3Z" fill="url(#p23)"/>
<path d="M322.1 234C326.1 232.3 345.5 236.9 349.5 240.9C353.5 244.9 350.1 256.3 346.1 258C342.1 259.7 329.6 255.1 325.6 251.1C321.6 247.1 318.2 235.7 322.1 234Z" fill="url(#p10)"/>
<path d="M325.6 258C332.4 252.8 363.2 265.4 370.1 271.7C376.9 277.9 373.5 290.5 366.6 295.6C359.8 300.8 335.8 308.8 329 302.5C322.1 296.2 318.7 263.1 325.6 258Z" fill="url(#p24)"/>
<path d="M274.2 268.2C285.6 269.1 332.4 290.5 342.7 299.1C352.9 307.6 342.1 315.6 335.8 319.6C329.6 323.6 315.3 327.3 305 323C294.8 318.7 279.4 303 274.2 293.9C269.1 284.8 262.8 267.4 274.2 268.2Z" fill="url(#p25)"/>
<path d="M281.1 285.4C286.2 286.8 301 303.6 311.9 311C322.7 318.4 341 325 346.1 329.9C351.2 334.7 349.5 340 342.7 340C335.8 340 315.3 336.1 305 329.9C294.8 323.6 285.1 309.9 281.1 302.5C277.1 295.1 275.9 283.9 281.1 285.4Z" fill="url(#p26)"/>
<line x1="68.9" y1="77.4" x2="68.9" y2="486.3" stroke="#000" stroke-width="1.9"/>
<line x1="68" y1="485.4" x2="534.4" y2="485.4" stroke="#000" stroke-width="1.9"/>
<line x1="63.9" y1="144.3" x2="68.9" y2="144.3" stroke="#000" stroke-width="1.7"/>
<text x="61" y="150.5" font-size="17.3" text-anchor="end" fill="#111">5</text>
<line x1="63.9" y1="229.6" x2="68.9" y2="229.6" stroke="#000" stroke-width="1.7"/>
<text x="61" y="235.8" font-size="17.3" text-anchor="end" fill="#111">0</text>
<line x1="63.9" y1="314.9" x2="68.9" y2="314.9" stroke="#000" stroke-width="1.7"/>
<text x="61" y="321.1" font-size="17.3" text-anchor="end" fill="#111">−5</text>
<line x1="63.9" y1="400.1" x2="68.9" y2="400.1" stroke="#000" stroke-width="1.7"/>
<text x="61" y="406.3" font-size="17.3" text-anchor="end" fill="#111">−10</text>
<line x1="63.9" y1="485.4" x2="68.9" y2="485.4" stroke="#000" stroke-width="1.7"/>
<text x="61" y="491.6" font-size="17.3" text-anchor="end" fill="#111">−15</text>
<line x1="152.9" y1="485.4" x2="152.9" y2="490.4" stroke="#000" stroke-width="1.7"/>
<text x="152.9" y="507" font-size="17.3" text-anchor="middle" fill="#111">−5</text>
<line x1="256.9" y1="485.4" x2="256.9" y2="490.4" stroke="#000" stroke-width="1.7"/>
<text x="256.9" y="507" font-size="17.3" text-anchor="middle" fill="#111">0</text>
<line x1="360.9" y1="485.4" x2="360.9" y2="490.4" stroke="#000" stroke-width="1.7"/>
<text x="360.9" y="507" font-size="17.3" text-anchor="middle" fill="#111">5</text>
<line x1="464.9" y1="485.4" x2="464.9" y2="490.4" stroke="#000" stroke-width="1.7"/>
<text x="464.9" y="507" font-size="17.3" text-anchor="middle" fill="#111">10</text>
<text x="300.4" y="528.9" font-size="18.6" text-anchor="middle" fill="#111">UMAP_1</text>
<text x="22.5" y="280" font-size="18.6" text-anchor="middle" transform="rotate(-90 22.5 280)" fill="#111">UMAP_2</text>
</g>
<text x="4" y="35.8" font-size="35.5">a</text>
<text x="558.5" y="30.5" font-size="35.5">b</text>
<g id="ph">
<g filter="url(#rough)">
<path d="M655.7 175.8C652.7 178.4 653.1 186.1 653.1 191.2C653.1 196.4 654.1 202.1 655.7 206.6C657.2 211.2 659.4 215.5 662.5 218.6C665.7 221.8 670.2 224 674.5 225.5C678.8 226.9 683.1 227.8 688.2 227.5C693.3 227.2 701.6 228.4 705.3 223.8C709 219.1 711 206.6 710.4 199.8C709.9 192.9 705.9 187 701.9 182.7C697.9 178.3 691.6 174.9 686.5 173.8C681.3 172.6 676.2 175.5 671.1 175.8C665.9 176.2 658.7 173.3 655.7 175.8Z" fill="#00F57A"/>
<g transform="translate(816.2 227.1) scale(2.025 1.705)">
<use href="#s2" fill="#7FFF00"/>
<use href="#s3" fill="#FF007F"/>
<use href="#s5" fill="#7FFF00"/>
<use href="#s6" fill="#00FF00"/>
<use href="#s7" fill="#00FF00"/>
<use href="#s8" fill="#00FF00"/>
<use href="#s11" fill="#00458B"/>
<use href="#s12" fill="#0000FF"/>
<use href="#s13" fill="#0000FF"/>
</g>
<path d="M823.4 165.6C824.8 164.7 831.7 168.1 835.4 170.7C839.1 173.3 841.9 176.7 845.6 181C849.3 185.2 853.6 191.8 857.6 196.4C861.6 200.9 865.3 205.2 869.6 208.4C873.9 211.5 878.7 213.2 883.3 215.2C887.8 217.2 892.1 218.8 897 220.3C901.8 221.9 907.1 223.8 912.4 224.6C917.7 225.5 925.9 224.5 928.6 225.5C931.3 226.5 931.3 229.5 928.6 230.6C925.9 231.7 916.2 230.6 912.4 232.3C908.5 234 907.7 237.9 905.5 240.9C903.4 243.9 901.4 250 899.5 250.3C897.7 250.6 896.3 245.6 894.4 242.6C892.6 239.6 891.4 234.6 888.4 232.3C885.4 230 880.4 230 876.4 228.9C872.4 227.7 868.2 227.7 864.5 225.5C860.7 223.2 857.3 219.5 854.2 215.2C851.1 210.9 848.8 204.6 845.6 199.8C842.5 194.9 838.5 190.1 835.4 186.1C832.2 182.1 828.8 179.3 826.8 175.8C824.8 172.4 822 166.4 823.4 165.6Z" fill="#7F00FF"/>
<g transform="translate(816.2 227.1) scale(2.025 1.705)">
<use href="#s16" fill="#8B0000"/>
<use href="#s17" fill="#007FFF"/>
<use href="#s18" fill="#8B8B00"/>
<use href="#s19" fill="#FFFF00"/>
<use href="#s20" fill="#FF00FF"/>
<use href="#s21" fill="#458B00"/>
<use href="#s22" fill="#8B8B00"/>
<use href="#s24" fill="none" stroke="#00008B" stroke-width="2.5" stroke-linecap="round"/>
<use href="#s28" fill="#458B45"/>
<use href="#s35" fill="#45458B"/>
<use href="#s36" fill="#4545DD"/>
<use href="#s37" fill="#8B8B00"/>
<use href="#s38" fill="#8B8B00"/>
</g>
</g>
<g transform="translate(816.2 227.1) scale(2.025 1.705)">
<use href="#s0" fill="url(#p27)"/>
<use href="#s4" fill="url(#p28)"/>
<use href="#s14" fill="url(#p29)"/>
<use href="#s25" fill="url(#p30)"/>
<use href="#s26" fill="url(#p31)"/>
<use href="#s27" fill="none" stroke="url(#p32)" stroke-width="0.769" stroke-linecap="round"/>
<use href="#s29" fill="url(#p33)"/>
<use href="#s30" fill="url(#p34)"/>
<use href="#s32" fill="url(#p35)"/>
<use href="#s33" fill="url(#p36)"/>
<use href="#s34" fill="url(#p37)"/>
</g>
<path d="M808 176.9C814.8 169.6 836.9 174.5 844.9 184.3C852.9 194.1 858.4 223.6 856 235.9C853.5 248.2 838.8 259.3 830.2 258C821.6 256.8 808 242.1 804.4 228.6C800.7 215 801.3 184.3 808 176.9Z" fill="url(#p38)"/>
<path d="M767.5 221.2C771.2 213.8 798.8 204 808 206.4C817.3 208.9 826.5 228.6 822.8 235.9C819.1 243.3 795.1 253.1 785.9 250.7C776.7 248.2 763.8 228.6 767.5 221.2Z" fill="url(#p10)"/>
<path d="M726.9 184.3C734.3 176.9 768.7 183.1 778.6 191.7C788.4 200.3 793.3 228.6 785.9 235.9C778.6 243.3 744.1 244.5 734.3 235.9C724.5 227.3 719.6 191.7 726.9 184.3Z" fill="url(#p39)"/>
<path d="M656.9 158.5C658.7 156.1 666.1 156.1 668 158.5C669.8 161 669.8 170.8 668 173.3C666.1 175.7 658.7 175.7 656.9 173.3C655.1 170.8 655.1 161 656.9 158.5Z" fill="url(#p40)"/>
<path d="M671.7 147.5C676.6 138.2 707.9 122.9 726.9 121.7C746 120.4 768.7 133.3 785.9 140.1C803.1 146.8 826.5 156.1 830.2 162.2C833.9 168.3 830.2 174.5 808 176.9C785.9 179.4 720.2 181.9 697.5 176.9C674.7 172 666.7 156.7 671.7 147.5Z" fill="url(#p41)"/>
<path d="M763.8 331.8C774.9 324.4 819.1 318.3 830.2 324.4C841.2 330.5 841.2 361.3 830.2 368.6C819.1 376 774.9 374.8 763.8 368.6C752.8 362.5 752.8 339.1 763.8 331.8Z" fill="url(#p42)"/>
<path d="M951.8 221.2C958.6 220.6 985.6 231 992.4 235.9C999.1 240.8 999.1 250.1 992.4 250.7C985.6 251.3 958.6 244.5 951.8 239.6C945.1 234.7 945.1 221.8 951.8 221.2Z" fill="url(#p20)"/>
<path d="M973.9 217.5C980.7 215.7 1016.3 229.8 1025.5 235.9C1034.8 242.1 1036 252.5 1029.2 254.4C1022.5 256.2 994.2 253.1 985 247C975.8 240.8 967.2 219.3 973.9 217.5Z" fill="url(#p21)"/>
<line x1="631.8" y1="83" x2="631.8" y2="481.9" stroke="#000" stroke-width="1.9"/>
<line x1="630.9" y1="481" x2="1082.7" y2="481" stroke="#000" stroke-width="1.9"/>
<line x1="626.8" y1="141.8" x2="631.8" y2="141.8" stroke="#000" stroke-width="1.7"/>
<text x="624" y="148" font-size="17.3" text-anchor="end" fill="#111">5</text>
<line x1="626.8" y1="227.1" x2="631.8" y2="227.1" stroke="#000" stroke-width="1.7"/>
<text x="624" y="233.3" font-size="17.3" text-anchor="end" fill="#111">0</text>
<line x1="626.8" y1="312.4" x2="631.8" y2="312.4" stroke="#000" stroke-width="1.7"/>
<text x="624" y="318.6" font-size="17.3" text-anchor="end" fill="#111">−5</text>
<line x1="626.8" y1="397.6" x2="631.8" y2="397.6" stroke="#000" stroke-width="1.7"/>
<text x="624" y="403.8" font-size="17.3" text-anchor="end" fill="#111">−10</text>
<line x1="715" y1="481" x2="715" y2="486" stroke="#000" stroke-width="1.7"/>
<text x="715" y="503.2" font-size="17.3" text-anchor="middle" fill="#111">−5</text>
<line x1="816.2" y1="481" x2="816.2" y2="486" stroke="#000" stroke-width="1.7"/>
<text x="816.2" y="503.2" font-size="17.3" text-anchor="middle" fill="#111">0</text>
<line x1="917.5" y1="481" x2="917.5" y2="486" stroke="#000" stroke-width="1.7"/>
<text x="917.5" y="503.2" font-size="17.3" text-anchor="middle" fill="#111">5</text>
<line x1="1018.7" y1="481" x2="1018.7" y2="486" stroke="#000" stroke-width="1.7"/>
<text x="1018.7" y="503.2" font-size="17.3" text-anchor="middle" fill="#111">10</text>
<text x="858.9" y="522.7" font-size="18.6" text-anchor="middle" fill="#111">UMAP_1</text>
<text x="586.5" y="284" font-size="18.6" text-anchor="middle" transform="rotate(-90 586.5 284)" fill="#111">UMAP_2</text>
</g>
<text x="648.5" y="75.6" font-size="29">Human</text>
<g id="pm">
<g filter="url(#rough)">
<g transform="translate(1337.7 232.6) scale(2.049 1.672)">
<use href="#s0" fill="#FF7F00"/>
<use href="#s1" fill="#00F57A"/>
</g>
<path d="M1214.6 180.6C1216.4 172.6 1230.8 168.3 1238.5 162.2C1246.2 156.1 1252.6 144.4 1260.6 143.8C1268.6 143.2 1277.2 152.4 1286.4 158.5C1295.7 164.7 1307 174.8 1315.9 180.6C1324.8 186.5 1338.4 190.6 1339.9 193.5C1341.4 196.5 1330.1 194.9 1325.1 198.3C1320.2 201.7 1316.8 209.1 1310.4 213.8C1303.9 218.5 1294.1 225.5 1286.4 226.7C1278.8 227.9 1271.1 222.1 1264.3 221.2C1257.6 220.3 1252 223 1245.9 221.2C1239.7 219.3 1232.7 216.9 1227.5 210.1C1222.2 203.4 1212.7 188.6 1214.6 180.6Z" fill="#7FFF00"/>
<path d="M1244 294.9C1245.8 297.2 1251.7 302.7 1256.9 305.2C1262.2 307.8 1269.4 311 1275.4 310.4C1281.4 309.8 1288.6 305.7 1293.1 301.5C1297.5 297.4 1301.4 288.9 1301.9 285.7C1302.4 282.4 1298.6 280.6 1296 282C1293.4 283.4 1290.5 291.3 1286.4 294.2C1282.4 297.1 1276.6 298.8 1271.7 299.3C1266.8 299.8 1261.1 298.5 1256.9 297.1C1252.8 295.8 1248.8 291.6 1246.6 291.2C1244.5 290.9 1242.3 292.6 1244 294.9Z" fill="#FF007F"/>
<path d="M1292 230.4C1293 229.7 1299 233 1301.9 235.2C1304.8 237.3 1309 241.5 1309.3 243.3C1309.5 245.1 1305.7 246.5 1303.4 245.9C1301.1 245.3 1297.6 242.2 1295.7 239.6C1293.7 237 1290.9 231.1 1292 230.4Z" fill="#FF007F"/>
<g transform="translate(1337.7 232.6) scale(2.049 1.672)">
<use href="#s4" fill="#FF0000"/>
</g>
<path d="M1210.9 237.8C1213.4 232.5 1229.3 230.7 1234.8 234.1C1240.4 237.5 1243.7 250.4 1244 258C1244.4 265.7 1238.3 272.2 1236.7 280.2C1235 288.2 1236.1 299.5 1234.1 306C1232.1 312.4 1227.6 320.7 1224.5 318.9C1221.4 317 1216.5 303.8 1215.7 294.9C1214.8 286 1220.1 274.9 1219.3 265.4C1218.5 255.9 1208.3 243 1210.9 237.8Z" fill="#008B8B"/>
<g transform="translate(1337.7 232.6) scale(2.049 1.672)">
<use href="#s9" fill="#008B45"/>
<use href="#s11" fill="#00458B"/>
</g>
<path d="M1315.9 215.7C1318.3 210.6 1330.2 198.1 1334.4 199.1C1338.5 200 1339 212.6 1341 221.2C1343 229.8 1342.8 242.2 1346.2 250.7C1349.5 259.2 1356.6 266.5 1360.9 272.1C1365.2 277.6 1371.3 280.5 1372 283.9C1372.6 287.2 1368.9 293.7 1364.6 292C1360.3 290.2 1351.7 279.7 1346.2 273.5C1340.6 267.4 1335.7 262.5 1331.4 255.1C1327.1 247.7 1322.9 235.9 1320.4 229.3C1317.8 222.7 1313.6 220.7 1315.9 215.7Z" fill="#8B8B00"/>
<path d="M1380.4 206.4C1381.1 202.4 1388.1 199.7 1393.3 200.9C1398.6 202.1 1406.2 209.2 1411.8 213.8C1417.3 218.4 1422.2 224.3 1426.5 228.6C1430.8 232.9 1438.2 236.8 1437.6 239.6C1437 242.4 1428.4 245.8 1422.8 245.1C1417.3 244.5 1409.9 239.3 1404.4 235.9C1398.9 232.5 1393.6 229.8 1389.7 224.9C1385.7 220 1379.8 210.4 1380.4 206.4Z" fill="#7F00FF"/>
<path d="M1428.4 219.3C1429.3 218.7 1437 221.5 1439.4 223C1441.9 224.6 1444 227.9 1443.1 228.6C1442.2 229.2 1436.3 228.2 1433.9 226.7C1431.4 225.2 1427.4 220 1428.4 219.3Z" fill="#8B0000"/>
<g transform="translate(1337.7 232.6) scale(2.049 1.672)">
<use href="#s21" fill="#458B00"/>
<use href="#s24" fill="none" stroke="#00008B" stroke-width="2.5" stroke-linecap="round"/>
<use href="#s25" fill="#45008B"/>
<use href="#s26" fill="#008B00"/>
<use href="#s27" fill="none" stroke="#458B45" stroke-width="0.769" stroke-linecap="round"/>
<use href="#s28" fill="#458B45"/>
<use href="#s29" fill="#008B45"/>
<use href="#s30" fill="#8B4500"/>
<use href="#s31" fill="none" stroke="#8B0045" stroke-width="2.21" stroke-linecap="round"/>
<use href="#s32" fill="#8B008B"/>
<use href="#s33" fill="#00FFFF"/>
<use href="#s34" fill="#474747"/>
<use href="#s35" fill="#45458B"/>
<use href="#s36" fill="#4545DD"/>
<use href="#s39" fill="#8B4545"/>
</g>
</g>
<path d="M1227.5 206.4C1236.1 205.2 1271.7 221.2 1286.4 221.2C1301.2 221.2 1313.5 204 1315.9 206.4C1318.4 208.9 1307.3 227.3 1301.2 235.9C1295 244.5 1287.7 255.6 1279.1 258C1270.5 260.5 1256.9 255.6 1249.6 250.7C1242.2 245.8 1238.5 235.9 1234.8 228.6C1231.1 221.2 1218.9 207.7 1227.5 206.4Z" fill="url(#p43)"/>
<g transform="translate(1337.7 232.6) scale(2.049 1.672)">
<use href="#s6" fill="url(#p44)"/>
<use href="#s7" fill="url(#p44)"/>
<use href="#s12" fill="url(#p45)"/>
<use href="#s13" fill="url(#p45)"/>
</g>
<path d="M1345.4 180.6C1347.9 176.9 1366.9 180.9 1374.9 184.3C1382.9 187.7 1392.4 194.8 1393.3 200.9C1394.3 207.1 1386 220.3 1380.4 221.2C1374.9 222.1 1366 213.2 1360.2 206.4C1354.3 199.7 1343 184.3 1345.4 180.6Z" fill="url(#p10)"/>
<g transform="translate(1337.7 232.6) scale(2.049 1.672)">
<use href="#s17" fill="url(#p46)"/>
<use href="#s18" fill="url(#p47)"/>
<use href="#s19" fill="url(#p48)"/>
<use href="#s20" fill="url(#p49)"/>
<use href="#s22" fill="url(#p50)"/>
<use href="#s23" fill="none" stroke="url(#p51)" stroke-width="1.06" stroke-linecap="round"/>
<use href="#s38" fill="url(#p52)"/>
</g>
<path d="M1201.7 173.3C1206.6 163.4 1237.9 147.5 1256.9 147.5C1276 147.5 1302.4 165.3 1315.9 173.3C1329.4 181.2 1343 189.8 1338 195.4C1333.1 200.9 1304.9 204.6 1286.4 206.4C1268 208.3 1241.6 212 1227.5 206.4C1213.3 200.9 1196.7 183.1 1201.7 173.3Z" fill="url(#p53)"/>
<path d="M1212.7 176.9C1216.4 169.6 1237.3 184.3 1242.2 191.7C1247.1 199.1 1245.9 213.8 1242.2 221.2C1238.5 228.6 1225 243.3 1220.1 235.9C1215.2 228.6 1209 184.3 1212.7 176.9Z" fill="url(#p54)"/>
<path d="M1301.2 324.4C1314.7 313.3 1381.1 313.3 1397 324.4C1413 335.5 1410.5 379.7 1397 390.8C1383.5 401.8 1331.9 401.8 1315.9 390.8C1300 379.7 1287.7 335.5 1301.2 324.4Z" fill="url(#p18)"/>
<path d="M1249.6 317C1255.7 318.3 1280.3 328.4 1286.4 331.8C1292.6 335.2 1292.6 338.5 1286.4 337.3C1280.3 336.1 1255.7 327.8 1249.6 324.4C1243.4 321 1243.4 315.8 1249.6 317Z" fill="url(#p55)"/>
<path d="M1481.8 217.5C1488.6 216.3 1524.2 229.2 1533.4 235.9C1542.6 242.7 1543.9 256.8 1537.1 258C1530.4 259.3 1502.1 250.1 1492.9 243.3C1483.7 236.5 1475.1 218.7 1481.8 217.5Z" fill="url(#p56)"/>
<path d="M1238.5 294.9C1241 288.8 1248.3 288.8 1249.6 294.9C1250.8 301.1 1248.3 325.6 1245.9 331.8C1243.4 337.9 1236.1 337.9 1234.8 331.8C1233.6 325.6 1236.1 301.1 1238.5 294.9Z" fill="url(#p57)"/>
<line x1="1151.1" y1="84" x2="1151.1" y2="484.2" stroke="#000" stroke-width="1.9"/>
<line x1="1150.2" y1="483.3" x2="1607.9" y2="483.3" stroke="#000" stroke-width="1.9"/>
<line x1="1146.1" y1="149" x2="1151.1" y2="149" stroke="#000" stroke-width="1.7"/>
<text x="1143" y="155.2" font-size="17.3" text-anchor="end" fill="#111">5</text>
<line x1="1146.1" y1="232.6" x2="1151.1" y2="232.6" stroke="#000" stroke-width="1.7"/>
<text x="1143" y="238.8" font-size="17.3" text-anchor="end" fill="#111">0</text>
<line x1="1146.1" y1="316.2" x2="1151.1" y2="316.2" stroke="#000" stroke-width="1.7"/>
<text x="1143" y="322.4" font-size="17.3" text-anchor="end" fill="#111">−5</text>
<line x1="1146.1" y1="399.8" x2="1151.1" y2="399.8" stroke="#000" stroke-width="1.7"/>
<text x="1143" y="406" font-size="17.3" text-anchor="end" fill="#111">−10</text>
<line x1="1146.1" y1="483.4" x2="1151.1" y2="483.4" stroke="#000" stroke-width="1.7"/>
<text x="1143" y="489.6" font-size="17.3" text-anchor="end" fill="#111">−15</text>
<line x1="1235.2" y1="483.3" x2="1235.2" y2="488.3" stroke="#000" stroke-width="1.7"/>
<text x="1235.2" y="504.6" font-size="17.3" text-anchor="middle" fill="#111">−5</text>
<line x1="1337.7" y1="483.3" x2="1337.7" y2="488.3" stroke="#000" stroke-width="1.7"/>
<text x="1337.7" y="504.6" font-size="17.3" text-anchor="middle" fill="#111">0</text>
<line x1="1440.2" y1="483.3" x2="1440.2" y2="488.3" stroke="#000" stroke-width="1.7"/>
<text x="1440.2" y="504.6" font-size="17.3" text-anchor="middle" fill="#111">5</text>
<line x1="1542.6" y1="483.3" x2="1542.6" y2="488.3" stroke="#000" stroke-width="1.7"/>
<text x="1542.6" y="504.6" font-size="17.3" text-anchor="middle" fill="#111">10</text>
<text x="1379.3" y="524.2" font-size="18.6" text-anchor="middle" fill="#111">UMAP_1</text>
<text x="1106" y="284" font-size="18.6" text-anchor="middle" transform="rotate(-90 1106 284)" fill="#111">UMAP_2</text>
</g>
<text x="1174.5" y="81.8" font-size="29">C57BL6</text>
<defs><linearGradient id="rg" x1="0" y1="1" x2="0" y2="0"><stop offset="0" stop-color="#dfe7f1"/><stop offset="0.35" stop-color="#e4b0ae"/><stop offset="0.75" stop-color="#d55a55"/><stop offset="1" stop-color="#c4222b"/></linearGradient></defs>
<g id="c_CD3G">
<g filter="url(#roughc)">
<path d="M157.2 812.1C163.2 808 176.2 809.6 181.8 812.1C187.4 814.5 190 821.1 190.7 826.8C191.5 832.5 189.2 840.7 186.3 846.4C183.3 852.1 177.7 860.2 172.9 861.1C168 861.9 161.7 855.3 157.2 851.3C152.8 847.2 146.1 843.1 146.1 836.6C146.1 830 151.3 816.2 157.2 812.1Z" fill="#e6edf6"/>
<path d="M128.2 836.6C133 832.5 152 831.7 157.2 836.6C162.4 841.5 162.1 859.4 159.5 866C156.9 872.5 146.8 876.6 141.6 875.8C136.4 874.9 130.4 867.6 128.2 861.1C126 854.5 123.4 840.7 128.2 836.6Z" fill="#e6edf6"/>
<path d="M76.9 846.4C80.6 835.8 97.3 835.8 101.4 846.4C105.5 857 105.1 899.4 101.4 910C97.7 920.7 83.2 920.7 79.1 910C75 899.4 73.1 857 76.9 846.4Z" fill="#e6edf6"/>
<g transform="translate(158.8 842.2) scale(1.26 1.133)">
<use href="#s0" fill="#dfe8f3"/>
<use href="#s1" fill="#dfe8f3"/>
<use href="#s2" fill="#dfe8f3"/>
<use href="#s3" fill="#dfe8f3"/>
<use href="#s4" fill="#dfe8f3"/>
<use href="#s5" fill="#dfe8f3"/>
<use href="#s6" fill="#dfe8f3"/>
<use href="#s7" fill="#dfe8f3"/>
<use href="#s8" fill="#dfe8f3"/>
<use href="#s9" fill="#dabac1"/>
<use href="#s10" fill="#dfe8f3"/>
<use href="#s11" fill="#dfe8f3"/>
<use href="#s12" fill="#dfe8f3"/>
<use href="#s13" fill="#dfe8f3"/>
<use href="#s14" fill="#dfe8f3"/>
<use href="#s15" fill="#dfe8f3"/>
<use href="#s16" fill="#dcccd5"/>
<use href="#s17" fill="#dfe8f3"/>
<use href="#s18" fill="#dfe8f3"/>
<use href="#s19" fill="#d7a2a7"/>
<use href="#s20" fill="#d69b9f"/>
<use href="#s21" fill="#d8b1b7"/>
<use href="#s22" fill="#d8b1b7"/>
<use href="#s23" fill="none" stroke="#dfe8f3" stroke-width="1.59" stroke-linecap="round"/>
<use href="#s24" fill="none" stroke="#d7a8ad" stroke-width="3.75" stroke-linecap="round"/>
<use href="#s25" fill="#dfe8f3"/>
<use href="#s26" fill="#dfe8f3"/>
<use href="#s27" fill="none" stroke="#dfe8f3" stroke-width="1.15" stroke-linecap="round"/>
<use href="#s28" fill="#dfe8f3"/>
<use href="#s29" fill="#dbc3cb"/>
<use href="#s30" fill="#dfe8f3"/>
<use href="#s31" fill="none" stroke="#dfe8f3" stroke-width="3.32" stroke-linecap="round"/>
<use href="#s32" fill="#d38386"/>
<use href="#s33" fill="#dfe8f3"/>
<use href="#s34" fill="#dfe8f3"/>
<use href="#s35" fill="#dfe8f3"/>
<use href="#s36" fill="#dfe8f3"/>
<use href="#s37" fill="#dfe8f3"/>
<use href="#s38" fill="#d8b1b7"/>
<use href="#s39" fill="#dfe8f3"/>
</g>
</g>
<g transform="translate(158.8 842.2) scale(1.26 1.133)">
<use href="#s9" fill="url(#p58)" opacity="0.7"/>
<use href="#s9" fill="url(#p59)"/>
<use href="#s16" fill="url(#p58)" opacity="0.6"/>
<use href="#s16" fill="url(#p59)"/>
<use href="#s17" fill="url(#p60)" opacity="0.4"/>
<use href="#s17" fill="url(#p61)"/>
<use href="#s19" fill="url(#p62)" opacity="0.8"/>
<use href="#s19" fill="url(#p63)"/>
<use href="#s20" fill="url(#p62)" opacity="0.8"/>
<use href="#s20" fill="url(#p63)"/>
<use href="#s21" fill="url(#p64)" opacity="0.7"/>
<use href="#s21" fill="url(#p65)"/>
<use href="#s22" fill="url(#p64)" opacity="0.7"/>
<use href="#s22" fill="url(#p65)"/>
<use href="#s24" fill="none" stroke="url(#p64)" stroke-width="3.75" stroke-linecap="round" opacity="0.8"/>
<use href="#s24" fill="none" stroke="url(#p65)" stroke-width="3.75" stroke-linecap="round"/>
<use href="#s29" fill="url(#p58)" opacity="0.6"/>
<use href="#s29" fill="url(#p59)"/>
<use href="#s32" fill="url(#p62)" opacity="1"/>
<use href="#s32" fill="url(#p63)"/>
<use href="#s38" fill="url(#p64)" opacity="0.7"/>
<use href="#s38" fill="url(#p65)"/>
</g>
<line x1="32.1" y1="739.5" x2="32.1" y2="1013.6" stroke="#111" stroke-width="0.9"/>
<line x1="31.6" y1="1013.1" x2="337.3" y2="1013.1" stroke="#111" stroke-width="0.9"/>
<line x1="27.9" y1="785.6" x2="32.1" y2="785.6" stroke="#111" stroke-width="0.9"/>
<text x="26.2" y="788.6" font-size="8.2" text-anchor="end" font-weight="bold" fill="#222">5</text>
<line x1="27.9" y1="842.2" x2="32.1" y2="842.2" stroke="#111" stroke-width="0.9"/>
<text x="26.2" y="845.2" font-size="8.2" text-anchor="end" font-weight="bold" fill="#222">0</text>
<line x1="27.9" y1="898.9" x2="32.1" y2="898.9" stroke="#111" stroke-width="0.9"/>
<text x="26.2" y="901.9" font-size="8.2" text-anchor="end" font-weight="bold" fill="#222">−5</text>
<line x1="27.9" y1="955.5" x2="32.1" y2="955.5" stroke="#111" stroke-width="0.9"/>
<text x="26.2" y="958.5" font-size="8.2" text-anchor="end" font-weight="bold" fill="#222">−10</text>
<line x1="27.9" y1="1012.2" x2="32.1" y2="1012.2" stroke="#111" stroke-width="0.9"/>
<text x="26.2" y="1015.2" font-size="8.2" text-anchor="end" font-weight="bold" fill="#222">−15</text>
<line x1="32.8" y1="1013.1" x2="32.8" y2="1017.1" stroke="#111" stroke-width="0.9"/>
<text x="32.8" y="1025.5" font-size="8.2" text-anchor="middle" font-weight="bold" fill="#222">−10</text>
<line x1="95.8" y1="1013.1" x2="95.8" y2="1017.1" stroke="#111" stroke-width="0.9"/>
<text x="95.8" y="1025.5" font-size="8.2" text-anchor="middle" font-weight="bold" fill="#222">−5</text>
<line x1="158.8" y1="1013.1" x2="158.8" y2="1017.1" stroke="#111" stroke-width="0.9"/>
<text x="158.8" y="1025.5" font-size="8.2" text-anchor="middle" font-weight="bold" fill="#222">0</text>
<line x1="221.8" y1="1013.1" x2="221.8" y2="1017.1" stroke="#111" stroke-width="0.9"/>
<text x="221.8" y="1025.5" font-size="8.2" text-anchor="middle" font-weight="bold" fill="#222">5</text>
<line x1="284.8" y1="1013.1" x2="284.8" y2="1017.1" stroke="#111" stroke-width="0.9"/>
<text x="284.8" y="1025.5" font-size="8.2" text-anchor="middle" font-weight="bold" fill="#222">10</text>
<text x="183.8" y="1035.9" font-size="10.2" text-anchor="middle" font-weight="bold" fill="#222">UMAP_1</text>
<text x="8.1" y="876.2" font-size="10.2" text-anchor="middle" font-weight="bold" transform="rotate(-90 8.1 876.2)" fill="#222">UMAP_2</text>
<text x="183.8" y="730.5" font-size="20" text-anchor="middle" font-weight="bold">CD3G</text>
<rect x="343.1" y="858.6" width="8.4" height="38.6" fill="url(#rg)"/>
<text x="354.9" y="899.1" font-size="4.8" fill="#333">0</text>
<text x="354.9" y="889.3" font-size="4.8" fill="#333">1</text>
<text x="354.9" y="879.4" font-size="4.8" fill="#333">2</text>
<text x="354.9" y="869.6" font-size="4.8" fill="#333">3</text>
</g>
<g id="c_CD3E">
<g filter="url(#roughc)">
<path d="M521.9 812.1C527.9 808 540.9 809.6 546.5 812.1C552.1 814.5 554.7 821.1 555.4 826.8C556.2 832.5 553.9 840.7 551 846.4C548 852.1 542.4 860.2 537.6 861.1C532.7 861.9 526.4 855.3 521.9 851.3C517.5 847.2 510.8 843.1 510.8 836.6C510.8 830 516 816.2 521.9 812.1Z" fill="#e6edf6"/>
<path d="M492.9 836.6C497.7 832.5 516.7 831.7 521.9 836.6C527.1 841.5 526.8 859.4 524.2 866C521.6 872.5 511.5 876.6 506.3 875.8C501.1 874.9 495.1 867.6 492.9 861.1C490.7 854.5 488.1 840.7 492.9 836.6Z" fill="#e6edf6"/>
<path d="M441.6 846.4C445.3 835.8 462 835.8 466.1 846.4C470.2 857 469.8 899.4 466.1 910C462.4 920.7 447.9 920.7 443.8 910C439.7 899.4 437.8 857 441.6 846.4Z" fill="#e6edf6"/>
<g transform="translate(523.5 842.2) scale(1.26 1.133)">
<use href="#s0" fill="#dfe8f3"/>
<use href="#s1" fill="#dfe8f3"/>
<use href="#s2" fill="#dfe8f3"/>
<use href="#s3" fill="#dfe8f3"/>
<use href="#s4" fill="#dfe8f3"/>
<use href="#s5" fill="#dfe8f3"/>
<use href="#s6" fill="#dfe8f3"/>
<use href="#s7" fill="#dfe8f3"/>
<use href="#s8" fill="#dfe8f3"/>
<use href="#s9" fill="#d8b1b7"/>
<use href="#s10" fill="#dfe8f3"/>
<use href="#s11" fill="#dfe8f3"/>
<use href="#s12" fill="#dfe8f3"/>
<use href="#s13" fill="#dfe8f3"/>
<use href="#s14" fill="#dfe8f3"/>
<use href="#s15" fill="#dfe8f3"/>
<use href="#s16" fill="#d59599"/>
<use href="#s17" fill="#dcd2db"/>
<use href="#s18" fill="#dfe8f3"/>
<use href="#s19" fill="#d17678"/>
<use href="#s20" fill="#d06f70"/>
<use href="#s21" fill="#d48c90"/>
<use href="#s22" fill="#d59599"/>
<use href="#s23" fill="none" stroke="#dfe8f3" stroke-width="1.59" stroke-linecap="round"/>
<use href="#s24" fill="none" stroke="#d48c90" stroke-width="3.75" stroke-linecap="round"/>
<use href="#s25" fill="#dfe8f3"/>
<use href="#s26" fill="#dfe8f3"/>
<use href="#s27" fill="none" stroke="#dfe8f3" stroke-width="1.15" stroke-linecap="round"/>
<use href="#s28" fill="#dfe8f3"/>
<use href="#s29" fill="#d8b1b7"/>
<use href="#s30" fill="#dfe8f3"/>
<use href="#s31" fill="none" stroke="#dfe8f3" stroke-width="3.32" stroke-linecap="round"/>
<use href="#s32" fill="#d27a7c"/>
<use href="#s33" fill="#dfe8f3"/>
<use href="#s34" fill="#dfe8f3"/>
<use href="#s35" fill="#dfe8f3"/>
<use href="#s36" fill="#dfe8f3"/>
<use href="#s37" fill="#dfe8f3"/>
<use href="#s38" fill="#d69ea3"/>
<use href="#s39" fill="#dfe8f3"/>
</g>
</g>
<g transform="translate(523.5 842.2) scale(1.26 1.133)">
<use href="#s9" fill="url(#p58)" opacity="0.7"/>
<use href="#s9" fill="url(#p59)"/>
<use href="#s16" fill="url(#p62)" opacity="0.9"/>
<use href="#s16" fill="url(#p63)"/>
<use href="#s17" fill="url(#p58)" opacity="0.5"/>
<use href="#s17" fill="url(#p59)"/>
<use href="#s19" fill="url(#p66)" opacity="1"/>
<use href="#s19" fill="url(#p67)"/>
<use href="#s20" fill="url(#p66)" opacity="1"/>
<use href="#s20" fill="url(#p67)"/>
<use href="#s21" fill="url(#p62)" opacity="0.9"/>
<use href="#s21" fill="url(#p63)"/>
<use href="#s22" fill="url(#p68)" opacity="0.9"/>
<use href="#s22" fill="url(#p69)"/>
<use href="#s24" fill="none" stroke="url(#p68)" stroke-width="3.75" stroke-linecap="round" opacity="0.9"/>
<use href="#s24" fill="none" stroke="url(#p69)" stroke-width="3.75" stroke-linecap="round"/>
<use href="#s29" fill="url(#p64)" opacity="0.7"/>
<use href="#s29" fill="url(#p65)"/>
<use href="#s32" fill="url(#p62)" opacity="1"/>
<use href="#s32" fill="url(#p63)"/>
<use href="#s38" fill="url(#p64)" opacity="0.8"/>
<use href="#s38" fill="url(#p65)"/>
</g>
<line x1="396.8" y1="739.5" x2="396.8" y2="1013.6" stroke="#111" stroke-width="0.9"/>
<line x1="396.3" y1="1013.1" x2="702" y2="1013.1" stroke="#111" stroke-width="0.9"/>
<line x1="392.6" y1="785.6" x2="396.8" y2="785.6" stroke="#111" stroke-width="0.9"/>
<text x="390.9" y="788.6" font-size="8.2" text-anchor="end" font-weight="bold" fill="#222">5</text>
<line x1="392.6" y1="842.2" x2="396.8" y2="842.2" stroke="#111" stroke-width="0.9"/>
<text x="390.9" y="845.2" font-size="8.2" text-anchor="end" font-weight="bold" fill="#222">0</text>
<line x1="392.6" y1="898.9" x2="396.8" y2="898.9" stroke="#111" stroke-width="0.9"/>
<text x="390.9" y="901.9" font-size="8.2" text-anchor="end" font-weight="bold" fill="#222">−5</text>
<line x1="392.6" y1="955.5" x2="396.8" y2="955.5" stroke="#111" stroke-width="0.9"/>
<text x="390.9" y="958.5" font-size="8.2" text-anchor="end" font-weight="bold" fill="#222">−10</text>
<line x1="392.6" y1="1012.2" x2="396.8" y2="1012.2" stroke="#111" stroke-width="0.9"/>
<text x="390.9" y="1015.2" font-size="8.2" text-anchor="end" font-weight="bold" fill="#222">−15</text>
<line x1="397.5" y1="1013.1" x2="397.5" y2="1017.1" stroke="#111" stroke-width="0.9"/>
<text x="397.5" y="1025.5" font-size="8.2" text-anchor="middle" font-weight="bold" fill="#222">−10</text>
<line x1="460.5" y1="1013.1" x2="460.5" y2="1017.1" stroke="#111" stroke-width="0.9"/>
<text x="460.5" y="1025.5" font-size="8.2" text-anchor="middle" font-weight="bold" fill="#222">−5</text>
<line x1="523.5" y1="1013.1" x2="523.5" y2="1017.1" stroke="#111" stroke-width="0.9"/>
<text x="523.5" y="1025.5" font-size="8.2" text-anchor="middle" font-weight="bold" fill="#222">0</text>
<line x1="586.5" y1="1013.1" x2="586.5" y2="1017.1" stroke="#111" stroke-width="0.9"/>
<text x="586.5" y="1025.5" font-size="8.2" text-anchor="middle" font-weight="bold" fill="#222">5</text>
<line x1="649.5" y1="1013.1" x2="649.5" y2="1017.1" stroke="#111" stroke-width="0.9"/>
<text x="649.5" y="1025.5" font-size="8.2" text-anchor="middle" font-weight="bold" fill="#222">10</text>
<text x="548.5" y="1035.9" font-size="10.2" text-anchor="middle" font-weight="bold" fill="#222">UMAP_1</text>
<text x="372.8" y="876.2" font-size="10.2" text-anchor="middle" font-weight="bold" transform="rotate(-90 372.8 876.2)" fill="#222">UMAP_2</text>
<text x="548.5" y="730.5" font-size="20" text-anchor="middle" font-weight="bold">CD3E</text>
<rect x="707.8" y="858.6" width="8.4" height="38.6" fill="url(#rg)"/>
<text x="719.6" y="899.1" font-size="4.8" fill="#333">0</text>
<text x="719.6" y="889.3" font-size="4.8" fill="#333">1</text>
<text x="719.6" y="879.4" font-size="4.8" fill="#333">2</text>
<text x="719.6" y="869.6" font-size="4.8" fill="#333">3</text>
</g>
<g id="c_ITGAM">
<g filter="url(#roughc)">
<path d="M885.6 812.1C891.6 808 904.6 809.6 910.2 812.1C915.8 814.5 918.4 821.1 919.1 826.8C919.9 832.5 917.6 840.7 914.7 846.4C911.7 852.1 906.1 860.2 901.3 861.1C896.4 861.9 890.1 855.3 885.6 851.3C881.2 847.2 874.5 843.1 874.5 836.6C874.5 830 879.7 816.2 885.6 812.1Z" fill="#e6edf6"/>
<path d="M856.6 836.6C861.4 832.5 880.4 831.7 885.6 836.6C890.8 841.5 890.5 859.4 887.9 866C885.3 872.5 875.2 876.6 870 875.8C864.8 874.9 858.8 867.6 856.6 861.1C854.4 854.5 851.8 840.7 856.6 836.6Z" fill="#e6edf6"/>
<path d="M805.3 846.4C809 835.8 825.7 835.8 829.8 846.4C833.9 857 833.5 899.4 829.8 910C826.1 920.7 811.6 920.7 807.5 910C803.4 899.4 801.5 857 805.3 846.4Z" fill="#e6edf6"/>
<g transform="translate(887.2 842.2) scale(1.26 1.133)">
<use href="#s0" fill="#d06768"/>
<use href="#s1" fill="#d48c90"/>
<use href="#s2" fill="#d59599"/>
<use href="#s3" fill="#d7a8ad"/>
<use href="#s4" fill="#cf6464"/>
<use href="#s5" fill="#d59599"/>
<use href="#s6" fill="#d8abb1"/>
<use href="#s7" fill="#d8b1b7"/>
<use href="#s8" fill="#d69ea3"/>
<use href="#s9" fill="#d27a7c"/>
<use href="#s10" fill="#d27a7c"/>
<use href="#s11" fill="#d27a7c"/>
<use href="#s12" fill="#dac0c7"/>
<use href="#s13" fill="#dac0c7"/>
<use href="#s14" fill="#d27a7c"/>
<use href="#s15" fill="#d8b1b7"/>
<use href="#s16" fill="#dfe8f3"/>
<use href="#s17" fill="#dedfe9"/>
<use href="#s18" fill="#dfe8f3"/>
<use href="#s19" fill="#dfe8f3"/>
<use href="#s20" fill="#dfe8f3"/>
<use href="#s21" fill="#dfe8f3"/>
<use href="#s22" fill="#d48c90"/>
<use href="#s23" fill="none" stroke="#dfe8f3" stroke-width="1.59" stroke-linecap="round"/>
<use href="#s24" fill="none" stroke="#d8b1b7" stroke-width="3.75" stroke-linecap="round"/>
<use href="#s25" fill="#dfe8f3"/>
<use href="#s26" fill="#d27a7c"/>
<use href="#s27" fill="none" stroke="#dfe8f3" stroke-width="1.15" stroke-linecap="round"/>
<use href="#s28" fill="#d69ea3"/>
<use href="#s29" fill="#dfe8f3"/>
<use href="#s30" fill="#d06768"/>
<use href="#s31" fill="none" stroke="#d69ea3" stroke-width="3.32" stroke-linecap="round"/>
<use href="#s32" fill="#ddd6df"/>
<use href="#s33" fill="#ddd6df"/>
<use href="#s34" fill="#ddd9e3"/>
<use href="#s35" fill="#d69ea3"/>
<use href="#s36" fill="#dfe8f3"/>
<use href="#s37" fill="#dfe8f3"/>
<use href="#s38" fill="#dfe8f3"/>
<use href="#s39" fill="#dfe8f3"/>
</g>
</g>
<g transform="translate(887.2 842.2) scale(1.26 1.133)">
<use href="#s0" fill="url(#p70)" opacity="1"/>
<use href="#s0" fill="url(#p71)"/>
<use href="#s1" fill="url(#p62)" opacity="0.9"/>
<use href="#s1" fill="url(#p63)"/>
<use href="#s3" fill="url(#p68)" opacity="0.8"/>
<use href="#s3" fill="url(#p69)"/>
<use href="#s4" fill="url(#p70)" opacity="1"/>
<use href="#s4" fill="url(#p71)"/>
<use href="#s5" fill="url(#p62)" opacity="0.9"/>
<use href="#s5" fill="url(#p63)"/>
<use href="#s6" fill="url(#p68)" opacity="0.7"/>
<use href="#s6" fill="url(#p69)"/>
<use href="#s7" fill="url(#p68)" opacity="0.7"/>
<use href="#s7" fill="url(#p69)"/>
<use href="#s8" fill="url(#p64)" opacity="0.8"/>
<use href="#s8" fill="url(#p65)"/>
<use href="#s9" fill="url(#p62)" opacity="1"/>
<use href="#s9" fill="url(#p63)"/>
<use href="#s10" fill="url(#p62)" opacity="1"/>
<use href="#s10" fill="url(#p63)"/>
<use href="#s11" fill="url(#p68)" opacity="1"/>
<use href="#s11" fill="url(#p69)"/>
<use href="#s12" fill="url(#p72)" opacity="0.6"/>
<use href="#s12" fill="url(#p73)"/>
<use href="#s13" fill="url(#p72)" opacity="0.6"/>
<use href="#s13" fill="url(#p73)"/>
<use href="#s14" fill="url(#p62)" opacity="1"/>
<use href="#s14" fill="url(#p63)"/>
<use href="#s15" fill="url(#p64)" opacity="0.7"/>
<use href="#s15" fill="url(#p65)"/>
<use href="#s17" fill="url(#p74)" opacity="0.5"/>
<use href="#s17" fill="url(#p75)"/>
<use href="#s22" fill="url(#p68)" opacity="0.9"/>
<use href="#s22" fill="url(#p69)"/>
<use href="#s24" fill="none" stroke="url(#p64)" stroke-width="3.75" stroke-linecap="round" opacity="0.7"/>
<use href="#s24" fill="none" stroke="url(#p65)" stroke-width="3.75" stroke-linecap="round"/>
<use href="#s26" fill="url(#p62)" opacity="1"/>
<use href="#s26" fill="url(#p63)"/>
<use href="#s28" fill="url(#p64)" opacity="0.8"/>
<use href="#s28" fill="url(#p65)"/>
<use href="#s30" fill="url(#p70)" opacity="1"/>
<use href="#s30" fill="url(#p71)"/>
<use href="#s31" fill="none" stroke="url(#p64)" stroke-width="3.32" stroke-linecap="round" opacity="0.8"/>
<use href="#s31" fill="none" stroke="url(#p65)" stroke-width="3.32" stroke-linecap="round"/>
<use href="#s32" fill="url(#p74)" opacity="0.5"/>
<use href="#s32" fill="url(#p75)"/>
<use href="#s33" fill="url(#p76)" opacity="0.5"/>
<use href="#s33" fill="url(#p77)"/>
<use href="#s34" fill="url(#p74)" opacity="0.5"/>
<use href="#s34" fill="url(#p75)"/>
<use href="#s35" fill="url(#p64)" opacity="0.8"/>
<use href="#s35" fill="url(#p65)"/>
</g>
<line x1="760.5" y1="739.5" x2="760.5" y2="1013.6" stroke="#111" stroke-width="0.9"/>
<line x1="760" y1="1013.1" x2="1065.7" y2="1013.1" stroke="#111" stroke-width="0.9"/>
<line x1="756.3" y1="785.6" x2="760.5" y2="785.6" stroke="#111" stroke-width="0.9"/>
<text x="754.6" y="788.6" font-size="8.2" text-anchor="end" font-weight="bold" fill="#222">5</text>
<line x1="756.3" y1="842.2" x2="760.5" y2="842.2" stroke="#111" stroke-width="0.9"/>
<text x="754.6" y="845.2" font-size="8.2" text-anchor="end" font-weight="bold" fill="#222">0</text>
<line x1="756.3" y1="898.9" x2="760.5" y2="898.9" stroke="#111" stroke-width="0.9"/>
<text x="754.6" y="901.9" font-size="8.2" text-anchor="end" font-weight="bold" fill="#222">−5</text>
<line x1="756.3" y1="955.5" x2="760.5" y2="955.5" stroke="#111" stroke-width="0.9"/>
<text x="754.6" y="958.5" font-size="8.2" text-anchor="end" font-weight="bold" fill="#222">−10</text>
<line x1="756.3" y1="1012.2" x2="760.5" y2="1012.2" stroke="#111" stroke-width="0.9"/>
<text x="754.6" y="1015.2" font-size="8.2" text-anchor="end" font-weight="bold" fill="#222">−15</text>
<line x1="761.2" y1="1013.1" x2="761.2" y2="1017.1" stroke="#111" stroke-width="0.9"/>
<text x="761.2" y="1025.5" font-size="8.2" text-anchor="middle" font-weight="bold" fill="#222">−10</text>
<line x1="824.2" y1="1013.1" x2="824.2" y2="1017.1" stroke="#111" stroke-width="0.9"/>
<text x="824.2" y="1025.5" font-size="8.2" text-anchor="middle" font-weight="bold" fill="#222">−5</text>
<line x1="887.2" y1="1013.1" x2="887.2" y2="1017.1" stroke="#111" stroke-width="0.9"/>
<text x="887.2" y="1025.5" font-size="8.2" text-anchor="middle" font-weight="bold" fill="#222">0</text>
<line x1="950.2" y1="1013.1" x2="950.2" y2="1017.1" stroke="#111" stroke-width="0.9"/>
<text x="950.2" y="1025.5" font-size="8.2" text-anchor="middle" font-weight="bold" fill="#222">5</text>
<line x1="1013.2" y1="1013.1" x2="1013.2" y2="1017.1" stroke="#111" stroke-width="0.9"/>
<text x="1013.2" y="1025.5" font-size="8.2" text-anchor="middle" font-weight="bold" fill="#222">10</text>
<text x="912.2" y="1035.9" font-size="10.2" text-anchor="middle" font-weight="bold" fill="#222">UMAP_1</text>
<text x="736.5" y="876.2" font-size="10.2" text-anchor="middle" font-weight="bold" transform="rotate(-90 736.5 876.2)" fill="#222">UMAP_2</text>
<text x="912.2" y="730.5" font-size="20" text-anchor="middle" font-weight="bold">ITGAM</text>
<rect x="1071.5" y="858.6" width="8.4" height="38.6" fill="url(#rg)"/>
<text x="1083.3" y="899.1" font-size="4.8" fill="#333">0</text>
<text x="1083.3" y="889.4" font-size="4.8" fill="#333">1</text>
<text x="1083.3" y="879.7" font-size="4.8" fill="#333">2</text>
<text x="1083.3" y="870" font-size="4.8" fill="#333">3</text>
<text x="1083.3" y="860.3" font-size="4.8" fill="#333">4</text>
</g>
<g id="c_ITGAX">
<g filter="url(#roughc)">
<path d="M157.2 1140.1C163.2 1136 176.2 1137.6 181.8 1140.1C187.4 1142.5 190 1149.1 190.7 1154.8C191.5 1160.5 189.2 1168.7 186.3 1174.4C183.3 1180.1 177.7 1188.2 172.9 1189.1C168 1189.9 161.7 1183.3 157.2 1179.3C152.8 1175.2 146.1 1171.1 146.1 1164.6C146.1 1158 151.3 1144.2 157.2 1140.1Z" fill="#e6edf6"/>
<path d="M128.2 1164.6C133 1160.5 152 1159.7 157.2 1164.6C162.4 1169.5 162.1 1187.4 159.5 1194C156.9 1200.5 146.8 1204.6 141.6 1203.8C136.4 1202.9 130.4 1195.6 128.2 1189.1C126 1182.5 123.4 1168.7 128.2 1164.6Z" fill="#e6edf6"/>
<path d="M76.9 1174.4C80.6 1163.8 97.3 1163.8 101.4 1174.4C105.5 1185 105.1 1227.4 101.4 1238C97.7 1248.7 83.2 1248.7 79.1 1238C75 1227.4 73.1 1185 76.9 1174.4Z" fill="#e6edf6"/>
<g transform="translate(158.8 1170.2) scale(1.26 1.133)">
<use href="#s0" fill="#dfe8f3"/>
<use href="#s1" fill="#ddd7e1"/>
<use href="#s2" fill="#ddd4dd"/>
<use href="#s3" fill="#dedde7"/>
<use href="#s4" fill="#dfe8f3"/>
<use href="#s5" fill="#ddd4dd"/>
<use href="#s6" fill="#dcd0d9"/>
<use href="#s7" fill="#dcd0d9"/>
<use href="#s8" fill="#dfe8f3"/>
<use href="#s9" fill="#dfe8f3"/>
<use href="#s10" fill="#dfe8f3"/>
<use href="#s11" fill="#dcd2db"/>
<use href="#s12" fill="#ddd6df"/>
<use href="#s13" fill="#d7a6ab"/>
<use href="#s14" fill="#dcd2db"/>
<use href="#s15" fill="#dfe8f3"/>
<use href="#s16" fill="#dfe8f3"/>
<use href="#s17" fill="#dee2ed"/>
<use href="#s18" fill="#dfe8f3"/>
<use href="#s19" fill="#dfe8f3"/>
<use href="#s20" fill="#dfe8f3"/>
<use href="#s21" fill="#dfe8f3"/>
<use href="#s22" fill="#dfe8f3"/>
<use href="#s23" fill="none" stroke="#dfe8f3" stroke-width="1.59" stroke-linecap="round"/>
<use href="#s24" fill="none" stroke="#dfe8f3" stroke-width="3.75" stroke-linecap="round"/>
<use href="#s25" fill="#dfe8f3"/>
<use href="#s26" fill="#dfe8f3"/>
<use href="#s27" fill="none" stroke="#dfe8f3" stroke-width="1.15" stroke-linecap="round"/>
<use href="#s28" fill="#d8b1b7"/>
<use href="#s29" fill="#dfe8f3"/>
<use href="#s30" fill="#dfe8f3"/>
<use href="#s31" fill="none" stroke="#dfe8f3" stroke-width="3.32" stroke-linecap="round"/>
<use href="#s32" fill="#dfe8f3"/>
<use href="#s33" fill="#dfe8f3"/>
<use href="#s34" fill="#dfe8f3"/>
<use href="#s35" fill="#dfe8f3"/>
<use href="#s36" fill="#dfe8f3"/>
<use href="#s37" fill="#dfe8f3"/>
<use href="#s38" fill="#dfe8f3"/>
<use href="#s39" fill="#dfe8f3"/>
</g>
</g>
<g transform="translate(158.8 1170.2) scale(1.26 1.133)">
<use href="#s1" fill="url(#p78)" opacity="0.5"/>
<use href="#s1" fill="url(#p79)"/>
<use href="#s3" fill="url(#p80)" opacity="0.5"/>
<use href="#s3" fill="url(#p81)"/>
<use href="#s5" fill="url(#p76)" opacity="0.5"/>
<use href="#s5" fill="url(#p77)"/>
<use href="#s6" fill="url(#p76)" opacity="0.5"/>
<use href="#s6" fill="url(#p77)"/>
<use href="#s7" fill="url(#p76)" opacity="0.5"/>
<use href="#s7" fill="url(#p77)"/>
<use href="#s11" fill="url(#p74)" opacity="0.5"/>
<use href="#s11" fill="url(#p75)"/>
<use href="#s12" fill="url(#p78)" opacity="0.5"/>
<use href="#s12" fill="url(#p79)"/>
<use href="#s13" fill="url(#p64)" opacity="0.8"/>
<use href="#s13" fill="url(#p65)"/>
<use href="#s14" fill="url(#p76)" opacity="0.5"/>
<use href="#s14" fill="url(#p77)"/>
<use href="#s17" fill="url(#p82)" opacity="0.4"/>
<use href="#s17" fill="url(#p83)"/>
<use href="#s28" fill="url(#p58)" opacity="0.7"/>
<use href="#s28" fill="url(#p59)"/>
</g>
<line x1="32.1" y1="1067.5" x2="32.1" y2="1341.6" stroke="#111" stroke-width="0.9"/>
<line x1="31.6" y1="1341.1" x2="337.3" y2="1341.1" stroke="#111" stroke-width="0.9"/>
<line x1="27.9" y1="1113.5" x2="32.1" y2="1113.5" stroke="#111" stroke-width="0.9"/>
<text x="26.2" y="1116.5" font-size="8.2" text-anchor="end" font-weight="bold" fill="#222">5</text>
<line x1="27.9" y1="1170.2" x2="32.1" y2="1170.2" stroke="#111" stroke-width="0.9"/>
<text x="26.2" y="1173.2" font-size="8.2" text-anchor="end" font-weight="bold" fill="#222">0</text>
<line x1="27.9" y1="1226.9" x2="32.1" y2="1226.9" stroke="#111" stroke-width="0.9"/>
<text x="26.2" y="1229.9" font-size="8.2" text-anchor="end" font-weight="bold" fill="#222">−5</text>
<line x1="27.9" y1="1283.5" x2="32.1" y2="1283.5" stroke="#111" stroke-width="0.9"/>
<text x="26.2" y="1286.5" font-size="8.2" text-anchor="end" font-weight="bold" fill="#222">−10</text>
<line x1="27.9" y1="1340.2" x2="32.1" y2="1340.2" stroke="#111" stroke-width="0.9"/>
<text x="26.2" y="1343.2" font-size="8.2" text-anchor="end" font-weight="bold" fill="#222">−15</text>
<line x1="32.8" y1="1341.1" x2="32.8" y2="1345.1" stroke="#111" stroke-width="0.9"/>
<text x="32.8" y="1353.5" font-size="8.2" text-anchor="middle" font-weight="bold" fill="#222">−10</text>
<line x1="95.8" y1="1341.1" x2="95.8" y2="1345.1" stroke="#111" stroke-width="0.9"/>
<text x="95.8" y="1353.5" font-size="8.2" text-anchor="middle" font-weight="bold" fill="#222">−5</text>
<line x1="158.8" y1="1341.1" x2="158.8" y2="1345.1" stroke="#111" stroke-width="0.9"/>
<text x="158.8" y="1353.5" font-size="8.2" text-anchor="middle" font-weight="bold" fill="#222">0</text>
<line x1="221.8" y1="1341.1" x2="221.8" y2="1345.1" stroke="#111" stroke-width="0.9"/>
<text x="221.8" y="1353.5" font-size="8.2" text-anchor="middle" font-weight="bold" fill="#222">5</text>
<line x1="284.8" y1="1341.1" x2="284.8" y2="1345.1" stroke="#111" stroke-width="0.9"/>
<text x="284.8" y="1353.5" font-size="8.2" text-anchor="middle" font-weight="bold" fill="#222">10</text>
<text x="183.8" y="1363.9" font-size="10.2" text-anchor="middle" font-weight="bold" fill="#222">UMAP_1</text>
<text x="8.1" y="1204.2" font-size="10.2" text-anchor="middle" font-weight="bold" transform="rotate(-90 8.1 1204.2)" fill="#222">UMAP_2</text>
<text x="183.8" y="1058.5" font-size="20" text-anchor="middle" font-weight="bold">ITGAX</text>
<rect x="343.1" y="1186.6" width="8.4" height="38.6" fill="url(#rg)"/>
<text x="354.9" y="1227.1" font-size="4.8" fill="#333">0</text>
<text x="354.9" y="1217.3" font-size="4.8" fill="#333">1</text>
<text x="354.9" y="1207.4" font-size="4.8" fill="#333">2</text>
<text x="354.9" y="1197.6" font-size="4.8" fill="#333">3</text>
</g>
<g id="c_CD19">
<g filter="url(#roughc)">
<path d="M521.9 1140.1C527.9 1136 540.9 1137.6 546.5 1140.1C552.1 1142.5 554.7 1149.1 555.4 1154.8C556.2 1160.5 553.9 1168.7 551 1174.4C548 1180.1 542.4 1188.2 537.6 1189.1C532.7 1189.9 526.4 1183.3 521.9 1179.3C517.5 1175.2 510.8 1171.1 510.8 1164.6C510.8 1158 516 1144.2 521.9 1140.1Z" fill="#e6edf6"/>
<path d="M492.9 1164.6C497.7 1160.5 516.7 1159.7 521.9 1164.6C527.1 1169.5 526.8 1187.4 524.2 1194C521.6 1200.5 511.5 1204.6 506.3 1203.8C501.1 1202.9 495.1 1195.6 492.9 1189.1C490.7 1182.5 488.1 1168.7 492.9 1164.6Z" fill="#e6edf6"/>
<path d="M441.6 1174.4C445.3 1163.8 462 1163.8 466.1 1174.4C470.2 1185 469.8 1227.4 466.1 1238C462.4 1248.7 447.9 1248.7 443.8 1238C439.7 1227.4 437.8 1185 441.6 1174.4Z" fill="#e6edf6"/>
<g transform="translate(523.5 1170.2) scale(1.26 1.133)">
<use href="#s0" fill="#dfe8f3"/>
<use href="#s1" fill="#dfe8f3"/>
<use href="#s2" fill="#dfe8f3"/>
<use href="#s3" fill="#dfe8f3"/>
<use href="#s4" fill="#dfe8f3"/>
<use href="#s5" fill="#dfe8f3"/>
<use href="#s6" fill="#dfe8f3"/>
<use href="#s7" fill="#dfe8f3"/>
<use href="#s8" fill="#dfe8f3"/>
<use href="#s9" fill="#dfe8f3"/>
<use href="#s10" fill="#dfe8f3"/>
<use href="#s11" fill="#dfe8f3"/>
<use href="#s12" fill="#dfe8f3"/>
<use href="#s13" fill="#dfe8f3"/>
<use href="#s14" fill="#dfe8f3"/>
<use href="#s15" fill="#dfe8f3"/>
<use href="#s16" fill="#dfe8f3"/>
<use href="#s17" fill="#dfe8f3"/>
<use href="#s18" fill="#dfe8f3"/>
<use href="#s19" fill="#dfe8f3"/>
<use href="#s20" fill="#dfe8f3"/>
<use href="#s21" fill="#dfe8f3"/>
<use href="#s22" fill="#dfe8f3"/>
<use href="#s23" fill="none" stroke="#dfe8f3" stroke-width="1.59" stroke-linecap="round"/>
<use href="#s24" fill="none" stroke="#dfe8f3" stroke-width="3.75" stroke-linecap="round"/>
<use href="#s25" fill="#dfe8f3"/>
<use href="#s26" fill="#d9b6bd"/>
<use href="#s27" fill="none" stroke="#dfe8f3" stroke-width="1.15" stroke-linecap="round"/>
<use href="#s28" fill="#dfe8f3"/>
<use href="#s29" fill="#dac0c7"/>
<use href="#s30" fill="#d9b6bd"/>
<use href="#s31" fill="none" stroke="#d8abb1" stroke-width="3.32" stroke-linecap="round"/>
<use href="#s32" fill="#d8abb1"/>
<use href="#s33" fill="#d7a6ab"/>
<use href="#s34" fill="#d8a9af"/>
<use href="#s35" fill="#dfe8f3"/>
<use href="#s36" fill="#dfe8f3"/>
<use href="#s37" fill="#dfe8f3"/>
<use href="#s38" fill="#dfe8f3"/>
<use href="#s39" fill="#dfe8f3"/>
</g>
</g>
<g transform="translate(523.5 1170.2) scale(1.26 1.133)">
<use href="#s26" fill="url(#p68)" opacity="0.7"/>
<use href="#s26" fill="url(#p69)"/>
<use href="#s29" fill="url(#p64)" opacity="0.6"/>
<use href="#s29" fill="url(#p65)"/>
<use href="#s30" fill="url(#p68)" opacity="0.7"/>
<use href="#s30" fill="url(#p69)"/>
<use href="#s31" fill="none" stroke="url(#p68)" stroke-width="3.32" stroke-linecap="round" opacity="0.7"/>
<use href="#s31" fill="none" stroke="url(#p69)" stroke-width="3.32" stroke-linecap="round"/>
<use href="#s32" fill="url(#p68)" opacity="0.7"/>
<use href="#s32" fill="url(#p69)"/>
<use href="#s33" fill="url(#p66)" opacity="0.8"/>
<use href="#s33" fill="url(#p67)"/>
<use href="#s34" fill="url(#p66)" opacity="0.7"/>
<use href="#s34" fill="url(#p67)"/>
</g>
<line x1="396.8" y1="1067.5" x2="396.8" y2="1341.6" stroke="#111" stroke-width="0.9"/>
<line x1="396.3" y1="1341.1" x2="702" y2="1341.1" stroke="#111" stroke-width="0.9"/>
<line x1="392.6" y1="1113.5" x2="396.8" y2="1113.5" stroke="#111" stroke-width="0.9"/>
<text x="390.9" y="1116.5" font-size="8.2" text-anchor="end" font-weight="bold" fill="#222">5</text>
<line x1="392.6" y1="1170.2" x2="396.8" y2="1170.2" stroke="#111" stroke-width="0.9"/>
<text x="390.9" y="1173.2" font-size="8.2" text-anchor="end" font-weight="bold" fill="#222">0</text>
<line x1="392.6" y1="1226.9" x2="396.8" y2="1226.9" stroke="#111" stroke-width="0.9"/>
<text x="390.9" y="1229.9" font-size="8.2" text-anchor="end" font-weight="bold" fill="#222">−5</text>
<line x1="392.6" y1="1283.5" x2="396.8" y2="1283.5" stroke="#111" stroke-width="0.9"/>
<text x="390.9" y="1286.5" font-size="8.2" text-anchor="end" font-weight="bold" fill="#222">−10</text>
<line x1="392.6" y1="1340.2" x2="396.8" y2="1340.2" stroke="#111" stroke-width="0.9"/>
<text x="390.9" y="1343.2" font-size="8.2" text-anchor="end" font-weight="bold" fill="#222">−15</text>
<line x1="397.5" y1="1341.1" x2="397.5" y2="1345.1" stroke="#111" stroke-width="0.9"/>
<text x="397.5" y="1353.5" font-size="8.2" text-anchor="middle" font-weight="bold" fill="#222">−10</text>
<line x1="460.5" y1="1341.1" x2="460.5" y2="1345.1" stroke="#111" stroke-width="0.9"/>
<text x="460.5" y="1353.5" font-size="8.2" text-anchor="middle" font-weight="bold" fill="#222">−5</text>
<line x1="523.5" y1="1341.1" x2="523.5" y2="1345.1" stroke="#111" stroke-width="0.9"/>
<text x="523.5" y="1353.5" font-size="8.2" text-anchor="middle" font-weight="bold" fill="#222">0</text>
<line x1="586.5" y1="1341.1" x2="586.5" y2="1345.1" stroke="#111" stroke-width="0.9"/>
<text x="586.5" y="1353.5" font-size="8.2" text-anchor="middle" font-weight="bold" fill="#222">5</text>
<line x1="649.5" y1="1341.1" x2="649.5" y2="1345.1" stroke="#111" stroke-width="0.9"/>
<text x="649.5" y="1353.5" font-size="8.2" text-anchor="middle" font-weight="bold" fill="#222">10</text>
<text x="548.5" y="1363.9" font-size="10.2" text-anchor="middle" font-weight="bold" fill="#222">UMAP_1</text>
<text x="372.8" y="1204.2" font-size="10.2" text-anchor="middle" font-weight="bold" transform="rotate(-90 372.8 1204.2)" fill="#222">UMAP_2</text>
<text x="548.5" y="1058.5" font-size="20" text-anchor="middle" font-weight="bold">CD19</text>
<rect x="707.8" y="1186.6" width="8.4" height="38.6" fill="url(#rg)"/>
<text x="719.6" y="1227.1" font-size="4.8" fill="#333">0</text>
<text x="719.6" y="1217.3" font-size="4.8" fill="#333">1</text>
<text x="719.6" y="1207.4" font-size="4.8" fill="#333">2</text>
<text x="719.6" y="1197.6" font-size="4.8" fill="#333">3</text>
</g>
<g id="c_XCR1">
<g filter="url(#roughc)">
<path d="M885.6 1140.1C891.6 1136 904.6 1137.6 910.2 1140.1C915.8 1142.5 918.4 1149.1 919.1 1154.8C919.9 1160.5 917.6 1168.7 914.7 1174.4C911.7 1180.1 906.1 1188.2 901.3 1189.1C896.4 1189.9 890.1 1183.3 885.6 1179.3C881.2 1175.2 874.5 1171.1 874.5 1164.6C874.5 1158 879.7 1144.2 885.6 1140.1Z" fill="#e6edf6"/>
<path d="M856.6 1164.6C861.4 1160.5 880.4 1159.7 885.6 1164.6C890.8 1169.5 890.5 1187.4 887.9 1194C885.3 1200.5 875.2 1204.6 870 1203.8C864.8 1202.9 858.8 1195.6 856.6 1189.1C854.4 1182.5 851.8 1168.7 856.6 1164.6Z" fill="#e6edf6"/>
<path d="M805.3 1174.4C809 1163.8 825.7 1163.8 829.8 1174.4C833.9 1185 833.5 1227.4 829.8 1238C826.1 1248.7 811.6 1248.7 807.5 1238C803.4 1227.4 801.5 1185 805.3 1174.4Z" fill="#e6edf6"/>
<g transform="translate(887.2 1170.2) scale(1.26 1.133)">
<use href="#s0" fill="#dfe8f3"/>
<use href="#s1" fill="#dfe8f3"/>
<use href="#s2" fill="#dfe8f3"/>
<use href="#s3" fill="#dfe8f3"/>
<use href="#s4" fill="#dfe8f3"/>
<use href="#s5" fill="#dfe8f3"/>
<use href="#s6" fill="#dfe8f3"/>
<use href="#s7" fill="#dfe8f3"/>
<use href="#s8" fill="#dfe8f3"/>
<use href="#s9" fill="#dfe8f3"/>
<use href="#s10" fill="#dfe8f3"/>
<use href="#s11" fill="#dfe8f3"/>
<use href="#s12" fill="#dfe8f3"/>
<use href="#s13" fill="#dfe8f3"/>
<use href="#s14" fill="#dfe8f3"/>
<use href="#s15" fill="#dfe8f3"/>
<use href="#s16" fill="#dfe8f3"/>
<use href="#s17" fill="#dfe8f3"/>
<use href="#s18" fill="#dfe8f3"/>
<use href="#s19" fill="#dfe8f3"/>
<use href="#s20" fill="#dfe8f3"/>
<use href="#s21" fill="#dfe8f3"/>
<use href="#s22" fill="#dfe8f3"/>
<use href="#s23" fill="none" stroke="#dfe8f3" stroke-width="1.59" stroke-linecap="round"/>
<use href="#s24" fill="none" stroke="#dfe8f3" stroke-width="3.75" stroke-linecap="round"/>
<use href="#s25" fill="#dfe8f3"/>
<use href="#s26" fill="#dfe8f3"/>
<use href="#s27" fill="none" stroke="#d48c90" stroke-width="1.15" stroke-linecap="round"/>
<use href="#s28" fill="#cc4c4a"/>
<use href="#s29" fill="#dfe8f3"/>
<use href="#s30" fill="#dfe8f3"/>
<use href="#s31" fill="none" stroke="#dfe8f3" stroke-width="3.32" stroke-linecap="round"/>
<use href="#s32" fill="#dfe8f3"/>
<use href="#s33" fill="#dfe8f3"/>
<use href="#s34" fill="#dfe8f3"/>
<use href="#s35" fill="#dfe8f3"/>
<use href="#s36" fill="#dfe8f3"/>
<use href="#s37" fill="#dfe8f3"/>
<use href="#s38" fill="#dfe8f3"/>
<use href="#s39" fill="#dfe8f3"/>
</g>
</g>
<g transform="translate(887.2 1170.2) scale(1.26 1.133)">
<use href="#s27" fill="none" stroke="url(#p64)" stroke-width="1.15" stroke-linecap="round" opacity="0.9"/>
<use href="#s27" fill="none" stroke="url(#p65)" stroke-width="1.15" stroke-linecap="round"/>
<use href="#s28" fill="url(#p62)" opacity="1"/>
<use href="#s28" fill="url(#p63)"/>
</g>
<line x1="760.5" y1="1067.5" x2="760.5" y2="1341.6" stroke="#111" stroke-width="0.9"/>
<line x1="760" y1="1341.1" x2="1065.7" y2="1341.1" stroke="#111" stroke-width="0.9"/>
<line x1="756.3" y1="1113.5" x2="760.5" y2="1113.5" stroke="#111" stroke-width="0.9"/>
<text x="754.6" y="1116.5" font-size="8.2" text-anchor="end" font-weight="bold" fill="#222">5</text>
<line x1="756.3" y1="1170.2" x2="760.5" y2="1170.2" stroke="#111" stroke-width="0.9"/>
<text x="754.6" y="1173.2" font-size="8.2" text-anchor="end" font-weight="bold" fill="#222">0</text>
<line x1="756.3" y1="1226.9" x2="760.5" y2="1226.9" stroke="#111" stroke-width="0.9"/>
<text x="754.6" y="1229.9" font-size="8.2" text-anchor="end" font-weight="bold" fill="#222">−5</text>
<line x1="756.3" y1="1283.5" x2="760.5" y2="1283.5" stroke="#111" stroke-width="0.9"/>
<text x="754.6" y="1286.5" font-size="8.2" text-anchor="end" font-weight="bold" fill="#222">−10</text>
<line x1="756.3" y1="1340.2" x2="760.5" y2="1340.2" stroke="#111" stroke-width="0.9"/>
<text x="754.6" y="1343.2" font-size="8.2" text-anchor="end" font-weight="bold" fill="#222">−15</text>
<line x1="761.2" y1="1341.1" x2="761.2" y2="1345.1" stroke="#111" stroke-width="0.9"/>
<text x="761.2" y="1353.5" font-size="8.2" text-anchor="middle" font-weight="bold" fill="#222">−10</text>
<line x1="824.2" y1="1341.1" x2="824.2" y2="1345.1" stroke="#111" stroke-width="0.9"/>
<text x="824.2" y="1353.5" font-size="8.2" text-anchor="middle" font-weight="bold" fill="#222">−5</text>
<line x1="887.2" y1="1341.1" x2="887.2" y2="1345.1" stroke="#111" stroke-width="0.9"/>
<text x="887.2" y="1353.5" font-size="8.2" text-anchor="middle" font-weight="bold" fill="#222">0</text>
<line x1="950.2" y1="1341.1" x2="950.2" y2="1345.1" stroke="#111" stroke-width="0.9"/>
<text x="950.2" y="1353.5" font-size="8.2" text-anchor="middle" font-weight="bold" fill="#222">5</text>
<line x1="1013.2" y1="1341.1" x2="1013.2" y2="1345.1" stroke="#111" stroke-width="0.9"/>
<text x="1013.2" y="1353.5" font-size="8.2" text-anchor="middle" font-weight="bold" fill="#222">10</text>
<text x="912.2" y="1363.9" font-size="10.2" text-anchor="middle" font-weight="bold" fill="#222">UMAP_1</text>
<text x="736.5" y="1204.2" font-size="10.2" text-anchor="middle" font-weight="bold" transform="rotate(-90 736.5 1204.2)" fill="#222">UMAP_2</text>
<text x="912.2" y="1058.5" font-size="20" text-anchor="middle" font-weight="bold">XCR1</text>
<rect x="1071.5" y="1186.6" width="8.4" height="38.6" fill="url(#rg)"/>
<text x="1083.3" y="1227.1" font-size="4.8" fill="#333">0</text>
<text x="1083.3" y="1217.3" font-size="4.8" fill="#333">1</text>
<text x="1083.3" y="1207.4" font-size="4.8" fill="#333">2</text>
<text x="1083.3" y="1197.6" font-size="4.8" fill="#333">3</text>
</g>
<text x="12.5" y="690" font-size="35.5">c</text>
<g id="pd">
<line x1="1217.8" y1="1274" x2="1217.8" y2="1312" stroke="#2e3192" stroke-width="2.4"/>
<line x1="1214.2" y1="1274" x2="1221.4" y2="1274" stroke="#2e3192" stroke-width="2.2"/>
<line x1="1214.2" y1="1312" x2="1221.4" y2="1312" stroke="#2e3192" stroke-width="2.2"/>
<line x1="1213.6" y1="1294" x2="1222" y2="1294" stroke="#2e3192" stroke-width="3.6"/>
<circle cx="1217.8" cy="1256.7" r="6.1" fill="#2e3192"/>
<circle cx="1217.8" cy="1274.7" r="6.1" fill="#2e3192"/>
<circle cx="1217.8" cy="1295.4" r="6.1" fill="#2e3192"/>
<circle cx="1218.3" cy="1300.3" r="6.1" fill="#2e3192"/>
<circle cx="1217.8" cy="1307.2" r="6.1" fill="#2e3192"/>
<circle cx="1218.8" cy="1310" r="6.1" fill="#2e3192"/>
<circle cx="1217.3" cy="1311.4" r="6.1" fill="#2e3192"/>
<line x1="1227.9" y1="892" x2="1227.9" y2="947" stroke="#ff2a0a" stroke-width="2.4"/>
<line x1="1224.3" y1="892" x2="1231.5" y2="892" stroke="#ff2a0a" stroke-width="2.2"/>
<line x1="1224.3" y1="947" x2="1231.5" y2="947" stroke="#ff2a0a" stroke-width="2.2"/>
<line x1="1223.7" y1="921.4" x2="1232.1" y2="921.4" stroke="#ff2a0a" stroke-width="3.6"/>
<circle cx="1227.9" cy="890.4" r="6.1" fill="#ff2a0a"/>
<circle cx="1227.9" cy="926.7" r="6.1" fill="#ff2a0a"/>
<circle cx="1227.9" cy="947" r="6.1" fill="#ff2a0a"/>
<line x1="1249.5" y1="1277" x2="1249.5" y2="1309" stroke="#2e3192" stroke-width="2.4"/>
<line x1="1245.9" y1="1277" x2="1253.1" y2="1277" stroke="#2e3192" stroke-width="2.2"/>
<line x1="1245.9" y1="1309" x2="1253.1" y2="1309" stroke="#2e3192" stroke-width="2.2"/>
<line x1="1245.3" y1="1294" x2="1253.7" y2="1294" stroke="#2e3192" stroke-width="3.6"/>
<circle cx="1249.5" cy="1260.1" r="6.1" fill="#2e3192"/>
<circle cx="1249.5" cy="1276.1" r="6.1" fill="#2e3192"/>
<circle cx="1249.5" cy="1295.4" r="6.1" fill="#2e3192"/>
<circle cx="1250.5" cy="1300.3" r="6.1" fill="#2e3192"/>
<circle cx="1249.5" cy="1305.1" r="6.1" fill="#2e3192"/>
<circle cx="1248.5" cy="1308.6" r="6.1" fill="#2e3192"/>
<circle cx="1250.5" cy="1309" r="6.1" fill="#2e3192"/>
<circle cx="1259.1" cy="1061" r="6.1" fill="#ff2a0a"/>
<circle cx="1256.1" cy="1070.5" r="6.1" fill="#ff2a0a"/>
<circle cx="1262.1" cy="1074.8" r="6.1" fill="#ff2a0a"/>
<line x1="1281.2" y1="909.3" x2="1281.2" y2="1175" stroke="#2e3192" stroke-width="2.4"/>
<line x1="1277.6" y1="909.3" x2="1284.8" y2="909.3" stroke="#2e3192" stroke-width="2.2"/>
<line x1="1277.6" y1="1175" x2="1284.8" y2="1175" stroke="#2e3192" stroke-width="2.2"/>
<line x1="1277" y1="1041.8" x2="1285.4" y2="1041.8" stroke="#2e3192" stroke-width="3.6"/>
<circle cx="1281.2" cy="878.5" r="6.1" fill="#2e3192"/>
<circle cx="1281.2" cy="937.3" r="6.1" fill="#2e3192"/>
<circle cx="1281.2" cy="974.1" r="6.1" fill="#2e3192"/>
<circle cx="1281.2" cy="1030.5" r="6.1" fill="#2e3192"/>
<circle cx="1281.2" cy="1049.7" r="6.1" fill="#2e3192"/>
<circle cx="1281.2" cy="1167.4" r="6.1" fill="#2e3192"/>
<circle cx="1281.2" cy="1258.8" r="6.1" fill="#2e3192"/>
<circle cx="1288.3" cy="1310" r="6.1" fill="#ff2a0a"/>
<circle cx="1294.3" cy="1308.5" r="6.1" fill="#ff2a0a"/>
<circle cx="1291.3" cy="1313" r="6.1" fill="#ff2a0a"/>
<line x1="1313" y1="1139" x2="1313" y2="1242" stroke="#2e3192" stroke-width="2.4"/>
<line x1="1309.4" y1="1139" x2="1316.6" y2="1139" stroke="#2e3192" stroke-width="2.2"/>
<line x1="1309.4" y1="1242" x2="1316.6" y2="1242" stroke="#2e3192" stroke-width="2.2"/>
<line x1="1308.8" y1="1195" x2="1317.2" y2="1195" stroke="#2e3192" stroke-width="3.6"/>
<circle cx="1313" cy="1108.9" r="6.1" fill="#2e3192"/>
<circle cx="1313" cy="1139" r="6.1" fill="#2e3192"/>
<circle cx="1313" cy="1190.2" r="6.1" fill="#2e3192"/>
<circle cx="1312.5" cy="1220.7" r="6.1" fill="#2e3192"/>
<circle cx="1310.5" cy="1232.5" r="6.1" fill="#2e3192"/>
<circle cx="1313.5" cy="1237.3" r="6.1" fill="#2e3192"/>
<circle cx="1315" cy="1242.1" r="6.1" fill="#2e3192"/>
<line x1="1323.1" y1="1152.8" x2="1323.1" y2="1212" stroke="#ff2a0a" stroke-width="2.4"/>
<line x1="1319.5" y1="1152.8" x2="1326.7" y2="1152.8" stroke="#ff2a0a" stroke-width="2.2"/>
<line x1="1319.5" y1="1212" x2="1326.7" y2="1212" stroke="#ff2a0a" stroke-width="2.2"/>
<line x1="1318.9" y1="1182.6" x2="1327.3" y2="1182.6" stroke="#ff2a0a" stroke-width="3.6"/>
<circle cx="1323.1" cy="1164" r="6.1" fill="#ff2a0a"/>
<circle cx="1323.1" cy="1167" r="6.1" fill="#ff2a0a"/>
<circle cx="1323.1" cy="1216.5" r="6.1" fill="#ff2a0a"/>
<line x1="1344.7" y1="963.6" x2="1344.7" y2="1127.8" stroke="#2e3192" stroke-width="2.4"/>
<line x1="1341.1" y1="963.6" x2="1348.3" y2="963.6" stroke="#2e3192" stroke-width="2.2"/>
<line x1="1341.1" y1="1127.8" x2="1348.3" y2="1127.8" stroke="#2e3192" stroke-width="2.2"/>
<line x1="1340.5" y1="1045.6" x2="1348.9" y2="1045.6" stroke="#2e3192" stroke-width="3.6"/>
<circle cx="1344.7" cy="922" r="6.1" fill="#2e3192"/>
<circle cx="1344.7" cy="944.4" r="6.1" fill="#2e3192"/>
<circle cx="1344.7" cy="1059.8" r="6.1" fill="#2e3192"/>
<circle cx="1341.2" cy="1067.3" r="6.1" fill="#2e3192"/>
<circle cx="1347.2" cy="1073.5" r="6.1" fill="#2e3192"/>
<circle cx="1344.7" cy="1115.1" r="6.1" fill="#2e3192"/>
<circle cx="1344.7" cy="1139" r="6.1" fill="#2e3192"/>
<circle cx="1352.8" cy="1306" r="6.1" fill="#ff2a0a"/>
<circle cx="1357.8" cy="1305" r="6.1" fill="#ff2a0a"/>
<circle cx="1355.8" cy="1310" r="6.1" fill="#ff2a0a"/>
<line x1="1376.4" y1="1209" x2="1376.4" y2="1268" stroke="#2e3192" stroke-width="2.4"/>
<line x1="1372.8" y1="1209" x2="1380" y2="1209" stroke="#2e3192" stroke-width="2.2"/>
<line x1="1372.8" y1="1268" x2="1380" y2="1268" stroke="#2e3192" stroke-width="2.2"/>
<line x1="1372.2" y1="1240" x2="1380.6" y2="1240" stroke="#2e3192" stroke-width="3.6"/>
<circle cx="1376.4" cy="1201.3" r="6.1" fill="#2e3192"/>
<circle cx="1376.4" cy="1208.9" r="6.1" fill="#2e3192"/>
<circle cx="1372.9" cy="1240.8" r="6.1" fill="#2e3192"/>
<circle cx="1378.4" cy="1244.9" r="6.1" fill="#2e3192"/>
<circle cx="1373.4" cy="1267.1" r="6.1" fill="#2e3192"/>
<circle cx="1379.9" cy="1269.8" r="6.1" fill="#2e3192"/>
<circle cx="1376.4" cy="1247" r="6.1" fill="#2e3192"/>
<line x1="1386.5" y1="1222" x2="1386.5" y2="1240" stroke="#ff2a0a" stroke-width="2.4"/>
<line x1="1382.9" y1="1222" x2="1390.1" y2="1222" stroke="#ff2a0a" stroke-width="2.2"/>
<line x1="1382.9" y1="1240" x2="1390.1" y2="1240" stroke="#ff2a0a" stroke-width="2.2"/>
<line x1="1382.3" y1="1232" x2="1390.7" y2="1232" stroke="#ff2a0a" stroke-width="3.6"/>
<circle cx="1386.5" cy="1221.4" r="6.1" fill="#ff2a0a"/>
<circle cx="1384.5" cy="1236.6" r="6.1" fill="#ff2a0a"/>
<circle cx="1389.5" cy="1238.7" r="6.1" fill="#ff2a0a"/>
<circle cx="1406.1" cy="1319.7" r="6.1" fill="#2e3192"/>
<circle cx="1410.1" cy="1319.7" r="6.1" fill="#2e3192"/>
<circle cx="1408.1" cy="1320" r="6.1" fill="#2e3192"/>
<line x1="1418.2" y1="1155.5" x2="1418.2" y2="1241.5" stroke="#ff2a0a" stroke-width="2.4"/>
<line x1="1414.6" y1="1155.5" x2="1421.8" y2="1155.5" stroke="#ff2a0a" stroke-width="2.2"/>
<line x1="1414.6" y1="1241.5" x2="1421.8" y2="1241.5" stroke="#ff2a0a" stroke-width="2.2"/>
<line x1="1414" y1="1198.5" x2="1422.4" y2="1198.5" stroke="#ff2a0a" stroke-width="3.6"/>
<circle cx="1418.2" cy="1148.7" r="6.1" fill="#ff2a0a"/>
<circle cx="1416.7" cy="1217.9" r="6.1" fill="#ff2a0a"/>
<circle cx="1420.7" cy="1229" r="6.1" fill="#ff2a0a"/>
<line x1="1439.8" y1="1115.4" x2="1439.8" y2="1296.8" stroke="#2e3192" stroke-width="2.4"/>
<line x1="1436.2" y1="1115.4" x2="1443.4" y2="1115.4" stroke="#2e3192" stroke-width="2.2"/>
<line x1="1436.2" y1="1296.8" x2="1443.4" y2="1296.8" stroke="#2e3192" stroke-width="2.2"/>
<line x1="1435.6" y1="1206.1" x2="1444" y2="1206.1" stroke="#2e3192" stroke-width="3.6"/>
<circle cx="1439.8" cy="1029.4" r="6.1" fill="#2e3192"/>
<circle cx="1439.8" cy="1163.9" r="6.1" fill="#2e3192"/>
<circle cx="1439.8" cy="1185.4" r="6.1" fill="#2e3192"/>
<circle cx="1436.8" cy="1247.7" r="6.1" fill="#2e3192"/>
<circle cx="1441.8" cy="1256.7" r="6.1" fill="#2e3192"/>
<circle cx="1438.8" cy="1261.5" r="6.1" fill="#2e3192"/>
<circle cx="1439.8" cy="1295.4" r="6.1" fill="#2e3192"/>
<circle cx="1447.4" cy="1307.5" r="6.1" fill="#ff2a0a"/>
<circle cx="1452.9" cy="1307.5" r="6.1" fill="#ff2a0a"/>
<circle cx="1449.9" cy="1309" r="6.1" fill="#ff2a0a"/>
<line x1="1471.6" y1="1116" x2="1471.6" y2="1255" stroke="#2e3192" stroke-width="2.4"/>
<line x1="1468" y1="1116" x2="1475.2" y2="1116" stroke="#2e3192" stroke-width="2.2"/>
<line x1="1468" y1="1255" x2="1475.2" y2="1255" stroke="#2e3192" stroke-width="2.2"/>
<line x1="1467.4" y1="1185.6" x2="1475.8" y2="1185.6" stroke="#2e3192" stroke-width="3.6"/>
<circle cx="1471.6" cy="1099.7" r="6.1" fill="#2e3192"/>
<circle cx="1471.6" cy="1115.9" r="6.1" fill="#2e3192"/>
<circle cx="1471.6" cy="1143.8" r="6.1" fill="#2e3192"/>
<circle cx="1471.6" cy="1170.2" r="6.1" fill="#2e3192"/>
<circle cx="1471.6" cy="1238.5" r="6.1" fill="#2e3192"/>
<circle cx="1471.6" cy="1257.9" r="6.1" fill="#2e3192"/>
<circle cx="1471.6" cy="1275.9" r="6.1" fill="#2e3192"/>
<circle cx="1479.2" cy="1303.5" r="6.1" fill="#ff2a0a"/>
<circle cx="1484.7" cy="1305.5" r="6.1" fill="#ff2a0a"/>
<circle cx="1481.7" cy="1304.4" r="6.1" fill="#ff2a0a"/>
<line x1="1503.3" y1="1227.3" x2="1503.3" y2="1271" stroke="#2e3192" stroke-width="2.4"/>
<line x1="1499.7" y1="1227.3" x2="1506.9" y2="1227.3" stroke="#2e3192" stroke-width="2.2"/>
<line x1="1499.7" y1="1271" x2="1506.9" y2="1271" stroke="#2e3192" stroke-width="2.2"/>
<line x1="1499.1" y1="1249" x2="1507.5" y2="1249" stroke="#2e3192" stroke-width="3.6"/>
<circle cx="1503.3" cy="1213.8" r="6.1" fill="#2e3192"/>
<circle cx="1499.8" cy="1238" r="6.1" fill="#2e3192"/>
<circle cx="1507.3" cy="1240.5" r="6.1" fill="#2e3192"/>
<circle cx="1500.8" cy="1250.4" r="6.1" fill="#2e3192"/>
<circle cx="1505.8" cy="1254.2" r="6.1" fill="#2e3192"/>
<circle cx="1500.8" cy="1268.6" r="6.1" fill="#2e3192"/>
<circle cx="1504.8" cy="1281.6" r="6.1" fill="#2e3192"/>
<circle cx="1513.4" cy="1270.4" r="6.1" fill="#ff2a0a"/>
<circle cx="1509.9" cy="1275.4" r="6.1" fill="#ff2a0a"/>
<circle cx="1516.9" cy="1283.6" r="6.1" fill="#ff2a0a"/>
<line x1="1535" y1="1188.6" x2="1535" y2="1263" stroke="#2e3192" stroke-width="2.4"/>
<line x1="1531.4" y1="1188.6" x2="1538.6" y2="1188.6" stroke="#2e3192" stroke-width="2.2"/>
<line x1="1531.4" y1="1263" x2="1538.6" y2="1263" stroke="#2e3192" stroke-width="2.2"/>
<line x1="1530.8" y1="1226" x2="1539.2" y2="1226" stroke="#2e3192" stroke-width="3.6"/>
<circle cx="1535" cy="1157.7" r="6.1" fill="#2e3192"/>
<circle cx="1532" cy="1208.1" r="6.1" fill="#2e3192"/>
<circle cx="1538" cy="1210.1" r="6.1" fill="#2e3192"/>
<circle cx="1535" cy="1235.5" r="6.1" fill="#2e3192"/>
<circle cx="1535" cy="1248" r="6.1" fill="#2e3192"/>
<circle cx="1532" cy="1259.2" r="6.1" fill="#2e3192"/>
<circle cx="1538" cy="1264.1" r="6.1" fill="#2e3192"/>
<circle cx="1542.1" cy="1307.8" r="6.1" fill="#ff2a0a"/>
<circle cx="1548.1" cy="1310.2" r="6.1" fill="#ff2a0a"/>
<circle cx="1545.1" cy="1309" r="6.1" fill="#ff2a0a"/>
<line x1="1566.7" y1="1234" x2="1566.7" y2="1266" stroke="#2e3192" stroke-width="2.4"/>
<line x1="1563.1" y1="1234" x2="1570.3" y2="1234" stroke="#2e3192" stroke-width="2.2"/>
<line x1="1563.1" y1="1266" x2="1570.3" y2="1266" stroke="#2e3192" stroke-width="2.2"/>
<line x1="1562.5" y1="1250" x2="1570.9" y2="1250" stroke="#2e3192" stroke-width="3.6"/>
<circle cx="1566.7" cy="1226.3" r="6.1" fill="#2e3192"/>
<circle cx="1563.2" cy="1241.7" r="6.1" fill="#2e3192"/>
<circle cx="1570.7" cy="1241.7" r="6.1" fill="#2e3192"/>
<circle cx="1563.2" cy="1251.7" r="6.1" fill="#2e3192"/>
<circle cx="1570.7" cy="1252.9" r="6.1" fill="#2e3192"/>
<circle cx="1563.2" cy="1264.1" r="6.1" fill="#2e3192"/>
<circle cx="1570.7" cy="1271.6" r="6.1" fill="#2e3192"/>
<circle cx="1576.8" cy="1291.6" r="6.1" fill="#ff2a0a"/>
<circle cx="1573.3" cy="1296.5" r="6.1" fill="#ff2a0a"/>
<circle cx="1579.3" cy="1306.5" r="6.1" fill="#ff2a0a"/>
<circle cx="1599.4" cy="1306.5" r="6.1" fill="#2e3192"/>
<circle cx="1596.9" cy="1311.5" r="6.1" fill="#2e3192"/>
<circle cx="1601.4" cy="1312.7" r="6.1" fill="#2e3192"/>
<circle cx="1598.4" cy="1317.7" r="6.1" fill="#2e3192"/>
<circle cx="1598.4" cy="1321.5" r="6.1" fill="#2e3192"/>
<line x1="1608.5" y1="1242" x2="1608.5" y2="1292" stroke="#ff2a0a" stroke-width="2.4"/>
<line x1="1604.9" y1="1242" x2="1612.1" y2="1242" stroke="#ff2a0a" stroke-width="2.2"/>
<line x1="1604.9" y1="1292" x2="1612.1" y2="1292" stroke="#ff2a0a" stroke-width="2.2"/>
<line x1="1604.3" y1="1267.1" x2="1612.7" y2="1267.1" stroke="#ff2a0a" stroke-width="3.6"/>
<circle cx="1608.5" cy="1238" r="6.1" fill="#ff2a0a"/>
<circle cx="1605" cy="1281.6" r="6.1" fill="#ff2a0a"/>
<circle cx="1612" cy="1282.8" r="6.1" fill="#ff2a0a"/>
<circle cx="1632.2" cy="1314" r="6.1" fill="#2e3192"/>
<circle cx="1628.7" cy="1318" r="6.1" fill="#2e3192"/>
<circle cx="1630.2" cy="1320" r="6.1" fill="#2e3192"/>
<line x1="1640.3" y1="1247" x2="1640.3" y2="1281" stroke="#ff2a0a" stroke-width="2.4"/>
<line x1="1636.7" y1="1247" x2="1643.9" y2="1247" stroke="#ff2a0a" stroke-width="2.2"/>
<line x1="1636.7" y1="1281" x2="1643.9" y2="1281" stroke="#ff2a0a" stroke-width="2.2"/>
<line x1="1636.1" y1="1262" x2="1644.5" y2="1262" stroke="#ff2a0a" stroke-width="3.6"/>
<circle cx="1640.3" cy="1246.9" r="6.1" fill="#ff2a0a"/>
<circle cx="1640.3" cy="1257.5" r="6.1" fill="#ff2a0a"/>
<circle cx="1640.3" cy="1282" r="6.1" fill="#ff2a0a"/>
<circle cx="1663.9" cy="1282.7" r="6.1" fill="#2e3192"/>
<circle cx="1660.9" cy="1290.3" r="6.1" fill="#2e3192"/>
<circle cx="1664.9" cy="1292.8" r="6.1" fill="#2e3192"/>
<circle cx="1660.9" cy="1300.4" r="6.1" fill="#2e3192"/>
<circle cx="1663.4" cy="1302.9" r="6.1" fill="#2e3192"/>
<line x1="1672" y1="1263" x2="1672" y2="1299" stroke="#ff2a0a" stroke-width="2.4"/>
<line x1="1668.4" y1="1263" x2="1675.6" y2="1263" stroke="#ff2a0a" stroke-width="2.2"/>
<line x1="1668.4" y1="1299" x2="1675.6" y2="1299" stroke="#ff2a0a" stroke-width="2.2"/>
<line x1="1667.8" y1="1277.7" x2="1676.2" y2="1277.7" stroke="#ff2a0a" stroke-width="3.6"/>
<circle cx="1670" cy="1262.5" r="6.1" fill="#ff2a0a"/>
<circle cx="1676" cy="1270.1" r="6.1" fill="#ff2a0a"/>
<circle cx="1672" cy="1300.4" r="6.1" fill="#ff2a0a"/>
<circle cx="1695.1" cy="1275.9" r="6.1" fill="#2e3192"/>
<circle cx="1693.1" cy="1285.2" r="6.1" fill="#2e3192"/>
<circle cx="1696.6" cy="1287.8" r="6.1" fill="#2e3192"/>
<circle cx="1694.1" cy="1297.9" r="6.1" fill="#2e3192"/>
<circle cx="1696.6" cy="1302.9" r="6.1" fill="#2e3192"/>
<circle cx="1694.1" cy="1316.8" r="6.1" fill="#2e3192"/>
<line x1="1703.7" y1="1295" x2="1703.7" y2="1315" stroke="#ff2a0a" stroke-width="2.4"/>
<line x1="1700.1" y1="1295" x2="1707.3" y2="1295" stroke="#ff2a0a" stroke-width="2.2"/>
<line x1="1700.1" y1="1315" x2="1707.3" y2="1315" stroke="#ff2a0a" stroke-width="2.2"/>
<line x1="1699.5" y1="1306.7" x2="1707.9" y2="1306.7" stroke="#ff2a0a" stroke-width="3.6"/>
<circle cx="1705.7" cy="1294.1" r="6.1" fill="#ff2a0a"/>
<circle cx="1702.2" cy="1311.7" r="6.1" fill="#ff2a0a"/>
<circle cx="1708.7" cy="1314.3" r="6.1" fill="#ff2a0a"/>
<circle cx="1723.3" cy="1317.5" r="6.1" fill="#2e3192"/>
<circle cx="1727.3" cy="1317.5" r="6.1" fill="#2e3192"/>
<line x1="1735.4" y1="1280" x2="1735.4" y2="1297" stroke="#ff2a0a" stroke-width="2.4"/>
<line x1="1731.8" y1="1280" x2="1739" y2="1280" stroke="#ff2a0a" stroke-width="2.2"/>
<line x1="1731.8" y1="1297" x2="1739" y2="1297" stroke="#ff2a0a" stroke-width="2.2"/>
<line x1="1731.2" y1="1286" x2="1739.6" y2="1286" stroke="#ff2a0a" stroke-width="3.6"/>
<circle cx="1734.4" cy="1278.9" r="6.1" fill="#ff2a0a"/>
<circle cx="1740.4" cy="1281.5" r="6.1" fill="#ff2a0a"/>
<circle cx="1736.9" cy="1297.4" r="6.1" fill="#ff2a0a"/>
<circle cx="1759" cy="1281.5" r="6.1" fill="#2e3192"/>
<circle cx="1761" cy="1292.8" r="6.1" fill="#2e3192"/>
<circle cx="1755" cy="1296.6" r="6.1" fill="#2e3192"/>
<circle cx="1759" cy="1305.4" r="6.1" fill="#2e3192"/>
<circle cx="1768.1" cy="1302.9" r="6.1" fill="#ff2a0a"/>
<circle cx="1770.6" cy="1309.2" r="6.1" fill="#ff2a0a"/>
<circle cx="1772.1" cy="1314.3" r="6.1" fill="#ff2a0a"/>
<circle cx="1786.8" cy="1317.5" r="6.1" fill="#2e3192"/>
<circle cx="1790.8" cy="1317.5" r="6.1" fill="#2e3192"/>
<circle cx="1797.4" cy="1289" r="6.1" fill="#ff2a0a"/>
<circle cx="1803.4" cy="1287.8" r="6.1" fill="#ff2a0a"/>
<circle cx="1800.4" cy="1290.3" r="6.1" fill="#ff2a0a"/>
<circle cx="1823" cy="1287.8" r="6.1" fill="#2e3192"/>
<circle cx="1820" cy="1306.7" r="6.1" fill="#2e3192"/>
<circle cx="1823.5" cy="1313" r="6.1" fill="#2e3192"/>
<line x1="1830.6" y1="1288" x2="1830.6" y2="1311" stroke="#ff2a0a" stroke-width="2.4"/>
<line x1="1827" y1="1288" x2="1834.2" y2="1288" stroke="#ff2a0a" stroke-width="2.2"/>
<line x1="1827" y1="1311" x2="1834.2" y2="1311" stroke="#ff2a0a" stroke-width="2.2"/>
<line x1="1826.4" y1="1300.4" x2="1834.8" y2="1300.4" stroke="#ff2a0a" stroke-width="3.6"/>
<circle cx="1833.1" cy="1287.8" r="6.1" fill="#ff2a0a"/>
<circle cx="1830.6" cy="1301.6" r="6.1" fill="#ff2a0a"/>
<circle cx="1835.6" cy="1311.7" r="6.1" fill="#ff2a0a"/>
<circle cx="1855.2" cy="1299.1" r="6.1" fill="#2e3192"/>
<circle cx="1851.2" cy="1306.7" r="6.1" fill="#2e3192"/>
<circle cx="1852.7" cy="1314.3" r="6.1" fill="#2e3192"/>
<line x1="1862.3" y1="1288" x2="1862.3" y2="1310" stroke="#ff2a0a" stroke-width="2.4"/>
<line x1="1858.7" y1="1288" x2="1865.9" y2="1288" stroke="#ff2a0a" stroke-width="2.2"/>
<line x1="1858.7" y1="1310" x2="1865.9" y2="1310" stroke="#ff2a0a" stroke-width="2.2"/>
<line x1="1858.1" y1="1301.7" x2="1866.5" y2="1301.7" stroke="#ff2a0a" stroke-width="3.6"/>
<circle cx="1864.8" cy="1287.8" r="6.1" fill="#ff2a0a"/>
<circle cx="1862.3" cy="1306.7" r="6.1" fill="#ff2a0a"/>
<circle cx="1867.3" cy="1310.5" r="6.1" fill="#ff2a0a"/>
<line x1="1883.9" y1="1293.3" x2="1883.9" y2="1318" stroke="#2e3192" stroke-width="2.4"/>
<line x1="1880.3" y1="1293.3" x2="1887.5" y2="1293.3" stroke="#2e3192" stroke-width="2.2"/>
<line x1="1880.3" y1="1318" x2="1887.5" y2="1318" stroke="#2e3192" stroke-width="2.2"/>
<line x1="1879.7" y1="1306" x2="1888.1" y2="1306" stroke="#2e3192" stroke-width="3.6"/>
<circle cx="1886.4" cy="1271.4" r="6.1" fill="#2e3192"/>
<circle cx="1882.9" cy="1317" r="6.1" fill="#2e3192"/>
<circle cx="1886.9" cy="1318.5" r="6.1" fill="#2e3192"/>
<circle cx="1884.9" cy="1319" r="6.1" fill="#2e3192"/>
<circle cx="1895" cy="1301.6" r="6.1" fill="#ff2a0a"/>
<circle cx="1899" cy="1302.9" r="6.1" fill="#ff2a0a"/>
<circle cx="1896.5" cy="1306.7" r="6.1" fill="#ff2a0a"/>
<circle cx="1913.6" cy="1317.5" r="6.1" fill="#2e3192"/>
<circle cx="1917.6" cy="1317.5" r="6.1" fill="#2e3192"/>
<line x1="1925.7" y1="1298" x2="1925.7" y2="1311" stroke="#ff2a0a" stroke-width="2.4"/>
<line x1="1922.1" y1="1298" x2="1929.3" y2="1298" stroke="#ff2a0a" stroke-width="2.2"/>
<line x1="1922.1" y1="1311" x2="1929.3" y2="1311" stroke="#ff2a0a" stroke-width="2.2"/>
<line x1="1921.5" y1="1304.8" x2="1929.9" y2="1304.8" stroke="#ff2a0a" stroke-width="3.6"/>
<circle cx="1929.7" cy="1297.4" r="6.1" fill="#ff2a0a"/>
<circle cx="1926.2" cy="1305.4" r="6.1" fill="#ff2a0a"/>
<circle cx="1932.7" cy="1311.7" r="6.1" fill="#ff2a0a"/>
<circle cx="1945.4" cy="1317.5" r="6.1" fill="#2e3192"/>
<circle cx="1949.4" cy="1317.5" r="6.1" fill="#2e3192"/>
<line x1="1957.5" y1="1286" x2="1957.5" y2="1313" stroke="#ff2a0a" stroke-width="2.4"/>
<line x1="1953.9" y1="1286" x2="1961.1" y2="1286" stroke="#ff2a0a" stroke-width="2.2"/>
<line x1="1953.9" y1="1313" x2="1961.1" y2="1313" stroke="#ff2a0a" stroke-width="2.2"/>
<line x1="1953.3" y1="1300.8" x2="1961.7" y2="1300.8" stroke="#ff2a0a" stroke-width="3.6"/>
<circle cx="1961.5" cy="1285.2" r="6.1" fill="#ff2a0a"/>
<circle cx="1958" cy="1304.2" r="6.1" fill="#ff2a0a"/>
<circle cx="1964.5" cy="1313" r="6.1" fill="#ff2a0a"/>
<line x1="1979.1" y1="1284" x2="1979.1" y2="1310" stroke="#2e3192" stroke-width="2.4"/>
<line x1="1975.5" y1="1284" x2="1982.7" y2="1284" stroke="#2e3192" stroke-width="2.2"/>
<line x1="1975.5" y1="1310" x2="1982.7" y2="1310" stroke="#2e3192" stroke-width="2.2"/>
<line x1="1974.9" y1="1297" x2="1983.3" y2="1297" stroke="#2e3192" stroke-width="3.6"/>
<circle cx="1981.6" cy="1266.3" r="6.1" fill="#2e3192"/>
<circle cx="1980.1" cy="1296.6" r="6.1" fill="#2e3192"/>
<circle cx="1979.1" cy="1305.4" r="6.1" fill="#2e3192"/>
<circle cx="1982.6" cy="1309.2" r="6.1" fill="#2e3192"/>
<circle cx="1992.2" cy="1309.2" r="6.1" fill="#ff2a0a"/>
<circle cx="1988.2" cy="1319.3" r="6.1" fill="#ff2a0a"/>
<circle cx="1995.7" cy="1319.3" r="6.1" fill="#ff2a0a"/>
<circle cx="2012.8" cy="1306.2" r="6.1" fill="#2e3192"/>
<circle cx="2008.8" cy="1308" r="6.1" fill="#2e3192"/>
<circle cx="2011.8" cy="1311.7" r="6.1" fill="#2e3192"/>
<circle cx="2020.9" cy="1313" r="6.1" fill="#ff2a0a"/>
<circle cx="2024.9" cy="1315.5" r="6.1" fill="#ff2a0a"/>
<circle cx="2022.9" cy="1317" r="6.1" fill="#ff2a0a"/>
<circle cx="2045" cy="1306.7" r="6.1" fill="#2e3192"/>
<circle cx="2041" cy="1310.5" r="6.1" fill="#2e3192"/>
<circle cx="2043.5" cy="1315.5" r="6.1" fill="#2e3192"/>
<circle cx="2053.6" cy="1315.5" r="6.1" fill="#ff2a0a"/>
<circle cx="2057.6" cy="1315.8" r="6.1" fill="#ff2a0a"/>
<circle cx="2055.6" cy="1317" r="6.1" fill="#ff2a0a"/>
<circle cx="2076.2" cy="1304.2" r="6.1" fill="#2e3192"/>
<circle cx="2074.2" cy="1311.7" r="6.1" fill="#2e3192"/>
<circle cx="2075.7" cy="1315.5" r="6.1" fill="#2e3192"/>
<circle cx="2085.3" cy="1314.3" r="6.1" fill="#ff2a0a"/>
<circle cx="2089.3" cy="1315.5" r="6.1" fill="#ff2a0a"/>
<circle cx="2087.3" cy="1317" r="6.1" fill="#ff2a0a"/>
<circle cx="2108.5" cy="1311.7" r="6.1" fill="#2e3192"/>
<circle cx="2106" cy="1318" r="6.1" fill="#2e3192"/>
<circle cx="2117.1" cy="1318.6" r="6.1" fill="#ff2a0a"/>
<circle cx="2121.1" cy="1318.6" r="6.1" fill="#ff2a0a"/>
<circle cx="2136.7" cy="1317.5" r="6.1" fill="#2e3192"/>
<circle cx="2139.7" cy="1317.5" r="6.1" fill="#2e3192"/>
<circle cx="2150.8" cy="1318.6" r="6.1" fill="#ff2a0a"/>
<circle cx="2154.8" cy="1318.6" r="6.1" fill="#ff2a0a"/>
<line x1="1210.4" y1="735.8" x2="1210.4" y2="1321.1" stroke="#000" stroke-width="4.2"/>
<line x1="1196.5" y1="1319" x2="2148" y2="1319" stroke="#000" stroke-width="4.2"/>
<line x1="1212" y1="1319" x2="2148" y2="1319" stroke="#000" stroke-width="5.4" stroke-dasharray="2.2 4.1" stroke-linecap="round"/>
<line x1="1196.5" y1="1319" x2="1210.4" y2="1319" stroke="#000" stroke-width="4.2"/>
<text x="1192.8" y="1325.6" font-size="28.4" text-anchor="end">0.0</text>
<line x1="1201.3" y1="1246.3" x2="1210.4" y2="1246.3" stroke="#000" stroke-width="3.8"/>
<line x1="1196.5" y1="1173.7" x2="1210.4" y2="1173.7" stroke="#000" stroke-width="4.2"/>
<text x="1192.8" y="1180.3" font-size="28.4" text-anchor="end">0.1</text>
<line x1="1201.3" y1="1101" x2="1210.4" y2="1101" stroke="#000" stroke-width="3.8"/>
<line x1="1196.5" y1="1028.4" x2="1210.4" y2="1028.4" stroke="#000" stroke-width="4.2"/>
<text x="1192.8" y="1035" font-size="28.4" text-anchor="end">0.2</text>
<line x1="1201.3" y1="955.8" x2="1210.4" y2="955.8" stroke="#000" stroke-width="3.8"/>
<line x1="1196.5" y1="883.1" x2="1210.4" y2="883.1" stroke="#000" stroke-width="4.2"/>
<text x="1192.8" y="889.7" font-size="28.4" text-anchor="end">0.3</text>
<line x1="1201.3" y1="810.4" x2="1210.4" y2="810.4" stroke="#000" stroke-width="3.8"/>
<line x1="1196.5" y1="737.8" x2="1210.4" y2="737.8" stroke="#000" stroke-width="4.2"/>
<text x="1192.8" y="744.4" font-size="28.4" text-anchor="end">0.4</text>
<line x1="1222.6" y1="1319" x2="1222.6" y2="1333" stroke="#000" stroke-width="4.2"/>
<line x1="1254.3" y1="1319" x2="1254.3" y2="1333" stroke="#000" stroke-width="4.2"/>
<line x1="1286" y1="1319" x2="1286" y2="1333" stroke="#000" stroke-width="4.2"/>
<line x1="1317.8" y1="1319" x2="1317.8" y2="1333" stroke="#000" stroke-width="4.2"/>
<line x1="1349.5" y1="1319" x2="1349.5" y2="1333" stroke="#000" stroke-width="4.2"/>
<line x1="1381.2" y1="1319" x2="1381.2" y2="1333" stroke="#000" stroke-width="4.2"/>
<line x1="1412.9" y1="1319" x2="1412.9" y2="1333" stroke="#000" stroke-width="4.2"/>
<line x1="1444.6" y1="1319" x2="1444.6" y2="1333" stroke="#000" stroke-width="4.2"/>
<line x1="1476.4" y1="1319" x2="1476.4" y2="1333" stroke="#000" stroke-width="4.2"/>
<line x1="1508.1" y1="1319" x2="1508.1" y2="1333" stroke="#000" stroke-width="4.2"/>
<line x1="1539.8" y1="1319" x2="1539.8" y2="1333" stroke="#000" stroke-width="4.2"/>
<line x1="1571.5" y1="1319" x2="1571.5" y2="1333" stroke="#000" stroke-width="4.2"/>
<line x1="1603.2" y1="1319" x2="1603.2" y2="1333" stroke="#000" stroke-width="4.2"/>
<line x1="1635" y1="1319" x2="1635" y2="1333" stroke="#000" stroke-width="4.2"/>
<line x1="1666.7" y1="1319" x2="1666.7" y2="1333" stroke="#000" stroke-width="4.2"/>
<line x1="1698.4" y1="1319" x2="1698.4" y2="1333" stroke="#000" stroke-width="4.2"/>
<line x1="1730.1" y1="1319" x2="1730.1" y2="1333" stroke="#000" stroke-width="4.2"/>
<line x1="1761.8" y1="1319" x2="1761.8" y2="1333" stroke="#000" stroke-width="4.2"/>
<line x1="1793.6" y1="1319" x2="1793.6" y2="1333" stroke="#000" stroke-width="4.2"/>
<line x1="1825.3" y1="1319" x2="1825.3" y2="1333" stroke="#000" stroke-width="4.2"/>
<line x1="1857" y1="1319" x2="1857" y2="1333" stroke="#000" stroke-width="4.2"/>
<line x1="1888.7" y1="1319" x2="1888.7" y2="1333" stroke="#000" stroke-width="4.2"/>
<line x1="1920.4" y1="1319" x2="1920.4" y2="1333" stroke="#000" stroke-width="4.2"/>
<line x1="1952.2" y1="1319" x2="1952.2" y2="1333" stroke="#000" stroke-width="4.2"/>
<line x1="1983.9" y1="1319" x2="1983.9" y2="1333" stroke="#000" stroke-width="4.2"/>
<line x1="2015.6" y1="1319" x2="2015.6" y2="1333" stroke="#000" stroke-width="4.2"/>
<line x1="2047.3" y1="1319" x2="2047.3" y2="1333" stroke="#000" stroke-width="4.2"/>
<line x1="2079" y1="1319" x2="2079" y2="1333" stroke="#000" stroke-width="4.2"/>
<line x1="2110.8" y1="1319" x2="2110.8" y2="1333" stroke="#000" stroke-width="4.2"/>
<line x1="2142.5" y1="1319" x2="2142.5" y2="1333" stroke="#000" stroke-width="4.2"/>
<circle cx="1218.3" cy="1300.3" r="6.1" fill="#2e3192"/>
<circle cx="1217.8" cy="1307.2" r="6.1" fill="#2e3192"/>
<circle cx="1218.8" cy="1310" r="6.1" fill="#2e3192"/>
<circle cx="1217.3" cy="1311.4" r="6.1" fill="#2e3192"/>
<circle cx="1250.5" cy="1300.3" r="6.1" fill="#2e3192"/>
<circle cx="1249.5" cy="1305.1" r="6.1" fill="#2e3192"/>
<circle cx="1248.5" cy="1308.6" r="6.1" fill="#2e3192"/>
<circle cx="1250.5" cy="1309" r="6.1" fill="#2e3192"/>
<circle cx="1288.3" cy="1310" r="6.1" fill="#ff2a0a"/>
<circle cx="1294.3" cy="1308.5" r="6.1" fill="#ff2a0a"/>
<circle cx="1291.3" cy="1313" r="6.1" fill="#ff2a0a"/>
<circle cx="1352.8" cy="1306" r="6.1" fill="#ff2a0a"/>
<circle cx="1357.8" cy="1305" r="6.1" fill="#ff2a0a"/>
<circle cx="1355.8" cy="1310" r="6.1" fill="#ff2a0a"/>
<circle cx="1406.1" cy="1319.7" r="6.1" fill="#2e3192"/>
<circle cx="1410.1" cy="1319.7" r="6.1" fill="#2e3192"/>
<circle cx="1408.1" cy="1320" r="6.1" fill="#2e3192"/>
<circle cx="1447.4" cy="1307.5" r="6.1" fill="#ff2a0a"/>
<circle cx="1452.9" cy="1307.5" r="6.1" fill="#ff2a0a"/>
<circle cx="1449.9" cy="1309" r="6.1" fill="#ff2a0a"/>
<circle cx="1479.2" cy="1303.5" r="6.1" fill="#ff2a0a"/>
<circle cx="1484.7" cy="1305.5" r="6.1" fill="#ff2a0a"/>
<circle cx="1481.7" cy="1304.4" r="6.1" fill="#ff2a0a"/>
<circle cx="1542.1" cy="1307.8" r="6.1" fill="#ff2a0a"/>
<circle cx="1548.1" cy="1310.2" r="6.1" fill="#ff2a0a"/>
<circle cx="1545.1" cy="1309" r="6.1" fill="#ff2a0a"/>
<circle cx="1579.3" cy="1306.5" r="6.1" fill="#ff2a0a"/>
<circle cx="1599.4" cy="1306.5" r="6.1" fill="#2e3192"/>
<circle cx="1596.9" cy="1311.5" r="6.1" fill="#2e3192"/>
<circle cx="1601.4" cy="1312.7" r="6.1" fill="#2e3192"/>
<circle cx="1598.4" cy="1317.7" r="6.1" fill="#2e3192"/>
<circle cx="1598.4" cy="1321.5" r="6.1" fill="#2e3192"/>
<circle cx="1632.2" cy="1314" r="6.1" fill="#2e3192"/>
<circle cx="1628.7" cy="1318" r="6.1" fill="#2e3192"/>
<circle cx="1630.2" cy="1320" r="6.1" fill="#2e3192"/>
<circle cx="1660.9" cy="1300.4" r="6.1" fill="#2e3192"/>
<circle cx="1663.4" cy="1302.9" r="6.1" fill="#2e3192"/>
<circle cx="1672" cy="1300.4" r="6.1" fill="#ff2a0a"/>
<circle cx="1696.6" cy="1302.9" r="6.1" fill="#2e3192"/>
<circle cx="1694.1" cy="1316.8" r="6.1" fill="#2e3192"/>
<circle cx="1702.2" cy="1311.7" r="6.1" fill="#ff2a0a"/>
<circle cx="1708.7" cy="1314.3" r="6.1" fill="#ff2a0a"/>
<circle cx="1723.3" cy="1317.5" r="6.1" fill="#2e3192"/>
<circle cx="1727.3" cy="1317.5" r="6.1" fill="#2e3192"/>
<circle cx="1759" cy="1305.4" r="6.1" fill="#2e3192"/>
<circle cx="1768.1" cy="1302.9" r="6.1" fill="#ff2a0a"/>
<circle cx="1770.6" cy="1309.2" r="6.1" fill="#ff2a0a"/>
<circle cx="1772.1" cy="1314.3" r="6.1" fill="#ff2a0a"/>
<circle cx="1786.8" cy="1317.5" r="6.1" fill="#2e3192"/>
<circle cx="1790.8" cy="1317.5" r="6.1" fill="#2e3192"/>
<circle cx="1820" cy="1306.7" r="6.1" fill="#2e3192"/>
<circle cx="1823.5" cy="1313" r="6.1" fill="#2e3192"/>
<circle cx="1830.6" cy="1301.6" r="6.1" fill="#ff2a0a"/>
<circle cx="1835.6" cy="1311.7" r="6.1" fill="#ff2a0a"/>
<circle cx="1851.2" cy="1306.7" r="6.1" fill="#2e3192"/>
<circle cx="1852.7" cy="1314.3" r="6.1" fill="#2e3192"/>
<circle cx="1862.3" cy="1306.7" r="6.1" fill="#ff2a0a"/>
<circle cx="1867.3" cy="1310.5" r="6.1" fill="#ff2a0a"/>
<circle cx="1882.9" cy="1317" r="6.1" fill="#2e3192"/>
<circle cx="1886.9" cy="1318.5" r="6.1" fill="#2e3192"/>
<circle cx="1884.9" cy="1319" r="6.1" fill="#2e3192"/>
<circle cx="1895" cy="1301.6" r="6.1" fill="#ff2a0a"/>
<circle cx="1899" cy="1302.9" r="6.1" fill="#ff2a0a"/>
<circle cx="1896.5" cy="1306.7" r="6.1" fill="#ff2a0a"/>
<circle cx="1913.6" cy="1317.5" r="6.1" fill="#2e3192"/>
<circle cx="1917.6" cy="1317.5" r="6.1" fill="#2e3192"/>
<circle cx="1926.2" cy="1305.4" r="6.1" fill="#ff2a0a"/>
<circle cx="1932.7" cy="1311.7" r="6.1" fill="#ff2a0a"/>
<circle cx="1945.4" cy="1317.5" r="6.1" fill="#2e3192"/>
<circle cx="1949.4" cy="1317.5" r="6.1" fill="#2e3192"/>
<circle cx="1958" cy="1304.2" r="6.1" fill="#ff2a0a"/>
<circle cx="1964.5" cy="1313" r="6.1" fill="#ff2a0a"/>
<circle cx="1979.1" cy="1305.4" r="6.1" fill="#2e3192"/>
<circle cx="1982.6" cy="1309.2" r="6.1" fill="#2e3192"/>
<circle cx="1992.2" cy="1309.2" r="6.1" fill="#ff2a0a"/>
<circle cx="1988.2" cy="1319.3" r="6.1" fill="#ff2a0a"/>
<circle cx="1995.7" cy="1319.3" r="6.1" fill="#ff2a0a"/>
<circle cx="2012.8" cy="1306.2" r="6.1" fill="#2e3192"/>
<circle cx="2008.8" cy="1308" r="6.1" fill="#2e3192"/>
<circle cx="2011.8" cy="1311.7" r="6.1" fill="#2e3192"/>
<circle cx="2020.9" cy="1313" r="6.1" fill="#ff2a0a"/>
<circle cx="2024.9" cy="1315.5" r="6.1" fill="#ff2a0a"/>
<circle cx="2022.9" cy="1317" r="6.1" fill="#ff2a0a"/>
<circle cx="2045" cy="1306.7" r="6.1" fill="#2e3192"/>
<circle cx="2041" cy="1310.5" r="6.1" fill="#2e3192"/>
<circle cx="2043.5" cy="1315.5" r="6.1" fill="#2e3192"/>
<circle cx="2053.6" cy="1315.5" r="6.1" fill="#ff2a0a"/>
<circle cx="2057.6" cy="1315.8" r="6.1" fill="#ff2a0a"/>
<circle cx="2055.6" cy="1317" r="6.1" fill="#ff2a0a"/>
<circle cx="2076.2" cy="1304.2" r="6.1" fill="#2e3192"/>
<circle cx="2074.2" cy="1311.7" r="6.1" fill="#2e3192"/>
<circle cx="2075.7" cy="1315.5" r="6.1" fill="#2e3192"/>
<circle cx="2085.3" cy="1314.3" r="6.1" fill="#ff2a0a"/>
<circle cx="2089.3" cy="1315.5" r="6.1" fill="#ff2a0a"/>
<circle cx="2087.3" cy="1317" r="6.1" fill="#ff2a0a"/>
<circle cx="2108.5" cy="1311.7" r="6.1" fill="#2e3192"/>
<circle cx="2106" cy="1318" r="6.1" fill="#2e3192"/>
<circle cx="2117.1" cy="1318.6" r="6.1" fill="#ff2a0a"/>
<circle cx="2121.1" cy="1318.6" r="6.1" fill="#ff2a0a"/>
<circle cx="2136.7" cy="1317.5" r="6.1" fill="#2e3192"/>
<circle cx="2139.7" cy="1317.5" r="6.1" fill="#2e3192"/>
<circle cx="2150.8" cy="1318.6" r="6.1" fill="#ff2a0a"/>
<circle cx="2154.8" cy="1318.6" r="6.1" fill="#ff2a0a"/>
<line x1="1215.8" y1="842.2" x2="1234.2" y2="842.2" stroke="#222" stroke-width="3.4"/>
<text x="1225.8" y="842.9" font-size="25" text-anchor="middle" letter-spacing="1.1" stroke="#000" stroke-width="0.5">****</text>
<line x1="1240.6" y1="1047" x2="1259" y2="1047" stroke="#222" stroke-width="3.4"/>
<text x="1250.6" y="1047.7" font-size="25" text-anchor="middle" letter-spacing="1.1" stroke="#000" stroke-width="0.5">****</text>
<line x1="1279.8" y1="869.8" x2="1298.2" y2="869.8" stroke="#222" stroke-width="3.4"/>
<text x="1289.8" y="870.5" font-size="25" text-anchor="middle" letter-spacing="1.1" stroke="#000" stroke-width="0.5">**</text>
<line x1="1310.5" y1="1099.2" x2="1328.9" y2="1099.2" stroke="#222" stroke-width="3.4"/>
<text x="1320.7" y="1092.9" font-size="28" text-anchor="middle">n.s.</text>
<line x1="1343" y1="910.7" x2="1361.5" y2="910.7" stroke="#222" stroke-width="3.4"/>
<text x="1353" y="911.4" font-size="25" text-anchor="middle" letter-spacing="1.1" stroke="#000" stroke-width="0.5">***</text>
<line x1="1374.6" y1="1191.9" x2="1393" y2="1191.9" stroke="#222" stroke-width="3.4"/>
<text x="1384.8" y="1185.6" font-size="28" text-anchor="middle">n.s.</text>
<line x1="1401.4" y1="1136.6" x2="1419.8" y2="1136.6" stroke="#222" stroke-width="3.4"/>
<text x="1411.4" y="1137.3" font-size="25" text-anchor="middle" letter-spacing="1.1" stroke="#000" stroke-width="0.5">****</text>
<line x1="1438" y1="1018" x2="1456.5" y2="1018" stroke="#222" stroke-width="3.4"/>
<text x="1448.2" y="1011.7" font-size="28" text-anchor="middle">n.s.</text>
<line x1="1469.9" y1="1088.5" x2="1488.3" y2="1088.5" stroke="#222" stroke-width="3.4"/>
<text x="1479.9" y="1089.2" font-size="25" text-anchor="middle" letter-spacing="1.1" stroke="#000" stroke-width="0.5">*</text>
<line x1="1501.7" y1="1200.6" x2="1520.1" y2="1200.6" stroke="#222" stroke-width="3.4"/>
<text x="1511.9" y="1194.3" font-size="28" text-anchor="middle">n.s.</text>
<line x1="1533.1" y1="1148.8" x2="1551.5" y2="1148.8" stroke="#222" stroke-width="3.4"/>
<text x="1543.1" y="1149.5" font-size="25" text-anchor="middle" letter-spacing="1.1" stroke="#000" stroke-width="0.5">**</text>
<line x1="1565.2" y1="1217.5" x2="1583.7" y2="1217.5" stroke="#222" stroke-width="3.4"/>
<text x="1575.2" y="1218.2" font-size="25" text-anchor="middle" letter-spacing="1.1" stroke="#000" stroke-width="0.5">**</text>
<line x1="1592.6" y1="1229.3" x2="1611" y2="1229.3" stroke="#222" stroke-width="3.4"/>
<text x="1602.6" y="1230" font-size="25" text-anchor="middle" letter-spacing="1.1" stroke="#000" stroke-width="0.5">***</text>
<line x1="1621.3" y1="1210.8" x2="1639.7" y2="1210.8" stroke="#222" stroke-width="3.4"/>
<text x="1631.3" y="1211.5" font-size="25" text-anchor="middle" letter-spacing="1.1" stroke="#000" stroke-width="0.5">****</text>
<line x1="1657.2" y1="1243.6" x2="1675.7" y2="1243.6" stroke="#222" stroke-width="3.4"/>
<text x="1667.5" y="1237.3" font-size="28" text-anchor="middle">n.s.</text>
<line x1="1691.3" y1="1267.6" x2="1709.7" y2="1267.6" stroke="#222" stroke-width="3.4"/>
<text x="1701.5" y="1261.3" font-size="28" text-anchor="middle">n.s.</text>
<line x1="1718" y1="1241.6" x2="1736.5" y2="1241.6" stroke="#222" stroke-width="3.4"/>
<text x="1728" y="1242.3" font-size="25" text-anchor="middle" letter-spacing="1.1" stroke="#000" stroke-width="0.5">****</text>
<line x1="1753.2" y1="1267.1" x2="1771.6" y2="1267.1" stroke="#222" stroke-width="3.4"/>
<text x="1763.2" y="1267.8" font-size="25" text-anchor="middle" letter-spacing="1.1" stroke="#000" stroke-width="0.5">*</text>
<line x1="1784.3" y1="1270.9" x2="1802.8" y2="1270.9" stroke="#222" stroke-width="3.4"/>
<text x="1794.3" y="1271.6" font-size="25" text-anchor="middle" letter-spacing="1.1" stroke="#000" stroke-width="0.5">****</text>
<line x1="1814.6" y1="1248.6" x2="1833" y2="1248.6" stroke="#222" stroke-width="3.4"/>
<text x="1824.8" y="1242.3" font-size="28" text-anchor="middle">n.s.</text>
<line x1="1847.8" y1="1223.4" x2="1866.2" y2="1223.4" stroke="#222" stroke-width="3.4"/>
<text x="1858" y="1217.1" font-size="28" text-anchor="middle">n.s.</text>
<line x1="1879.4" y1="1262.5" x2="1897.8" y2="1262.5" stroke="#222" stroke-width="3.4"/>
<text x="1889.6" y="1256.2" font-size="28" text-anchor="middle">n.s.</text>
<line x1="1912.7" y1="1286.5" x2="1931.1" y2="1286.5" stroke="#222" stroke-width="3.4"/>
<text x="1922.7" y="1287.2" font-size="25" text-anchor="middle" letter-spacing="1.1" stroke="#000" stroke-width="0.5">***</text>
<line x1="1941.1" y1="1273.9" x2="1959.5" y2="1273.9" stroke="#222" stroke-width="3.4"/>
<text x="1951.1" y="1274.6" font-size="25" text-anchor="middle" letter-spacing="1.1" stroke="#000" stroke-width="0.5">**</text>
<line x1="1976.1" y1="1256.7" x2="1994.5" y2="1256.7" stroke="#222" stroke-width="3.4"/>
<text x="1986.3" y="1250.4" font-size="28" text-anchor="middle">n.s.</text>
<line x1="2007.5" y1="1294.8" x2="2025.9" y2="1294.8" stroke="#222" stroke-width="3.4"/>
<text x="2017.5" y="1295.5" font-size="25" text-anchor="middle" letter-spacing="1.1" stroke="#000" stroke-width="0.5">**</text>
<line x1="2038.6" y1="1289.8" x2="2057" y2="1289.8" stroke="#222" stroke-width="3.4"/>
<text x="2048.7" y="1290.5" font-size="25" text-anchor="middle" letter-spacing="1.1" stroke="#000" stroke-width="0.5">*</text>
<line x1="2071.5" y1="1281" x2="2089.8" y2="1281" stroke="#222" stroke-width="3.4"/>
<text x="2081.7" y="1274.7" font-size="28" text-anchor="middle">n.s.</text>
<line x1="2105.3" y1="1300.4" x2="2123.7" y2="1300.4" stroke="#222" stroke-width="3.4"/>
<text x="2115.5" y="1294.1" font-size="28" text-anchor="middle">n.s.</text>
<line x1="2135.4" y1="1265.5" x2="2153.8" y2="1265.5" stroke="#222" stroke-width="3.4"/>
<text x="2145.6" y="1259.2" font-size="28" text-anchor="middle">n.s.</text>
<text x="1234.6" y="1350.5" font-size="26.2" text-anchor="end" transform="rotate(-60 1234.6 1350.5)">GATA6+_LCM_1</text>
<text x="1266.3" y="1350.5" font-size="26.2" text-anchor="end" transform="rotate(-60 1266.3 1350.5)">GATA6+_LCM_2</text>
<text x="1298" y="1350.5" font-size="26.2" text-anchor="end" transform="rotate(-60 1298 1350.5)">T cell_CD8_1</text>
<text x="1329.8" y="1350.5" font-size="26.2" text-anchor="end" transform="rotate(-60 1329.8 1350.5)">MNP_1</text>
<text x="1361.5" y="1350.5" font-size="26.2" text-anchor="end" transform="rotate(-60 1361.5 1350.5)">MNP_2</text>
<text x="1393.2" y="1350.5" font-size="26.2" text-anchor="end" transform="rotate(-60 1393.2 1350.5)">MNP_3</text>
<text x="1424.9" y="1350.5" font-size="26.2" text-anchor="end" transform="rotate(-60 1424.9 1350.5)">B cell_1</text>
<text x="1456.6" y="1350.5" font-size="26.2" text-anchor="end" transform="rotate(-60 1456.6 1350.5)">NK/NKT cell_1</text>
<text x="1488.4" y="1350.5" font-size="26.2" text-anchor="end" transform="rotate(-60 1488.4 1350.5)">DC2</text>
<text x="1520.1" y="1350.5" font-size="26.2" text-anchor="end" transform="rotate(-60 1520.1 1350.5)">MNP_4</text>
<text x="1551.8" y="1350.5" font-size="26.2" text-anchor="end" transform="rotate(-60 1551.8 1350.5)">T cell_CD4_1</text>
<text x="1583.5" y="1350.5" font-size="26.2" text-anchor="end" transform="rotate(-60 1583.5 1350.5)">MNP_5</text>
<text x="1615.2" y="1350.5" font-size="26.2" text-anchor="end" transform="rotate(-60 1615.2 1350.5)">MNP_6</text>
<text x="1647" y="1350.5" font-size="26.2" text-anchor="end" transform="rotate(-60 1647 1350.5)">GATA6+_LCM_3</text>
<text x="1678.7" y="1350.5" font-size="26.2" text-anchor="end" transform="rotate(-60 1678.7 1350.5)">GATA6+_LCM_4</text>
<text x="1710.4" y="1350.5" font-size="26.2" text-anchor="end" transform="rotate(-60 1710.4 1350.5)">T cell_CD4_2</text>
<text x="1742.1" y="1350.5" font-size="26.2" text-anchor="end" transform="rotate(-60 1742.1 1350.5)">B cell_2</text>
<text x="1773.8" y="1350.5" font-size="26.2" text-anchor="end" transform="rotate(-60 1773.8 1350.5)">NK/NKT-MNP</text>
<text x="1805.6" y="1350.5" font-size="26.2" text-anchor="end" transform="rotate(-60 1805.6 1350.5)">MNP_7</text>
<text x="1837.3" y="1350.5" font-size="26.2" text-anchor="end" transform="rotate(-60 1837.3 1350.5)">MNP_8</text>
<text x="1869" y="1350.5" font-size="26.2" text-anchor="end" transform="rotate(-60 1869 1350.5)">Proliferating_1</text>
<text x="1900.7" y="1350.5" font-size="26.2" text-anchor="end" transform="rotate(-60 1900.7 1350.5)">non_immune_1</text>
<text x="1932.4" y="1350.5" font-size="26.2" text-anchor="end" transform="rotate(-60 1932.4 1350.5)">Lymphocytes</text>
<text x="1964.2" y="1350.5" font-size="26.2" text-anchor="end" transform="rotate(-60 1964.2 1350.5)">Proliferating_2</text>
<text x="1995.9" y="1350.5" font-size="26.2" text-anchor="end" transform="rotate(-60 1995.9 1350.5)">T cell_CD8_1</text>
<text x="2027.6" y="1350.5" font-size="26.2" text-anchor="end" transform="rotate(-60 2027.6 1350.5)">MNP_9</text>
<text x="2059.3" y="1350.5" font-size="26.2" text-anchor="end" transform="rotate(-60 2059.3 1350.5)">cDC1</text>
<text x="2091" y="1350.5" font-size="26.2" text-anchor="end" transform="rotate(-60 2091 1350.5)">MNP_10</text>
<text x="2122.8" y="1350.5" font-size="26.2" text-anchor="end" transform="rotate(-60 2122.8 1350.5)">pDC</text>
<text x="2154.5" y="1350.5" font-size="26.2" text-anchor="end" transform="rotate(-60 2154.5 1350.5)">non_immune_2</text>
<text x="1137.5" y="1016" font-size="28.4" text-anchor="middle" transform="rotate(-90 1137.5 1016)">Proportion</text>
<circle cx="2006.5" cy="703.8" r="9.6" fill="#2e3192"/>
<circle cx="2006.5" cy="744" r="9.6" fill="#ff2a0a"/>
<text x="2050.5" y="714.5" font-size="29">Human</text>
<text x="2048.5" y="755" font-size="29.2">C57BL6</text>
</g>
<text x="1088.5" y="691" font-size="35.5">d</text>
<g id="leg">
<circle cx="1621.5" cy="12" r="9.8" fill="#FF0000"/>
<text x="1657.5" y="22.3" font-size="30">GATA6+_LCM_1</text>
<circle cx="1621.5" cy="49" r="9.8" fill="#FF7F00"/>
<text x="1657.5" y="59.3" font-size="30">GATA6+_LCM_2</text>
<circle cx="1621.5" cy="86.5" r="9.8" fill="#FFFF00"/>
<text x="1657.5" y="96.8" font-size="30">T cell_CD8_1</text>
<circle cx="1621.5" cy="124.5" r="9.8" fill="#7FFF00"/>
<text x="1657.5" y="134.8" font-size="30">MNP_1</text>
<circle cx="1621.5" cy="162" r="9.8" fill="#00FF00"/>
<text x="1657.5" y="172.3" font-size="30">MNP_2</text>
<circle cx="1621.5" cy="199.6" r="9.8" fill="#00F57A"/>
<text x="1657.5" y="209.9" font-size="30">MNP_3</text>
<circle cx="1621.5" cy="237.3" r="9.8" fill="#00FFFF"/>
<text x="1657.5" y="247.6" font-size="30">B cell_1</text>
<circle cx="1621.5" cy="270.8" r="9.8" fill="#007FFF"/>
<text x="1657.5" y="281.1" font-size="30">NK/NKT cell_1</text>
<circle cx="1621.5" cy="309.3" r="9.8" fill="#0000FF"/>
<text x="1657.5" y="319.6" font-size="30">DC2</text>
<circle cx="1621.5" cy="347.2" r="9.8" fill="#7F00FF"/>
<text x="1657.5" y="357.5" font-size="30">MNP_4</text>
<circle cx="1621.5" cy="384.7" r="9.8" fill="#FF00FF"/>
<text x="1657.5" y="395" font-size="30">T cell_CD4_1</text>
<circle cx="1621.5" cy="422.6" r="9.8" fill="#FF007F"/>
<text x="1657.5" y="432.9" font-size="30">MNP_5</text>
<circle cx="1621.5" cy="460.5" r="9.8" fill="#474747"/>
<text x="1657.5" y="470.8" font-size="30">MNP_6</text>
<circle cx="1621.5" cy="498.5" r="9.8" fill="#8B4500"/>
<text x="1657.5" y="508.8" font-size="30">GATA6+_LCM_3</text>
<circle cx="1621.5" cy="535" r="9.8" fill="#8B8B00"/>
<text x="1657.5" y="545.3" font-size="30">GATA6+_LCM_4</text>
<circle cx="1920.5" cy="12" r="9.8" fill="#458B00"/>
<text x="1958" y="22.3" font-size="30">T cell_CD4_2</text>
<circle cx="1920.5" cy="51" r="9.8" fill="#008B00"/>
<text x="1958" y="61.3" font-size="30">B cell_2</text>
<circle cx="1920.5" cy="89" r="9.8" fill="#008B45"/>
<text x="1958" y="99.3" font-size="30">NK/NKT-MNP</text>
<circle cx="1920.5" cy="127.4" r="9.8" fill="#008B8B"/>
<text x="1958" y="137.7" font-size="30">MNP_7</text>
<circle cx="1920.5" cy="166" r="9.8" fill="#00458B"/>
<text x="1958" y="176.3" font-size="30">MNP_8</text>
<circle cx="1920.5" cy="204.6" r="9.8" fill="#00008B"/>
<text x="1958" y="214.9" font-size="30">Proliferating_1</text>
<circle cx="1920.5" cy="243.3" r="9.8" fill="#45008B"/>
<text x="1958" y="253.6" font-size="30">non_immune_1</text>
<circle cx="1920.5" cy="281.3" r="9.8" fill="#8B008B"/>
<text x="1958" y="291.6" font-size="30">Lymphocytes</text>
<circle cx="1920.5" cy="320.6" r="9.8" fill="#8B0045"/>
<text x="1958" y="330.9" font-size="30">Proliferating_2</text>
<circle cx="1920.5" cy="358.5" r="9.8" fill="#8B0000"/>
<text x="1958" y="368.8" font-size="30">T cell_CD8_1</text>
<circle cx="1920.5" cy="397.7" r="9.8" fill="#8B4545"/>
<text x="1958" y="408" font-size="30">MNP_9</text>
<circle cx="1920.5" cy="435.7" r="9.8" fill="#458B45"/>
<text x="1958" y="446" font-size="30">cDC1</text>
<circle cx="1920.5" cy="474" r="9.8" fill="#45458B"/>
<text x="1958" y="484.3" font-size="30">MNP_10</text>
<circle cx="1920.5" cy="512.9" r="9.8" fill="#4545DD"/>
<text x="1958" y="523.2" font-size="30">pDC</text>
<circle cx="1920.5" cy="546.9" r="9.8" fill="#474747"/>
<text x="1958" y="557.2" font-size="30">non_immune_2</text>
</g>
</svg>
</body></html>
